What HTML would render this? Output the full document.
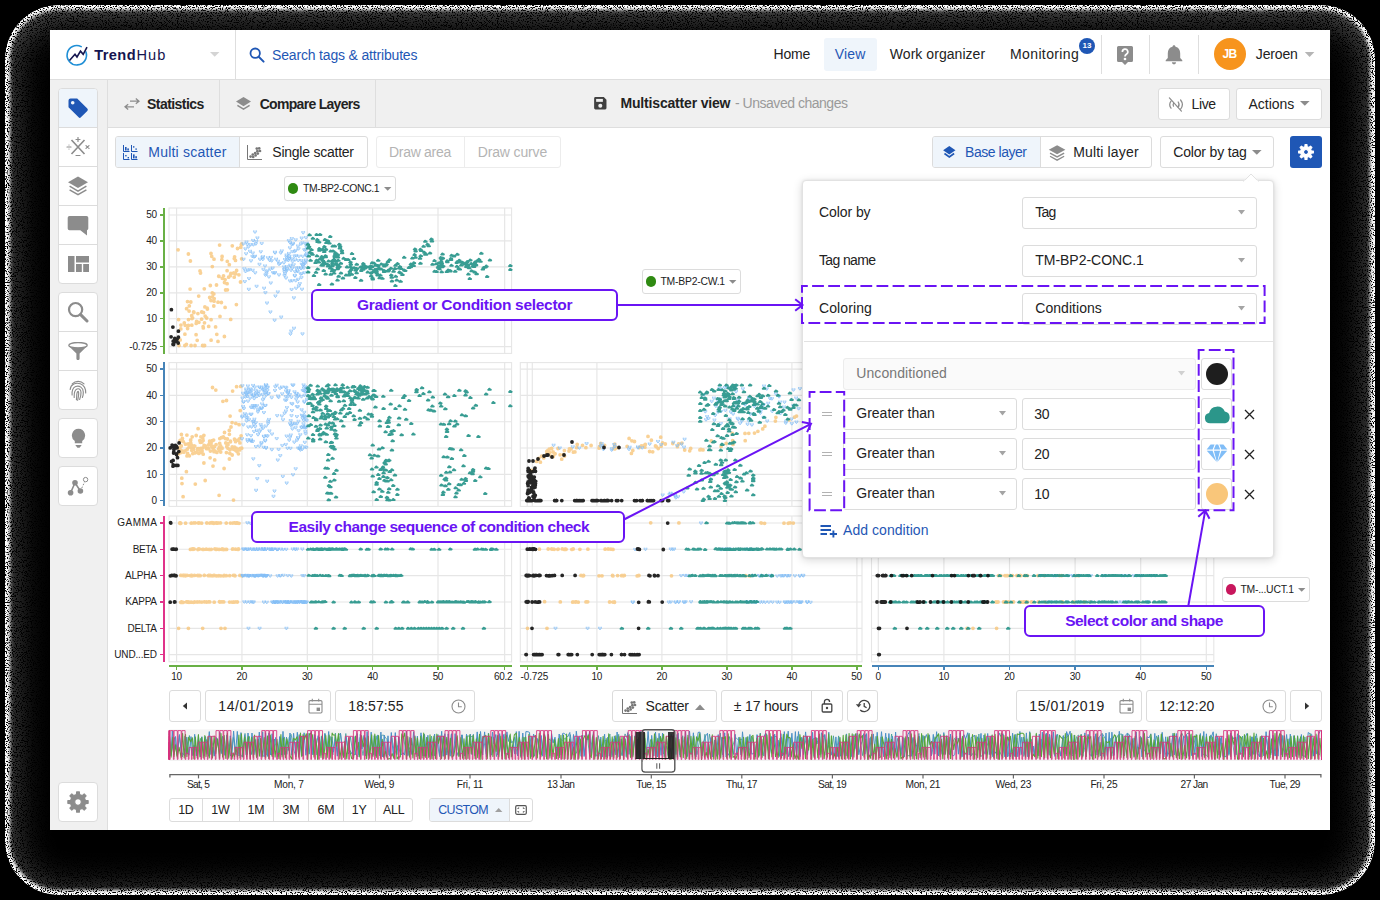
<!DOCTYPE html>
<html><head><meta charset="utf-8"><title>TrendHub</title>
<style>
html,body{margin:0;padding:0;background:#000;}
body{width:1380px;height:900px;overflow:hidden;position:relative;font-family:"Liberation Sans", sans-serif;}
div,span,svg{position:absolute;box-sizing:border-box;}
span{white-space:nowrap;line-height:20px;}
.b{background:#fff;border:1px solid #dcdcdc;border-radius:3px;}
</style></head>
<body>
<svg width="0" height="0" style="left:0;top:0"><defs>
<filter id="dith" x="0" y="0" width="100%" height="100%" color-interpolation-filters="sRGB">
<feTurbulence type="fractalNoise" baseFrequency="0.8" numOctaves="2" seed="7" result="n"/>
<feColorMatrix in="n" type="matrix" values="9 0 0 0 -3.3  9 0 0 0 -3.3  9 0 0 0 -3.3  0 0 0 0 1" result="g"/>
<feComposite in="SourceGraphic" in2="g" operator="arithmetic" k1="1" k2="0" k3="0" k4="0"/>
</filter></defs></svg>
<div style="left:5px;top:5px;width:1370px;height:890px;border-radius:54px;background:#000;overflow:hidden;filter:url(#dith);"><div style="left:0;top:0;width:1370px;height:890px;border-radius:54px;box-shadow:inset 0 0 3.5px 5px rgba(255,255,255,1), inset 0 5px 40px 2px rgba(255,255,255,.46);"></div></div>
<div style="left:50px;top:30px;width:1280px;height:800px;background:#fff;"></div>
<div style="left:50px;top:79px;width:1280px;height:1px;background:#dedede;"></div>
<svg style="left:64px;top:42px" width="28" height="26" viewBox="0 0 28 26">
<path d="M21.9 9.9 A9.7 9.7 0 1 1 17.2 4.6" fill="none" stroke="#1f8fd6" stroke-width="1.6" stroke-linecap="round"/>
<path d="M5.5 18.5 L11 12.3 L13 15 L16.5 9.2 L19.2 12.3 L23 5.1" fill="none" stroke="#15154f" stroke-width="1.6" stroke-linejoin="miter"/>
</svg>
<span style="left:94.30px;top:45.17px;font-size:14.6px;color:#15154f;font-weight:700;letter-spacing:0.391px;">Trend</span>
<span style="left:136.40px;top:45.17px;font-size:14.6px;color:#15154f;letter-spacing:1.109px;">Hub</span>
<svg style="left:210.2px;top:52.2px" width="10" height="5"><path d="M0 0 L9.4 0 L4.7 4.8 Z" fill="#d4d4d4"/></svg>
<div style="left:235px;top:30px;width:1px;height:49px;background:#dedede;"></div>
<svg style="left:248px;top:46px" width="18" height="18" viewBox="0 0 18 18"><circle cx="7.2" cy="7.2" r="4.7" fill="none" stroke="#1f57b5" stroke-width="1.8"/><path d="M10.7 10.7 L15.6 15.6" stroke="#1f57b5" stroke-width="2" stroke-linecap="round"/></svg>
<span style="left:272.00px;top:45.16px;font-size:14px;color:#1f57b5;letter-spacing:-0.171px;">Search tags &amp; attributes</span>
<span style="left:773.50px;top:44.16px;font-size:14px;color:#222;letter-spacing:-0.186px;">Home</span>
<div style="left:824px;top:38px;width:52.5px;height:32.5px;background:#eff5fb;border-radius:3px;"></div>
<span style="left:834.70px;top:44.16px;font-size:14px;color:#1f57b5;letter-spacing:0.202px;">View</span>
<span style="left:889.80px;top:44.16px;font-size:14px;color:#222;letter-spacing:0.048px;">Work organizer</span>
<span style="left:1010.00px;top:44.16px;font-size:14px;color:#222;letter-spacing:0.381px;">Monitoring</span>
<div style="left:1079px;top:37.5px;width:16px;height:16px;background:#1f57b5;border-radius:8px;"></div>
<span style="left:1082.60px;top:35.69px;font-size:8px;color:#fff;font-weight:700;letter-spacing:-0.106px;">13</span>
<div style="left:1101px;top:34.5px;width:1px;height:39px;background:#dedede;"></div>
<div style="left:1149px;top:34.5px;width:1px;height:39px;background:#dedede;"></div>
<div style="left:1198px;top:34.5px;width:1px;height:39px;background:#dedede;"></div>
<svg style="left:1116px;top:45px" width="18" height="21" viewBox="0 0 18 21"><path d="M2.5 1 H15.5 A1.5 1.5 0 0 1 17 2.5 V15.5 A1.5 1.5 0 0 1 15.5 17 H12 L9 20 L6 17 H2.5 A1.5 1.5 0 0 1 1 15.5 V2.5 A1.5 1.5 0 0 1 2.5 1 Z" fill="#8c8c8c"/>
<path d="M6.4 7 A2.7 2.7 0 1 1 10.4 9.2 C9.4 9.9 9 10.3 9 11.4" fill="none" stroke="#fff" stroke-width="1.7"/><circle cx="9" cy="14" r="1.35" fill="#fff"/></svg>
<svg style="left:1164px;top:44px" width="20" height="22" viewBox="0 0 20 22"><path d="M10 1.2 C10.9 1.2 11.5 1.8 11.5 2.7 C14.6 3.4 16.2 6 16.2 9.2 V14 L18.3 16.2 V17.2 H1.7 V16.2 L3.8 14 V9.2 C3.8 6 5.4 3.4 8.5 2.7 C8.5 1.8 9.1 1.2 10 1.2 Z" fill="#8c8c8c"/><path d="M7.9 18.3 H12.1 A2.1 2.1 0 0 1 7.9 18.3 Z" fill="#8c8c8c"/></svg>
<div style="left:1213.5px;top:38px;width:32px;height:32px;background:#f7941d;border-radius:16px;"></div>
<span style="left:1222.40px;top:44.44px;font-size:12px;color:#fff;font-weight:700;letter-spacing:-0.544px;">JB</span>
<span style="left:1255.80px;top:44.16px;font-size:14px;color:#222;letter-spacing:-0.163px;">Jeroen</span>
<svg style="left:1304px;top:52px" width="11" height="6"><path d="M0.8 0 L10.4 0 L5.6 5 Z" fill="#b5b5b5"/></svg>
<div style="left:50px;top:80px;width:57px;height:750px;background:#f0f0f0;"></div>
<div style="left:107px;top:80px;width:1px;height:750px;background:#dedede;"></div>
<div style="left:58px;top:88px;width:40px;height:196px;background:#fff;border:1px solid #dcdcdc;border-radius:4px;"></div>
<div style="left:59px;top:127px;width:38px;height:1px;background:#dcdcdc;"></div>
<div style="left:59px;top:166px;width:38px;height:1px;background:#dcdcdc;"></div>
<div style="left:59px;top:205px;width:38px;height:1px;background:#dcdcdc;"></div>
<div style="left:59px;top:244px;width:38px;height:1px;background:#dcdcdc;"></div>
<div style="left:58px;top:292px;width:40px;height:118px;background:#fff;border:1px solid #dcdcdc;border-radius:4px;"></div>
<div style="left:59px;top:331px;width:38px;height:1px;background:#dcdcdc;"></div>
<div style="left:59px;top:370px;width:38px;height:1px;background:#dcdcdc;"></div>
<div style="left:58px;top:418px;width:40px;height:40px;background:#fff;border:1px solid #dcdcdc;border-radius:4px;"></div>
<div style="left:58px;top:466px;width:40px;height:40px;background:#fff;border:1px solid #dcdcdc;border-radius:4px;"></div>
<div style="left:58px;top:782px;width:40px;height:40px;background:#fff;border:1px solid #dcdcdc;border-radius:4px;"></div>
<div style="left:59px;top:89px;width:38px;height:38px;background:#eff5fb;border-radius:3px 3px 0 0;"></div>
<svg style="left:67px;top:97px" width="22" height="22" viewBox="0 0 22 22"><path d="M1.5 3.5 A2 2 0 0 1 3.5 1.5 H10.2 L20.3 11.6 A1.6 1.6 0 0 1 20.3 13.9 L13.9 20.3 A1.6 1.6 0 0 1 11.6 20.3 L1.5 10.2 Z" fill="#1f57b5"/><circle cx="5.7" cy="5.7" r="1.8" fill="#eff5fb"/></svg>
<svg style="left:66px;top:137px" width="24" height="20" viewBox="0 0 24 20"><path d="M5.5 3 L18.5 17 M18.5 3 L5.5 17" stroke="#8c8c8c" stroke-width="1.6"/><path d="M12 0.5 V4.5 M10 2.5 H14 M10 18.5 H14 M1 10 H5 M3 8 v0.01 M3 12 v0.01 M20 8.6 L23 11.4 M23 8.6 L20 11.4" stroke="#8c8c8c" stroke-width="1.2" stroke-linecap="round"/></svg>
<svg style="left:67px;top:175px" width="22" height="22" viewBox="0 0 22 22"><path d="M11 1.5 L21 7.3 L11 13.1 L1 7.3 Z" fill="#8c8c8c"/><path d="M2.6 11.2 L11 16.1 L19.4 11.2 M2.6 14.8 L11 19.7 L19.4 14.8" fill="none" stroke="#8c8c8c" stroke-width="1.5"/></svg>
<svg style="left:67px;top:215px" width="22" height="21" viewBox="0 0 22 21"><path d="M2.5 1 H19.5 A1.8 1.8 0 0 1 21.3 2.8 V13.5 A1.8 1.8 0 0 1 20 15.2 V20.5 L13.3 15.3 H2.5 A1.8 1.8 0 0 1 0.7 13.5 V2.8 A1.8 1.8 0 0 1 2.5 1 Z" fill="#8c8c8c"/></svg>
<svg style="left:67.5px;top:256px" width="21" height="16" viewBox="0 0 21 16"><rect x="0" y="0" width="6.5" height="16" fill="#8c8c8c"/><rect x="8" y="0" width="13" height="6.5" fill="#8c8c8c"/><rect x="8" y="8" width="5.8" height="8" fill="#8c8c8c"/><rect x="15.2" y="8" width="5.8" height="8" fill="#8c8c8c"/></svg>
<svg style="left:67px;top:301px" width="22" height="22" viewBox="0 0 22 22"><circle cx="8.6" cy="8.6" r="6.6" fill="none" stroke="#8c8c8c" stroke-width="2.2"/><path d="M13.6 13.6 L20 20" stroke="#8c8c8c" stroke-width="3" stroke-linecap="round"/></svg>
<svg style="left:68px;top:342px" width="20" height="18" viewBox="0 0 20 18"><ellipse cx="10" cy="3.2" rx="9.2" ry="2.7" fill="none" stroke="#8c8c8c" stroke-width="1.3"/><path d="M1 4.2 C3 6.2 17 6.2 19 4.2 L11.6 11.5 V16.5 A1.6 1.6 0 0 1 8.4 16.5 V11.5 Z" fill="#8c8c8c"/></svg>
<svg style="left:69px;top:379.5px" width="18" height="21" viewBox="0 0 18 21"><g fill="none" stroke="#8c8c8c" stroke-width="1.15" stroke-linecap="round"><path d="M3.2 3.8 C6.5 0.6 11.8 0.6 15 3.9"/><path d="M1.2 9.5 C1.6 4.2 7 2.2 11.3 3.8 C15.3 5.4 16.8 9.2 16.7 13"/><path d="M3.1 15 C2.9 12.2 2.6 8.2 6.6 6.5 C10.5 5.1 14.2 7.8 14.3 12 C14.4 14.5 14 16 13.4 17.4"/><path d="M5.2 17.5 C5.2 14.3 4.6 10.4 8 9 C10.8 8.1 12 10.3 12 12.5 C12 15.3 11.7 17.3 10.6 19.4"/><path d="M7.4 19.8 C8 16.8 7.2 12.6 8.8 11.5 C10 11 9.7 14.5 9.4 16.5 C9.2 18 8.9 19.3 8.6 20.3"/></g></svg>
<svg style="left:70.5px;top:427.5px" width="15" height="21" viewBox="0 0 15 21"><path d="M7.5 0.8 A6.7 6.7 0 0 1 11.2 13 V15.2 H3.8 V13 A6.7 6.7 0 0 1 7.5 0.8 Z" fill="#8c8c8c"/><path d="M4.3 17 H10.7 L8.6 19.8 H6.4 Z" fill="#8c8c8c"/></svg>
<svg style="left:67px;top:476px" width="22" height="20" viewBox="0 0 22 20"><g stroke="#8c8c8c" fill="#8c8c8c"><path d="M3.6 16.7 L8 6.8 L13.4 15" fill="none" stroke-width="1.6"/><path d="M13.4 15 L17.6 6" fill="none" stroke-width="1" stroke-dasharray="1.6 1.6"/><circle cx="3.6" cy="16.7" r="2.8" stroke="none"/><circle cx="8" cy="6.8" r="2.8" stroke="none"/><circle cx="13.4" cy="15" r="2.8" stroke="none"/><circle cx="18.6" cy="3.6" r="2.2" fill="#fff" stroke-width="1"/></g></svg>
<svg style="left:66px;top:790px" width="24" height="24" viewBox="0 0 24 24"><path d="M10.44 4.56 L10.66 1.89 L13.34 1.89 L13.56 4.56 L16.16 5.64 L18.20 3.90 L20.10 5.80 L18.36 7.84 L19.44 10.44 L22.11 10.66 L22.11 13.34 L19.44 13.56 L18.36 16.16 L20.10 18.20 L18.20 20.10 L16.16 18.36 L13.56 19.44 L13.34 22.11 L10.66 22.11 L10.44 19.44 L7.84 18.36 L5.80 20.10 L3.90 18.20 L5.64 16.16 L4.56 13.56 L1.89 13.34 L1.89 10.66 L4.56 10.44 L5.64 7.84 L3.90 5.80 L5.80 3.90 L7.84 5.64 Z M8.70 12.00 a3.3 3.3 0 1 0 6.6 0 a3.3 3.3 0 1 0 -6.6 0 Z" fill="#8c8c8c" fill-rule="evenodd" stroke="#8c8c8c" stroke-width="1.2" stroke-linejoin="round"/></svg>
<div style="left:108px;top:80px;width:1222px;height:47px;background:#f0f0f0;"></div>
<div style="left:108px;top:127px;width:1222px;height:1px;background:#dedede;"></div>
<div style="left:219px;top:80px;width:1px;height:47px;background:#dedede;"></div>
<div style="left:375px;top:80px;width:1px;height:47px;background:#dedede;"></div>
<svg style="left:123.5px;top:98px" width="16" height="12" viewBox="0 0 16 12"><g fill="none" stroke="#8c8c8c" stroke-width="1.3"><path d="M6 3.2 H15 M11.8 0.6 L15 3.2 L11.8 5.8"/><path d="M10 8.8 H1 M4.2 6.2 L1 8.8 L4.2 11.4"/></g></svg>
<span style="left:147.00px;top:94.16px;font-size:14px;color:#222;font-weight:700;letter-spacing:-0.550px;">Statistics</span>
<svg style="left:234.5px;top:95.5px" width="17" height="17" viewBox="0 0 17 17"><path d="M8.5 1 L16 5.6 L8.5 10.2 L1 5.6 Z" fill="#8c8c8c"/><path d="M2.4 9.3 L8.5 13.1 L14.6 9.3" fill="none" stroke="#8c8c8c" stroke-width="1.5"/></svg>
<span style="left:259.70px;top:94.16px;font-size:14px;color:#222;font-weight:700;letter-spacing:-0.701px;">Compare Layers</span>
<svg style="left:593px;top:96.2px" width="14.6" height="14.6" viewBox="0 0 13 13"><path d="M1 2.2 A1.2 1.2 0 0 1 2.2 1 H9.6 L12 3.4 V10.8 A1.2 1.2 0 0 1 10.8 12 H2.2 A1.2 1.2 0 0 1 1 10.8 Z" fill="#404040"/><rect x="2.8" y="2.6" width="6" height="2.6" fill="#f0f0f0"/><circle cx="6.5" cy="8.6" r="1.8" fill="#f0f0f0"/></svg>
<span style="left:620.50px;top:93.46px;font-size:14px;color:#222;font-weight:700;letter-spacing:-0.177px;">Multiscatter view</span>
<span style="left:735.00px;top:93.46px;font-size:14px;color:#9a9a9a;letter-spacing:-0.478px;">- Unsaved changes</span>
<div style="left:1158px;top:88px;width:72px;height:32px;background:#fff;border:1px solid #dcdcdc;border-radius:3px;"></div>
<svg style="left:1167.6px;top:96.5px" width="16" height="15" viewBox="0 0 16 15"><g fill="none" stroke="#8c8c8c" stroke-width="1.25" stroke-linecap="round"><path d="M1.4 0.9 L13.4 14.1"/><path d="M3 4.2 C1.4 6.4 1.4 9 3 11.2"/><path d="M5.6 6.4 C5 7.3 5 8.4 5.5 9.2"/><path d="M10.2 5 C11.3 6.6 11.3 8.6 10.2 10.2"/><path d="M12.6 3 C14.8 5.8 14.8 9.4 12.6 12.2"/></g></svg>
<span style="left:1191.60px;top:94.46px;font-size:14px;color:#222;letter-spacing:-0.429px;">Live</span>
<div style="left:1236px;top:88px;width:86px;height:32px;background:#fff;border:1px solid #dcdcdc;border-radius:3px;"></div>
<span style="left:1248.50px;top:94.46px;font-size:14px;color:#222;letter-spacing:-0.020px;">Actions</span>
<svg style="left:1300.3px;top:101px" width="10" height="5"><path d="M0 0 L9.6 0 L4.8 4.8 Z" fill="#8c8c8c"/></svg>
<div style="left:115px;top:136px;width:252.5px;height:32px;background:#fff;border:1px solid #dcdcdc;border-radius:3px;"></div>
<div style="left:116px;top:137px;width:123px;height:30px;background:#eff5fb;border-radius:2px 0 0 2px;"></div>
<div style="left:239px;top:137px;width:1px;height:30px;background:#dcdcdc;"></div>
<svg style="left:123px;top:144.5px" width="15" height="15" viewBox="0 0 15 15"><g stroke="#1f57b5" fill="#1f57b5"><path d="M0.5 0 V6.5 H6.5 M8.5 0 V6.5 H14.5 M0.5 8 V14.5 H6.5 M8.5 8 V14.5 H14.5" fill="none" stroke-width="1"/><rect x="2" y="2" width="1.6" height="3.5" stroke="none"/><rect x="4.3" y="3.4" width="1.6" height="2.1" stroke="none"/><rect x="10" y="1.2" width="1.4" height="1.4" stroke="none"/><rect x="12.4" y="3.4" width="1.4" height="1.4" stroke="none"/><rect x="2.2" y="10" width="1.4" height="1.4" stroke="none"/><rect x="4.6" y="12" width="1.4" height="1.4" stroke="none"/><rect x="10" y="9.4" width="1.6" height="4" stroke="none"/><rect x="12.3" y="11.2" width="1.6" height="2.2" stroke="none"/></g></svg>
<span style="left:148.30px;top:141.96px;font-size:14px;color:#1f57b5;letter-spacing:0.211px;">Multi scatter</span>
<svg style="left:246.5px;top:144.5px" width="15" height="15" viewBox="0 0 15 15"><g fill="#777"><path d="M0.5 0 V14.5 H15" fill="none" stroke="#777" stroke-width="1"/><circle cx="3.6" cy="11.6" r="1.35"/><circle cx="5.8" cy="9.6" r="1.35"/><circle cx="6.2" cy="12" r="1.35"/><circle cx="8.2" cy="8" r="1.35"/><circle cx="8.6" cy="10.4" r="1.35"/><circle cx="10.4" cy="6.2" r="1.35"/><circle cx="10.8" cy="8.6" r="1.35"/><circle cx="12.2" cy="3.4" r="1.35"/><circle cx="13" cy="6" r="1.35"/><circle cx="9.8" cy="3.6" r="1.35"/></g></svg>
<span style="left:272.30px;top:141.96px;font-size:14px;color:#222;letter-spacing:-0.241px;">Single scatter</span>
<div style="left:376px;top:136px;width:184.5px;height:32px;background:#fff;border:1px solid #ececec;border-radius:3px;"></div>
<div style="left:464px;top:137px;width:1px;height:30px;background:#ececec;"></div>
<span style="left:389.00px;top:141.96px;font-size:14px;color:#b4b4b4;letter-spacing:-0.287px;">Draw area</span>
<span style="left:477.70px;top:141.96px;font-size:14px;color:#b4b4b4;letter-spacing:-0.144px;">Draw curve</span>
<div style="left:932px;top:136px;width:220px;height:32px;background:#fff;border:1px solid #dcdcdc;border-radius:3px;"></div>
<div style="left:933px;top:137px;width:107px;height:30px;background:#eff5fb;border-radius:2px 0 0 2px;"></div>
<div style="left:1040px;top:137px;width:1px;height:30px;background:#dcdcdc;"></div>
<svg style="left:942.3px;top:145.3px" width="14.6" height="14.6" viewBox="0 0 13 13"><path d="M6.5 0.8 L12 4.6 L6.5 8.4 L1 4.6 Z" fill="#1f57b5"/><path d="M2.2 7.6 L6.5 10.6 L10.8 7.6" fill="none" stroke="#1f57b5" stroke-width="1.5"/></svg>
<span style="left:965.00px;top:141.96px;font-size:14px;color:#1f57b5;letter-spacing:-0.462px;">Base layer</span>
<svg style="left:1047.9px;top:143.7px" width="18.2" height="18.2" viewBox="0 0 16 16"><path d="M8 1 L15.3 5 L8 9 L0.7 5 Z" fill="#8c8c8c"/><path d="M1.8 8 L8 11.4 L14.2 8 M1.8 10.8 L8 14.2 L14.2 10.8" fill="none" stroke="#8c8c8c" stroke-width="1.2"/></svg>
<span style="left:1073.20px;top:141.96px;font-size:14px;color:#222;letter-spacing:0.160px;">Multi layer</span>
<div style="left:1160px;top:136px;width:114px;height:32px;background:#fff;border:1px solid #dcdcdc;border-radius:3px;"></div>
<span style="left:1173.30px;top:141.96px;font-size:14px;color:#222;letter-spacing:-0.180px;">Color by tag</span>
<svg style="left:1251.6px;top:149.6px" width="10" height="5"><path d="M0 0 L9.6 0 L4.8 4.8 Z" fill="#8c8c8c"/></svg>
<div style="left:1290px;top:136px;width:32px;height:32px;background:#1f57b5;border-radius:3px;"></div>
<svg style="left:1297px;top:143px" width="18" height="18" viewBox="0 0 18 18"><path d="M7.89 3.71 L8.03 1.66 L9.97 1.66 L10.11 3.71 L11.96 4.48 L13.50 3.12 L14.88 4.50 L13.52 6.04 L14.29 7.89 L16.34 8.03 L16.34 9.97 L14.29 10.11 L13.52 11.96 L14.88 13.50 L13.50 14.88 L11.96 13.52 L10.11 14.29 L9.97 16.34 L8.03 16.34 L7.89 14.29 L6.04 13.52 L4.50 14.88 L3.12 13.50 L4.48 11.96 L3.71 10.11 L1.66 9.97 L1.66 8.03 L3.71 7.89 L4.48 6.04 L3.12 4.50 L4.50 3.12 L6.04 4.48 Z M6.50 9.00 a2.5 2.5 0 1 0 5 0 a2.5 2.5 0 1 0 -5 0 Z" fill="#fff" fill-rule="evenodd" stroke="#fff" stroke-width="1.2" stroke-linejoin="round"/></svg>
<svg style="left:0;top:0" width="1380" height="900" viewBox="0 0 1380 900"><rect x="169" y="208" width="342.6" height="145.4" fill="#fff" stroke="#e6e6e6" stroke-width="1.1"/><path d="M176.6 208V353.4M241.95 208V353.4M307.3 208V353.4M372.65 208V353.4M438 208V353.4M504.657 208V353.4M169 215H511.6M169 240.94H511.6M169 266.88H511.6M169 292.82H511.6M169 318.76H511.6M169 346.581H511.6" fill="none" stroke="#e6e6e6" stroke-width="1.15"/><path d="M178.1 249.8h0M227.3 261.3h0M234.6 256.8h0M225.1 307.4h0M230.7 319.4h0M233.8 273.0h0M229.3 264.7h0M211.1 340.2h0M188.4 254.0h0M187.5 301.6h0M212.4 296.8h0M223.5 275.9h0M241.6 258.8h0M227.4 289.8h0M208.7 326.4h0M218.0 302.2h0M238.9 274.8h0M227.1 283.7h0M188.5 319.6h0M188.4 325.5h0M212.3 292.9h0M209.7 297.5h0M216.8 334.3h0M210.3 285.5h0M204.6 345.5h0M234.2 277.2h0M189.3 305.9h0M211.1 319.7h0M198.7 296.1h0M207.4 309.1h0M186.6 308.7h0M196.6 321.5h0M222.3 278.3h0M205.2 316.2h0M211.0 300.6h0M201.7 312.0h0M180.2 339.9h0M206.7 318.0h0M225.1 279.6h0M200.0 271.0h0M218.0 341.4h0M216.5 285.0h0M203.3 327.9h0M224.4 336.5h0M197.2 340.3h0M190.1 289.1h0M230.3 275.7h0M185.2 325.3h0M228.6 277.2h0M184.3 323.0h0M191.1 345.5h0M196.1 334.7h0M211.7 256.3h0M220.0 316.4h0M187.6 328.5h0M215.6 326.9h0M204.5 322.8h0M200.5 273.0h0M179.0 345.5h0M180.8 328.9h0M214.1 301.2h0M184.9 334.2h0M189.1 311.1h0M191.8 325.2h0M192.0 318.6h0M225.6 290.0h0M241.6 244.0h0M235.6 273.8h0M237.5 248.5h0M232.3 245.8h0M190.4 261.0h0M213.8 293.9h0M240.7 247.3h0M201.6 319.2h0M219.6 245.1h0M184.9 345.5h0M236.4 304.6h0M203.5 312.6h0M193.9 312.2h0M214.2 298.6h0M202.6 345.5h0M218.7 276.2h0M211.0 253.4h0M235.5 260.4h0M190.8 302.0h0M191.7 315.7h0M193.9 312.5h0M213.8 306.0h0M214.0 259.2h0M198.9 322.3h0M196.2 323.4h0M203.1 326.7h0M224.5 282.5h0M241.3 244.7h0M212.3 266.6h0M236.6 270.5h0M204.9 306.9h0M195.0 345.5h0M204.3 288.8h0M219.0 276.4h0M192.6 317.8h0M178.8 344.8h0M221.4 302.5h0M197.9 313.6h0M193.6 312.0h0M207.2 308.1h0M227.1 270.7h0M222.1 256.5h0M186.4 344.3h0M178.6 319.6h0M240.5 282.0h0M230.9 273.4h0M234.3 258.6h0M180.9 325.1h0M221.8 259.6h0" fill="none" stroke="#f8c67a" stroke-opacity=".8" stroke-width="3.8" stroke-linecap="round"/><path d="M244.7 252.2v1.5l1.4 1.6l1.4-1.6v-1.5M297.1 247.2v1.5l1.4 1.6l1.4-1.6v-1.5M242.0 242.3v1.5l1.4 1.6l1.4-1.6v-1.5M285.3 269.2v1.5l1.4 1.6l1.4-1.6v-1.5M258.1 262.8v1.5l1.4 1.6l1.4-1.6v-1.5M301.8 231.1v1.5l1.4 1.6l1.4-1.6v-1.5M242.9 267.2v1.5l1.4 1.6l1.4-1.6v-1.5M302.9 248.3v1.5l1.4 1.6l1.4-1.6v-1.5M300.0 259.0v1.5l1.4 1.6l1.4-1.6v-1.5M254.4 242.3v1.5l1.4 1.6l1.4-1.6v-1.5M276.6 259.8v1.5l1.4 1.6l1.4-1.6v-1.5M242.2 257.7v1.5l1.4 1.6l1.4-1.6v-1.5M279.8 315.6v1.5l1.4 1.6l1.4-1.6v-1.5M294.9 266.5v1.5l1.4 1.6l1.4-1.6v-1.5M247.1 245.3v1.5l1.4 1.6l1.4-1.6v-1.5M296.4 269.8v1.5l1.4 1.6l1.4-1.6v-1.5M299.5 242.4v1.5l1.4 1.6l1.4-1.6v-1.5M293.2 254.5v1.5l1.4 1.6l1.4-1.6v-1.5M298.4 282.1v1.5l1.4 1.6l1.4-1.6v-1.5M265.0 270.2v1.5l1.4 1.6l1.4-1.6v-1.5M299.3 272.4v1.5l1.4 1.6l1.4-1.6v-1.5M271.6 271.2v1.5l1.4 1.6l1.4-1.6v-1.5M273.7 271.2v1.5l1.4 1.6l1.4-1.6v-1.5M302.4 262.4v1.5l1.4 1.6l1.4-1.6v-1.5M282.5 261.2v1.5l1.4 1.6l1.4-1.6v-1.5M303.8 261.6v1.5l1.4 1.6l1.4-1.6v-1.5M295.5 269.3v1.5l1.4 1.6l1.4-1.6v-1.5M282.8 268.0v1.5l1.4 1.6l1.4-1.6v-1.5M245.1 240.5v1.5l1.4 1.6l1.4-1.6v-1.5M297.5 254.7v1.5l1.4 1.6l1.4-1.6v-1.5M291.2 260.0v1.5l1.4 1.6l1.4-1.6v-1.5M294.3 238.2v1.5l1.4 1.6l1.4-1.6v-1.5M253.8 271.2v1.5l1.4 1.6l1.4-1.6v-1.5M288.5 240.8v1.5l1.4 1.6l1.4-1.6v-1.5M287.3 255.3v1.5l1.4 1.6l1.4-1.6v-1.5M266.0 269.2v1.5l1.4 1.6l1.4-1.6v-1.5M252.6 255.3v1.5l1.4 1.6l1.4-1.6v-1.5M290.8 279.2v1.5l1.4 1.6l1.4-1.6v-1.5M268.9 267.6v1.5l1.4 1.6l1.4-1.6v-1.5M251.4 251.5v1.5l1.4 1.6l1.4-1.6v-1.5M267.5 275.3v1.5l1.4 1.6l1.4-1.6v-1.5M261.7 255.2v1.5l1.4 1.6l1.4-1.6v-1.5M294.2 248.9v1.5l1.4 1.6l1.4-1.6v-1.5M291.7 242.4v1.5l1.4 1.6l1.4-1.6v-1.5M285.8 267.2v1.5l1.4 1.6l1.4-1.6v-1.5M296.6 244.5v1.5l1.4 1.6l1.4-1.6v-1.5M285.4 267.7v1.5l1.4 1.6l1.4-1.6v-1.5M261.4 257.8v1.5l1.4 1.6l1.4-1.6v-1.5M263.6 264.4v1.5l1.4 1.6l1.4-1.6v-1.5M290.2 287.9v1.5l1.4 1.6l1.4-1.6v-1.5M278.8 261.9v1.5l1.4 1.6l1.4-1.6v-1.5M305.7 241.8v1.5l1.4 1.6l1.4-1.6v-1.5M293.7 270.2v1.5l1.4 1.6l1.4-1.6v-1.5M283.1 270.1v1.5l1.4 1.6l1.4-1.6v-1.5M299.9 267.0v1.5l1.4 1.6l1.4-1.6v-1.5M305.1 253.5v1.5l1.4 1.6l1.4-1.6v-1.5M290.4 237.0v1.5l1.4 1.6l1.4-1.6v-1.5M269.0 310.4v1.5l1.4 1.6l1.4-1.6v-1.5M291.0 250.0v1.5l1.4 1.6l1.4-1.6v-1.5M248.2 268.1v1.5l1.4 1.6l1.4-1.6v-1.5M289.3 264.8v1.5l1.4 1.6l1.4-1.6v-1.5M277.6 262.7v1.5l1.4 1.6l1.4-1.6v-1.5M293.5 274.4v1.5l1.4 1.6l1.4-1.6v-1.5M283.6 272.0v1.5l1.4 1.6l1.4-1.6v-1.5M288.6 279.4v1.5l1.4 1.6l1.4-1.6v-1.5M293.3 273.9v1.5l1.4 1.6l1.4-1.6v-1.5M294.9 254.2v1.5l1.4 1.6l1.4-1.6v-1.5M290.5 257.2v1.5l1.4 1.6l1.4-1.6v-1.5M253.7 254.8v1.5l1.4 1.6l1.4-1.6v-1.5M304.6 253.5v1.5l1.4 1.6l1.4-1.6v-1.5M251.3 268.7v1.5l1.4 1.6l1.4-1.6v-1.5M255.2 284.8v1.5l1.4 1.6l1.4-1.6v-1.5M305.5 251.6v1.5l1.4 1.6l1.4-1.6v-1.5M292.5 296.3v1.5l1.4 1.6l1.4-1.6v-1.5M262.7 286.7v1.5l1.4 1.6l1.4-1.6v-1.5M261.0 255.8v1.5l1.4 1.6l1.4-1.6v-1.5M288.0 257.1v1.5l1.4 1.6l1.4-1.6v-1.5M287.0 258.8v1.5l1.4 1.6l1.4-1.6v-1.5M285.1 253.6v1.5l1.4 1.6l1.4-1.6v-1.5M264.0 273.5v1.5l1.4 1.6l1.4-1.6v-1.5M277.6 273.3v1.5l1.4 1.6l1.4-1.6v-1.5M301.5 263.2v1.5l1.4 1.6l1.4-1.6v-1.5M273.7 251.3v1.5l1.4 1.6l1.4-1.6v-1.5M296.8 277.8v1.5l1.4 1.6l1.4-1.6v-1.5M302.2 260.6v1.5l1.4 1.6l1.4-1.6v-1.5M270.3 259.2v1.5l1.4 1.6l1.4-1.6v-1.5M289.1 332.4v1.5l1.4 1.6l1.4-1.6v-1.5M300.3 236.6v1.5l1.4 1.6l1.4-1.6v-1.5M266.5 256.3v1.5l1.4 1.6l1.4-1.6v-1.5M265.0 272.3v1.5l1.4 1.6l1.4-1.6v-1.5M262.0 267.9v1.5l1.4 1.6l1.4-1.6v-1.5M274.7 257.7v1.5l1.4 1.6l1.4-1.6v-1.5M246.5 268.6v1.5l1.4 1.6l1.4-1.6v-1.5M301.1 332.3v1.5l1.4 1.6l1.4-1.6v-1.5M297.4 284.4v1.5l1.4 1.6l1.4-1.6v-1.5M285.0 255.4v1.5l1.4 1.6l1.4-1.6v-1.5M285.5 258.3v1.5l1.4 1.6l1.4-1.6v-1.5M273.4 250.7v1.5l1.4 1.6l1.4-1.6v-1.5M244.0 247.3v1.5l1.4 1.6l1.4-1.6v-1.5M283.1 267.7v1.5l1.4 1.6l1.4-1.6v-1.5M282.7 265.4v1.5l1.4 1.6l1.4-1.6v-1.5M265.6 301.5v1.5l1.4 1.6l1.4-1.6v-1.5M271.3 266.6v1.5l1.4 1.6l1.4-1.6v-1.5M248.6 249.8v1.5l1.4 1.6l1.4-1.6v-1.5M301.4 254.7v1.5l1.4 1.6l1.4-1.6v-1.5M292.6 326.7v1.5l1.4 1.6l1.4-1.6v-1.5M288.8 263.7v1.5l1.4 1.6l1.4-1.6v-1.5M301.1 241.2v1.5l1.4 1.6l1.4-1.6v-1.5M283.5 258.1v1.5l1.4 1.6l1.4-1.6v-1.5M259.4 250.2v1.5l1.4 1.6l1.4-1.6v-1.5M300.3 262.7v1.5l1.4 1.6l1.4-1.6v-1.5M293.2 250.0v1.5l1.4 1.6l1.4-1.6v-1.5M284.6 276.4v1.5l1.4 1.6l1.4-1.6v-1.5M251.0 254.9v1.5l1.4 1.6l1.4-1.6v-1.5M260.3 241.9v1.5l1.4 1.6l1.4-1.6v-1.5M304.3 258.6v1.5l1.4 1.6l1.4-1.6v-1.5M301.6 264.6v1.5l1.4 1.6l1.4-1.6v-1.5M300.0 276.0v1.5l1.4 1.6l1.4-1.6v-1.5M245.9 242.8v1.5l1.4 1.6l1.4-1.6v-1.5M249.2 243.1v1.5l1.4 1.6l1.4-1.6v-1.5M294.7 286.7v1.5l1.4 1.6l1.4-1.6v-1.5M244.1 269.9v1.5l1.4 1.6l1.4-1.6v-1.5M283.2 274.0v1.5l1.4 1.6l1.4-1.6v-1.5M293.8 258.2v1.5l1.4 1.6l1.4-1.6v-1.5M268.3 258.8v1.5l1.4 1.6l1.4-1.6v-1.5M280.4 249.4v1.5l1.4 1.6l1.4-1.6v-1.5M285.2 265.1v1.5l1.4 1.6l1.4-1.6v-1.5M302.5 266.5v1.5l1.4 1.6l1.4-1.6v-1.5M300.4 272.1v1.5l1.4 1.6l1.4-1.6v-1.5M305.3 254.3v1.5l1.4 1.6l1.4-1.6v-1.5M287.5 251.9v1.5l1.4 1.6l1.4-1.6v-1.5M289.6 268.7v1.5l1.4 1.6l1.4-1.6v-1.5M274.0 294.5v1.5l1.4 1.6l1.4-1.6v-1.5M287.4 239.1v1.5l1.4 1.6l1.4-1.6v-1.5M252.0 243.2v1.5l1.4 1.6l1.4-1.6v-1.5M273.2 318.7v1.5l1.4 1.6l1.4-1.6v-1.5M243.4 280.0v1.5l1.4 1.6l1.4-1.6v-1.5M269.4 281.4v1.5l1.4 1.6l1.4-1.6v-1.5M299.5 266.5v1.5l1.4 1.6l1.4-1.6v-1.5M269.5 255.9v1.5l1.4 1.6l1.4-1.6v-1.5M279.4 251.3v1.5l1.4 1.6l1.4-1.6v-1.5M292.3 263.2v1.5l1.4 1.6l1.4-1.6v-1.5M287.9 256.8v1.5l1.4 1.6l1.4-1.6v-1.5M300.6 287.7v1.5l1.4 1.6l1.4-1.6v-1.5M304.5 236.1v1.5l1.4 1.6l1.4-1.6v-1.5M272.9 271.3v1.5l1.4 1.6l1.4-1.6v-1.5M304.3 247.9v1.5l1.4 1.6l1.4-1.6v-1.5M289.8 329.6v1.5l1.4 1.6l1.4-1.6v-1.5M297.0 266.3v1.5l1.4 1.6l1.4-1.6v-1.5M254.9 239.9v1.5l1.4 1.6l1.4-1.6v-1.5M294.3 279.1v1.5l1.4 1.6l1.4-1.6v-1.5M291.3 241.8v1.5l1.4 1.6l1.4-1.6v-1.5M303.0 271.1v1.5l1.4 1.6l1.4-1.6v-1.5M249.6 259.3v1.5l1.4 1.6l1.4-1.6v-1.5M247.6 277.0v1.5l1.4 1.6l1.4-1.6v-1.5M258.6 257.7v1.5l1.4 1.6l1.4-1.6v-1.5M296.9 258.9v1.5l1.4 1.6l1.4-1.6v-1.5M304.2 242.4v1.5l1.4 1.6l1.4-1.6v-1.5M288.5 246.3v1.5l1.4 1.6l1.4-1.6v-1.5M276.4 290.4v1.5l1.4 1.6l1.4-1.6v-1.5M305.1 245.3v1.5l1.4 1.6l1.4-1.6v-1.5M288.1 254.7v1.5l1.4 1.6l1.4-1.6v-1.5M256.0 236.4v1.5l1.4 1.6l1.4-1.6v-1.5M264.0 291.1v1.5l1.4 1.6l1.4-1.6v-1.5M290.8 266.8v1.5l1.4 1.6l1.4-1.6v-1.5M290.3 243.0v1.5l1.4 1.6l1.4-1.6v-1.5M247.4 287.8v1.5l1.4 1.6l1.4-1.6v-1.5M304.8 259.3v1.5l1.4 1.6l1.4-1.6v-1.5M251.7 238.9v1.5l1.4 1.6l1.4-1.6v-1.5M253.6 230.4v1.5l1.4 1.6l1.4-1.6v-1.5" fill="#84bff7" fill-opacity=".4" stroke="#84bff7" stroke-opacity=".8" stroke-width=".9" stroke-linejoin="round"/><path d="M426.6 255.8h-2.7a.9 .9 0 0 1-.18-1.76a1.45 1.45 0 0 1 2.75-.4a1.08 1.08 0 0 1 .13 2.16zM443.0 273.3h-2.7a.9 .9 0 0 1-.18-1.76a1.45 1.45 0 0 1 2.75-.4a1.08 1.08 0 0 1 .13 2.16zM452.9 256.7h-2.7a.9 .9 0 0 1-.18-1.76a1.45 1.45 0 0 1 2.75-.4a1.08 1.08 0 0 1 .13 2.16zM353.3 255.1h-2.7a.9 .9 0 0 1-.18-1.76a1.45 1.45 0 0 1 2.75-.4a1.08 1.08 0 0 1 .13 2.16zM337.5 262.7h-2.7a.9 .9 0 0 1-.18-1.76a1.45 1.45 0 0 1 2.75-.4a1.08 1.08 0 0 1 .13 2.16zM325.1 263.1h-2.7a.9 .9 0 0 1-.18-1.76a1.45 1.45 0 0 1 2.75-.4a1.08 1.08 0 0 1 .13 2.16zM313.8 255.8h-2.7a.9 .9 0 0 1-.18-1.76a1.45 1.45 0 0 1 2.75-.4a1.08 1.08 0 0 1 .13 2.16zM322.0 251.0h-2.7a.9 .9 0 0 1-.18-1.76a1.45 1.45 0 0 1 2.75-.4a1.08 1.08 0 0 1 .13 2.16zM369.1 273.6h-2.7a.9 .9 0 0 1-.18-1.76a1.45 1.45 0 0 1 2.75-.4a1.08 1.08 0 0 1 .13 2.16zM358.0 265.7h-2.7a.9 .9 0 0 1-.18-1.76a1.45 1.45 0 0 1 2.75-.4a1.08 1.08 0 0 1 .13 2.16zM464.1 264.2h-2.7a.9 .9 0 0 1-.18-1.76a1.45 1.45 0 0 1 2.75-.4a1.08 1.08 0 0 1 .13 2.16zM363.0 271.1h-2.7a.9 .9 0 0 1-.18-1.76a1.45 1.45 0 0 1 2.75-.4a1.08 1.08 0 0 1 .13 2.16zM375.7 273.1h-2.7a.9 .9 0 0 1-.18-1.76a1.45 1.45 0 0 1 2.75-.4a1.08 1.08 0 0 1 .13 2.16zM326.8 257.2h-2.7a.9 .9 0 0 1-.18-1.76a1.45 1.45 0 0 1 2.75-.4a1.08 1.08 0 0 1 .13 2.16zM357.4 269.9h-2.7a.9 .9 0 0 1-.18-1.76a1.45 1.45 0 0 1 2.75-.4a1.08 1.08 0 0 1 .13 2.16zM333.4 272.2h-2.7a.9 .9 0 0 1-.18-1.76a1.45 1.45 0 0 1 2.75-.4a1.08 1.08 0 0 1 .13 2.16zM435.8 262.1h-2.7a.9 .9 0 0 1-.18-1.76a1.45 1.45 0 0 1 2.75-.4a1.08 1.08 0 0 1 .13 2.16zM377.4 266.4h-2.7a.9 .9 0 0 1-.18-1.76a1.45 1.45 0 0 1 2.75-.4a1.08 1.08 0 0 1 .13 2.16zM374.9 272.8h-2.7a.9 .9 0 0 1-.18-1.76a1.45 1.45 0 0 1 2.75-.4a1.08 1.08 0 0 1 .13 2.16zM379.5 267.1h-2.7a.9 .9 0 0 1-.18-1.76a1.45 1.45 0 0 1 2.75-.4a1.08 1.08 0 0 1 .13 2.16zM362.3 281.7h-2.7a.9 .9 0 0 1-.18-1.76a1.45 1.45 0 0 1 2.75-.4a1.08 1.08 0 0 1 .13 2.16zM469.3 266.6h-2.7a.9 .9 0 0 1-.18-1.76a1.45 1.45 0 0 1 2.75-.4a1.08 1.08 0 0 1 .13 2.16zM327.6 244.0h-2.7a.9 .9 0 0 1-.18-1.76a1.45 1.45 0 0 1 2.75-.4a1.08 1.08 0 0 1 .13 2.16zM311.3 253.7h-2.7a.9 .9 0 0 1-.18-1.76a1.45 1.45 0 0 1 2.75-.4a1.08 1.08 0 0 1 .13 2.16zM320.6 250.1h-2.7a.9 .9 0 0 1-.18-1.76a1.45 1.45 0 0 1 2.75-.4a1.08 1.08 0 0 1 .13 2.16zM402.4 269.9h-2.7a.9 .9 0 0 1-.18-1.76a1.45 1.45 0 0 1 2.75-.4a1.08 1.08 0 0 1 .13 2.16zM459.9 270.1h-2.7a.9 .9 0 0 1-.18-1.76a1.45 1.45 0 0 1 2.75-.4a1.08 1.08 0 0 1 .13 2.16zM325.6 248.0h-2.7a.9 .9 0 0 1-.18-1.76a1.45 1.45 0 0 1 2.75-.4a1.08 1.08 0 0 1 .13 2.16zM462.0 263.4h-2.7a.9 .9 0 0 1-.18-1.76a1.45 1.45 0 0 1 2.75-.4a1.08 1.08 0 0 1 .13 2.16zM487.7 267.6h-2.7a.9 .9 0 0 1-.18-1.76a1.45 1.45 0 0 1 2.75-.4a1.08 1.08 0 0 1 .13 2.16zM336.5 255.1h-2.7a.9 .9 0 0 1-.18-1.76a1.45 1.45 0 0 1 2.75-.4a1.08 1.08 0 0 1 .13 2.16zM398.1 281.6h-2.7a.9 .9 0 0 1-.18-1.76a1.45 1.45 0 0 1 2.75-.4a1.08 1.08 0 0 1 .13 2.16zM442.6 264.2h-2.7a.9 .9 0 0 1-.18-1.76a1.45 1.45 0 0 1 2.75-.4a1.08 1.08 0 0 1 .13 2.16zM412.2 265.5h-2.7a.9 .9 0 0 1-.18-1.76a1.45 1.45 0 0 1 2.75-.4a1.08 1.08 0 0 1 .13 2.16zM413.7 259.5h-2.7a.9 .9 0 0 1-.18-1.76a1.45 1.45 0 0 1 2.75-.4a1.08 1.08 0 0 1 .13 2.16zM335.2 271.7h-2.7a.9 .9 0 0 1-.18-1.76a1.45 1.45 0 0 1 2.75-.4a1.08 1.08 0 0 1 .13 2.16zM469.7 275.6h-2.7a.9 .9 0 0 1-.18-1.76a1.45 1.45 0 0 1 2.75-.4a1.08 1.08 0 0 1 .13 2.16zM451.7 272.6h-2.7a.9 .9 0 0 1-.18-1.76a1.45 1.45 0 0 1 2.75-.4a1.08 1.08 0 0 1 .13 2.16zM373.4 268.1h-2.7a.9 .9 0 0 1-.18-1.76a1.45 1.45 0 0 1 2.75-.4a1.08 1.08 0 0 1 .13 2.16zM376.8 266.7h-2.7a.9 .9 0 0 1-.18-1.76a1.45 1.45 0 0 1 2.75-.4a1.08 1.08 0 0 1 .13 2.16zM476.2 264.9h-2.7a.9 .9 0 0 1-.18-1.76a1.45 1.45 0 0 1 2.75-.4a1.08 1.08 0 0 1 .13 2.16zM312.8 251.1h-2.7a.9 .9 0 0 1-.18-1.76a1.45 1.45 0 0 1 2.75-.4a1.08 1.08 0 0 1 .13 2.16zM405.5 258.8h-2.7a.9 .9 0 0 1-.18-1.76a1.45 1.45 0 0 1 2.75-.4a1.08 1.08 0 0 1 .13 2.16zM351.9 268.3h-2.7a.9 .9 0 0 1-.18-1.76a1.45 1.45 0 0 1 2.75-.4a1.08 1.08 0 0 1 .13 2.16zM439.3 268.8h-2.7a.9 .9 0 0 1-.18-1.76a1.45 1.45 0 0 1 2.75-.4a1.08 1.08 0 0 1 .13 2.16zM474.0 267.5h-2.7a.9 .9 0 0 1-.18-1.76a1.45 1.45 0 0 1 2.75-.4a1.08 1.08 0 0 1 .13 2.16zM339.6 261.8h-2.7a.9 .9 0 0 1-.18-1.76a1.45 1.45 0 0 1 2.75-.4a1.08 1.08 0 0 1 .13 2.16zM463.8 263.7h-2.7a.9 .9 0 0 1-.18-1.76a1.45 1.45 0 0 1 2.75-.4a1.08 1.08 0 0 1 .13 2.16zM444.1 259.5h-2.7a.9 .9 0 0 1-.18-1.76a1.45 1.45 0 0 1 2.75-.4a1.08 1.08 0 0 1 .13 2.16zM442.8 265.9h-2.7a.9 .9 0 0 1-.18-1.76a1.45 1.45 0 0 1 2.75-.4a1.08 1.08 0 0 1 .13 2.16zM452.8 266.8h-2.7a.9 .9 0 0 1-.18-1.76a1.45 1.45 0 0 1 2.75-.4a1.08 1.08 0 0 1 .13 2.16zM347.4 276.6h-2.7a.9 .9 0 0 1-.18-1.76a1.45 1.45 0 0 1 2.75-.4a1.08 1.08 0 0 1 .13 2.16zM396.7 287.1h-2.7a.9 .9 0 0 1-.18-1.76a1.45 1.45 0 0 1 2.75-.4a1.08 1.08 0 0 1 .13 2.16zM310.1 257.6h-2.7a.9 .9 0 0 1-.18-1.76a1.45 1.45 0 0 1 2.75-.4a1.08 1.08 0 0 1 .13 2.16zM412.0 268.2h-2.7a.9 .9 0 0 1-.18-1.76a1.45 1.45 0 0 1 2.75-.4a1.08 1.08 0 0 1 .13 2.16zM320.1 263.6h-2.7a.9 .9 0 0 1-.18-1.76a1.45 1.45 0 0 1 2.75-.4a1.08 1.08 0 0 1 .13 2.16zM312.8 254.5h-2.7a.9 .9 0 0 1-.18-1.76a1.45 1.45 0 0 1 2.75-.4a1.08 1.08 0 0 1 .13 2.16zM348.6 268.6h-2.7a.9 .9 0 0 1-.18-1.76a1.45 1.45 0 0 1 2.75-.4a1.08 1.08 0 0 1 .13 2.16zM364.4 270.7h-2.7a.9 .9 0 0 1-.18-1.76a1.45 1.45 0 0 1 2.75-.4a1.08 1.08 0 0 1 .13 2.16zM309.5 268.9h-2.7a.9 .9 0 0 1-.18-1.76a1.45 1.45 0 0 1 2.75-.4a1.08 1.08 0 0 1 .13 2.16zM329.3 265.9h-2.7a.9 .9 0 0 1-.18-1.76a1.45 1.45 0 0 1 2.75-.4a1.08 1.08 0 0 1 .13 2.16zM325.5 253.0h-2.7a.9 .9 0 0 1-.18-1.76a1.45 1.45 0 0 1 2.75-.4a1.08 1.08 0 0 1 .13 2.16zM400.8 273.6h-2.7a.9 .9 0 0 1-.18-1.76a1.45 1.45 0 0 1 2.75-.4a1.08 1.08 0 0 1 .13 2.16zM336.9 254.3h-2.7a.9 .9 0 0 1-.18-1.76a1.45 1.45 0 0 1 2.75-.4a1.08 1.08 0 0 1 .13 2.16zM476.3 263.5h-2.7a.9 .9 0 0 1-.18-1.76a1.45 1.45 0 0 1 2.75-.4a1.08 1.08 0 0 1 .13 2.16zM323.5 259.4h-2.7a.9 .9 0 0 1-.18-1.76a1.45 1.45 0 0 1 2.75-.4a1.08 1.08 0 0 1 .13 2.16zM396.8 266.8h-2.7a.9 .9 0 0 1-.18-1.76a1.45 1.45 0 0 1 2.75-.4a1.08 1.08 0 0 1 .13 2.16zM397.1 277.8h-2.7a.9 .9 0 0 1-.18-1.76a1.45 1.45 0 0 1 2.75-.4a1.08 1.08 0 0 1 .13 2.16zM357.9 274.3h-2.7a.9 .9 0 0 1-.18-1.76a1.45 1.45 0 0 1 2.75-.4a1.08 1.08 0 0 1 .13 2.16zM366.1 269.6h-2.7a.9 .9 0 0 1-.18-1.76a1.45 1.45 0 0 1 2.75-.4a1.08 1.08 0 0 1 .13 2.16zM480.3 260.8h-2.7a.9 .9 0 0 1-.18-1.76a1.45 1.45 0 0 1 2.75-.4a1.08 1.08 0 0 1 .13 2.16zM462.6 266.6h-2.7a.9 .9 0 0 1-.18-1.76a1.45 1.45 0 0 1 2.75-.4a1.08 1.08 0 0 1 .13 2.16zM343.3 254.2h-2.7a.9 .9 0 0 1-.18-1.76a1.45 1.45 0 0 1 2.75-.4a1.08 1.08 0 0 1 .13 2.16zM472.9 272.2h-2.7a.9 .9 0 0 1-.18-1.76a1.45 1.45 0 0 1 2.75-.4a1.08 1.08 0 0 1 .13 2.16zM477.2 266.5h-2.7a.9 .9 0 0 1-.18-1.76a1.45 1.45 0 0 1 2.75-.4a1.08 1.08 0 0 1 .13 2.16zM437.9 273.1h-2.7a.9 .9 0 0 1-.18-1.76a1.45 1.45 0 0 1 2.75-.4a1.08 1.08 0 0 1 .13 2.16zM378.8 276.4h-2.7a.9 .9 0 0 1-.18-1.76a1.45 1.45 0 0 1 2.75-.4a1.08 1.08 0 0 1 .13 2.16zM458.4 263.2h-2.7a.9 .9 0 0 1-.18-1.76a1.45 1.45 0 0 1 2.75-.4a1.08 1.08 0 0 1 .13 2.16zM470.5 269.3h-2.7a.9 .9 0 0 1-.18-1.76a1.45 1.45 0 0 1 2.75-.4a1.08 1.08 0 0 1 .13 2.16zM333.3 262.5h-2.7a.9 .9 0 0 1-.18-1.76a1.45 1.45 0 0 1 2.75-.4a1.08 1.08 0 0 1 .13 2.16zM324.3 250.7h-2.7a.9 .9 0 0 1-.18-1.76a1.45 1.45 0 0 1 2.75-.4a1.08 1.08 0 0 1 .13 2.16zM449.5 271.6h-2.7a.9 .9 0 0 1-.18-1.76a1.45 1.45 0 0 1 2.75-.4a1.08 1.08 0 0 1 .13 2.16zM333.7 264.7h-2.7a.9 .9 0 0 1-.18-1.76a1.45 1.45 0 0 1 2.75-.4a1.08 1.08 0 0 1 .13 2.16zM347.5 261.1h-2.7a.9 .9 0 0 1-.18-1.76a1.45 1.45 0 0 1 2.75-.4a1.08 1.08 0 0 1 .13 2.16zM325.0 272.0h-2.7a.9 .9 0 0 1-.18-1.76a1.45 1.45 0 0 1 2.75-.4a1.08 1.08 0 0 1 .13 2.16zM385.4 273.1h-2.7a.9 .9 0 0 1-.18-1.76a1.45 1.45 0 0 1 2.75-.4a1.08 1.08 0 0 1 .13 2.16zM341.4 247.7h-2.7a.9 .9 0 0 1-.18-1.76a1.45 1.45 0 0 1 2.75-.4a1.08 1.08 0 0 1 .13 2.16zM421.8 250.8h-2.7a.9 .9 0 0 1-.18-1.76a1.45 1.45 0 0 1 2.75-.4a1.08 1.08 0 0 1 .13 2.16zM350.3 276.4h-2.7a.9 .9 0 0 1-.18-1.76a1.45 1.45 0 0 1 2.75-.4a1.08 1.08 0 0 1 .13 2.16zM422.5 252.0h-2.7a.9 .9 0 0 1-.18-1.76a1.45 1.45 0 0 1 2.75-.4a1.08 1.08 0 0 1 .13 2.16zM475.3 268.1h-2.7a.9 .9 0 0 1-.18-1.76a1.45 1.45 0 0 1 2.75-.4a1.08 1.08 0 0 1 .13 2.16zM317.9 261.7h-2.7a.9 .9 0 0 1-.18-1.76a1.45 1.45 0 0 1 2.75-.4a1.08 1.08 0 0 1 .13 2.16zM377.8 272.9h-2.7a.9 .9 0 0 1-.18-1.76a1.45 1.45 0 0 1 2.75-.4a1.08 1.08 0 0 1 .13 2.16zM352.4 270.9h-2.7a.9 .9 0 0 1-.18-1.76a1.45 1.45 0 0 1 2.75-.4a1.08 1.08 0 0 1 .13 2.16zM443.8 255.5h-2.7a.9 .9 0 0 1-.18-1.76a1.45 1.45 0 0 1 2.75-.4a1.08 1.08 0 0 1 .13 2.16zM435.9 272.7h-2.7a.9 .9 0 0 1-.18-1.76a1.45 1.45 0 0 1 2.75-.4a1.08 1.08 0 0 1 .13 2.16zM373.8 279.3h-2.7a.9 .9 0 0 1-.18-1.76a1.45 1.45 0 0 1 2.75-.4a1.08 1.08 0 0 1 .13 2.16zM380.9 279.2h-2.7a.9 .9 0 0 1-.18-1.76a1.45 1.45 0 0 1 2.75-.4a1.08 1.08 0 0 1 .13 2.16zM320.4 286.0h-2.7a.9 .9 0 0 1-.18-1.76a1.45 1.45 0 0 1 2.75-.4a1.08 1.08 0 0 1 .13 2.16zM468.6 268.3h-2.7a.9 .9 0 0 1-.18-1.76a1.45 1.45 0 0 1 2.75-.4a1.08 1.08 0 0 1 .13 2.16zM314.2 239.8h-2.7a.9 .9 0 0 1-.18-1.76a1.45 1.45 0 0 1 2.75-.4a1.08 1.08 0 0 1 .13 2.16zM339.1 256.1h-2.7a.9 .9 0 0 1-.18-1.76a1.45 1.45 0 0 1 2.75-.4a1.08 1.08 0 0 1 .13 2.16zM387.9 265.6h-2.7a.9 .9 0 0 1-.18-1.76a1.45 1.45 0 0 1 2.75-.4a1.08 1.08 0 0 1 .13 2.16zM309.1 245.7h-2.7a.9 .9 0 0 1-.18-1.76a1.45 1.45 0 0 1 2.75-.4a1.08 1.08 0 0 1 .13 2.16zM349.4 261.0h-2.7a.9 .9 0 0 1-.18-1.76a1.45 1.45 0 0 1 2.75-.4a1.08 1.08 0 0 1 .13 2.16zM318.3 257.3h-2.7a.9 .9 0 0 1-.18-1.76a1.45 1.45 0 0 1 2.75-.4a1.08 1.08 0 0 1 .13 2.16zM338.8 281.6h-2.7a.9 .9 0 0 1-.18-1.76a1.45 1.45 0 0 1 2.75-.4a1.08 1.08 0 0 1 .13 2.16zM323.1 258.1h-2.7a.9 .9 0 0 1-.18-1.76a1.45 1.45 0 0 1 2.75-.4a1.08 1.08 0 0 1 .13 2.16zM335.4 260.7h-2.7a.9 .9 0 0 1-.18-1.76a1.45 1.45 0 0 1 2.75-.4a1.08 1.08 0 0 1 .13 2.16zM433.2 242.5h-2.7a.9 .9 0 0 1-.18-1.76a1.45 1.45 0 0 1 2.75-.4a1.08 1.08 0 0 1 .13 2.16zM385.5 272.0h-2.7a.9 .9 0 0 1-.18-1.76a1.45 1.45 0 0 1 2.75-.4a1.08 1.08 0 0 1 .13 2.16zM416.7 258.7h-2.7a.9 .9 0 0 1-.18-1.76a1.45 1.45 0 0 1 2.75-.4a1.08 1.08 0 0 1 .13 2.16zM393.2 282.4h-2.7a.9 .9 0 0 1-.18-1.76a1.45 1.45 0 0 1 2.75-.4a1.08 1.08 0 0 1 .13 2.16zM339.1 268.3h-2.7a.9 .9 0 0 1-.18-1.76a1.45 1.45 0 0 1 2.75-.4a1.08 1.08 0 0 1 .13 2.16zM382.7 265.4h-2.7a.9 .9 0 0 1-.18-1.76a1.45 1.45 0 0 1 2.75-.4a1.08 1.08 0 0 1 .13 2.16zM396.3 269.9h-2.7a.9 .9 0 0 1-.18-1.76a1.45 1.45 0 0 1 2.75-.4a1.08 1.08 0 0 1 .13 2.16zM456.5 272.7h-2.7a.9 .9 0 0 1-.18-1.76a1.45 1.45 0 0 1 2.75-.4a1.08 1.08 0 0 1 .13 2.16zM405.6 271.6h-2.7a.9 .9 0 0 1-.18-1.76a1.45 1.45 0 0 1 2.75-.4a1.08 1.08 0 0 1 .13 2.16zM468.7 262.9h-2.7a.9 .9 0 0 1-.18-1.76a1.45 1.45 0 0 1 2.75-.4a1.08 1.08 0 0 1 .13 2.16zM394.8 272.7h-2.7a.9 .9 0 0 1-.18-1.76a1.45 1.45 0 0 1 2.75-.4a1.08 1.08 0 0 1 .13 2.16zM403.7 276.0h-2.7a.9 .9 0 0 1-.18-1.76a1.45 1.45 0 0 1 2.75-.4a1.08 1.08 0 0 1 .13 2.16zM351.1 272.8h-2.7a.9 .9 0 0 1-.18-1.76a1.45 1.45 0 0 1 2.75-.4a1.08 1.08 0 0 1 .13 2.16zM458.0 263.9h-2.7a.9 .9 0 0 1-.18-1.76a1.45 1.45 0 0 1 2.75-.4a1.08 1.08 0 0 1 .13 2.16zM392.2 269.7h-2.7a.9 .9 0 0 1-.18-1.76a1.45 1.45 0 0 1 2.75-.4a1.08 1.08 0 0 1 .13 2.16zM437.5 265.2h-2.7a.9 .9 0 0 1-.18-1.76a1.45 1.45 0 0 1 2.75-.4a1.08 1.08 0 0 1 .13 2.16zM361.9 268.5h-2.7a.9 .9 0 0 1-.18-1.76a1.45 1.45 0 0 1 2.75-.4a1.08 1.08 0 0 1 .13 2.16zM357.0 271.5h-2.7a.9 .9 0 0 1-.18-1.76a1.45 1.45 0 0 1 2.75-.4a1.08 1.08 0 0 1 .13 2.16zM369.6 268.5h-2.7a.9 .9 0 0 1-.18-1.76a1.45 1.45 0 0 1 2.75-.4a1.08 1.08 0 0 1 .13 2.16zM362.6 271.9h-2.7a.9 .9 0 0 1-.18-1.76a1.45 1.45 0 0 1 2.75-.4a1.08 1.08 0 0 1 .13 2.16zM339.1 269.9h-2.7a.9 .9 0 0 1-.18-1.76a1.45 1.45 0 0 1 2.75-.4a1.08 1.08 0 0 1 .13 2.16zM372.5 274.3h-2.7a.9 .9 0 0 1-.18-1.76a1.45 1.45 0 0 1 2.75-.4a1.08 1.08 0 0 1 .13 2.16zM320.6 249.9h-2.7a.9 .9 0 0 1-.18-1.76a1.45 1.45 0 0 1 2.75-.4a1.08 1.08 0 0 1 .13 2.16zM472.6 265.1h-2.7a.9 .9 0 0 1-.18-1.76a1.45 1.45 0 0 1 2.75-.4a1.08 1.08 0 0 1 .13 2.16zM309.4 249.6h-2.7a.9 .9 0 0 1-.18-1.76a1.45 1.45 0 0 1 2.75-.4a1.08 1.08 0 0 1 .13 2.16zM339.3 266.5h-2.7a.9 .9 0 0 1-.18-1.76a1.45 1.45 0 0 1 2.75-.4a1.08 1.08 0 0 1 .13 2.16zM371.9 267.6h-2.7a.9 .9 0 0 1-.18-1.76a1.45 1.45 0 0 1 2.75-.4a1.08 1.08 0 0 1 .13 2.16zM401.9 282.8h-2.7a.9 .9 0 0 1-.18-1.76a1.45 1.45 0 0 1 2.75-.4a1.08 1.08 0 0 1 .13 2.16zM327.4 265.2h-2.7a.9 .9 0 0 1-.18-1.76a1.45 1.45 0 0 1 2.75-.4a1.08 1.08 0 0 1 .13 2.16zM383.7 279.8h-2.7a.9 .9 0 0 1-.18-1.76a1.45 1.45 0 0 1 2.75-.4a1.08 1.08 0 0 1 .13 2.16zM335.0 292.9h-2.7a.9 .9 0 0 1-.18-1.76a1.45 1.45 0 0 1 2.75-.4a1.08 1.08 0 0 1 .13 2.16zM356.6 278.9h-2.7a.9 .9 0 0 1-.18-1.76a1.45 1.45 0 0 1 2.75-.4a1.08 1.08 0 0 1 .13 2.16zM458.6 255.7h-2.7a.9 .9 0 0 1-.18-1.76a1.45 1.45 0 0 1 2.75-.4a1.08 1.08 0 0 1 .13 2.16zM355.1 260.0h-2.7a.9 .9 0 0 1-.18-1.76a1.45 1.45 0 0 1 2.75-.4a1.08 1.08 0 0 1 .13 2.16zM317.9 235.9h-2.7a.9 .9 0 0 1-.18-1.76a1.45 1.45 0 0 1 2.75-.4a1.08 1.08 0 0 1 .13 2.16zM333.9 270.9h-2.7a.9 .9 0 0 1-.18-1.76a1.45 1.45 0 0 1 2.75-.4a1.08 1.08 0 0 1 .13 2.16zM371.9 270.3h-2.7a.9 .9 0 0 1-.18-1.76a1.45 1.45 0 0 1 2.75-.4a1.08 1.08 0 0 1 .13 2.16zM342.2 274.4h-2.7a.9 .9 0 0 1-.18-1.76a1.45 1.45 0 0 1 2.75-.4a1.08 1.08 0 0 1 .13 2.16zM474.8 266.3h-2.7a.9 .9 0 0 1-.18-1.76a1.45 1.45 0 0 1 2.75-.4a1.08 1.08 0 0 1 .13 2.16zM471.1 280.1h-2.7a.9 .9 0 0 1-.18-1.76a1.45 1.45 0 0 1 2.75-.4a1.08 1.08 0 0 1 .13 2.16zM334.1 247.5h-2.7a.9 .9 0 0 1-.18-1.76a1.45 1.45 0 0 1 2.75-.4a1.08 1.08 0 0 1 .13 2.16zM415.2 264.2h-2.7a.9 .9 0 0 1-.18-1.76a1.45 1.45 0 0 1 2.75-.4a1.08 1.08 0 0 1 .13 2.16zM377.6 270.7h-2.7a.9 .9 0 0 1-.18-1.76a1.45 1.45 0 0 1 2.75-.4a1.08 1.08 0 0 1 .13 2.16zM344.2 279.5h-2.7a.9 .9 0 0 1-.18-1.76a1.45 1.45 0 0 1 2.75-.4a1.08 1.08 0 0 1 .13 2.16zM352.0 265.7h-2.7a.9 .9 0 0 1-.18-1.76a1.45 1.45 0 0 1 2.75-.4a1.08 1.08 0 0 1 .13 2.16zM440.7 270.3h-2.7a.9 .9 0 0 1-.18-1.76a1.45 1.45 0 0 1 2.75-.4a1.08 1.08 0 0 1 .13 2.16zM468.3 266.0h-2.7a.9 .9 0 0 1-.18-1.76a1.45 1.45 0 0 1 2.75-.4a1.08 1.08 0 0 1 .13 2.16zM376.0 271.4h-2.7a.9 .9 0 0 1-.18-1.76a1.45 1.45 0 0 1 2.75-.4a1.08 1.08 0 0 1 .13 2.16zM311.9 261.8h-2.7a.9 .9 0 0 1-.18-1.76a1.45 1.45 0 0 1 2.75-.4a1.08 1.08 0 0 1 .13 2.16zM485.0 268.9h-2.7a.9 .9 0 0 1-.18-1.76a1.45 1.45 0 0 1 2.75-.4a1.08 1.08 0 0 1 .13 2.16zM385.6 267.5h-2.7a.9 .9 0 0 1-.18-1.76a1.45 1.45 0 0 1 2.75-.4a1.08 1.08 0 0 1 .13 2.16zM339.2 258.5h-2.7a.9 .9 0 0 1-.18-1.76a1.45 1.45 0 0 1 2.75-.4a1.08 1.08 0 0 1 .13 2.16zM444.5 267.3h-2.7a.9 .9 0 0 1-.18-1.76a1.45 1.45 0 0 1 2.75-.4a1.08 1.08 0 0 1 .13 2.16zM310.9 236.3h-2.7a.9 .9 0 0 1-.18-1.76a1.45 1.45 0 0 1 2.75-.4a1.08 1.08 0 0 1 .13 2.16zM336.7 262.3h-2.7a.9 .9 0 0 1-.18-1.76a1.45 1.45 0 0 1 2.75-.4a1.08 1.08 0 0 1 .13 2.16zM331.5 237.9h-2.7a.9 .9 0 0 1-.18-1.76a1.45 1.45 0 0 1 2.75-.4a1.08 1.08 0 0 1 .13 2.16zM428.8 245.7h-2.7a.9 .9 0 0 1-.18-1.76a1.45 1.45 0 0 1 2.75-.4a1.08 1.08 0 0 1 .13 2.16zM320.4 243.4h-2.7a.9 .9 0 0 1-.18-1.76a1.45 1.45 0 0 1 2.75-.4a1.08 1.08 0 0 1 .13 2.16zM401.1 268.0h-2.7a.9 .9 0 0 1-.18-1.76a1.45 1.45 0 0 1 2.75-.4a1.08 1.08 0 0 1 .13 2.16zM442.8 260.4h-2.7a.9 .9 0 0 1-.18-1.76a1.45 1.45 0 0 1 2.75-.4a1.08 1.08 0 0 1 .13 2.16zM477.9 275.2h-2.7a.9 .9 0 0 1-.18-1.76a1.45 1.45 0 0 1 2.75-.4a1.08 1.08 0 0 1 .13 2.16zM393.0 278.8h-2.7a.9 .9 0 0 1-.18-1.76a1.45 1.45 0 0 1 2.75-.4a1.08 1.08 0 0 1 .13 2.16zM488.4 277.9h-2.7a.9 .9 0 0 1-.18-1.76a1.45 1.45 0 0 1 2.75-.4a1.08 1.08 0 0 1 .13 2.16zM424.9 247.8h-2.7a.9 .9 0 0 1-.18-1.76a1.45 1.45 0 0 1 2.75-.4a1.08 1.08 0 0 1 .13 2.16zM389.2 263.1h-2.7a.9 .9 0 0 1-.18-1.76a1.45 1.45 0 0 1 2.75-.4a1.08 1.08 0 0 1 .13 2.16zM376.2 271.1h-2.7a.9 .9 0 0 1-.18-1.76a1.45 1.45 0 0 1 2.75-.4a1.08 1.08 0 0 1 .13 2.16zM338.4 265.8h-2.7a.9 .9 0 0 1-.18-1.76a1.45 1.45 0 0 1 2.75-.4a1.08 1.08 0 0 1 .13 2.16zM433.8 265.7h-2.7a.9 .9 0 0 1-.18-1.76a1.45 1.45 0 0 1 2.75-.4a1.08 1.08 0 0 1 .13 2.16zM380.2 269.3h-2.7a.9 .9 0 0 1-.18-1.76a1.45 1.45 0 0 1 2.75-.4a1.08 1.08 0 0 1 .13 2.16zM426.6 242.7h-2.7a.9 .9 0 0 1-.18-1.76a1.45 1.45 0 0 1 2.75-.4a1.08 1.08 0 0 1 .13 2.16zM318.7 242.9h-2.7a.9 .9 0 0 1-.18-1.76a1.45 1.45 0 0 1 2.75-.4a1.08 1.08 0 0 1 .13 2.16zM366.6 268.8h-2.7a.9 .9 0 0 1-.18-1.76a1.45 1.45 0 0 1 2.75-.4a1.08 1.08 0 0 1 .13 2.16zM421.3 259.8h-2.7a.9 .9 0 0 1-.18-1.76a1.45 1.45 0 0 1 2.75-.4a1.08 1.08 0 0 1 .13 2.16zM358.1 269.9h-2.7a.9 .9 0 0 1-.18-1.76a1.45 1.45 0 0 1 2.75-.4a1.08 1.08 0 0 1 .13 2.16zM324.2 264.9h-2.7a.9 .9 0 0 1-.18-1.76a1.45 1.45 0 0 1 2.75-.4a1.08 1.08 0 0 1 .13 2.16zM329.3 267.4h-2.7a.9 .9 0 0 1-.18-1.76a1.45 1.45 0 0 1 2.75-.4a1.08 1.08 0 0 1 .13 2.16zM416.3 250.5h-2.7a.9 .9 0 0 1-.18-1.76a1.45 1.45 0 0 1 2.75-.4a1.08 1.08 0 0 1 .13 2.16zM379.5 261.8h-2.7a.9 .9 0 0 1-.18-1.76a1.45 1.45 0 0 1 2.75-.4a1.08 1.08 0 0 1 .13 2.16zM376.5 271.2h-2.7a.9 .9 0 0 1-.18-1.76a1.45 1.45 0 0 1 2.75-.4a1.08 1.08 0 0 1 .13 2.16zM430.0 247.3h-2.7a.9 .9 0 0 1-.18-1.76a1.45 1.45 0 0 1 2.75-.4a1.08 1.08 0 0 1 .13 2.16zM460.6 261.7h-2.7a.9 .9 0 0 1-.18-1.76a1.45 1.45 0 0 1 2.75-.4a1.08 1.08 0 0 1 .13 2.16zM484.1 270.6h-2.7a.9 .9 0 0 1-.18-1.76a1.45 1.45 0 0 1 2.75-.4a1.08 1.08 0 0 1 .13 2.16zM392.5 276.4h-2.7a.9 .9 0 0 1-.18-1.76a1.45 1.45 0 0 1 2.75-.4a1.08 1.08 0 0 1 .13 2.16zM448.5 262.2h-2.7a.9 .9 0 0 1-.18-1.76a1.45 1.45 0 0 1 2.75-.4a1.08 1.08 0 0 1 .13 2.16zM309.4 273.5h-2.7a.9 .9 0 0 1-.18-1.76a1.45 1.45 0 0 1 2.75-.4a1.08 1.08 0 0 1 .13 2.16zM326.9 275.4h-2.7a.9 .9 0 0 1-.18-1.76a1.45 1.45 0 0 1 2.75-.4a1.08 1.08 0 0 1 .13 2.16zM375.3 264.6h-2.7a.9 .9 0 0 1-.18-1.76a1.45 1.45 0 0 1 2.75-.4a1.08 1.08 0 0 1 .13 2.16zM374.0 280.6h-2.7a.9 .9 0 0 1-.18-1.76a1.45 1.45 0 0 1 2.75-.4a1.08 1.08 0 0 1 .13 2.16zM458.3 267.8h-2.7a.9 .9 0 0 1-.18-1.76a1.45 1.45 0 0 1 2.75-.4a1.08 1.08 0 0 1 .13 2.16zM416.9 252.4h-2.7a.9 .9 0 0 1-.18-1.76a1.45 1.45 0 0 1 2.75-.4a1.08 1.08 0 0 1 .13 2.16zM455.3 257.5h-2.7a.9 .9 0 0 1-.18-1.76a1.45 1.45 0 0 1 2.75-.4a1.08 1.08 0 0 1 .13 2.16zM478.1 262.4h-2.7a.9 .9 0 0 1-.18-1.76a1.45 1.45 0 0 1 2.75-.4a1.08 1.08 0 0 1 .13 2.16zM482.6 254.7h-2.7a.9 .9 0 0 1-.18-1.76a1.45 1.45 0 0 1 2.75-.4a1.08 1.08 0 0 1 .13 2.16zM439.8 267.7h-2.7a.9 .9 0 0 1-.18-1.76a1.45 1.45 0 0 1 2.75-.4a1.08 1.08 0 0 1 .13 2.16zM415.9 256.1h-2.7a.9 .9 0 0 1-.18-1.76a1.45 1.45 0 0 1 2.75-.4a1.08 1.08 0 0 1 .13 2.16zM329.9 262.4h-2.7a.9 .9 0 0 1-.18-1.76a1.45 1.45 0 0 1 2.75-.4a1.08 1.08 0 0 1 .13 2.16zM425.7 253.8h-2.7a.9 .9 0 0 1-.18-1.76a1.45 1.45 0 0 1 2.75-.4a1.08 1.08 0 0 1 .13 2.16zM439.8 264.6h-2.7a.9 .9 0 0 1-.18-1.76a1.45 1.45 0 0 1 2.75-.4a1.08 1.08 0 0 1 .13 2.16zM350.8 275.3h-2.7a.9 .9 0 0 1-.18-1.76a1.45 1.45 0 0 1 2.75-.4a1.08 1.08 0 0 1 .13 2.16zM335.9 257.9h-2.7a.9 .9 0 0 1-.18-1.76a1.45 1.45 0 0 1 2.75-.4a1.08 1.08 0 0 1 .13 2.16zM339.9 277.7h-2.7a.9 .9 0 0 1-.18-1.76a1.45 1.45 0 0 1 2.75-.4a1.08 1.08 0 0 1 .13 2.16zM364.5 264.9h-2.7a.9 .9 0 0 1-.18-1.76a1.45 1.45 0 0 1 2.75-.4a1.08 1.08 0 0 1 .13 2.16zM330.7 244.6h-2.7a.9 .9 0 0 1-.18-1.76a1.45 1.45 0 0 1 2.75-.4a1.08 1.08 0 0 1 .13 2.16zM362.8 268.4h-2.7a.9 .9 0 0 1-.18-1.76a1.45 1.45 0 0 1 2.75-.4a1.08 1.08 0 0 1 .13 2.16zM326.3 241.0h-2.7a.9 .9 0 0 1-.18-1.76a1.45 1.45 0 0 1 2.75-.4a1.08 1.08 0 0 1 .13 2.16zM381.6 276.6h-2.7a.9 .9 0 0 1-.18-1.76a1.45 1.45 0 0 1 2.75-.4a1.08 1.08 0 0 1 .13 2.16zM431.3 254.4h-2.7a.9 .9 0 0 1-.18-1.76a1.45 1.45 0 0 1 2.75-.4a1.08 1.08 0 0 1 .13 2.16zM337.1 265.7h-2.7a.9 .9 0 0 1-.18-1.76a1.45 1.45 0 0 1 2.75-.4a1.08 1.08 0 0 1 .13 2.16zM329.2 242.2h-2.7a.9 .9 0 0 1-.18-1.76a1.45 1.45 0 0 1 2.75-.4a1.08 1.08 0 0 1 .13 2.16zM310.3 248.0h-2.7a.9 .9 0 0 1-.18-1.76a1.45 1.45 0 0 1 2.75-.4a1.08 1.08 0 0 1 .13 2.16zM317.3 273.8h-2.7a.9 .9 0 0 1-.18-1.76a1.45 1.45 0 0 1 2.75-.4a1.08 1.08 0 0 1 .13 2.16zM327.0 258.3h-2.7a.9 .9 0 0 1-.18-1.76a1.45 1.45 0 0 1 2.75-.4a1.08 1.08 0 0 1 .13 2.16zM382.4 270.4h-2.7a.9 .9 0 0 1-.18-1.76a1.45 1.45 0 0 1 2.75-.4a1.08 1.08 0 0 1 .13 2.16zM340.0 268.5h-2.7a.9 .9 0 0 1-.18-1.76a1.45 1.45 0 0 1 2.75-.4a1.08 1.08 0 0 1 .13 2.16zM415.0 267.1h-2.7a.9 .9 0 0 1-.18-1.76a1.45 1.45 0 0 1 2.75-.4a1.08 1.08 0 0 1 .13 2.16zM323.4 258.2h-2.7a.9 .9 0 0 1-.18-1.76a1.45 1.45 0 0 1 2.75-.4a1.08 1.08 0 0 1 .13 2.16zM385.5 266.3h-2.7a.9 .9 0 0 1-.18-1.76a1.45 1.45 0 0 1 2.75-.4a1.08 1.08 0 0 1 .13 2.16zM486.7 268.5h-2.7a.9 .9 0 0 1-.18-1.76a1.45 1.45 0 0 1 2.75-.4a1.08 1.08 0 0 1 .13 2.16zM421.7 264.7h-2.7a.9 .9 0 0 1-.18-1.76a1.45 1.45 0 0 1 2.75-.4a1.08 1.08 0 0 1 .13 2.16zM442.4 262.9h-2.7a.9 .9 0 0 1-.18-1.76a1.45 1.45 0 0 1 2.75-.4a1.08 1.08 0 0 1 .13 2.16zM321.2 260.4h-2.7a.9 .9 0 0 1-.18-1.76a1.45 1.45 0 0 1 2.75-.4a1.08 1.08 0 0 1 .13 2.16zM452.2 260.0h-2.7a.9 .9 0 0 1-.18-1.76a1.45 1.45 0 0 1 2.75-.4a1.08 1.08 0 0 1 .13 2.16zM324.2 261.8h-2.7a.9 .9 0 0 1-.18-1.76a1.45 1.45 0 0 1 2.75-.4a1.08 1.08 0 0 1 .13 2.16zM351.7 263.4h-2.7a.9 .9 0 0 1-.18-1.76a1.45 1.45 0 0 1 2.75-.4a1.08 1.08 0 0 1 .13 2.16zM466.3 265.5h-2.7a.9 .9 0 0 1-.18-1.76a1.45 1.45 0 0 1 2.75-.4a1.08 1.08 0 0 1 .13 2.16zM335.4 274.6h-2.7a.9 .9 0 0 1-.18-1.76a1.45 1.45 0 0 1 2.75-.4a1.08 1.08 0 0 1 .13 2.16zM477.3 266.2h-2.7a.9 .9 0 0 1-.18-1.76a1.45 1.45 0 0 1 2.75-.4a1.08 1.08 0 0 1 .13 2.16zM333.6 267.2h-2.7a.9 .9 0 0 1-.18-1.76a1.45 1.45 0 0 1 2.75-.4a1.08 1.08 0 0 1 .13 2.16zM318.9 270.5h-2.7a.9 .9 0 0 1-.18-1.76a1.45 1.45 0 0 1 2.75-.4a1.08 1.08 0 0 1 .13 2.16zM318.6 241.1h-2.7a.9 .9 0 0 1-.18-1.76a1.45 1.45 0 0 1 2.75-.4a1.08 1.08 0 0 1 .13 2.16zM410.2 269.1h-2.7a.9 .9 0 0 1-.18-1.76a1.45 1.45 0 0 1 2.75-.4a1.08 1.08 0 0 1 .13 2.16zM390.8 261.2h-2.7a.9 .9 0 0 1-.18-1.76a1.45 1.45 0 0 1 2.75-.4a1.08 1.08 0 0 1 .13 2.16zM334.4 252.5h-2.7a.9 .9 0 0 1-.18-1.76a1.45 1.45 0 0 1 2.75-.4a1.08 1.08 0 0 1 .13 2.16zM442.1 259.0h-2.7a.9 .9 0 0 1-.18-1.76a1.45 1.45 0 0 1 2.75-.4a1.08 1.08 0 0 1 .13 2.16zM320.7 251.8h-2.7a.9 .9 0 0 1-.18-1.76a1.45 1.45 0 0 1 2.75-.4a1.08 1.08 0 0 1 .13 2.16zM406.5 271.9h-2.7a.9 .9 0 0 1-.18-1.76a1.45 1.45 0 0 1 2.75-.4a1.08 1.08 0 0 1 .13 2.16zM343.1 251.9h-2.7a.9 .9 0 0 1-.18-1.76a1.45 1.45 0 0 1 2.75-.4a1.08 1.08 0 0 1 .13 2.16zM387.1 266.5h-2.7a.9 .9 0 0 1-.18-1.76a1.45 1.45 0 0 1 2.75-.4a1.08 1.08 0 0 1 .13 2.16zM325.7 251.4h-2.7a.9 .9 0 0 1-.18-1.76a1.45 1.45 0 0 1 2.75-.4a1.08 1.08 0 0 1 .13 2.16zM443.5 268.2h-2.7a.9 .9 0 0 1-.18-1.76a1.45 1.45 0 0 1 2.75-.4a1.08 1.08 0 0 1 .13 2.16zM316.8 264.1h-2.7a.9 .9 0 0 1-.18-1.76a1.45 1.45 0 0 1 2.75-.4a1.08 1.08 0 0 1 .13 2.16zM348.4 268.3h-2.7a.9 .9 0 0 1-.18-1.76a1.45 1.45 0 0 1 2.75-.4a1.08 1.08 0 0 1 .13 2.16zM345.0 259.8h-2.7a.9 .9 0 0 1-.18-1.76a1.45 1.45 0 0 1 2.75-.4a1.08 1.08 0 0 1 .13 2.16zM373.4 264.2h-2.7a.9 .9 0 0 1-.18-1.76a1.45 1.45 0 0 1 2.75-.4a1.08 1.08 0 0 1 .13 2.16zM336.0 247.5h-2.7a.9 .9 0 0 1-.18-1.76a1.45 1.45 0 0 1 2.75-.4a1.08 1.08 0 0 1 .13 2.16zM398.9 265.1h-2.7a.9 .9 0 0 1-.18-1.76a1.45 1.45 0 0 1 2.75-.4a1.08 1.08 0 0 1 .13 2.16zM321.4 235.9h-2.7a.9 .9 0 0 1-.18-1.76a1.45 1.45 0 0 1 2.75-.4a1.08 1.08 0 0 1 .13 2.16zM365.7 266.8h-2.7a.9 .9 0 0 1-.18-1.76a1.45 1.45 0 0 1 2.75-.4a1.08 1.08 0 0 1 .13 2.16zM340.8 267.9h-2.7a.9 .9 0 0 1-.18-1.76a1.45 1.45 0 0 1 2.75-.4a1.08 1.08 0 0 1 .13 2.16zM367.3 267.9h-2.7a.9 .9 0 0 1-.18-1.76a1.45 1.45 0 0 1 2.75-.4a1.08 1.08 0 0 1 .13 2.16zM442.0 264.4h-2.7a.9 .9 0 0 1-.18-1.76a1.45 1.45 0 0 1 2.75-.4a1.08 1.08 0 0 1 .13 2.16zM333.2 285.5h-2.7a.9 .9 0 0 1-.18-1.76a1.45 1.45 0 0 1 2.75-.4a1.08 1.08 0 0 1 .13 2.16zM471.6 261.4h-2.7a.9 .9 0 0 1-.18-1.76a1.45 1.45 0 0 1 2.75-.4a1.08 1.08 0 0 1 .13 2.16zM427.3 255.7h-2.7a.9 .9 0 0 1-.18-1.76a1.45 1.45 0 0 1 2.75-.4a1.08 1.08 0 0 1 .13 2.16zM353.0 275.7h-2.7a.9 .9 0 0 1-.18-1.76a1.45 1.45 0 0 1 2.75-.4a1.08 1.08 0 0 1 .13 2.16zM390.0 271.7h-2.7a.9 .9 0 0 1-.18-1.76a1.45 1.45 0 0 1 2.75-.4a1.08 1.08 0 0 1 .13 2.16zM461.1 270.6h-2.7a.9 .9 0 0 1-.18-1.76a1.45 1.45 0 0 1 2.75-.4a1.08 1.08 0 0 1 .13 2.16zM452.3 261.0h-2.7a.9 .9 0 0 1-.18-1.76a1.45 1.45 0 0 1 2.75-.4a1.08 1.08 0 0 1 .13 2.16zM467.5 267.9h-2.7a.9 .9 0 0 1-.18-1.76a1.45 1.45 0 0 1 2.75-.4a1.08 1.08 0 0 1 .13 2.16zM332.0 275.7h-2.7a.9 .9 0 0 1-.18-1.76a1.45 1.45 0 0 1 2.75-.4a1.08 1.08 0 0 1 .13 2.16zM467.8 263.9h-2.7a.9 .9 0 0 1-.18-1.76a1.45 1.45 0 0 1 2.75-.4a1.08 1.08 0 0 1 .13 2.16zM389.2 272.5h-2.7a.9 .9 0 0 1-.18-1.76a1.45 1.45 0 0 1 2.75-.4a1.08 1.08 0 0 1 .13 2.16zM443.0 264.5h-2.7a.9 .9 0 0 1-.18-1.76a1.45 1.45 0 0 1 2.75-.4a1.08 1.08 0 0 1 .13 2.16zM332.0 252.4h-2.7a.9 .9 0 0 1-.18-1.76a1.45 1.45 0 0 1 2.75-.4a1.08 1.08 0 0 1 .13 2.16zM402.0 274.3h-2.7a.9 .9 0 0 1-.18-1.76a1.45 1.45 0 0 1 2.75-.4a1.08 1.08 0 0 1 .13 2.16zM476.0 273.5h-2.7a.9 .9 0 0 1-.18-1.76a1.45 1.45 0 0 1 2.75-.4a1.08 1.08 0 0 1 .13 2.16zM324.0 266.8h-2.7a.9 .9 0 0 1-.18-1.76a1.45 1.45 0 0 1 2.75-.4a1.08 1.08 0 0 1 .13 2.16zM448.1 273.1h-2.7a.9 .9 0 0 1-.18-1.76a1.45 1.45 0 0 1 2.75-.4a1.08 1.08 0 0 1 .13 2.16zM400.5 269.6h-2.7a.9 .9 0 0 1-.18-1.76a1.45 1.45 0 0 1 2.75-.4a1.08 1.08 0 0 1 .13 2.16zM355.5 269.2h-2.7a.9 .9 0 0 1-.18-1.76a1.45 1.45 0 0 1 2.75-.4a1.08 1.08 0 0 1 .13 2.16zM322.9 266.6h-2.7a.9 .9 0 0 1-.18-1.76a1.45 1.45 0 0 1 2.75-.4a1.08 1.08 0 0 1 .13 2.16zM451.4 271.9h-2.7a.9 .9 0 0 1-.18-1.76a1.45 1.45 0 0 1 2.75-.4a1.08 1.08 0 0 1 .13 2.16zM341.2 249.5h-2.7a.9 .9 0 0 1-.18-1.76a1.45 1.45 0 0 1 2.75-.4a1.08 1.08 0 0 1 .13 2.16zM336.0 256.9h-2.7a.9 .9 0 0 1-.18-1.76a1.45 1.45 0 0 1 2.75-.4a1.08 1.08 0 0 1 .13 2.16zM338.8 270.3h-2.7a.9 .9 0 0 1-.18-1.76a1.45 1.45 0 0 1 2.75-.4a1.08 1.08 0 0 1 .13 2.16zM432.7 240.5h-2.7a.9 .9 0 0 1-.18-1.76a1.45 1.45 0 0 1 2.75-.4a1.08 1.08 0 0 1 .13 2.16zM332.9 267.5h-2.7a.9 .9 0 0 1-.18-1.76a1.45 1.45 0 0 1 2.75-.4a1.08 1.08 0 0 1 .13 2.16zM378.0 274.6h-2.7a.9 .9 0 0 1-.18-1.76a1.45 1.45 0 0 1 2.75-.4a1.08 1.08 0 0 1 .13 2.16zM481.8 262.8h-2.7a.9 .9 0 0 1-.18-1.76a1.45 1.45 0 0 1 2.75-.4a1.08 1.08 0 0 1 .13 2.16zM331.5 269.6h-2.7a.9 .9 0 0 1-.18-1.76a1.45 1.45 0 0 1 2.75-.4a1.08 1.08 0 0 1 .13 2.16zM448.6 263.2h-2.7a.9 .9 0 0 1-.18-1.76a1.45 1.45 0 0 1 2.75-.4a1.08 1.08 0 0 1 .13 2.16zM327.2 250.7h-2.7a.9 .9 0 0 1-.18-1.76a1.45 1.45 0 0 1 2.75-.4a1.08 1.08 0 0 1 .13 2.16zM340.6 245.7h-2.7a.9 .9 0 0 1-.18-1.76a1.45 1.45 0 0 1 2.75-.4a1.08 1.08 0 0 1 .13 2.16zM372.5 277.3h-2.7a.9 .9 0 0 1-.18-1.76a1.45 1.45 0 0 1 2.75-.4a1.08 1.08 0 0 1 .13 2.16zM422.0 257.2h-2.7a.9 .9 0 0 1-.18-1.76a1.45 1.45 0 0 1 2.75-.4a1.08 1.08 0 0 1 .13 2.16zM379.5 270.6h-2.7a.9 .9 0 0 1-.18-1.76a1.45 1.45 0 0 1 2.75-.4a1.08 1.08 0 0 1 .13 2.16zM315.2 277.1h-2.7a.9 .9 0 0 1-.18-1.76a1.45 1.45 0 0 1 2.75-.4a1.08 1.08 0 0 1 .13 2.16zM491.2 261.4h-2.7a.9 .9 0 0 1-.18-1.76a1.45 1.45 0 0 1 2.75-.4a1.08 1.08 0 0 1 .13 2.16zM365.1 266.3h-2.7a.9 .9 0 0 1-.18-1.76a1.45 1.45 0 0 1 2.75-.4a1.08 1.08 0 0 1 .13 2.16zM389.5 271.8h-2.7a.9 .9 0 0 1-.18-1.76a1.45 1.45 0 0 1 2.75-.4a1.08 1.08 0 0 1 .13 2.16zM342.1 264.7h-2.7a.9 .9 0 0 1-.18-1.76a1.45 1.45 0 0 1 2.75-.4a1.08 1.08 0 0 1 .13 2.16zM511.6 267.0h-2.7a.9 .9 0 0 1-.18-1.76a1.45 1.45 0 0 1 2.75-.4a1.08 1.08 0 0 1 .13 2.16zM511.6 270.9h-2.7a.9 .9 0 0 1-.18-1.76a1.45 1.45 0 0 1 2.75-.4a1.08 1.08 0 0 1 .13 2.16z" fill="#27958a" fill-opacity=".92"/><path d="M173.6 344.5h0M177.1 339.3h0M173.2 341.2h0M174.9 341.8h0M171.1 336.8h0M174.8 341.5h0M174.8 338.3h0M178.2 343.0h0M178.4 337.2h0M174.3 342.0h0M176.2 341.3h0M173.0 344.3h0M172.9 327.1h0M178.4 331.2h0M171.4 309.7h0" fill="none" stroke="#161616" stroke-opacity=".93" stroke-width="3.8" stroke-linecap="round"/><rect x="169" y="362.6" width="342.6" height="143.8" fill="#fff" stroke="#e6e6e6" stroke-width="1.1"/><path d="M176.6 362.6V506.4M241.95 362.6V506.4M307.3 362.6V506.4M372.65 362.6V506.4M438 362.6V506.4M504.657 362.6V506.4M169 369.1H511.6M169 395.4H511.6M169 421.7H511.6M169 448H511.6M169 474.3H511.6M169 500.6H511.6" fill="none" stroke="#e6e6e6" stroke-width="1.15"/><path d="M198.1 428.7h0M234.5 439.1h0M195.1 452.9h0M198.6 449.7h0M222.0 448.4h0M202.9 447.8h0M191.4 445.0h0M182.2 450.9h0M219.5 450.2h0M213.0 466.1h0M220.6 445.9h0M219.7 443.3h0M182.5 441.0h0M205.8 446.1h0M200.5 448.5h0M214.7 459.9h0M192.8 453.6h0M183.3 441.6h0M212.7 447.3h0M205.2 480.5h0M204.1 445.5h0M195.3 484.1h0M189.4 455.8h0M227.6 443.6h0M230.5 441.8h0M227.2 445.5h0M180.5 450.0h0M219.5 450.3h0M214.5 446.4h0M178.6 453.7h0M240.2 410.6h0M200.9 436.8h0M239.4 438.9h0M219.4 446.8h0M237.0 451.5h0M229.4 459.0h0M240.7 386.4h0M229.3 430.4h0M192.0 450.3h0M235.8 423.4h0M194.8 446.1h0M191.7 450.2h0M182.4 438.4h0M229.9 449.7h0M235.3 450.0h0M201.8 449.1h0M185.5 444.2h0M180.1 440.5h0M201.0 452.3h0M187.3 449.2h0M190.6 440.3h0M210.1 457.8h0M226.4 452.6h0M194.2 445.9h0M196.2 435.5h0M227.9 448.3h0M202.8 437.9h0M236.6 386.7h0M214.0 451.7h0M239.8 449.9h0M231.0 427.0h0M228.0 444.7h0M187.6 453.4h0M239.1 424.7h0M219.7 448.1h0M203.2 454.2h0M183.8 452.2h0M188.3 444.0h0M179.2 447.5h0M230.1 416.1h0M199.8 440.6h0M219.8 438.6h0M216.1 444.6h0M234.6 439.5h0M234.6 447.1h0M235.6 441.7h0M190.8 447.3h0M240.4 448.4h0M202.1 450.9h0M227.4 439.0h0M180.8 450.3h0M180.8 452.5h0M222.0 448.0h0M229.9 453.4h0M210.4 451.1h0M178.9 448.3h0M190.7 442.8h0M206.6 448.7h0M197.6 449.7h0M221.5 437.7h0M189.9 445.9h0M185.1 450.8h0M241.7 448.2h0M187.0 455.9h0M208.6 445.0h0M181.3 446.0h0M208.5 448.6h0M211.9 447.1h0M222.7 437.3h0M233.0 448.1h0M181.4 434.5h0M232.6 391.1h0M209.3 444.0h0M190.7 439.9h0M232.2 447.0h0M232.2 455.0h0M224.5 432.5h0M211.8 446.0h0M203.9 435.3h0M225.8 443.0h0M209.6 441.2h0M223.3 436.9h0M222.9 401.3h0M238.4 453.8h0M226.5 400.5h0M211.1 443.1h0M198.7 448.6h0M232.1 422.6h0M203.9 463.0h0M212.2 440.7h0M201.9 442.0h0M213.6 440.1h0M236.1 448.1h0M225.3 438.6h0M182.0 483.6h0M239.9 442.9h0M191.6 447.2h0M239.3 449.2h0M196.1 452.3h0M229.4 434.3h0M216.9 452.4h0M186.9 435.1h0M224.1 468.5h0M236.0 440.4h0M238.0 440.2h0M214.9 450.8h0M213.4 449.7h0M189.2 446.8h0M233.2 449.0h0M192.2 436.8h0M230.5 441.2h0M241.1 435.8h0M226.8 446.5h0M198.8 453.4h0M218.6 448.8h0M200.3 442.3h0M203.1 440.4h0M197.8 448.6h0M193.6 449.4h0M220.7 452.1h0M212.5 387.5h0M215.8 390.1h0M183.1 496.7h0M219.1 495.3h0M233.5 500.1h0M181.8 478.2h0M186.4 471.7h0" fill="none" stroke="#f8c67a" stroke-opacity=".8" stroke-width="3.8" stroke-linecap="round"/><path d="M242.5 406.9v1.5l1.4 1.6l1.4-1.6v-1.5M255.6 404.3v1.5l1.4 1.6l1.4-1.6v-1.5M249.5 387.6v1.5l1.4 1.6l1.4-1.6v-1.5M299.0 448.3v1.5l1.4 1.6l1.4-1.6v-1.5M286.3 395.2v1.5l1.4 1.6l1.4-1.6v-1.5M264.8 390.7v1.5l1.4 1.6l1.4-1.6v-1.5M253.8 425.1v1.5l1.4 1.6l1.4-1.6v-1.5M266.0 388.8v1.5l1.4 1.6l1.4-1.6v-1.5M241.0 396.6v1.5l1.4 1.6l1.4-1.6v-1.5M245.9 394.9v1.5l1.4 1.6l1.4-1.6v-1.5M261.3 392.9v1.5l1.4 1.6l1.4-1.6v-1.5M300.1 425.7v1.5l1.4 1.6l1.4-1.6v-1.5M246.6 399.6v1.5l1.4 1.6l1.4-1.6v-1.5M262.6 387.7v1.5l1.4 1.6l1.4-1.6v-1.5M252.8 406.3v1.5l1.4 1.6l1.4-1.6v-1.5M283.2 411.7v1.5l1.4 1.6l1.4-1.6v-1.5M251.5 439.9v1.5l1.4 1.6l1.4-1.6v-1.5M251.7 383.9v1.5l1.4 1.6l1.4-1.6v-1.5M305.3 419.0v1.5l1.4 1.6l1.4-1.6v-1.5M297.1 419.8v1.5l1.4 1.6l1.4-1.6v-1.5M250.2 425.3v1.5l1.4 1.6l1.4-1.6v-1.5M262.2 385.5v1.5l1.4 1.6l1.4-1.6v-1.5M286.7 390.6v1.5l1.4 1.6l1.4-1.6v-1.5M300.2 408.3v1.5l1.4 1.6l1.4-1.6v-1.5M257.9 444.6v1.5l1.4 1.6l1.4-1.6v-1.5M296.7 436.4v1.5l1.4 1.6l1.4-1.6v-1.5M280.9 443.9v1.5l1.4 1.6l1.4-1.6v-1.5M266.4 385.8v1.5l1.4 1.6l1.4-1.6v-1.5M302.9 410.8v1.5l1.4 1.6l1.4-1.6v-1.5M248.5 390.3v1.5l1.4 1.6l1.4-1.6v-1.5M241.0 384.2v1.5l1.4 1.6l1.4-1.6v-1.5M252.7 430.0v1.5l1.4 1.6l1.4-1.6v-1.5M304.3 426.3v1.5l1.4 1.6l1.4-1.6v-1.5M265.1 384.1v1.5l1.4 1.6l1.4-1.6v-1.5M240.6 437.2v1.5l1.4 1.6l1.4-1.6v-1.5M251.3 404.1v1.5l1.4 1.6l1.4-1.6v-1.5M301.4 424.9v1.5l1.4 1.6l1.4-1.6v-1.5M251.2 419.9v1.5l1.4 1.6l1.4-1.6v-1.5M304.0 415.2v1.5l1.4 1.6l1.4-1.6v-1.5M256.6 408.2v1.5l1.4 1.6l1.4-1.6v-1.5M270.6 432.5v1.5l1.4 1.6l1.4-1.6v-1.5M266.6 392.2v1.5l1.4 1.6l1.4-1.6v-1.5M289.3 419.1v1.5l1.4 1.6l1.4-1.6v-1.5M252.3 394.3v1.5l1.4 1.6l1.4-1.6v-1.5M302.7 426.2v1.5l1.4 1.6l1.4-1.6v-1.5M295.4 405.1v1.5l1.4 1.6l1.4-1.6v-1.5M250.8 405.8v1.5l1.4 1.6l1.4-1.6v-1.5M249.9 439.5v1.5l1.4 1.6l1.4-1.6v-1.5M297.2 429.1v1.5l1.4 1.6l1.4-1.6v-1.5M246.0 416.2v1.5l1.4 1.6l1.4-1.6v-1.5M301.3 414.1v1.5l1.4 1.6l1.4-1.6v-1.5M252.9 404.0v1.5l1.4 1.6l1.4-1.6v-1.5M302.2 383.4v1.5l1.4 1.6l1.4-1.6v-1.5M296.3 400.4v1.5l1.4 1.6l1.4-1.6v-1.5M293.7 422.2v1.5l1.4 1.6l1.4-1.6v-1.5M277.2 395.8v1.5l1.4 1.6l1.4-1.6v-1.5M264.4 383.4v1.5l1.4 1.6l1.4-1.6v-1.5M281.4 474.9v1.5l1.4 1.6l1.4-1.6v-1.5M287.8 438.6v1.5l1.4 1.6l1.4-1.6v-1.5M268.0 429.4v1.5l1.4 1.6l1.4-1.6v-1.5M264.6 446.1v1.5l1.4 1.6l1.4-1.6v-1.5M290.0 395.8v1.5l1.4 1.6l1.4-1.6v-1.5M273.1 489.5v1.5l1.4 1.6l1.4-1.6v-1.5M245.2 419.3v1.5l1.4 1.6l1.4-1.6v-1.5M281.6 418.2v1.5l1.4 1.6l1.4-1.6v-1.5M296.5 405.3v1.5l1.4 1.6l1.4-1.6v-1.5M270.3 396.1v1.5l1.4 1.6l1.4-1.6v-1.5M304.9 388.4v1.5l1.4 1.6l1.4-1.6v-1.5M241.6 391.8v1.5l1.4 1.6l1.4-1.6v-1.5M262.6 396.3v1.5l1.4 1.6l1.4-1.6v-1.5M244.8 387.6v1.5l1.4 1.6l1.4-1.6v-1.5M295.5 415.0v1.5l1.4 1.6l1.4-1.6v-1.5M302.1 422.2v1.5l1.4 1.6l1.4-1.6v-1.5M275.3 383.7v1.5l1.4 1.6l1.4-1.6v-1.5M263.7 438.7v1.5l1.4 1.6l1.4-1.6v-1.5M241.2 414.6v1.5l1.4 1.6l1.4-1.6v-1.5M300.4 413.7v1.5l1.4 1.6l1.4-1.6v-1.5M245.1 413.4v1.5l1.4 1.6l1.4-1.6v-1.5M304.1 425.3v1.5l1.4 1.6l1.4-1.6v-1.5M248.4 387.5v1.5l1.4 1.6l1.4-1.6v-1.5M284.5 409.6v1.5l1.4 1.6l1.4-1.6v-1.5M255.6 394.9v1.5l1.4 1.6l1.4-1.6v-1.5M296.8 446.7v1.5l1.4 1.6l1.4-1.6v-1.5M273.9 385.2v1.5l1.4 1.6l1.4-1.6v-1.5M294.3 467.2v1.5l1.4 1.6l1.4-1.6v-1.5M287.0 390.3v1.5l1.4 1.6l1.4-1.6v-1.5M276.4 458.5v1.5l1.4 1.6l1.4-1.6v-1.5M249.8 439.3v1.5l1.4 1.6l1.4-1.6v-1.5M249.6 405.8v1.5l1.4 1.6l1.4-1.6v-1.5M252.8 397.0v1.5l1.4 1.6l1.4-1.6v-1.5M295.1 391.9v1.5l1.4 1.6l1.4-1.6v-1.5M289.4 433.5v1.5l1.4 1.6l1.4-1.6v-1.5M242.1 400.2v1.5l1.4 1.6l1.4-1.6v-1.5M258.0 385.5v1.5l1.4 1.6l1.4-1.6v-1.5M255.2 391.3v1.5l1.4 1.6l1.4-1.6v-1.5M262.7 435.2v1.5l1.4 1.6l1.4-1.6v-1.5M259.4 428.3v1.5l1.4 1.6l1.4-1.6v-1.5M295.5 422.3v1.5l1.4 1.6l1.4-1.6v-1.5M290.1 401.9v1.5l1.4 1.6l1.4-1.6v-1.5M296.8 436.1v1.5l1.4 1.6l1.4-1.6v-1.5M291.0 383.4v1.5l1.4 1.6l1.4-1.6v-1.5M303.5 390.2v1.5l1.4 1.6l1.4-1.6v-1.5M249.1 439.1v1.5l1.4 1.6l1.4-1.6v-1.5M264.7 424.4v1.5l1.4 1.6l1.4-1.6v-1.5M260.2 424.9v1.5l1.4 1.6l1.4-1.6v-1.5M249.6 438.3v1.5l1.4 1.6l1.4-1.6v-1.5M304.9 446.0v1.5l1.4 1.6l1.4-1.6v-1.5M266.8 421.7v1.5l1.4 1.6l1.4-1.6v-1.5M259.7 406.4v1.5l1.4 1.6l1.4-1.6v-1.5M264.7 446.6v1.5l1.4 1.6l1.4-1.6v-1.5M261.3 388.2v1.5l1.4 1.6l1.4-1.6v-1.5M303.4 440.8v1.5l1.4 1.6l1.4-1.6v-1.5M300.1 395.1v1.5l1.4 1.6l1.4-1.6v-1.5M264.5 383.4v1.5l1.4 1.6l1.4-1.6v-1.5M246.5 384.5v1.5l1.4 1.6l1.4-1.6v-1.5M278.6 386.7v1.5l1.4 1.6l1.4-1.6v-1.5M256.6 433.1v1.5l1.4 1.6l1.4-1.6v-1.5M289.1 446.8v1.5l1.4 1.6l1.4-1.6v-1.5M287.2 389.1v1.5l1.4 1.6l1.4-1.6v-1.5M260.1 386.6v1.5l1.4 1.6l1.4-1.6v-1.5M298.1 446.6v1.5l1.4 1.6l1.4-1.6v-1.5M257.3 389.8v1.5l1.4 1.6l1.4-1.6v-1.5M264.9 434.1v1.5l1.4 1.6l1.4-1.6v-1.5M259.3 423.0v1.5l1.4 1.6l1.4-1.6v-1.5M284.4 395.1v1.5l1.4 1.6l1.4-1.6v-1.5M259.9 406.4v1.5l1.4 1.6l1.4-1.6v-1.5M290.7 423.3v1.5l1.4 1.6l1.4-1.6v-1.5M263.3 391.2v1.5l1.4 1.6l1.4-1.6v-1.5M285.2 434.6v1.5l1.4 1.6l1.4-1.6v-1.5M285.3 481.5v1.5l1.4 1.6l1.4-1.6v-1.5M263.9 439.3v1.5l1.4 1.6l1.4-1.6v-1.5M266.8 419.7v1.5l1.4 1.6l1.4-1.6v-1.5M285.5 406.1v1.5l1.4 1.6l1.4-1.6v-1.5M245.8 433.2v1.5l1.4 1.6l1.4-1.6v-1.5M292.0 383.6v1.5l1.4 1.6l1.4-1.6v-1.5M291.0 427.3v1.5l1.4 1.6l1.4-1.6v-1.5M291.3 421.8v1.5l1.4 1.6l1.4-1.6v-1.5M303.6 385.1v1.5l1.4 1.6l1.4-1.6v-1.5M249.8 392.6v1.5l1.4 1.6l1.4-1.6v-1.5M290.9 402.5v1.5l1.4 1.6l1.4-1.6v-1.5M295.3 392.2v1.5l1.4 1.6l1.4-1.6v-1.5M244.3 391.6v1.5l1.4 1.6l1.4-1.6v-1.5M276.6 394.6v1.5l1.4 1.6l1.4-1.6v-1.5M257.9 464.1v1.5l1.4 1.6l1.4-1.6v-1.5M242.3 400.3v1.5l1.4 1.6l1.4-1.6v-1.5M284.6 389.5v1.5l1.4 1.6l1.4-1.6v-1.5M278.9 454.1v1.5l1.4 1.6l1.4-1.6v-1.5M266.2 434.6v1.5l1.4 1.6l1.4-1.6v-1.5M249.6 434.1v1.5l1.4 1.6l1.4-1.6v-1.5M253.4 385.6v1.5l1.4 1.6l1.4-1.6v-1.5M297.2 393.6v1.5l1.4 1.6l1.4-1.6v-1.5M248.8 396.5v1.5l1.4 1.6l1.4-1.6v-1.5M304.1 418.0v1.5l1.4 1.6l1.4-1.6v-1.5M244.9 389.0v1.5l1.4 1.6l1.4-1.6v-1.5M243.9 395.3v1.5l1.4 1.6l1.4-1.6v-1.5M272.1 494.8v1.5l1.4 1.6l1.4-1.6v-1.5M275.3 437.0v1.5l1.4 1.6l1.4-1.6v-1.5M288.7 435.5v1.5l1.4 1.6l1.4-1.6v-1.5M294.8 397.6v1.5l1.4 1.6l1.4-1.6v-1.5M264.2 403.9v1.5l1.4 1.6l1.4-1.6v-1.5M283.7 398.6v1.5l1.4 1.6l1.4-1.6v-1.5M300.3 426.1v1.5l1.4 1.6l1.4-1.6v-1.5M286.1 446.7v1.5l1.4 1.6l1.4-1.6v-1.5M277.2 447.9v1.5l1.4 1.6l1.4-1.6v-1.5M263.1 389.1v1.5l1.4 1.6l1.4-1.6v-1.5M262.2 445.7v1.5l1.4 1.6l1.4-1.6v-1.5M246.9 425.4v1.5l1.4 1.6l1.4-1.6v-1.5M262.5 411.0v1.5l1.4 1.6l1.4-1.6v-1.5M249.2 412.7v1.5l1.4 1.6l1.4-1.6v-1.5M262.4 434.8v1.5l1.4 1.6l1.4-1.6v-1.5M253.9 404.2v1.5l1.4 1.6l1.4-1.6v-1.5M267.6 417.9v1.5l1.4 1.6l1.4-1.6v-1.5M298.5 446.5v1.5l1.4 1.6l1.4-1.6v-1.5M280.8 392.2v1.5l1.4 1.6l1.4-1.6v-1.5M252.5 422.8v1.5l1.4 1.6l1.4-1.6v-1.5M258.0 385.6v1.5l1.4 1.6l1.4-1.6v-1.5M270.4 448.1v1.5l1.4 1.6l1.4-1.6v-1.5M302.5 386.5v1.5l1.4 1.6l1.4-1.6v-1.5M247.5 418.1v1.5l1.4 1.6l1.4-1.6v-1.5M302.7 414.5v1.5l1.4 1.6l1.4-1.6v-1.5M288.4 393.0v1.5l1.4 1.6l1.4-1.6v-1.5M303.9 430.0v1.5l1.4 1.6l1.4-1.6v-1.5M284.4 442.9v1.5l1.4 1.6l1.4-1.6v-1.5M304.7 390.3v1.5l1.4 1.6l1.4-1.6v-1.5M250.1 389.3v1.5l1.4 1.6l1.4-1.6v-1.5M258.0 407.6v1.5l1.4 1.6l1.4-1.6v-1.5M260.6 402.4v1.5l1.4 1.6l1.4-1.6v-1.5M254.3 391.9v1.5l1.4 1.6l1.4-1.6v-1.5M304.2 432.1v1.5l1.4 1.6l1.4-1.6v-1.5M261.7 426.6v1.5l1.4 1.6l1.4-1.6v-1.5M261.5 398.3v1.5l1.4 1.6l1.4-1.6v-1.5M244.8 415.9v1.5l1.4 1.6l1.4-1.6v-1.5M291.6 473.2v1.5l1.4 1.6l1.4-1.6v-1.5M245.2 391.4v1.5l1.4 1.6l1.4-1.6v-1.5M284.0 385.7v1.5l1.4 1.6l1.4-1.6v-1.5M267.3 391.9v1.5l1.4 1.6l1.4-1.6v-1.5M241.7 405.1v1.5l1.4 1.6l1.4-1.6v-1.5M295.6 438.6v1.5l1.4 1.6l1.4-1.6v-1.5M251.6 393.5v1.5l1.4 1.6l1.4-1.6v-1.5M264.9 393.5v1.5l1.4 1.6l1.4-1.6v-1.5M246.1 438.0v1.5l1.4 1.6l1.4-1.6v-1.5M263.5 403.9v1.5l1.4 1.6l1.4-1.6v-1.5M302.9 400.6v1.5l1.4 1.6l1.4-1.6v-1.5M280.5 385.6v1.5l1.4 1.6l1.4-1.6v-1.5M290.1 414.1v1.5l1.4 1.6l1.4-1.6v-1.5M257.9 430.5v1.5l1.4 1.6l1.4-1.6v-1.5M250.1 412.7v1.5l1.4 1.6l1.4-1.6v-1.5M241.9 423.2v1.5l1.4 1.6l1.4-1.6v-1.5M285.0 398.5v1.5l1.4 1.6l1.4-1.6v-1.5M251.9 457.3v1.5l1.4 1.6l1.4-1.6v-1.5M275.8 414.1v1.5l1.4 1.6l1.4-1.6v-1.5M288.7 422.2v1.5l1.4 1.6l1.4-1.6v-1.5M245.1 393.4v1.5l1.4 1.6l1.4-1.6v-1.5M301.1 416.6v1.5l1.4 1.6l1.4-1.6v-1.5M284.9 386.3v1.5l1.4 1.6l1.4-1.6v-1.5M258.1 393.8v1.5l1.4 1.6l1.4-1.6v-1.5M260.1 440.9v1.5l1.4 1.6l1.4-1.6v-1.5M260.7 406.6v1.5l1.4 1.6l1.4-1.6v-1.5M280.5 414.4v1.5l1.4 1.6l1.4-1.6v-1.5M302.6 389.1v1.5l1.4 1.6l1.4-1.6v-1.5M303.0 399.7v1.5l1.4 1.6l1.4-1.6v-1.5M252.4 394.0v1.5l1.4 1.6l1.4-1.6v-1.5M303.1 393.8v1.5l1.4 1.6l1.4-1.6v-1.5M286.6 392.0v1.5l1.4 1.6l1.4-1.6v-1.5M303.3 445.3v1.5l1.4 1.6l1.4-1.6v-1.5M260.0 442.1v1.5l1.4 1.6l1.4-1.6v-1.5M301.3 388.9v1.5l1.4 1.6l1.4-1.6v-1.5M293.1 390.3v1.5l1.4 1.6l1.4-1.6v-1.5M300.8 447.7v1.5l1.4 1.6l1.4-1.6v-1.5M265.5 386.0v1.5l1.4 1.6l1.4-1.6v-1.5M255.9 477.1v1.5l1.4 1.6l1.4-1.6v-1.5M292.9 440.6v1.5l1.4 1.6l1.4-1.6v-1.5M294.2 426.1v1.5l1.4 1.6l1.4-1.6v-1.5M246.2 439.6v1.5l1.4 1.6l1.4-1.6v-1.5M254.7 488.8v1.5l1.4 1.6l1.4-1.6v-1.5M299.4 444.3v1.5l1.4 1.6l1.4-1.6v-1.5M245.9 391.8v1.5l1.4 1.6l1.4-1.6v-1.5M305.2 386.5v1.5l1.4 1.6l1.4-1.6v-1.5M246.6 390.9v1.5l1.4 1.6l1.4-1.6v-1.5M252.5 419.8v1.5l1.4 1.6l1.4-1.6v-1.5M302.3 418.9v1.5l1.4 1.6l1.4-1.6v-1.5M305.6 397.8v1.5l1.4 1.6l1.4-1.6v-1.5M254.4 421.3v1.5l1.4 1.6l1.4-1.6v-1.5M304.4 424.6v1.5l1.4 1.6l1.4-1.6v-1.5M294.8 394.4v1.5l1.4 1.6l1.4-1.6v-1.5M253.0 417.7v1.5l1.4 1.6l1.4-1.6v-1.5M243.5 412.2v1.5l1.4 1.6l1.4-1.6v-1.5M240.6 415.5v1.5l1.4 1.6l1.4-1.6v-1.5M296.8 394.9v1.5l1.4 1.6l1.4-1.6v-1.5M290.5 409.0v1.5l1.4 1.6l1.4-1.6v-1.5M289.4 423.7v1.5l1.4 1.6l1.4-1.6v-1.5M273.6 389.0v1.5l1.4 1.6l1.4-1.6v-1.5M256.5 410.3v1.5l1.4 1.6l1.4-1.6v-1.5M256.8 392.2v1.5l1.4 1.6l1.4-1.6v-1.5M303.1 415.8v1.5l1.4 1.6l1.4-1.6v-1.5M254.5 445.0v1.5l1.4 1.6l1.4-1.6v-1.5M254.2 388.8v1.5l1.4 1.6l1.4-1.6v-1.5M255.4 428.8v1.5l1.4 1.6l1.4-1.6v-1.5M265.8 479.7v1.5l1.4 1.6l1.4-1.6v-1.5M298.9 433.2v1.5l1.4 1.6l1.4-1.6v-1.5" fill="#84bff7" fill-opacity=".4" stroke="#84bff7" stroke-opacity=".8" stroke-width=".9" stroke-linejoin="round"/><path d="M392.5 481.3h-2.7a.9 .9 0 0 1-.18-1.76a1.45 1.45 0 0 1 2.75-.4a1.08 1.08 0 0 1 .13 2.16zM463.3 416.3h-2.7a.9 .9 0 0 1-.18-1.76a1.45 1.45 0 0 1 2.75-.4a1.08 1.08 0 0 1 .13 2.16zM317.9 411.4h-2.7a.9 .9 0 0 1-.18-1.76a1.45 1.45 0 0 1 2.75-.4a1.08 1.08 0 0 1 .13 2.16zM398.6 495.9h-2.7a.9 .9 0 0 1-.18-1.76a1.45 1.45 0 0 1 2.75-.4a1.08 1.08 0 0 1 .13 2.16zM393.3 471.3h-2.7a.9 .9 0 0 1-.18-1.76a1.45 1.45 0 0 1 2.75-.4a1.08 1.08 0 0 1 .13 2.16zM351.3 392.2h-2.7a.9 .9 0 0 1-.18-1.76a1.45 1.45 0 0 1 2.75-.4a1.08 1.08 0 0 1 .13 2.16zM489.7 470.0h-2.7a.9 .9 0 0 1-.18-1.76a1.45 1.45 0 0 1 2.75-.4a1.08 1.08 0 0 1 .13 2.16zM341.6 414.6h-2.7a.9 .9 0 0 1-.18-1.76a1.45 1.45 0 0 1 2.75-.4a1.08 1.08 0 0 1 .13 2.16zM363.8 390.3h-2.7a.9 .9 0 0 1-.18-1.76a1.45 1.45 0 0 1 2.75-.4a1.08 1.08 0 0 1 .13 2.16zM361.7 387.3h-2.7a.9 .9 0 0 1-.18-1.76a1.45 1.45 0 0 1 2.75-.4a1.08 1.08 0 0 1 .13 2.16zM351.8 405.9h-2.7a.9 .9 0 0 1-.18-1.76a1.45 1.45 0 0 1 2.75-.4a1.08 1.08 0 0 1 .13 2.16zM429.9 411.3h-2.7a.9 .9 0 0 1-.18-1.76a1.45 1.45 0 0 1 2.75-.4a1.08 1.08 0 0 1 .13 2.16zM453.9 450.5h-2.7a.9 .9 0 0 1-.18-1.76a1.45 1.45 0 0 1 2.75-.4a1.08 1.08 0 0 1 .13 2.16zM393.2 451.5h-2.7a.9 .9 0 0 1-.18-1.76a1.45 1.45 0 0 1 2.75-.4a1.08 1.08 0 0 1 .13 2.16zM332.8 396.7h-2.7a.9 .9 0 0 1-.18-1.76a1.45 1.45 0 0 1 2.75-.4a1.08 1.08 0 0 1 .13 2.16zM314.9 409.9h-2.7a.9 .9 0 0 1-.18-1.76a1.45 1.45 0 0 1 2.75-.4a1.08 1.08 0 0 1 .13 2.16zM375.4 396.4h-2.7a.9 .9 0 0 1-.18-1.76a1.45 1.45 0 0 1 2.75-.4a1.08 1.08 0 0 1 .13 2.16zM412.5 424.9h-2.7a.9 .9 0 0 1-.18-1.76a1.45 1.45 0 0 1 2.75-.4a1.08 1.08 0 0 1 .13 2.16zM372.9 459.5h-2.7a.9 .9 0 0 1-.18-1.76a1.45 1.45 0 0 1 2.75-.4a1.08 1.08 0 0 1 .13 2.16zM380.3 450.5h-2.7a.9 .9 0 0 1-.18-1.76a1.45 1.45 0 0 1 2.75-.4a1.08 1.08 0 0 1 .13 2.16zM388.1 424.0h-2.7a.9 .9 0 0 1-.18-1.76a1.45 1.45 0 0 1 2.75-.4a1.08 1.08 0 0 1 .13 2.16zM355.0 417.3h-2.7a.9 .9 0 0 1-.18-1.76a1.45 1.45 0 0 1 2.75-.4a1.08 1.08 0 0 1 .13 2.16zM335.9 450.4h-2.7a.9 .9 0 0 1-.18-1.76a1.45 1.45 0 0 1 2.75-.4a1.08 1.08 0 0 1 .13 2.16zM337.9 392.1h-2.7a.9 .9 0 0 1-.18-1.76a1.45 1.45 0 0 1 2.75-.4a1.08 1.08 0 0 1 .13 2.16zM447.6 473.8h-2.7a.9 .9 0 0 1-.18-1.76a1.45 1.45 0 0 1 2.75-.4a1.08 1.08 0 0 1 .13 2.16zM417.7 393.2h-2.7a.9 .9 0 0 1-.18-1.76a1.45 1.45 0 0 1 2.75-.4a1.08 1.08 0 0 1 .13 2.16zM331.9 402.3h-2.7a.9 .9 0 0 1-.18-1.76a1.45 1.45 0 0 1 2.75-.4a1.08 1.08 0 0 1 .13 2.16zM450.6 468.2h-2.7a.9 .9 0 0 1-.18-1.76a1.45 1.45 0 0 1 2.75-.4a1.08 1.08 0 0 1 .13 2.16zM336.5 431.8h-2.7a.9 .9 0 0 1-.18-1.76a1.45 1.45 0 0 1 2.75-.4a1.08 1.08 0 0 1 .13 2.16zM309.7 397.2h-2.7a.9 .9 0 0 1-.18-1.76a1.45 1.45 0 0 1 2.75-.4a1.08 1.08 0 0 1 .13 2.16zM462.4 451.3h-2.7a.9 .9 0 0 1-.18-1.76a1.45 1.45 0 0 1 2.75-.4a1.08 1.08 0 0 1 .13 2.16zM473.8 475.2h-2.7a.9 .9 0 0 1-.18-1.76a1.45 1.45 0 0 1 2.75-.4a1.08 1.08 0 0 1 .13 2.16zM442.5 476.8h-2.7a.9 .9 0 0 1-.18-1.76a1.45 1.45 0 0 1 2.75-.4a1.08 1.08 0 0 1 .13 2.16zM361.3 391.5h-2.7a.9 .9 0 0 1-.18-1.76a1.45 1.45 0 0 1 2.75-.4a1.08 1.08 0 0 1 .13 2.16zM332.2 444.1h-2.7a.9 .9 0 0 1-.18-1.76a1.45 1.45 0 0 1 2.75-.4a1.08 1.08 0 0 1 .13 2.16zM374.4 396.7h-2.7a.9 .9 0 0 1-.18-1.76a1.45 1.45 0 0 1 2.75-.4a1.08 1.08 0 0 1 .13 2.16zM446.6 410.2h-2.7a.9 .9 0 0 1-.18-1.76a1.45 1.45 0 0 1 2.75-.4a1.08 1.08 0 0 1 .13 2.16zM328.0 435.8h-2.7a.9 .9 0 0 1-.18-1.76a1.45 1.45 0 0 1 2.75-.4a1.08 1.08 0 0 1 .13 2.16zM363.3 392.1h-2.7a.9 .9 0 0 1-.18-1.76a1.45 1.45 0 0 1 2.75-.4a1.08 1.08 0 0 1 .13 2.16zM358.8 394.2h-2.7a.9 .9 0 0 1-.18-1.76a1.45 1.45 0 0 1 2.75-.4a1.08 1.08 0 0 1 .13 2.16zM356.8 392.9h-2.7a.9 .9 0 0 1-.18-1.76a1.45 1.45 0 0 1 2.75-.4a1.08 1.08 0 0 1 .13 2.16zM390.8 436.0h-2.7a.9 .9 0 0 1-.18-1.76a1.45 1.45 0 0 1 2.75-.4a1.08 1.08 0 0 1 .13 2.16zM353.0 401.8h-2.7a.9 .9 0 0 1-.18-1.76a1.45 1.45 0 0 1 2.75-.4a1.08 1.08 0 0 1 .13 2.16zM332.8 430.7h-2.7a.9 .9 0 0 1-.18-1.76a1.45 1.45 0 0 1 2.75-.4a1.08 1.08 0 0 1 .13 2.16zM486.5 494.9h-2.7a.9 .9 0 0 1-.18-1.76a1.45 1.45 0 0 1 2.75-.4a1.08 1.08 0 0 1 .13 2.16zM377.7 468.6h-2.7a.9 .9 0 0 1-.18-1.76a1.45 1.45 0 0 1 2.75-.4a1.08 1.08 0 0 1 .13 2.16zM368.8 388.7h-2.7a.9 .9 0 0 1-.18-1.76a1.45 1.45 0 0 1 2.75-.4a1.08 1.08 0 0 1 .13 2.16zM325.9 397.2h-2.7a.9 .9 0 0 1-.18-1.76a1.45 1.45 0 0 1 2.75-.4a1.08 1.08 0 0 1 .13 2.16zM461.8 486.3h-2.7a.9 .9 0 0 1-.18-1.76a1.45 1.45 0 0 1 2.75-.4a1.08 1.08 0 0 1 .13 2.16zM348.9 388.8h-2.7a.9 .9 0 0 1-.18-1.76a1.45 1.45 0 0 1 2.75-.4a1.08 1.08 0 0 1 .13 2.16zM333.5 390.5h-2.7a.9 .9 0 0 1-.18-1.76a1.45 1.45 0 0 1 2.75-.4a1.08 1.08 0 0 1 .13 2.16zM460.0 491.6h-2.7a.9 .9 0 0 1-.18-1.76a1.45 1.45 0 0 1 2.75-.4a1.08 1.08 0 0 1 .13 2.16zM321.4 440.5h-2.7a.9 .9 0 0 1-.18-1.76a1.45 1.45 0 0 1 2.75-.4a1.08 1.08 0 0 1 .13 2.16zM394.9 432.1h-2.7a.9 .9 0 0 1-.18-1.76a1.45 1.45 0 0 1 2.75-.4a1.08 1.08 0 0 1 .13 2.16zM378.0 501.1h-2.7a.9 .9 0 0 1-.18-1.76a1.45 1.45 0 0 1 2.75-.4a1.08 1.08 0 0 1 .13 2.16zM368.7 394.5h-2.7a.9 .9 0 0 1-.18-1.76a1.45 1.45 0 0 1 2.75-.4a1.08 1.08 0 0 1 .13 2.16zM386.2 471.6h-2.7a.9 .9 0 0 1-.18-1.76a1.45 1.45 0 0 1 2.75-.4a1.08 1.08 0 0 1 .13 2.16zM340.4 402.7h-2.7a.9 .9 0 0 1-.18-1.76a1.45 1.45 0 0 1 2.75-.4a1.08 1.08 0 0 1 .13 2.16zM335.2 418.1h-2.7a.9 .9 0 0 1-.18-1.76a1.45 1.45 0 0 1 2.75-.4a1.08 1.08 0 0 1 .13 2.16zM322.1 419.5h-2.7a.9 .9 0 0 1-.18-1.76a1.45 1.45 0 0 1 2.75-.4a1.08 1.08 0 0 1 .13 2.16zM330.7 417.0h-2.7a.9 .9 0 0 1-.18-1.76a1.45 1.45 0 0 1 2.75-.4a1.08 1.08 0 0 1 .13 2.16zM314.5 442.4h-2.7a.9 .9 0 0 1-.18-1.76a1.45 1.45 0 0 1 2.75-.4a1.08 1.08 0 0 1 .13 2.16zM327.4 407.4h-2.7a.9 .9 0 0 1-.18-1.76a1.45 1.45 0 0 1 2.75-.4a1.08 1.08 0 0 1 .13 2.16zM335.9 392.6h-2.7a.9 .9 0 0 1-.18-1.76a1.45 1.45 0 0 1 2.75-.4a1.08 1.08 0 0 1 .13 2.16zM456.6 422.4h-2.7a.9 .9 0 0 1-.18-1.76a1.45 1.45 0 0 1 2.75-.4a1.08 1.08 0 0 1 .13 2.16zM361.9 390.0h-2.7a.9 .9 0 0 1-.18-1.76a1.45 1.45 0 0 1 2.75-.4a1.08 1.08 0 0 1 .13 2.16zM373.2 417.8h-2.7a.9 .9 0 0 1-.18-1.76a1.45 1.45 0 0 1 2.75-.4a1.08 1.08 0 0 1 .13 2.16zM332.3 494.7h-2.7a.9 .9 0 0 1-.18-1.76a1.45 1.45 0 0 1 2.75-.4a1.08 1.08 0 0 1 .13 2.16zM366.3 392.0h-2.7a.9 .9 0 0 1-.18-1.76a1.45 1.45 0 0 1 2.75-.4a1.08 1.08 0 0 1 .13 2.16zM342.3 393.2h-2.7a.9 .9 0 0 1-.18-1.76a1.45 1.45 0 0 1 2.75-.4a1.08 1.08 0 0 1 .13 2.16zM379.4 457.4h-2.7a.9 .9 0 0 1-.18-1.76a1.45 1.45 0 0 1 2.75-.4a1.08 1.08 0 0 1 .13 2.16zM318.9 431.1h-2.7a.9 .9 0 0 1-.18-1.76a1.45 1.45 0 0 1 2.75-.4a1.08 1.08 0 0 1 .13 2.16zM311.2 399.9h-2.7a.9 .9 0 0 1-.18-1.76a1.45 1.45 0 0 1 2.75-.4a1.08 1.08 0 0 1 .13 2.16zM417.9 391.0h-2.7a.9 .9 0 0 1-.18-1.76a1.45 1.45 0 0 1 2.75-.4a1.08 1.08 0 0 1 .13 2.16zM344.6 427.5h-2.7a.9 .9 0 0 1-.18-1.76a1.45 1.45 0 0 1 2.75-.4a1.08 1.08 0 0 1 .13 2.16zM319.0 387.6h-2.7a.9 .9 0 0 1-.18-1.76a1.45 1.45 0 0 1 2.75-.4a1.08 1.08 0 0 1 .13 2.16zM326.6 478.8h-2.7a.9 .9 0 0 1-.18-1.76a1.45 1.45 0 0 1 2.75-.4a1.08 1.08 0 0 1 .13 2.16zM442.8 486.5h-2.7a.9 .9 0 0 1-.18-1.76a1.45 1.45 0 0 1 2.75-.4a1.08 1.08 0 0 1 .13 2.16zM353.4 403.7h-2.7a.9 .9 0 0 1-.18-1.76a1.45 1.45 0 0 1 2.75-.4a1.08 1.08 0 0 1 .13 2.16zM323.9 401.1h-2.7a.9 .9 0 0 1-.18-1.76a1.45 1.45 0 0 1 2.75-.4a1.08 1.08 0 0 1 .13 2.16zM335.7 414.9h-2.7a.9 .9 0 0 1-.18-1.76a1.45 1.45 0 0 1 2.75-.4a1.08 1.08 0 0 1 .13 2.16zM320.4 403.3h-2.7a.9 .9 0 0 1-.18-1.76a1.45 1.45 0 0 1 2.75-.4a1.08 1.08 0 0 1 .13 2.16zM385.8 481.8h-2.7a.9 .9 0 0 1-.18-1.76a1.45 1.45 0 0 1 2.75-.4a1.08 1.08 0 0 1 .13 2.16zM354.1 388.5h-2.7a.9 .9 0 0 1-.18-1.76a1.45 1.45 0 0 1 2.75-.4a1.08 1.08 0 0 1 .13 2.16zM458.4 425.4h-2.7a.9 .9 0 0 1-.18-1.76a1.45 1.45 0 0 1 2.75-.4a1.08 1.08 0 0 1 .13 2.16zM344.3 409.8h-2.7a.9 .9 0 0 1-.18-1.76a1.45 1.45 0 0 1 2.75-.4a1.08 1.08 0 0 1 .13 2.16zM370.0 415.6h-2.7a.9 .9 0 0 1-.18-1.76a1.45 1.45 0 0 1 2.75-.4a1.08 1.08 0 0 1 .13 2.16zM450.4 485.2h-2.7a.9 .9 0 0 1-.18-1.76a1.45 1.45 0 0 1 2.75-.4a1.08 1.08 0 0 1 .13 2.16zM400.0 426.2h-2.7a.9 .9 0 0 1-.18-1.76a1.45 1.45 0 0 1 2.75-.4a1.08 1.08 0 0 1 .13 2.16zM348.4 415.2h-2.7a.9 .9 0 0 1-.18-1.76a1.45 1.45 0 0 1 2.75-.4a1.08 1.08 0 0 1 .13 2.16zM455.7 427.5h-2.7a.9 .9 0 0 1-.18-1.76a1.45 1.45 0 0 1 2.75-.4a1.08 1.08 0 0 1 .13 2.16zM446.3 395.6h-2.7a.9 .9 0 0 1-.18-1.76a1.45 1.45 0 0 1 2.75-.4a1.08 1.08 0 0 1 .13 2.16zM363.1 394.3h-2.7a.9 .9 0 0 1-.18-1.76a1.45 1.45 0 0 1 2.75-.4a1.08 1.08 0 0 1 .13 2.16zM381.1 427.5h-2.7a.9 .9 0 0 1-.18-1.76a1.45 1.45 0 0 1 2.75-.4a1.08 1.08 0 0 1 .13 2.16zM314.3 413.3h-2.7a.9 .9 0 0 1-.18-1.76a1.45 1.45 0 0 1 2.75-.4a1.08 1.08 0 0 1 .13 2.16zM374.0 477.6h-2.7a.9 .9 0 0 1-.18-1.76a1.45 1.45 0 0 1 2.75-.4a1.08 1.08 0 0 1 .13 2.16zM328.9 399.7h-2.7a.9 .9 0 0 1-.18-1.76a1.45 1.45 0 0 1 2.75-.4a1.08 1.08 0 0 1 .13 2.16zM432.2 411.4h-2.7a.9 .9 0 0 1-.18-1.76a1.45 1.45 0 0 1 2.75-.4a1.08 1.08 0 0 1 .13 2.16zM407.5 420.7h-2.7a.9 .9 0 0 1-.18-1.76a1.45 1.45 0 0 1 2.75-.4a1.08 1.08 0 0 1 .13 2.16zM337.7 471.7h-2.7a.9 .9 0 0 1-.18-1.76a1.45 1.45 0 0 1 2.75-.4a1.08 1.08 0 0 1 .13 2.16zM321.2 430.0h-2.7a.9 .9 0 0 1-.18-1.76a1.45 1.45 0 0 1 2.75-.4a1.08 1.08 0 0 1 .13 2.16zM330.0 501.2h-2.7a.9 .9 0 0 1-.18-1.76a1.45 1.45 0 0 1 2.75-.4a1.08 1.08 0 0 1 .13 2.16zM448.3 433.0h-2.7a.9 .9 0 0 1-.18-1.76a1.45 1.45 0 0 1 2.75-.4a1.08 1.08 0 0 1 .13 2.16zM342.2 389.7h-2.7a.9 .9 0 0 1-.18-1.76a1.45 1.45 0 0 1 2.75-.4a1.08 1.08 0 0 1 .13 2.16zM322.3 399.2h-2.7a.9 .9 0 0 1-.18-1.76a1.45 1.45 0 0 1 2.75-.4a1.08 1.08 0 0 1 .13 2.16zM451.3 450.1h-2.7a.9 .9 0 0 1-.18-1.76a1.45 1.45 0 0 1 2.75-.4a1.08 1.08 0 0 1 .13 2.16zM318.7 432.1h-2.7a.9 .9 0 0 1-.18-1.76a1.45 1.45 0 0 1 2.75-.4a1.08 1.08 0 0 1 .13 2.16zM332.6 428.4h-2.7a.9 .9 0 0 1-.18-1.76a1.45 1.45 0 0 1 2.75-.4a1.08 1.08 0 0 1 .13 2.16zM414.7 435.6h-2.7a.9 .9 0 0 1-.18-1.76a1.45 1.45 0 0 1 2.75-.4a1.08 1.08 0 0 1 .13 2.16zM321.8 411.4h-2.7a.9 .9 0 0 1-.18-1.76a1.45 1.45 0 0 1 2.75-.4a1.08 1.08 0 0 1 .13 2.16zM329.6 392.7h-2.7a.9 .9 0 0 1-.18-1.76a1.45 1.45 0 0 1 2.75-.4a1.08 1.08 0 0 1 .13 2.16zM463.0 480.8h-2.7a.9 .9 0 0 1-.18-1.76a1.45 1.45 0 0 1 2.75-.4a1.08 1.08 0 0 1 .13 2.16zM329.5 412.1h-2.7a.9 .9 0 0 1-.18-1.76a1.45 1.45 0 0 1 2.75-.4a1.08 1.08 0 0 1 .13 2.16zM390.7 501.4h-2.7a.9 .9 0 0 1-.18-1.76a1.45 1.45 0 0 1 2.75-.4a1.08 1.08 0 0 1 .13 2.16zM319.5 403.8h-2.7a.9 .9 0 0 1-.18-1.76a1.45 1.45 0 0 1 2.75-.4a1.08 1.08 0 0 1 .13 2.16zM353.2 401.0h-2.7a.9 .9 0 0 1-.18-1.76a1.45 1.45 0 0 1 2.75-.4a1.08 1.08 0 0 1 .13 2.16zM345.1 402.3h-2.7a.9 .9 0 0 1-.18-1.76a1.45 1.45 0 0 1 2.75-.4a1.08 1.08 0 0 1 .13 2.16zM309.5 404.9h-2.7a.9 .9 0 0 1-.18-1.76a1.45 1.45 0 0 1 2.75-.4a1.08 1.08 0 0 1 .13 2.16zM374.0 446.6h-2.7a.9 .9 0 0 1-.18-1.76a1.45 1.45 0 0 1 2.75-.4a1.08 1.08 0 0 1 .13 2.16zM327.1 443.2h-2.7a.9 .9 0 0 1-.18-1.76a1.45 1.45 0 0 1 2.75-.4a1.08 1.08 0 0 1 .13 2.16zM334.5 447.8h-2.7a.9 .9 0 0 1-.18-1.76a1.45 1.45 0 0 1 2.75-.4a1.08 1.08 0 0 1 .13 2.16zM348.9 397.0h-2.7a.9 .9 0 0 1-.18-1.76a1.45 1.45 0 0 1 2.75-.4a1.08 1.08 0 0 1 .13 2.16zM457.7 494.4h-2.7a.9 .9 0 0 1-.18-1.76a1.45 1.45 0 0 1 2.75-.4a1.08 1.08 0 0 1 .13 2.16zM452.6 450.3h-2.7a.9 .9 0 0 1-.18-1.76a1.45 1.45 0 0 1 2.75-.4a1.08 1.08 0 0 1 .13 2.16zM321.8 426.4h-2.7a.9 .9 0 0 1-.18-1.76a1.45 1.45 0 0 1 2.75-.4a1.08 1.08 0 0 1 .13 2.16zM344.0 386.3h-2.7a.9 .9 0 0 1-.18-1.76a1.45 1.45 0 0 1 2.75-.4a1.08 1.08 0 0 1 .13 2.16zM313.9 395.7h-2.7a.9 .9 0 0 1-.18-1.76a1.45 1.45 0 0 1 2.75-.4a1.08 1.08 0 0 1 .13 2.16zM369.0 420.6h-2.7a.9 .9 0 0 1-.18-1.76a1.45 1.45 0 0 1 2.75-.4a1.08 1.08 0 0 1 .13 2.16zM384.6 397.8h-2.7a.9 .9 0 0 1-.18-1.76a1.45 1.45 0 0 1 2.75-.4a1.08 1.08 0 0 1 .13 2.16zM316.0 400.2h-2.7a.9 .9 0 0 1-.18-1.76a1.45 1.45 0 0 1 2.75-.4a1.08 1.08 0 0 1 .13 2.16zM327.0 425.6h-2.7a.9 .9 0 0 1-.18-1.76a1.45 1.45 0 0 1 2.75-.4a1.08 1.08 0 0 1 .13 2.16zM471.7 399.1h-2.7a.9 .9 0 0 1-.18-1.76a1.45 1.45 0 0 1 2.75-.4a1.08 1.08 0 0 1 .13 2.16zM389.6 421.4h-2.7a.9 .9 0 0 1-.18-1.76a1.45 1.45 0 0 1 2.75-.4a1.08 1.08 0 0 1 .13 2.16zM346.0 418.0h-2.7a.9 .9 0 0 1-.18-1.76a1.45 1.45 0 0 1 2.75-.4a1.08 1.08 0 0 1 .13 2.16zM429.4 401.4h-2.7a.9 .9 0 0 1-.18-1.76a1.45 1.45 0 0 1 2.75-.4a1.08 1.08 0 0 1 .13 2.16zM379.6 476.1h-2.7a.9 .9 0 0 1-.18-1.76a1.45 1.45 0 0 1 2.75-.4a1.08 1.08 0 0 1 .13 2.16zM330.2 486.9h-2.7a.9 .9 0 0 1-.18-1.76a1.45 1.45 0 0 1 2.75-.4a1.08 1.08 0 0 1 .13 2.16zM324.8 433.9h-2.7a.9 .9 0 0 1-.18-1.76a1.45 1.45 0 0 1 2.75-.4a1.08 1.08 0 0 1 .13 2.16zM383.6 492.8h-2.7a.9 .9 0 0 1-.18-1.76a1.45 1.45 0 0 1 2.75-.4a1.08 1.08 0 0 1 .13 2.16zM311.6 398.6h-2.7a.9 .9 0 0 1-.18-1.76a1.45 1.45 0 0 1 2.75-.4a1.08 1.08 0 0 1 .13 2.16zM386.9 433.3h-2.7a.9 .9 0 0 1-.18-1.76a1.45 1.45 0 0 1 2.75-.4a1.08 1.08 0 0 1 .13 2.16zM389.4 462.3h-2.7a.9 .9 0 0 1-.18-1.76a1.45 1.45 0 0 1 2.75-.4a1.08 1.08 0 0 1 .13 2.16zM430.7 393.2h-2.7a.9 .9 0 0 1-.18-1.76a1.45 1.45 0 0 1 2.75-.4a1.08 1.08 0 0 1 .13 2.16zM449.4 398.2h-2.7a.9 .9 0 0 1-.18-1.76a1.45 1.45 0 0 1 2.75-.4a1.08 1.08 0 0 1 .13 2.16zM334.7 390.5h-2.7a.9 .9 0 0 1-.18-1.76a1.45 1.45 0 0 1 2.75-.4a1.08 1.08 0 0 1 .13 2.16zM387.1 471.4h-2.7a.9 .9 0 0 1-.18-1.76a1.45 1.45 0 0 1 2.75-.4a1.08 1.08 0 0 1 .13 2.16zM444.1 496.0h-2.7a.9 .9 0 0 1-.18-1.76a1.45 1.45 0 0 1 2.75-.4a1.08 1.08 0 0 1 .13 2.16zM330.2 390.1h-2.7a.9 .9 0 0 1-.18-1.76a1.45 1.45 0 0 1 2.75-.4a1.08 1.08 0 0 1 .13 2.16zM313.1 400.3h-2.7a.9 .9 0 0 1-.18-1.76a1.45 1.45 0 0 1 2.75-.4a1.08 1.08 0 0 1 .13 2.16zM350.4 410.0h-2.7a.9 .9 0 0 1-.18-1.76a1.45 1.45 0 0 1 2.75-.4a1.08 1.08 0 0 1 .13 2.16zM383.7 449.2h-2.7a.9 .9 0 0 1-.18-1.76a1.45 1.45 0 0 1 2.75-.4a1.08 1.08 0 0 1 .13 2.16zM326.1 420.3h-2.7a.9 .9 0 0 1-.18-1.76a1.45 1.45 0 0 1 2.75-.4a1.08 1.08 0 0 1 .13 2.16zM328.9 415.2h-2.7a.9 .9 0 0 1-.18-1.76a1.45 1.45 0 0 1 2.75-.4a1.08 1.08 0 0 1 .13 2.16zM359.3 394.4h-2.7a.9 .9 0 0 1-.18-1.76a1.45 1.45 0 0 1 2.75-.4a1.08 1.08 0 0 1 .13 2.16zM320.6 405.6h-2.7a.9 .9 0 0 1-.18-1.76a1.45 1.45 0 0 1 2.75-.4a1.08 1.08 0 0 1 .13 2.16zM333.0 443.7h-2.7a.9 .9 0 0 1-.18-1.76a1.45 1.45 0 0 1 2.75-.4a1.08 1.08 0 0 1 .13 2.16zM328.3 398.5h-2.7a.9 .9 0 0 1-.18-1.76a1.45 1.45 0 0 1 2.75-.4a1.08 1.08 0 0 1 .13 2.16zM354.1 388.1h-2.7a.9 .9 0 0 1-.18-1.76a1.45 1.45 0 0 1 2.75-.4a1.08 1.08 0 0 1 .13 2.16zM359.7 399.6h-2.7a.9 .9 0 0 1-.18-1.76a1.45 1.45 0 0 1 2.75-.4a1.08 1.08 0 0 1 .13 2.16zM341.0 391.6h-2.7a.9 .9 0 0 1-.18-1.76a1.45 1.45 0 0 1 2.75-.4a1.08 1.08 0 0 1 .13 2.16zM377.4 398.0h-2.7a.9 .9 0 0 1-.18-1.76a1.45 1.45 0 0 1 2.75-.4a1.08 1.08 0 0 1 .13 2.16zM487.4 395.4h-2.7a.9 .9 0 0 1-.18-1.76a1.45 1.45 0 0 1 2.75-.4a1.08 1.08 0 0 1 .13 2.16zM377.8 485.7h-2.7a.9 .9 0 0 1-.18-1.76a1.45 1.45 0 0 1 2.75-.4a1.08 1.08 0 0 1 .13 2.16zM388.2 498.7h-2.7a.9 .9 0 0 1-.18-1.76a1.45 1.45 0 0 1 2.75-.4a1.08 1.08 0 0 1 .13 2.16zM374.8 392.0h-2.7a.9 .9 0 0 1-.18-1.76a1.45 1.45 0 0 1 2.75-.4a1.08 1.08 0 0 1 .13 2.16zM435.3 412.4h-2.7a.9 .9 0 0 1-.18-1.76a1.45 1.45 0 0 1 2.75-.4a1.08 1.08 0 0 1 .13 2.16zM388.8 482.5h-2.7a.9 .9 0 0 1-.18-1.76a1.45 1.45 0 0 1 2.75-.4a1.08 1.08 0 0 1 .13 2.16zM320.0 392.5h-2.7a.9 .9 0 0 1-.18-1.76a1.45 1.45 0 0 1 2.75-.4a1.08 1.08 0 0 1 .13 2.16zM447.4 438.0h-2.7a.9 .9 0 0 1-.18-1.76a1.45 1.45 0 0 1 2.75-.4a1.08 1.08 0 0 1 .13 2.16zM390.4 490.2h-2.7a.9 .9 0 0 1-.18-1.76a1.45 1.45 0 0 1 2.75-.4a1.08 1.08 0 0 1 .13 2.16zM466.9 480.0h-2.7a.9 .9 0 0 1-.18-1.76a1.45 1.45 0 0 1 2.75-.4a1.08 1.08 0 0 1 .13 2.16zM387.6 482.6h-2.7a.9 .9 0 0 1-.18-1.76a1.45 1.45 0 0 1 2.75-.4a1.08 1.08 0 0 1 .13 2.16zM384.2 468.4h-2.7a.9 .9 0 0 1-.18-1.76a1.45 1.45 0 0 1 2.75-.4a1.08 1.08 0 0 1 .13 2.16zM328.6 494.6h-2.7a.9 .9 0 0 1-.18-1.76a1.45 1.45 0 0 1 2.75-.4a1.08 1.08 0 0 1 .13 2.16zM317.3 427.7h-2.7a.9 .9 0 0 1-.18-1.76a1.45 1.45 0 0 1 2.75-.4a1.08 1.08 0 0 1 .13 2.16zM376.7 408.5h-2.7a.9 .9 0 0 1-.18-1.76a1.45 1.45 0 0 1 2.75-.4a1.08 1.08 0 0 1 .13 2.16zM334.5 393.0h-2.7a.9 .9 0 0 1-.18-1.76a1.45 1.45 0 0 1 2.75-.4a1.08 1.08 0 0 1 .13 2.16zM476.5 481.9h-2.7a.9 .9 0 0 1-.18-1.76a1.45 1.45 0 0 1 2.75-.4a1.08 1.08 0 0 1 .13 2.16zM318.9 391.7h-2.7a.9 .9 0 0 1-.18-1.76a1.45 1.45 0 0 1 2.75-.4a1.08 1.08 0 0 1 .13 2.16zM380.9 422.3h-2.7a.9 .9 0 0 1-.18-1.76a1.45 1.45 0 0 1 2.75-.4a1.08 1.08 0 0 1 .13 2.16zM317.6 408.7h-2.7a.9 .9 0 0 1-.18-1.76a1.45 1.45 0 0 1 2.75-.4a1.08 1.08 0 0 1 .13 2.16zM380.7 480.0h-2.7a.9 .9 0 0 1-.18-1.76a1.45 1.45 0 0 1 2.75-.4a1.08 1.08 0 0 1 .13 2.16zM444.7 493.6h-2.7a.9 .9 0 0 1-.18-1.76a1.45 1.45 0 0 1 2.75-.4a1.08 1.08 0 0 1 .13 2.16zM342.6 411.2h-2.7a.9 .9 0 0 1-.18-1.76a1.45 1.45 0 0 1 2.75-.4a1.08 1.08 0 0 1 .13 2.16zM455.7 397.1h-2.7a.9 .9 0 0 1-.18-1.76a1.45 1.45 0 0 1 2.75-.4a1.08 1.08 0 0 1 .13 2.16zM335.4 475.1h-2.7a.9 .9 0 0 1-.18-1.76a1.45 1.45 0 0 1 2.75-.4a1.08 1.08 0 0 1 .13 2.16zM445.0 458.2h-2.7a.9 .9 0 0 1-.18-1.76a1.45 1.45 0 0 1 2.75-.4a1.08 1.08 0 0 1 .13 2.16zM391.0 473.0h-2.7a.9 .9 0 0 1-.18-1.76a1.45 1.45 0 0 1 2.75-.4a1.08 1.08 0 0 1 .13 2.16zM396.2 476.5h-2.7a.9 .9 0 0 1-.18-1.76a1.45 1.45 0 0 1 2.75-.4a1.08 1.08 0 0 1 .13 2.16zM392.9 435.4h-2.7a.9 .9 0 0 1-.18-1.76a1.45 1.45 0 0 1 2.75-.4a1.08 1.08 0 0 1 .13 2.16zM377.9 483.9h-2.7a.9 .9 0 0 1-.18-1.76a1.45 1.45 0 0 1 2.75-.4a1.08 1.08 0 0 1 .13 2.16zM322.2 401.7h-2.7a.9 .9 0 0 1-.18-1.76a1.45 1.45 0 0 1 2.75-.4a1.08 1.08 0 0 1 .13 2.16zM394.5 486.9h-2.7a.9 .9 0 0 1-.18-1.76a1.45 1.45 0 0 1 2.75-.4a1.08 1.08 0 0 1 .13 2.16zM363.6 392.9h-2.7a.9 .9 0 0 1-.18-1.76a1.45 1.45 0 0 1 2.75-.4a1.08 1.08 0 0 1 .13 2.16zM326.1 394.4h-2.7a.9 .9 0 0 1-.18-1.76a1.45 1.45 0 0 1 2.75-.4a1.08 1.08 0 0 1 .13 2.16zM336.5 391.2h-2.7a.9 .9 0 0 1-.18-1.76a1.45 1.45 0 0 1 2.75-.4a1.08 1.08 0 0 1 .13 2.16zM313.7 406.9h-2.7a.9 .9 0 0 1-.18-1.76a1.45 1.45 0 0 1 2.75-.4a1.08 1.08 0 0 1 .13 2.16zM467.1 482.0h-2.7a.9 .9 0 0 1-.18-1.76a1.45 1.45 0 0 1 2.75-.4a1.08 1.08 0 0 1 .13 2.16zM375.8 392.1h-2.7a.9 .9 0 0 1-.18-1.76a1.45 1.45 0 0 1 2.75-.4a1.08 1.08 0 0 1 .13 2.16zM487.4 469.4h-2.7a.9 .9 0 0 1-.18-1.76a1.45 1.45 0 0 1 2.75-.4a1.08 1.08 0 0 1 .13 2.16zM310.2 390.7h-2.7a.9 .9 0 0 1-.18-1.76a1.45 1.45 0 0 1 2.75-.4a1.08 1.08 0 0 1 .13 2.16zM323.1 417.7h-2.7a.9 .9 0 0 1-.18-1.76a1.45 1.45 0 0 1 2.75-.4a1.08 1.08 0 0 1 .13 2.16zM447.4 479.6h-2.7a.9 .9 0 0 1-.18-1.76a1.45 1.45 0 0 1 2.75-.4a1.08 1.08 0 0 1 .13 2.16zM329.1 426.4h-2.7a.9 .9 0 0 1-.18-1.76a1.45 1.45 0 0 1 2.75-.4a1.08 1.08 0 0 1 .13 2.16zM324.9 434.7h-2.7a.9 .9 0 0 1-.18-1.76a1.45 1.45 0 0 1 2.75-.4a1.08 1.08 0 0 1 .13 2.16zM337.7 439.6h-2.7a.9 .9 0 0 1-.18-1.76a1.45 1.45 0 0 1 2.75-.4a1.08 1.08 0 0 1 .13 2.16zM351.7 399.3h-2.7a.9 .9 0 0 1-.18-1.76a1.45 1.45 0 0 1 2.75-.4a1.08 1.08 0 0 1 .13 2.16zM320.4 393.1h-2.7a.9 .9 0 0 1-.18-1.76a1.45 1.45 0 0 1 2.75-.4a1.08 1.08 0 0 1 .13 2.16zM423.3 389.2h-2.7a.9 .9 0 0 1-.18-1.76a1.45 1.45 0 0 1 2.75-.4a1.08 1.08 0 0 1 .13 2.16zM323.4 435.6h-2.7a.9 .9 0 0 1-.18-1.76a1.45 1.45 0 0 1 2.75-.4a1.08 1.08 0 0 1 .13 2.16zM446.7 487.2h-2.7a.9 .9 0 0 1-.18-1.76a1.45 1.45 0 0 1 2.75-.4a1.08 1.08 0 0 1 .13 2.16zM453.1 460.0h-2.7a.9 .9 0 0 1-.18-1.76a1.45 1.45 0 0 1 2.75-.4a1.08 1.08 0 0 1 .13 2.16zM368.3 392.4h-2.7a.9 .9 0 0 1-.18-1.76a1.45 1.45 0 0 1 2.75-.4a1.08 1.08 0 0 1 .13 2.16zM389.3 428.0h-2.7a.9 .9 0 0 1-.18-1.76a1.45 1.45 0 0 1 2.75-.4a1.08 1.08 0 0 1 .13 2.16zM424.7 395.1h-2.7a.9 .9 0 0 1-.18-1.76a1.45 1.45 0 0 1 2.75-.4a1.08 1.08 0 0 1 .13 2.16zM400.8 407.3h-2.7a.9 .9 0 0 1-.18-1.76a1.45 1.45 0 0 1 2.75-.4a1.08 1.08 0 0 1 .13 2.16zM370.5 398.1h-2.7a.9 .9 0 0 1-.18-1.76a1.45 1.45 0 0 1 2.75-.4a1.08 1.08 0 0 1 .13 2.16zM329.0 469.8h-2.7a.9 .9 0 0 1-.18-1.76a1.45 1.45 0 0 1 2.75-.4a1.08 1.08 0 0 1 .13 2.16zM314.3 436.1h-2.7a.9 .9 0 0 1-.18-1.76a1.45 1.45 0 0 1 2.75-.4a1.08 1.08 0 0 1 .13 2.16zM388.7 479.0h-2.7a.9 .9 0 0 1-.18-1.76a1.45 1.45 0 0 1 2.75-.4a1.08 1.08 0 0 1 .13 2.16zM389.9 423.7h-2.7a.9 .9 0 0 1-.18-1.76a1.45 1.45 0 0 1 2.75-.4a1.08 1.08 0 0 1 .13 2.16zM400.4 419.5h-2.7a.9 .9 0 0 1-.18-1.76a1.45 1.45 0 0 1 2.75-.4a1.08 1.08 0 0 1 .13 2.16zM474.3 471.0h-2.7a.9 .9 0 0 1-.18-1.76a1.45 1.45 0 0 1 2.75-.4a1.08 1.08 0 0 1 .13 2.16zM448.2 430.6h-2.7a.9 .9 0 0 1-.18-1.76a1.45 1.45 0 0 1 2.75-.4a1.08 1.08 0 0 1 .13 2.16zM329.6 456.0h-2.7a.9 .9 0 0 1-.18-1.76a1.45 1.45 0 0 1 2.75-.4a1.08 1.08 0 0 1 .13 2.16zM442.5 407.6h-2.7a.9 .9 0 0 1-.18-1.76a1.45 1.45 0 0 1 2.75-.4a1.08 1.08 0 0 1 .13 2.16zM357.8 395.3h-2.7a.9 .9 0 0 1-.18-1.76a1.45 1.45 0 0 1 2.75-.4a1.08 1.08 0 0 1 .13 2.16zM333.8 459.8h-2.7a.9 .9 0 0 1-.18-1.76a1.45 1.45 0 0 1 2.75-.4a1.08 1.08 0 0 1 .13 2.16zM371.3 456.3h-2.7a.9 .9 0 0 1-.18-1.76a1.45 1.45 0 0 1 2.75-.4a1.08 1.08 0 0 1 .13 2.16zM384.8 410.0h-2.7a.9 .9 0 0 1-.18-1.76a1.45 1.45 0 0 1 2.75-.4a1.08 1.08 0 0 1 .13 2.16zM333.7 415.5h-2.7a.9 .9 0 0 1-.18-1.76a1.45 1.45 0 0 1 2.75-.4a1.08 1.08 0 0 1 .13 2.16zM451.9 422.3h-2.7a.9 .9 0 0 1-.18-1.76a1.45 1.45 0 0 1 2.75-.4a1.08 1.08 0 0 1 .13 2.16zM375.7 456.7h-2.7a.9 .9 0 0 1-.18-1.76a1.45 1.45 0 0 1 2.75-.4a1.08 1.08 0 0 1 .13 2.16zM323.7 390.3h-2.7a.9 .9 0 0 1-.18-1.76a1.45 1.45 0 0 1 2.75-.4a1.08 1.08 0 0 1 .13 2.16zM328.4 392.5h-2.7a.9 .9 0 0 1-.18-1.76a1.45 1.45 0 0 1 2.75-.4a1.08 1.08 0 0 1 .13 2.16zM364.1 390.0h-2.7a.9 .9 0 0 1-.18-1.76a1.45 1.45 0 0 1 2.75-.4a1.08 1.08 0 0 1 .13 2.16zM388.7 501.3h-2.7a.9 .9 0 0 1-.18-1.76a1.45 1.45 0 0 1 2.75-.4a1.08 1.08 0 0 1 .13 2.16zM338.5 420.3h-2.7a.9 .9 0 0 1-.18-1.76a1.45 1.45 0 0 1 2.75-.4a1.08 1.08 0 0 1 .13 2.16zM460.6 391.7h-2.7a.9 .9 0 0 1-.18-1.76a1.45 1.45 0 0 1 2.75-.4a1.08 1.08 0 0 1 .13 2.16zM329.4 461.6h-2.7a.9 .9 0 0 1-.18-1.76a1.45 1.45 0 0 1 2.75-.4a1.08 1.08 0 0 1 .13 2.16zM380.7 490.5h-2.7a.9 .9 0 0 1-.18-1.76a1.45 1.45 0 0 1 2.75-.4a1.08 1.08 0 0 1 .13 2.16zM433.7 407.6h-2.7a.9 .9 0 0 1-.18-1.76a1.45 1.45 0 0 1 2.75-.4a1.08 1.08 0 0 1 .13 2.16zM319.3 431.1h-2.7a.9 .9 0 0 1-.18-1.76a1.45 1.45 0 0 1 2.75-.4a1.08 1.08 0 0 1 .13 2.16zM346.3 406.8h-2.7a.9 .9 0 0 1-.18-1.76a1.45 1.45 0 0 1 2.75-.4a1.08 1.08 0 0 1 .13 2.16zM477.1 406.7h-2.7a.9 .9 0 0 1-.18-1.76a1.45 1.45 0 0 1 2.75-.4a1.08 1.08 0 0 1 .13 2.16zM391.9 405.4h-2.7a.9 .9 0 0 1-.18-1.76a1.45 1.45 0 0 1 2.75-.4a1.08 1.08 0 0 1 .13 2.16zM314.4 440.8h-2.7a.9 .9 0 0 1-.18-1.76a1.45 1.45 0 0 1 2.75-.4a1.08 1.08 0 0 1 .13 2.16zM324.0 414.8h-2.7a.9 .9 0 0 1-.18-1.76a1.45 1.45 0 0 1 2.75-.4a1.08 1.08 0 0 1 .13 2.16zM466.9 392.2h-2.7a.9 .9 0 0 1-.18-1.76a1.45 1.45 0 0 1 2.75-.4a1.08 1.08 0 0 1 .13 2.16zM331.2 412.1h-2.7a.9 .9 0 0 1-.18-1.76a1.45 1.45 0 0 1 2.75-.4a1.08 1.08 0 0 1 .13 2.16zM362.3 424.1h-2.7a.9 .9 0 0 1-.18-1.76a1.45 1.45 0 0 1 2.75-.4a1.08 1.08 0 0 1 .13 2.16zM317.5 421.3h-2.7a.9 .9 0 0 1-.18-1.76a1.45 1.45 0 0 1 2.75-.4a1.08 1.08 0 0 1 .13 2.16zM321.6 394.8h-2.7a.9 .9 0 0 1-.18-1.76a1.45 1.45 0 0 1 2.75-.4a1.08 1.08 0 0 1 .13 2.16zM327.5 410.0h-2.7a.9 .9 0 0 1-.18-1.76a1.45 1.45 0 0 1 2.75-.4a1.08 1.08 0 0 1 .13 2.16zM337.3 436.9h-2.7a.9 .9 0 0 1-.18-1.76a1.45 1.45 0 0 1 2.75-.4a1.08 1.08 0 0 1 .13 2.16zM362.8 395.8h-2.7a.9 .9 0 0 1-.18-1.76a1.45 1.45 0 0 1 2.75-.4a1.08 1.08 0 0 1 .13 2.16zM362.9 390.2h-2.7a.9 .9 0 0 1-.18-1.76a1.45 1.45 0 0 1 2.75-.4a1.08 1.08 0 0 1 .13 2.16zM406.3 410.8h-2.7a.9 .9 0 0 1-.18-1.76a1.45 1.45 0 0 1 2.75-.4a1.08 1.08 0 0 1 .13 2.16zM366.7 395.5h-2.7a.9 .9 0 0 1-.18-1.76a1.45 1.45 0 0 1 2.75-.4a1.08 1.08 0 0 1 .13 2.16zM372.8 415.8h-2.7a.9 .9 0 0 1-.18-1.76a1.45 1.45 0 0 1 2.75-.4a1.08 1.08 0 0 1 .13 2.16zM320.9 435.7h-2.7a.9 .9 0 0 1-.18-1.76a1.45 1.45 0 0 1 2.75-.4a1.08 1.08 0 0 1 .13 2.16zM434.1 398.6h-2.7a.9 .9 0 0 1-.18-1.76a1.45 1.45 0 0 1 2.75-.4a1.08 1.08 0 0 1 .13 2.16zM334.0 424.5h-2.7a.9 .9 0 0 1-.18-1.76a1.45 1.45 0 0 1 2.75-.4a1.08 1.08 0 0 1 .13 2.16zM402.9 436.2h-2.7a.9 .9 0 0 1-.18-1.76a1.45 1.45 0 0 1 2.75-.4a1.08 1.08 0 0 1 .13 2.16zM335.6 427.0h-2.7a.9 .9 0 0 1-.18-1.76a1.45 1.45 0 0 1 2.75-.4a1.08 1.08 0 0 1 .13 2.16zM312.1 426.1h-2.7a.9 .9 0 0 1-.18-1.76a1.45 1.45 0 0 1 2.75-.4a1.08 1.08 0 0 1 .13 2.16zM309.5 396.9h-2.7a.9 .9 0 0 1-.18-1.76a1.45 1.45 0 0 1 2.75-.4a1.08 1.08 0 0 1 .13 2.16zM336.4 420.5h-2.7a.9 .9 0 0 1-.18-1.76a1.45 1.45 0 0 1 2.75-.4a1.08 1.08 0 0 1 .13 2.16zM326.8 469.6h-2.7a.9 .9 0 0 1-.18-1.76a1.45 1.45 0 0 1 2.75-.4a1.08 1.08 0 0 1 .13 2.16zM317.4 420.4h-2.7a.9 .9 0 0 1-.18-1.76a1.45 1.45 0 0 1 2.75-.4a1.08 1.08 0 0 1 .13 2.16zM387.3 461.7h-2.7a.9 .9 0 0 1-.18-1.76a1.45 1.45 0 0 1 2.75-.4a1.08 1.08 0 0 1 .13 2.16zM339.0 398.3h-2.7a.9 .9 0 0 1-.18-1.76a1.45 1.45 0 0 1 2.75-.4a1.08 1.08 0 0 1 .13 2.16zM466.8 396.5h-2.7a.9 .9 0 0 1-.18-1.76a1.45 1.45 0 0 1 2.75-.4a1.08 1.08 0 0 1 .13 2.16zM311.8 386.7h-2.7a.9 .9 0 0 1-.18-1.76a1.45 1.45 0 0 1 2.75-.4a1.08 1.08 0 0 1 .13 2.16zM374.9 493.2h-2.7a.9 .9 0 0 1-.18-1.76a1.45 1.45 0 0 1 2.75-.4a1.08 1.08 0 0 1 .13 2.16zM359.8 396.3h-2.7a.9 .9 0 0 1-.18-1.76a1.45 1.45 0 0 1 2.75-.4a1.08 1.08 0 0 1 .13 2.16zM449.6 490.7h-2.7a.9 .9 0 0 1-.18-1.76a1.45 1.45 0 0 1 2.75-.4a1.08 1.08 0 0 1 .13 2.16zM460.0 486.0h-2.7a.9 .9 0 0 1-.18-1.76a1.45 1.45 0 0 1 2.75-.4a1.08 1.08 0 0 1 .13 2.16zM336.3 435.2h-2.7a.9 .9 0 0 1-.18-1.76a1.45 1.45 0 0 1 2.75-.4a1.08 1.08 0 0 1 .13 2.16zM389.6 493.8h-2.7a.9 .9 0 0 1-.18-1.76a1.45 1.45 0 0 1 2.75-.4a1.08 1.08 0 0 1 .13 2.16zM410.3 401.9h-2.7a.9 .9 0 0 1-.18-1.76a1.45 1.45 0 0 1 2.75-.4a1.08 1.08 0 0 1 .13 2.16zM474.2 472.7h-2.7a.9 .9 0 0 1-.18-1.76a1.45 1.45 0 0 1 2.75-.4a1.08 1.08 0 0 1 .13 2.16zM447.3 481.6h-2.7a.9 .9 0 0 1-.18-1.76a1.45 1.45 0 0 1 2.75-.4a1.08 1.08 0 0 1 .13 2.16zM320.5 392.5h-2.7a.9 .9 0 0 1-.18-1.76a1.45 1.45 0 0 1 2.75-.4a1.08 1.08 0 0 1 .13 2.16zM398.7 490.7h-2.7a.9 .9 0 0 1-.18-1.76a1.45 1.45 0 0 1 2.75-.4a1.08 1.08 0 0 1 .13 2.16zM349.0 394.6h-2.7a.9 .9 0 0 1-.18-1.76a1.45 1.45 0 0 1 2.75-.4a1.08 1.08 0 0 1 .13 2.16zM394.7 501.1h-2.7a.9 .9 0 0 1-.18-1.76a1.45 1.45 0 0 1 2.75-.4a1.08 1.08 0 0 1 .13 2.16zM337.8 435.8h-2.7a.9 .9 0 0 1-.18-1.76a1.45 1.45 0 0 1 2.75-.4a1.08 1.08 0 0 1 .13 2.16zM457.0 489.3h-2.7a.9 .9 0 0 1-.18-1.76a1.45 1.45 0 0 1 2.75-.4a1.08 1.08 0 0 1 .13 2.16zM431.8 411.8h-2.7a.9 .9 0 0 1-.18-1.76a1.45 1.45 0 0 1 2.75-.4a1.08 1.08 0 0 1 .13 2.16zM338.8 397.8h-2.7a.9 .9 0 0 1-.18-1.76a1.45 1.45 0 0 1 2.75-.4a1.08 1.08 0 0 1 .13 2.16zM344.2 389.3h-2.7a.9 .9 0 0 1-.18-1.76a1.45 1.45 0 0 1 2.75-.4a1.08 1.08 0 0 1 .13 2.16zM465.2 484.8h-2.7a.9 .9 0 0 1-.18-1.76a1.45 1.45 0 0 1 2.75-.4a1.08 1.08 0 0 1 .13 2.16zM309.6 439.6h-2.7a.9 .9 0 0 1-.18-1.76a1.45 1.45 0 0 1 2.75-.4a1.08 1.08 0 0 1 .13 2.16zM386.9 465.5h-2.7a.9 .9 0 0 1-.18-1.76a1.45 1.45 0 0 1 2.75-.4a1.08 1.08 0 0 1 .13 2.16zM384.7 478.0h-2.7a.9 .9 0 0 1-.18-1.76a1.45 1.45 0 0 1 2.75-.4a1.08 1.08 0 0 1 .13 2.16zM342.7 392.5h-2.7a.9 .9 0 0 1-.18-1.76a1.45 1.45 0 0 1 2.75-.4a1.08 1.08 0 0 1 .13 2.16zM345.6 393.2h-2.7a.9 .9 0 0 1-.18-1.76a1.45 1.45 0 0 1 2.75-.4a1.08 1.08 0 0 1 .13 2.16zM331.0 424.3h-2.7a.9 .9 0 0 1-.18-1.76a1.45 1.45 0 0 1 2.75-.4a1.08 1.08 0 0 1 .13 2.16zM384.9 474.3h-2.7a.9 .9 0 0 1-.18-1.76a1.45 1.45 0 0 1 2.75-.4a1.08 1.08 0 0 1 .13 2.16zM336.8 386.3h-2.7a.9 .9 0 0 1-.18-1.76a1.45 1.45 0 0 1 2.75-.4a1.08 1.08 0 0 1 .13 2.16zM375.2 396.8h-2.7a.9 .9 0 0 1-.18-1.76a1.45 1.45 0 0 1 2.75-.4a1.08 1.08 0 0 1 .13 2.16zM355.8 420.9h-2.7a.9 .9 0 0 1-.18-1.76a1.45 1.45 0 0 1 2.75-.4a1.08 1.08 0 0 1 .13 2.16zM356.1 398.7h-2.7a.9 .9 0 0 1-.18-1.76a1.45 1.45 0 0 1 2.75-.4a1.08 1.08 0 0 1 .13 2.16zM481.6 478.3h-2.7a.9 .9 0 0 1-.18-1.76a1.45 1.45 0 0 1 2.75-.4a1.08 1.08 0 0 1 .13 2.16zM328.6 394.2h-2.7a.9 .9 0 0 1-.18-1.76a1.45 1.45 0 0 1 2.75-.4a1.08 1.08 0 0 1 .13 2.16zM331.7 482.8h-2.7a.9 .9 0 0 1-.18-1.76a1.45 1.45 0 0 1 2.75-.4a1.08 1.08 0 0 1 .13 2.16zM360.5 396.8h-2.7a.9 .9 0 0 1-.18-1.76a1.45 1.45 0 0 1 2.75-.4a1.08 1.08 0 0 1 .13 2.16zM456.8 498.3h-2.7a.9 .9 0 0 1-.18-1.76a1.45 1.45 0 0 1 2.75-.4a1.08 1.08 0 0 1 .13 2.16zM404.5 399.0h-2.7a.9 .9 0 0 1-.18-1.76a1.45 1.45 0 0 1 2.75-.4a1.08 1.08 0 0 1 .13 2.16zM315.0 398.4h-2.7a.9 .9 0 0 1-.18-1.76a1.45 1.45 0 0 1 2.75-.4a1.08 1.08 0 0 1 .13 2.16zM494.7 404.1h-2.7a.9 .9 0 0 1-.18-1.76a1.45 1.45 0 0 1 2.75-.4a1.08 1.08 0 0 1 .13 2.16zM325.0 391.5h-2.7a.9 .9 0 0 1-.18-1.76a1.45 1.45 0 0 1 2.75-.4a1.08 1.08 0 0 1 .13 2.16zM355.6 399.2h-2.7a.9 .9 0 0 1-.18-1.76a1.45 1.45 0 0 1 2.75-.4a1.08 1.08 0 0 1 .13 2.16zM448.7 458.4h-2.7a.9 .9 0 0 1-.18-1.76a1.45 1.45 0 0 1 2.75-.4a1.08 1.08 0 0 1 .13 2.16zM368.4 399.4h-2.7a.9 .9 0 0 1-.18-1.76a1.45 1.45 0 0 1 2.75-.4a1.08 1.08 0 0 1 .13 2.16zM390.7 418.8h-2.7a.9 .9 0 0 1-.18-1.76a1.45 1.45 0 0 1 2.75-.4a1.08 1.08 0 0 1 .13 2.16zM467.9 393.4h-2.7a.9 .9 0 0 1-.18-1.76a1.45 1.45 0 0 1 2.75-.4a1.08 1.08 0 0 1 .13 2.16zM332.3 447.7h-2.7a.9 .9 0 0 1-.18-1.76a1.45 1.45 0 0 1 2.75-.4a1.08 1.08 0 0 1 .13 2.16zM451.3 473.4h-2.7a.9 .9 0 0 1-.18-1.76a1.45 1.45 0 0 1 2.75-.4a1.08 1.08 0 0 1 .13 2.16zM361.2 411.8h-2.7a.9 .9 0 0 1-.18-1.76a1.45 1.45 0 0 1 2.75-.4a1.08 1.08 0 0 1 .13 2.16zM327.8 398.7h-2.7a.9 .9 0 0 1-.18-1.76a1.45 1.45 0 0 1 2.75-.4a1.08 1.08 0 0 1 .13 2.16zM364.5 400.7h-2.7a.9 .9 0 0 1-.18-1.76a1.45 1.45 0 0 1 2.75-.4a1.08 1.08 0 0 1 .13 2.16zM420.9 397.1h-2.7a.9 .9 0 0 1-.18-1.76a1.45 1.45 0 0 1 2.75-.4a1.08 1.08 0 0 1 .13 2.16zM373.9 400.4h-2.7a.9 .9 0 0 1-.18-1.76a1.45 1.45 0 0 1 2.75-.4a1.08 1.08 0 0 1 .13 2.16zM351.2 413.9h-2.7a.9 .9 0 0 1-.18-1.76a1.45 1.45 0 0 1 2.75-.4a1.08 1.08 0 0 1 .13 2.16zM335.7 393.2h-2.7a.9 .9 0 0 1-.18-1.76a1.45 1.45 0 0 1 2.75-.4a1.08 1.08 0 0 1 .13 2.16zM329.1 418.6h-2.7a.9 .9 0 0 1-.18-1.76a1.45 1.45 0 0 1 2.75-.4a1.08 1.08 0 0 1 .13 2.16zM329.7 386.3h-2.7a.9 .9 0 0 1-.18-1.76a1.45 1.45 0 0 1 2.75-.4a1.08 1.08 0 0 1 .13 2.16zM442.3 425.4h-2.7a.9 .9 0 0 1-.18-1.76a1.45 1.45 0 0 1 2.75-.4a1.08 1.08 0 0 1 .13 2.16zM471.3 474.2h-2.7a.9 .9 0 0 1-.18-1.76a1.45 1.45 0 0 1 2.75-.4a1.08 1.08 0 0 1 .13 2.16zM355.7 405.9h-2.7a.9 .9 0 0 1-.18-1.76a1.45 1.45 0 0 1 2.75-.4a1.08 1.08 0 0 1 .13 2.16zM346.2 396.2h-2.7a.9 .9 0 0 1-.18-1.76a1.45 1.45 0 0 1 2.75-.4a1.08 1.08 0 0 1 .13 2.16zM333.8 449.3h-2.7a.9 .9 0 0 1-.18-1.76a1.45 1.45 0 0 1 2.75-.4a1.08 1.08 0 0 1 .13 2.16zM355.7 392.0h-2.7a.9 .9 0 0 1-.18-1.76a1.45 1.45 0 0 1 2.75-.4a1.08 1.08 0 0 1 .13 2.16zM310.2 417.3h-2.7a.9 .9 0 0 1-.18-1.76a1.45 1.45 0 0 1 2.75-.4a1.08 1.08 0 0 1 .13 2.16zM318.7 395.5h-2.7a.9 .9 0 0 1-.18-1.76a1.45 1.45 0 0 1 2.75-.4a1.08 1.08 0 0 1 .13 2.16zM338.5 390.3h-2.7a.9 .9 0 0 1-.18-1.76a1.45 1.45 0 0 1 2.75-.4a1.08 1.08 0 0 1 .13 2.16zM335.6 481.4h-2.7a.9 .9 0 0 1-.18-1.76a1.45 1.45 0 0 1 2.75-.4a1.08 1.08 0 0 1 .13 2.16zM359.5 389.9h-2.7a.9 .9 0 0 1-.18-1.76a1.45 1.45 0 0 1 2.75-.4a1.08 1.08 0 0 1 .13 2.16zM337.3 498.4h-2.7a.9 .9 0 0 1-.18-1.76a1.45 1.45 0 0 1 2.75-.4a1.08 1.08 0 0 1 .13 2.16zM309.1 389.2h-2.7a.9 .9 0 0 1-.18-1.76a1.45 1.45 0 0 1 2.75-.4a1.08 1.08 0 0 1 .13 2.16zM373.1 399.6h-2.7a.9 .9 0 0 1-.18-1.76a1.45 1.45 0 0 1 2.75-.4a1.08 1.08 0 0 1 .13 2.16zM385.8 463.9h-2.7a.9 .9 0 0 1-.18-1.76a1.45 1.45 0 0 1 2.75-.4a1.08 1.08 0 0 1 .13 2.16zM359.8 394.9h-2.7a.9 .9 0 0 1-.18-1.76a1.45 1.45 0 0 1 2.75-.4a1.08 1.08 0 0 1 .13 2.16zM336.6 413.7h-2.7a.9 .9 0 0 1-.18-1.76a1.45 1.45 0 0 1 2.75-.4a1.08 1.08 0 0 1 .13 2.16zM328.3 387.2h-2.7a.9 .9 0 0 1-.18-1.76a1.45 1.45 0 0 1 2.75-.4a1.08 1.08 0 0 1 .13 2.16zM337.1 394.9h-2.7a.9 .9 0 0 1-.18-1.76a1.45 1.45 0 0 1 2.75-.4a1.08 1.08 0 0 1 .13 2.16zM345.3 397.5h-2.7a.9 .9 0 0 1-.18-1.76a1.45 1.45 0 0 1 2.75-.4a1.08 1.08 0 0 1 .13 2.16zM441.6 404.4h-2.7a.9 .9 0 0 1-.18-1.76a1.45 1.45 0 0 1 2.75-.4a1.08 1.08 0 0 1 .13 2.16zM479.7 438.0h-2.7a.9 .9 0 0 1-.18-1.76a1.45 1.45 0 0 1 2.75-.4a1.08 1.08 0 0 1 .13 2.16zM392.8 432.7h-2.7a.9 .9 0 0 1-.18-1.76a1.45 1.45 0 0 1 2.75-.4a1.08 1.08 0 0 1 .13 2.16zM338.9 397.3h-2.7a.9 .9 0 0 1-.18-1.76a1.45 1.45 0 0 1 2.75-.4a1.08 1.08 0 0 1 .13 2.16zM355.6 388.1h-2.7a.9 .9 0 0 1-.18-1.76a1.45 1.45 0 0 1 2.75-.4a1.08 1.08 0 0 1 .13 2.16zM342.5 422.2h-2.7a.9 .9 0 0 1-.18-1.76a1.45 1.45 0 0 1 2.75-.4a1.08 1.08 0 0 1 .13 2.16zM445.1 425.7h-2.7a.9 .9 0 0 1-.18-1.76a1.45 1.45 0 0 1 2.75-.4a1.08 1.08 0 0 1 .13 2.16zM465.6 457.0h-2.7a.9 .9 0 0 1-.18-1.76a1.45 1.45 0 0 1 2.75-.4a1.08 1.08 0 0 1 .13 2.16zM328.0 429.5h-2.7a.9 .9 0 0 1-.18-1.76a1.45 1.45 0 0 1 2.75-.4a1.08 1.08 0 0 1 .13 2.16zM361.2 419.7h-2.7a.9 .9 0 0 1-.18-1.76a1.45 1.45 0 0 1 2.75-.4a1.08 1.08 0 0 1 .13 2.16zM314.9 419.1h-2.7a.9 .9 0 0 1-.18-1.76a1.45 1.45 0 0 1 2.75-.4a1.08 1.08 0 0 1 .13 2.16zM474.4 409.4h-2.7a.9 .9 0 0 1-.18-1.76a1.45 1.45 0 0 1 2.75-.4a1.08 1.08 0 0 1 .13 2.16zM381.8 471.0h-2.7a.9 .9 0 0 1-.18-1.76a1.45 1.45 0 0 1 2.75-.4a1.08 1.08 0 0 1 .13 2.16zM309.7 427.2h-2.7a.9 .9 0 0 1-.18-1.76a1.45 1.45 0 0 1 2.75-.4a1.08 1.08 0 0 1 .13 2.16zM469.8 437.0h-2.7a.9 .9 0 0 1-.18-1.76a1.45 1.45 0 0 1 2.75-.4a1.08 1.08 0 0 1 .13 2.16zM360.1 389.6h-2.7a.9 .9 0 0 1-.18-1.76a1.45 1.45 0 0 1 2.75-.4a1.08 1.08 0 0 1 .13 2.16zM392.5 391.8h-2.7a.9 .9 0 0 1-.18-1.76a1.45 1.45 0 0 1 2.75-.4a1.08 1.08 0 0 1 .13 2.16zM393.9 442.2h-2.7a.9 .9 0 0 1-.18-1.76a1.45 1.45 0 0 1 2.75-.4a1.08 1.08 0 0 1 .13 2.16zM382.0 498.0h-2.7a.9 .9 0 0 1-.18-1.76a1.45 1.45 0 0 1 2.75-.4a1.08 1.08 0 0 1 .13 2.16zM464.8 467.3h-2.7a.9 .9 0 0 1-.18-1.76a1.45 1.45 0 0 1 2.75-.4a1.08 1.08 0 0 1 .13 2.16zM326.3 417.6h-2.7a.9 .9 0 0 1-.18-1.76a1.45 1.45 0 0 1 2.75-.4a1.08 1.08 0 0 1 .13 2.16zM383.6 470.2h-2.7a.9 .9 0 0 1-.18-1.76a1.45 1.45 0 0 1 2.75-.4a1.08 1.08 0 0 1 .13 2.16zM490.8 390.8h-2.7a.9 .9 0 0 1-.18-1.76a1.45 1.45 0 0 1 2.75-.4a1.08 1.08 0 0 1 .13 2.16zM361.0 426.4h-2.7a.9 .9 0 0 1-.18-1.76a1.45 1.45 0 0 1 2.75-.4a1.08 1.08 0 0 1 .13 2.16zM331.6 488.2h-2.7a.9 .9 0 0 1-.18-1.76a1.45 1.45 0 0 1 2.75-.4a1.08 1.08 0 0 1 .13 2.16zM396.8 410.1h-2.7a.9 .9 0 0 1-.18-1.76a1.45 1.45 0 0 1 2.75-.4a1.08 1.08 0 0 1 .13 2.16zM373.3 470.6h-2.7a.9 .9 0 0 1-.18-1.76a1.45 1.45 0 0 1 2.75-.4a1.08 1.08 0 0 1 .13 2.16zM330.2 494.8h-2.7a.9 .9 0 0 1-.18-1.76a1.45 1.45 0 0 1 2.75-.4a1.08 1.08 0 0 1 .13 2.16zM445.9 480.4h-2.7a.9 .9 0 0 1-.18-1.76a1.45 1.45 0 0 1 2.75-.4a1.08 1.08 0 0 1 .13 2.16zM365.9 388.1h-2.7a.9 .9 0 0 1-.18-1.76a1.45 1.45 0 0 1 2.75-.4a1.08 1.08 0 0 1 .13 2.16zM450.4 425.2h-2.7a.9 .9 0 0 1-.18-1.76a1.45 1.45 0 0 1 2.75-.4a1.08 1.08 0 0 1 .13 2.16zM332.3 390.9h-2.7a.9 .9 0 0 1-.18-1.76a1.45 1.45 0 0 1 2.75-.4a1.08 1.08 0 0 1 .13 2.16zM311.5 404.7h-2.7a.9 .9 0 0 1-.18-1.76a1.45 1.45 0 0 1 2.75-.4a1.08 1.08 0 0 1 .13 2.16zM309.5 392.9h-2.7a.9 .9 0 0 1-.18-1.76a1.45 1.45 0 0 1 2.75-.4a1.08 1.08 0 0 1 .13 2.16zM366.1 418.7h-2.7a.9 .9 0 0 1-.18-1.76a1.45 1.45 0 0 1 2.75-.4a1.08 1.08 0 0 1 .13 2.16zM326.7 392.5h-2.7a.9 .9 0 0 1-.18-1.76a1.45 1.45 0 0 1 2.75-.4a1.08 1.08 0 0 1 .13 2.16zM390.5 461.6h-2.7a.9 .9 0 0 1-.18-1.76a1.45 1.45 0 0 1 2.75-.4a1.08 1.08 0 0 1 .13 2.16zM455.3 471.3h-2.7a.9 .9 0 0 1-.18-1.76a1.45 1.45 0 0 1 2.75-.4a1.08 1.08 0 0 1 .13 2.16zM321.4 436.6h-2.7a.9 .9 0 0 1-.18-1.76a1.45 1.45 0 0 1 2.75-.4a1.08 1.08 0 0 1 .13 2.16zM467.0 417.2h-2.7a.9 .9 0 0 1-.18-1.76a1.45 1.45 0 0 1 2.75-.4a1.08 1.08 0 0 1 .13 2.16zM405.9 397.1h-2.7a.9 .9 0 0 1-.18-1.76a1.45 1.45 0 0 1 2.75-.4a1.08 1.08 0 0 1 .13 2.16zM511.6 392.9h-2.7a.9 .9 0 0 1-.18-1.76a1.45 1.45 0 0 1 2.75-.4a1.08 1.08 0 0 1 .13 2.16zM511.6 407.3h-2.7a.9 .9 0 0 1-.18-1.76a1.45 1.45 0 0 1 2.75-.4a1.08 1.08 0 0 1 .13 2.16z" fill="#27958a" fill-opacity=".92"/><path d="M176.5 453.9h0M175.3 445.3h0M177.9 465.4h0M173.0 466.2h0M173.9 449.7h0M173.6 453.1h0M171.6 461.5h0M173.1 460.4h0M176.6 447.9h0M172.9 446.6h0M173.3 446.7h0M176.5 454.6h0M177.1 447.7h0M172.1 445.1h0M173.2 464.9h0M179.1 442.9h0M176.1 465.4h0M170.2 447.9h0M176.4 446.5h0M178.8 451.6h0M177.5 457.7h0M173.8 451.8h0" fill="none" stroke="#161616" stroke-opacity=".93" stroke-width="3.8" stroke-linecap="round"/><rect x="169" y="516" width="342.6" height="145.8" fill="#fff" stroke="#e6e6e6" stroke-width="1.1"/><path d="M176.6 516V661.8M241.95 516V661.8M307.3 516V661.8M372.65 516V661.8M438 516V661.8M504.657 516V661.8M169 523H511.6M169 549.2H511.6M169 575.6H511.6M169 602H511.6M169 628.3H511.6M169 654.6H511.6" fill="none" stroke="#e6e6e6" stroke-width="1.15"/><path d="M213.7 523.0h0M212.0 522.7h0M212.9 523.2h0M180.4 522.9h0M210.4 522.9h0M220.4 522.8h0M216.0 523.0h0M226.3 523.1h0M220.4 522.9h0M234.2 522.9h0M216.3 522.9h0M230.4 523.1h0M213.8 523.3h0M234.1 522.9h0M195.1 522.9h0M193.9 522.9h0M185.6 523.2h0M201.6 523.2h0M179.8 522.9h0M237.0 523.2h0M239.0 523.3h0M232.6 523.1h0M237.3 522.8h0M206.8 523.0h0M226.2 523.1h0M191.2 523.2h0M209.7 523.1h0M179.8 523.3h0M180.8 523.3h0M216.8 523.0h0M218.0 523.0h0M235.6 523.2h0M180.0 523.0h0M198.5 523.2h0M198.4 522.9h0M236.0 523.0h0M199.2 522.8h0M179.8 522.8h0M191.3 523.1h0M236.8 522.9h0M216.1 549.4h0M223.6 549.3h0M238.1 549.4h0M226.6 549.4h0M211.3 549.3h0M203.4 549.4h0M232.5 549.2h0M223.6 549.5h0M206.3 549.2h0M235.5 549.2h0M193.9 549.0h0M194.2 549.1h0M193.0 549.3h0M198.6 548.9h0M192.3 548.9h0M232.8 548.9h0M209.2 549.4h0M233.0 549.1h0M190.4 549.4h0M223.8 549.4h0M225.9 549.4h0M222.0 549.3h0M222.2 549.0h0M202.6 549.3h0M238.5 549.0h0M199.5 549.1h0M219.1 549.4h0M197.9 549.5h0M214.9 548.9h0M216.8 549.1h0M210.3 575.5h0M216.6 575.9h0M191.6 575.9h0M224.2 575.4h0M181.0 575.4h0M234.6 575.5h0M229.7 575.7h0M191.4 575.5h0M194.5 575.4h0M200.2 575.7h0M210.9 575.6h0M208.4 575.7h0M214.4 575.4h0M185.5 575.5h0M223.5 575.8h0M212.1 575.8h0M220.8 575.8h0M218.8 575.8h0M199.0 575.4h0M218.9 575.7h0M213.8 575.4h0M226.3 575.7h0M208.1 575.6h0M197.7 575.5h0M239.9 575.4h0M210.1 575.7h0M210.6 575.6h0M185.5 575.8h0M183.2 575.5h0M204.2 575.4h0M235.0 575.8h0M180.7 575.3h0M183.0 575.4h0M190.1 575.6h0M187.2 575.3h0M241.9 575.8h0M184.0 575.5h0M191.9 575.4h0M214.1 575.6h0M199.0 575.6h0M209.4 575.3h0M184.2 575.6h0M223.6 575.8h0M204.4 575.3h0M233.4 575.3h0M214.2 602.2h0M235.9 601.9h0M181.4 601.9h0M223.7 601.9h0M204.2 601.8h0M233.4 602.1h0M206.6 602.0h0M181.6 602.0h0M234.4 602.1h0M221.2 601.9h0M206.8 602.1h0M209.0 601.9h0M187.6 601.9h0M201.8 602.1h0M188.4 602.2h0M191.5 602.1h0M220.0 602.1h0M229.6 602.1h0M186.5 601.9h0M183.3 602.3h0M197.2 602.0h0M233.3 602.1h0M237.3 602.0h0M231.9 602.1h0M199.4 601.9h0M222.8 601.8h0M219.8 602.0h0M204.6 601.8h0M219.5 601.7h0M189.0 602.3h0M180.7 602.3h0M209.7 601.9h0M187.4 602.2h0M190.1 602.1h0M208.8 601.8h0M186.7 601.8h0M182.1 602.3h0M193.3 602.3h0M194.6 602.0h0M189.1 602.1h0" fill="none" stroke="#f8c67a" stroke-opacity=".8" stroke-width="3.8" stroke-linecap="round"/><path d="M246.0 521.2v1.5l1.4 1.6l1.4-1.6v-1.5M249.0 521.7v1.5l1.4 1.6l1.4-1.6v-1.5M256.2 547.9v1.5l1.4 1.6l1.4-1.6v-1.5M241.7 547.6v1.5l1.4 1.6l1.4-1.6v-1.5M262.0 547.6v1.5l1.4 1.6l1.4-1.6v-1.5M259.9 547.8v1.5l1.4 1.6l1.4-1.6v-1.5M258.6 547.5v1.5l1.4 1.6l1.4-1.6v-1.5M262.2 547.4v1.5l1.4 1.6l1.4-1.6v-1.5M254.1 547.9v1.5l1.4 1.6l1.4-1.6v-1.5M250.4 547.5v1.5l1.4 1.6l1.4-1.6v-1.5M248.0 547.4v1.5l1.4 1.6l1.4-1.6v-1.5M263.2 547.5v1.5l1.4 1.6l1.4-1.6v-1.5M269.2 547.4v1.5l1.4 1.6l1.4-1.6v-1.5M245.2 547.8v1.5l1.4 1.6l1.4-1.6v-1.5M264.7 547.6v1.5l1.4 1.6l1.4-1.6v-1.5M246.5 547.9v1.5l1.4 1.6l1.4-1.6v-1.5M264.8 547.7v1.5l1.4 1.6l1.4-1.6v-1.5M245.8 547.6v1.5l1.4 1.6l1.4-1.6v-1.5M264.7 547.5v1.5l1.4 1.6l1.4-1.6v-1.5M262.5 547.9v1.5l1.4 1.6l1.4-1.6v-1.5M256.5 547.7v1.5l1.4 1.6l1.4-1.6v-1.5M256.7 547.5v1.5l1.4 1.6l1.4-1.6v-1.5M262.0 547.4v1.5l1.4 1.6l1.4-1.6v-1.5M275.6 548.0v1.5l1.4 1.6l1.4-1.6v-1.5M276.6 547.9v1.5l1.4 1.6l1.4-1.6v-1.5M250.2 547.8v1.5l1.4 1.6l1.4-1.6v-1.5M269.8 547.7v1.5l1.4 1.6l1.4-1.6v-1.5M267.9 547.8v1.5l1.4 1.6l1.4-1.6v-1.5M243.3 547.4v1.5l1.4 1.6l1.4-1.6v-1.5M275.9 547.9v1.5l1.4 1.6l1.4-1.6v-1.5M268.8 547.7v1.5l1.4 1.6l1.4-1.6v-1.5M271.8 547.9v1.5l1.4 1.6l1.4-1.6v-1.5M270.1 547.8v1.5l1.4 1.6l1.4-1.6v-1.5M242.4 547.6v1.5l1.4 1.6l1.4-1.6v-1.5M253.6 547.7v1.5l1.4 1.6l1.4-1.6v-1.5M252.0 547.9v1.5l1.4 1.6l1.4-1.6v-1.5M279.5 547.6v1.5l1.4 1.6l1.4-1.6v-1.5M272.1 547.6v1.5l1.4 1.6l1.4-1.6v-1.5M271.2 547.6v1.5l1.4 1.6l1.4-1.6v-1.5M254.3 547.5v1.5l1.4 1.6l1.4-1.6v-1.5M261.4 547.6v1.5l1.4 1.6l1.4-1.6v-1.5M275.4 547.5v1.5l1.4 1.6l1.4-1.6v-1.5M300.9 547.5v1.5l1.4 1.6l1.4-1.6v-1.5M284.9 547.8v1.5l1.4 1.6l1.4-1.6v-1.5M295.8 547.5v1.5l1.4 1.6l1.4-1.6v-1.5M293.8 547.6v1.5l1.4 1.6l1.4-1.6v-1.5M294.1 547.7v1.5l1.4 1.6l1.4-1.6v-1.5M291.3 547.5v1.5l1.4 1.6l1.4-1.6v-1.5M281.9 547.9v1.5l1.4 1.6l1.4-1.6v-1.5M247.6 574.2v1.5l1.4 1.6l1.4-1.6v-1.5M253.2 574.0v1.5l1.4 1.6l1.4-1.6v-1.5M256.6 573.9v1.5l1.4 1.6l1.4-1.6v-1.5M260.4 573.8v1.5l1.4 1.6l1.4-1.6v-1.5M241.5 574.0v1.5l1.4 1.6l1.4-1.6v-1.5M261.4 574.3v1.5l1.4 1.6l1.4-1.6v-1.5M264.5 574.0v1.5l1.4 1.6l1.4-1.6v-1.5M264.5 574.0v1.5l1.4 1.6l1.4-1.6v-1.5M254.0 573.9v1.5l1.4 1.6l1.4-1.6v-1.5M257.0 574.0v1.5l1.4 1.6l1.4-1.6v-1.5M263.5 574.0v1.5l1.4 1.6l1.4-1.6v-1.5M264.4 574.1v1.5l1.4 1.6l1.4-1.6v-1.5M250.5 574.2v1.5l1.4 1.6l1.4-1.6v-1.5M246.6 574.1v1.5l1.4 1.6l1.4-1.6v-1.5M252.2 573.9v1.5l1.4 1.6l1.4-1.6v-1.5M241.3 573.9v1.5l1.4 1.6l1.4-1.6v-1.5M261.5 573.8v1.5l1.4 1.6l1.4-1.6v-1.5M249.3 573.9v1.5l1.4 1.6l1.4-1.6v-1.5M243.0 574.1v1.5l1.4 1.6l1.4-1.6v-1.5M263.6 574.1v1.5l1.4 1.6l1.4-1.6v-1.5M265.4 574.0v1.5l1.4 1.6l1.4-1.6v-1.5M261.6 573.8v1.5l1.4 1.6l1.4-1.6v-1.5M245.1 574.2v1.5l1.4 1.6l1.4-1.6v-1.5M241.7 574.1v1.5l1.4 1.6l1.4-1.6v-1.5M253.2 574.3v1.5l1.4 1.6l1.4-1.6v-1.5M257.1 574.2v1.5l1.4 1.6l1.4-1.6v-1.5M242.3 573.9v1.5l1.4 1.6l1.4-1.6v-1.5M255.7 574.1v1.5l1.4 1.6l1.4-1.6v-1.5M264.5 574.4v1.5l1.4 1.6l1.4-1.6v-1.5M262.1 574.3v1.5l1.4 1.6l1.4-1.6v-1.5M247.6 574.1v1.5l1.4 1.6l1.4-1.6v-1.5M253.8 574.2v1.5l1.4 1.6l1.4-1.6v-1.5M247.9 574.1v1.5l1.4 1.6l1.4-1.6v-1.5M246.7 574.3v1.5l1.4 1.6l1.4-1.6v-1.5M241.2 574.3v1.5l1.4 1.6l1.4-1.6v-1.5M262.4 573.9v1.5l1.4 1.6l1.4-1.6v-1.5M262.5 573.9v1.5l1.4 1.6l1.4-1.6v-1.5M257.7 573.8v1.5l1.4 1.6l1.4-1.6v-1.5M247.9 574.1v1.5l1.4 1.6l1.4-1.6v-1.5M265.4 574.2v1.5l1.4 1.6l1.4-1.6v-1.5M245.4 573.8v1.5l1.4 1.6l1.4-1.6v-1.5M261.7 574.0v1.5l1.4 1.6l1.4-1.6v-1.5M252.4 574.2v1.5l1.4 1.6l1.4-1.6v-1.5M258.7 573.9v1.5l1.4 1.6l1.4-1.6v-1.5M253.9 574.4v1.5l1.4 1.6l1.4-1.6v-1.5M278.8 574.2v1.5l1.4 1.6l1.4-1.6v-1.5M282.1 573.8v1.5l1.4 1.6l1.4-1.6v-1.5M301.0 574.0v1.5l1.4 1.6l1.4-1.6v-1.5M302.8 574.1v1.5l1.4 1.6l1.4-1.6v-1.5M286.3 574.0v1.5l1.4 1.6l1.4-1.6v-1.5M268.8 574.3v1.5l1.4 1.6l1.4-1.6v-1.5M276.2 574.3v1.5l1.4 1.6l1.4-1.6v-1.5M289.9 574.3v1.5l1.4 1.6l1.4-1.6v-1.5M279.2 574.0v1.5l1.4 1.6l1.4-1.6v-1.5M250.2 600.2v1.5l1.4 1.6l1.4-1.6v-1.5M245.3 600.5v1.5l1.4 1.6l1.4-1.6v-1.5M242.9 600.3v1.5l1.4 1.6l1.4-1.6v-1.5M252.4 600.6v1.5l1.4 1.6l1.4-1.6v-1.5M248.3 600.6v1.5l1.4 1.6l1.4-1.6v-1.5M262.5 600.6v1.5l1.4 1.6l1.4-1.6v-1.5M272.8 600.8v1.5l1.4 1.6l1.4-1.6v-1.5M251.4 600.5v1.5l1.4 1.6l1.4-1.6v-1.5M271.0 600.7v1.5l1.4 1.6l1.4-1.6v-1.5M265.4 600.7v1.5l1.4 1.6l1.4-1.6v-1.5M287.9 600.4v1.5l1.4 1.6l1.4-1.6v-1.5M285.8 600.6v1.5l1.4 1.6l1.4-1.6v-1.5M285.4 600.3v1.5l1.4 1.6l1.4-1.6v-1.5M301.4 600.3v1.5l1.4 1.6l1.4-1.6v-1.5M303.8 600.7v1.5l1.4 1.6l1.4-1.6v-1.5M286.9 600.8v1.5l1.4 1.6l1.4-1.6v-1.5M275.5 600.4v1.5l1.4 1.6l1.4-1.6v-1.5M273.3 600.3v1.5l1.4 1.6l1.4-1.6v-1.5M285.6 600.2v1.5l1.4 1.6l1.4-1.6v-1.5M295.5 600.5v1.5l1.4 1.6l1.4-1.6v-1.5M284.5 600.5v1.5l1.4 1.6l1.4-1.6v-1.5M280.9 600.7v1.5l1.4 1.6l1.4-1.6v-1.5M276.1 600.6v1.5l1.4 1.6l1.4-1.6v-1.5M274.4 600.6v1.5l1.4 1.6l1.4-1.6v-1.5M282.9 600.3v1.5l1.4 1.6l1.4-1.6v-1.5M298.3 600.2v1.5l1.4 1.6l1.4-1.6v-1.5M298.1 600.4v1.5l1.4 1.6l1.4-1.6v-1.5M277.4 600.2v1.5l1.4 1.6l1.4-1.6v-1.5M301.5 600.2v1.5l1.4 1.6l1.4-1.6v-1.5M300.4 600.3v1.5l1.4 1.6l1.4-1.6v-1.5M291.5 600.5v1.5l1.4 1.6l1.4-1.6v-1.5M294.2 600.4v1.5l1.4 1.6l1.4-1.6v-1.5M286.3 600.4v1.5l1.4 1.6l1.4-1.6v-1.5M291.8 600.6v1.5l1.4 1.6l1.4-1.6v-1.5M281.4 600.7v1.5l1.4 1.6l1.4-1.6v-1.5M305.2 600.5v1.5l1.4 1.6l1.4-1.6v-1.5M293.9 600.7v1.5l1.4 1.6l1.4-1.6v-1.5M296.4 600.7v1.5l1.4 1.6l1.4-1.6v-1.5M271.0 600.5v1.5l1.4 1.6l1.4-1.6v-1.5M302.0 600.6v1.5l1.4 1.6l1.4-1.6v-1.5M296.3 600.3v1.5l1.4 1.6l1.4-1.6v-1.5M273.5 600.3v1.5l1.4 1.6l1.4-1.6v-1.5M278.8 600.6v1.5l1.4 1.6l1.4-1.6v-1.5M295.1 600.3v1.5l1.4 1.6l1.4-1.6v-1.5M303.3 600.6v1.5l1.4 1.6l1.4-1.6v-1.5M301.9 600.5v1.5l1.4 1.6l1.4-1.6v-1.5M290.4 600.3v1.5l1.4 1.6l1.4-1.6v-1.5M284.2 600.6v1.5l1.4 1.6l1.4-1.6v-1.5M305.2 600.7v1.5l1.4 1.6l1.4-1.6v-1.5M276.5 600.7v1.5l1.4 1.6l1.4-1.6v-1.5M303.0 600.3v1.5l1.4 1.6l1.4-1.6v-1.5M303.4 600.7v1.5l1.4 1.6l1.4-1.6v-1.5M297.9 600.2v1.5l1.4 1.6l1.4-1.6v-1.5M301.2 600.7v1.5l1.4 1.6l1.4-1.6v-1.5M273.8 600.7v1.5l1.4 1.6l1.4-1.6v-1.5M299.7 600.3v1.5l1.4 1.6l1.4-1.6v-1.5M277.7 600.4v1.5l1.4 1.6l1.4-1.6v-1.5M292.9 600.6v1.5l1.4 1.6l1.4-1.6v-1.5M287.8 600.5v1.5l1.4 1.6l1.4-1.6v-1.5M280.9 600.2v1.5l1.4 1.6l1.4-1.6v-1.5M285.4 600.3v1.5l1.4 1.6l1.4-1.6v-1.5M274.2 600.4v1.5l1.4 1.6l1.4-1.6v-1.5M288.3 600.8v1.5l1.4 1.6l1.4-1.6v-1.5M288.3 600.6v1.5l1.4 1.6l1.4-1.6v-1.5M272.6 600.6v1.5l1.4 1.6l1.4-1.6v-1.5" fill="#84bff7" fill-opacity=".4" stroke="#84bff7" stroke-opacity=".8" stroke-width=".9" stroke-linejoin="round"/><path d="M314.6 550.8h-2.7a.9 .9 0 0 1-.18-1.76a1.45 1.45 0 0 1 2.75-.4a1.08 1.08 0 0 1 .13 2.16zM321.4 550.7h-2.7a.9 .9 0 0 1-.18-1.76a1.45 1.45 0 0 1 2.75-.4a1.08 1.08 0 0 1 .13 2.16zM325.8 550.6h-2.7a.9 .9 0 0 1-.18-1.76a1.45 1.45 0 0 1 2.75-.4a1.08 1.08 0 0 1 .13 2.16zM319.2 550.5h-2.7a.9 .9 0 0 1-.18-1.76a1.45 1.45 0 0 1 2.75-.4a1.08 1.08 0 0 1 .13 2.16zM315.1 550.8h-2.7a.9 .9 0 0 1-.18-1.76a1.45 1.45 0 0 1 2.75-.4a1.08 1.08 0 0 1 .13 2.16zM309.4 550.8h-2.7a.9 .9 0 0 1-.18-1.76a1.45 1.45 0 0 1 2.75-.4a1.08 1.08 0 0 1 .13 2.16zM341.1 550.5h-2.7a.9 .9 0 0 1-.18-1.76a1.45 1.45 0 0 1 2.75-.4a1.08 1.08 0 0 1 .13 2.16zM317.0 550.8h-2.7a.9 .9 0 0 1-.18-1.76a1.45 1.45 0 0 1 2.75-.4a1.08 1.08 0 0 1 .13 2.16zM326.5 550.4h-2.7a.9 .9 0 0 1-.18-1.76a1.45 1.45 0 0 1 2.75-.4a1.08 1.08 0 0 1 .13 2.16zM331.1 550.9h-2.7a.9 .9 0 0 1-.18-1.76a1.45 1.45 0 0 1 2.75-.4a1.08 1.08 0 0 1 .13 2.16zM344.5 550.6h-2.7a.9 .9 0 0 1-.18-1.76a1.45 1.45 0 0 1 2.75-.4a1.08 1.08 0 0 1 .13 2.16zM331.4 550.7h-2.7a.9 .9 0 0 1-.18-1.76a1.45 1.45 0 0 1 2.75-.4a1.08 1.08 0 0 1 .13 2.16zM322.7 550.3h-2.7a.9 .9 0 0 1-.18-1.76a1.45 1.45 0 0 1 2.75-.4a1.08 1.08 0 0 1 .13 2.16zM330.0 550.4h-2.7a.9 .9 0 0 1-.18-1.76a1.45 1.45 0 0 1 2.75-.4a1.08 1.08 0 0 1 .13 2.16zM320.5 550.5h-2.7a.9 .9 0 0 1-.18-1.76a1.45 1.45 0 0 1 2.75-.4a1.08 1.08 0 0 1 .13 2.16zM330.8 550.3h-2.7a.9 .9 0 0 1-.18-1.76a1.45 1.45 0 0 1 2.75-.4a1.08 1.08 0 0 1 .13 2.16zM318.4 550.3h-2.7a.9 .9 0 0 1-.18-1.76a1.45 1.45 0 0 1 2.75-.4a1.08 1.08 0 0 1 .13 2.16zM344.0 550.9h-2.7a.9 .9 0 0 1-.18-1.76a1.45 1.45 0 0 1 2.75-.4a1.08 1.08 0 0 1 .13 2.16zM337.9 550.3h-2.7a.9 .9 0 0 1-.18-1.76a1.45 1.45 0 0 1 2.75-.4a1.08 1.08 0 0 1 .13 2.16zM313.9 550.8h-2.7a.9 .9 0 0 1-.18-1.76a1.45 1.45 0 0 1 2.75-.4a1.08 1.08 0 0 1 .13 2.16zM328.3 550.7h-2.7a.9 .9 0 0 1-.18-1.76a1.45 1.45 0 0 1 2.75-.4a1.08 1.08 0 0 1 .13 2.16zM323.3 550.9h-2.7a.9 .9 0 0 1-.18-1.76a1.45 1.45 0 0 1 2.75-.4a1.08 1.08 0 0 1 .13 2.16zM321.1 550.7h-2.7a.9 .9 0 0 1-.18-1.76a1.45 1.45 0 0 1 2.75-.4a1.08 1.08 0 0 1 .13 2.16zM332.1 550.5h-2.7a.9 .9 0 0 1-.18-1.76a1.45 1.45 0 0 1 2.75-.4a1.08 1.08 0 0 1 .13 2.16zM320.5 550.9h-2.7a.9 .9 0 0 1-.18-1.76a1.45 1.45 0 0 1 2.75-.4a1.08 1.08 0 0 1 .13 2.16zM346.8 550.8h-2.7a.9 .9 0 0 1-.18-1.76a1.45 1.45 0 0 1 2.75-.4a1.08 1.08 0 0 1 .13 2.16zM338.6 550.6h-2.7a.9 .9 0 0 1-.18-1.76a1.45 1.45 0 0 1 2.75-.4a1.08 1.08 0 0 1 .13 2.16zM322.0 550.4h-2.7a.9 .9 0 0 1-.18-1.76a1.45 1.45 0 0 1 2.75-.4a1.08 1.08 0 0 1 .13 2.16zM347.2 550.8h-2.7a.9 .9 0 0 1-.18-1.76a1.45 1.45 0 0 1 2.75-.4a1.08 1.08 0 0 1 .13 2.16zM319.4 550.8h-2.7a.9 .9 0 0 1-.18-1.76a1.45 1.45 0 0 1 2.75-.4a1.08 1.08 0 0 1 .13 2.16zM332.7 550.4h-2.7a.9 .9 0 0 1-.18-1.76a1.45 1.45 0 0 1 2.75-.4a1.08 1.08 0 0 1 .13 2.16zM322.0 550.4h-2.7a.9 .9 0 0 1-.18-1.76a1.45 1.45 0 0 1 2.75-.4a1.08 1.08 0 0 1 .13 2.16zM340.3 550.8h-2.7a.9 .9 0 0 1-.18-1.76a1.45 1.45 0 0 1 2.75-.4a1.08 1.08 0 0 1 .13 2.16zM334.6 550.6h-2.7a.9 .9 0 0 1-.18-1.76a1.45 1.45 0 0 1 2.75-.4a1.08 1.08 0 0 1 .13 2.16zM343.9 550.5h-2.7a.9 .9 0 0 1-.18-1.76a1.45 1.45 0 0 1 2.75-.4a1.08 1.08 0 0 1 .13 2.16zM314.7 550.7h-2.7a.9 .9 0 0 1-.18-1.76a1.45 1.45 0 0 1 2.75-.4a1.08 1.08 0 0 1 .13 2.16zM346.1 550.8h-2.7a.9 .9 0 0 1-.18-1.76a1.45 1.45 0 0 1 2.75-.4a1.08 1.08 0 0 1 .13 2.16zM342.8 550.6h-2.7a.9 .9 0 0 1-.18-1.76a1.45 1.45 0 0 1 2.75-.4a1.08 1.08 0 0 1 .13 2.16zM328.6 550.7h-2.7a.9 .9 0 0 1-.18-1.76a1.45 1.45 0 0 1 2.75-.4a1.08 1.08 0 0 1 .13 2.16zM330.8 550.9h-2.7a.9 .9 0 0 1-.18-1.76a1.45 1.45 0 0 1 2.75-.4a1.08 1.08 0 0 1 .13 2.16zM336.7 550.8h-2.7a.9 .9 0 0 1-.18-1.76a1.45 1.45 0 0 1 2.75-.4a1.08 1.08 0 0 1 .13 2.16zM334.0 550.3h-2.7a.9 .9 0 0 1-.18-1.76a1.45 1.45 0 0 1 2.75-.4a1.08 1.08 0 0 1 .13 2.16zM312.0 550.4h-2.7a.9 .9 0 0 1-.18-1.76a1.45 1.45 0 0 1 2.75-.4a1.08 1.08 0 0 1 .13 2.16zM333.1 550.8h-2.7a.9 .9 0 0 1-.18-1.76a1.45 1.45 0 0 1 2.75-.4a1.08 1.08 0 0 1 .13 2.16zM345.5 550.7h-2.7a.9 .9 0 0 1-.18-1.76a1.45 1.45 0 0 1 2.75-.4a1.08 1.08 0 0 1 .13 2.16zM319.7 550.7h-2.7a.9 .9 0 0 1-.18-1.76a1.45 1.45 0 0 1 2.75-.4a1.08 1.08 0 0 1 .13 2.16zM318.8 550.6h-2.7a.9 .9 0 0 1-.18-1.76a1.45 1.45 0 0 1 2.75-.4a1.08 1.08 0 0 1 .13 2.16zM329.0 550.9h-2.7a.9 .9 0 0 1-.18-1.76a1.45 1.45 0 0 1 2.75-.4a1.08 1.08 0 0 1 .13 2.16zM346.0 550.3h-2.7a.9 .9 0 0 1-.18-1.76a1.45 1.45 0 0 1 2.75-.4a1.08 1.08 0 0 1 .13 2.16zM342.5 550.7h-2.7a.9 .9 0 0 1-.18-1.76a1.45 1.45 0 0 1 2.75-.4a1.08 1.08 0 0 1 .13 2.16zM333.4 550.6h-2.7a.9 .9 0 0 1-.18-1.76a1.45 1.45 0 0 1 2.75-.4a1.08 1.08 0 0 1 .13 2.16zM345.4 550.8h-2.7a.9 .9 0 0 1-.18-1.76a1.45 1.45 0 0 1 2.75-.4a1.08 1.08 0 0 1 .13 2.16zM314.7 550.5h-2.7a.9 .9 0 0 1-.18-1.76a1.45 1.45 0 0 1 2.75-.4a1.08 1.08 0 0 1 .13 2.16zM319.1 550.4h-2.7a.9 .9 0 0 1-.18-1.76a1.45 1.45 0 0 1 2.75-.4a1.08 1.08 0 0 1 .13 2.16zM317.2 550.7h-2.7a.9 .9 0 0 1-.18-1.76a1.45 1.45 0 0 1 2.75-.4a1.08 1.08 0 0 1 .13 2.16zM323.9 550.4h-2.7a.9 .9 0 0 1-.18-1.76a1.45 1.45 0 0 1 2.75-.4a1.08 1.08 0 0 1 .13 2.16zM322.2 550.8h-2.7a.9 .9 0 0 1-.18-1.76a1.45 1.45 0 0 1 2.75-.4a1.08 1.08 0 0 1 .13 2.16zM314.8 550.8h-2.7a.9 .9 0 0 1-.18-1.76a1.45 1.45 0 0 1 2.75-.4a1.08 1.08 0 0 1 .13 2.16zM333.5 550.6h-2.7a.9 .9 0 0 1-.18-1.76a1.45 1.45 0 0 1 2.75-.4a1.08 1.08 0 0 1 .13 2.16zM315.5 550.9h-2.7a.9 .9 0 0 1-.18-1.76a1.45 1.45 0 0 1 2.75-.4a1.08 1.08 0 0 1 .13 2.16zM476.3 550.7h-2.7a.9 .9 0 0 1-.18-1.76a1.45 1.45 0 0 1 2.75-.4a1.08 1.08 0 0 1 .13 2.16zM433.0 550.7h-2.7a.9 .9 0 0 1-.18-1.76a1.45 1.45 0 0 1 2.75-.4a1.08 1.08 0 0 1 .13 2.16zM412.1 550.3h-2.7a.9 .9 0 0 1-.18-1.76a1.45 1.45 0 0 1 2.75-.4a1.08 1.08 0 0 1 .13 2.16zM382.0 550.5h-2.7a.9 .9 0 0 1-.18-1.76a1.45 1.45 0 0 1 2.75-.4a1.08 1.08 0 0 1 .13 2.16zM369.6 550.8h-2.7a.9 .9 0 0 1-.18-1.76a1.45 1.45 0 0 1 2.75-.4a1.08 1.08 0 0 1 .13 2.16zM435.7 550.8h-2.7a.9 .9 0 0 1-.18-1.76a1.45 1.45 0 0 1 2.75-.4a1.08 1.08 0 0 1 .13 2.16zM484.6 550.7h-2.7a.9 .9 0 0 1-.18-1.76a1.45 1.45 0 0 1 2.75-.4a1.08 1.08 0 0 1 .13 2.16zM451.6 550.4h-2.7a.9 .9 0 0 1-.18-1.76a1.45 1.45 0 0 1 2.75-.4a1.08 1.08 0 0 1 .13 2.16zM369.8 550.7h-2.7a.9 .9 0 0 1-.18-1.76a1.45 1.45 0 0 1 2.75-.4a1.08 1.08 0 0 1 .13 2.16zM483.1 550.4h-2.7a.9 .9 0 0 1-.18-1.76a1.45 1.45 0 0 1 2.75-.4a1.08 1.08 0 0 1 .13 2.16zM479.0 550.6h-2.7a.9 .9 0 0 1-.18-1.76a1.45 1.45 0 0 1 2.75-.4a1.08 1.08 0 0 1 .13 2.16zM440.4 550.8h-2.7a.9 .9 0 0 1-.18-1.76a1.45 1.45 0 0 1 2.75-.4a1.08 1.08 0 0 1 .13 2.16zM487.1 550.8h-2.7a.9 .9 0 0 1-.18-1.76a1.45 1.45 0 0 1 2.75-.4a1.08 1.08 0 0 1 .13 2.16zM476.2 550.7h-2.7a.9 .9 0 0 1-.18-1.76a1.45 1.45 0 0 1 2.75-.4a1.08 1.08 0 0 1 .13 2.16zM476.8 550.8h-2.7a.9 .9 0 0 1-.18-1.76a1.45 1.45 0 0 1 2.75-.4a1.08 1.08 0 0 1 .13 2.16zM393.5 550.6h-2.7a.9 .9 0 0 1-.18-1.76a1.45 1.45 0 0 1 2.75-.4a1.08 1.08 0 0 1 .13 2.16zM362.0 550.4h-2.7a.9 .9 0 0 1-.18-1.76a1.45 1.45 0 0 1 2.75-.4a1.08 1.08 0 0 1 .13 2.16zM492.4 550.4h-2.7a.9 .9 0 0 1-.18-1.76a1.45 1.45 0 0 1 2.75-.4a1.08 1.08 0 0 1 .13 2.16zM414.0 550.4h-2.7a.9 .9 0 0 1-.18-1.76a1.45 1.45 0 0 1 2.75-.4a1.08 1.08 0 0 1 .13 2.16zM388.9 550.5h-2.7a.9 .9 0 0 1-.18-1.76a1.45 1.45 0 0 1 2.75-.4a1.08 1.08 0 0 1 .13 2.16zM368.3 550.7h-2.7a.9 .9 0 0 1-.18-1.76a1.45 1.45 0 0 1 2.75-.4a1.08 1.08 0 0 1 .13 2.16zM386.9 550.4h-2.7a.9 .9 0 0 1-.18-1.76a1.45 1.45 0 0 1 2.75-.4a1.08 1.08 0 0 1 .13 2.16zM493.0 550.6h-2.7a.9 .9 0 0 1-.18-1.76a1.45 1.45 0 0 1 2.75-.4a1.08 1.08 0 0 1 .13 2.16zM492.4 550.9h-2.7a.9 .9 0 0 1-.18-1.76a1.45 1.45 0 0 1 2.75-.4a1.08 1.08 0 0 1 .13 2.16zM497.7 550.8h-2.7a.9 .9 0 0 1-.18-1.76a1.45 1.45 0 0 1 2.75-.4a1.08 1.08 0 0 1 .13 2.16zM494.1 550.4h-2.7a.9 .9 0 0 1-.18-1.76a1.45 1.45 0 0 1 2.75-.4a1.08 1.08 0 0 1 .13 2.16zM324.1 577.0h-2.7a.9 .9 0 0 1-.18-1.76a1.45 1.45 0 0 1 2.75-.4a1.08 1.08 0 0 1 .13 2.16zM330.2 576.9h-2.7a.9 .9 0 0 1-.18-1.76a1.45 1.45 0 0 1 2.75-.4a1.08 1.08 0 0 1 .13 2.16zM327.3 576.9h-2.7a.9 .9 0 0 1-.18-1.76a1.45 1.45 0 0 1 2.75-.4a1.08 1.08 0 0 1 .13 2.16zM315.4 577.1h-2.7a.9 .9 0 0 1-.18-1.76a1.45 1.45 0 0 1 2.75-.4a1.08 1.08 0 0 1 .13 2.16zM321.6 576.8h-2.7a.9 .9 0 0 1-.18-1.76a1.45 1.45 0 0 1 2.75-.4a1.08 1.08 0 0 1 .13 2.16zM310.1 576.7h-2.7a.9 .9 0 0 1-.18-1.76a1.45 1.45 0 0 1 2.75-.4a1.08 1.08 0 0 1 .13 2.16zM316.9 576.9h-2.7a.9 .9 0 0 1-.18-1.76a1.45 1.45 0 0 1 2.75-.4a1.08 1.08 0 0 1 .13 2.16zM318.6 577.0h-2.7a.9 .9 0 0 1-.18-1.76a1.45 1.45 0 0 1 2.75-.4a1.08 1.08 0 0 1 .13 2.16zM316.4 576.8h-2.7a.9 .9 0 0 1-.18-1.76a1.45 1.45 0 0 1 2.75-.4a1.08 1.08 0 0 1 .13 2.16zM314.0 577.0h-2.7a.9 .9 0 0 1-.18-1.76a1.45 1.45 0 0 1 2.75-.4a1.08 1.08 0 0 1 .13 2.16zM330.4 577.3h-2.7a.9 .9 0 0 1-.18-1.76a1.45 1.45 0 0 1 2.75-.4a1.08 1.08 0 0 1 .13 2.16zM329.6 576.9h-2.7a.9 .9 0 0 1-.18-1.76a1.45 1.45 0 0 1 2.75-.4a1.08 1.08 0 0 1 .13 2.16zM341.2 576.8h-2.7a.9 .9 0 0 1-.18-1.76a1.45 1.45 0 0 1 2.75-.4a1.08 1.08 0 0 1 .13 2.16zM342.9 577.1h-2.7a.9 .9 0 0 1-.18-1.76a1.45 1.45 0 0 1 2.75-.4a1.08 1.08 0 0 1 .13 2.16zM402.5 576.8h-2.7a.9 .9 0 0 1-.18-1.76a1.45 1.45 0 0 1 2.75-.4a1.08 1.08 0 0 1 .13 2.16zM352.5 576.9h-2.7a.9 .9 0 0 1-.18-1.76a1.45 1.45 0 0 1 2.75-.4a1.08 1.08 0 0 1 .13 2.16zM355.5 577.0h-2.7a.9 .9 0 0 1-.18-1.76a1.45 1.45 0 0 1 2.75-.4a1.08 1.08 0 0 1 .13 2.16zM383.5 577.3h-2.7a.9 .9 0 0 1-.18-1.76a1.45 1.45 0 0 1 2.75-.4a1.08 1.08 0 0 1 .13 2.16zM375.6 577.1h-2.7a.9 .9 0 0 1-.18-1.76a1.45 1.45 0 0 1 2.75-.4a1.08 1.08 0 0 1 .13 2.16zM391.7 577.1h-2.7a.9 .9 0 0 1-.18-1.76a1.45 1.45 0 0 1 2.75-.4a1.08 1.08 0 0 1 .13 2.16zM381.0 577.1h-2.7a.9 .9 0 0 1-.18-1.76a1.45 1.45 0 0 1 2.75-.4a1.08 1.08 0 0 1 .13 2.16zM397.1 576.8h-2.7a.9 .9 0 0 1-.18-1.76a1.45 1.45 0 0 1 2.75-.4a1.08 1.08 0 0 1 .13 2.16zM353.1 577.1h-2.7a.9 .9 0 0 1-.18-1.76a1.45 1.45 0 0 1 2.75-.4a1.08 1.08 0 0 1 .13 2.16zM359.4 577.2h-2.7a.9 .9 0 0 1-.18-1.76a1.45 1.45 0 0 1 2.75-.4a1.08 1.08 0 0 1 .13 2.16zM374.2 577.3h-2.7a.9 .9 0 0 1-.18-1.76a1.45 1.45 0 0 1 2.75-.4a1.08 1.08 0 0 1 .13 2.16zM386.9 576.9h-2.7a.9 .9 0 0 1-.18-1.76a1.45 1.45 0 0 1 2.75-.4a1.08 1.08 0 0 1 .13 2.16zM359.2 576.7h-2.7a.9 .9 0 0 1-.18-1.76a1.45 1.45 0 0 1 2.75-.4a1.08 1.08 0 0 1 .13 2.16zM355.7 577.0h-2.7a.9 .9 0 0 1-.18-1.76a1.45 1.45 0 0 1 2.75-.4a1.08 1.08 0 0 1 .13 2.16zM390.1 577.3h-2.7a.9 .9 0 0 1-.18-1.76a1.45 1.45 0 0 1 2.75-.4a1.08 1.08 0 0 1 .13 2.16zM391.3 577.0h-2.7a.9 .9 0 0 1-.18-1.76a1.45 1.45 0 0 1 2.75-.4a1.08 1.08 0 0 1 .13 2.16zM382.7 577.1h-2.7a.9 .9 0 0 1-.18-1.76a1.45 1.45 0 0 1 2.75-.4a1.08 1.08 0 0 1 .13 2.16zM354.4 577.1h-2.7a.9 .9 0 0 1-.18-1.76a1.45 1.45 0 0 1 2.75-.4a1.08 1.08 0 0 1 .13 2.16zM354.9 576.8h-2.7a.9 .9 0 0 1-.18-1.76a1.45 1.45 0 0 1 2.75-.4a1.08 1.08 0 0 1 .13 2.16zM399.4 576.9h-2.7a.9 .9 0 0 1-.18-1.76a1.45 1.45 0 0 1 2.75-.4a1.08 1.08 0 0 1 .13 2.16zM387.4 576.9h-2.7a.9 .9 0 0 1-.18-1.76a1.45 1.45 0 0 1 2.75-.4a1.08 1.08 0 0 1 .13 2.16zM362.2 577.0h-2.7a.9 .9 0 0 1-.18-1.76a1.45 1.45 0 0 1 2.75-.4a1.08 1.08 0 0 1 .13 2.16zM382.4 577.3h-2.7a.9 .9 0 0 1-.18-1.76a1.45 1.45 0 0 1 2.75-.4a1.08 1.08 0 0 1 .13 2.16zM382.4 576.8h-2.7a.9 .9 0 0 1-.18-1.76a1.45 1.45 0 0 1 2.75-.4a1.08 1.08 0 0 1 .13 2.16zM351.3 577.0h-2.7a.9 .9 0 0 1-.18-1.76a1.45 1.45 0 0 1 2.75-.4a1.08 1.08 0 0 1 .13 2.16zM356.3 576.9h-2.7a.9 .9 0 0 1-.18-1.76a1.45 1.45 0 0 1 2.75-.4a1.08 1.08 0 0 1 .13 2.16zM355.7 576.7h-2.7a.9 .9 0 0 1-.18-1.76a1.45 1.45 0 0 1 2.75-.4a1.08 1.08 0 0 1 .13 2.16zM393.4 577.0h-2.7a.9 .9 0 0 1-.18-1.76a1.45 1.45 0 0 1 2.75-.4a1.08 1.08 0 0 1 .13 2.16zM373.6 577.1h-2.7a.9 .9 0 0 1-.18-1.76a1.45 1.45 0 0 1 2.75-.4a1.08 1.08 0 0 1 .13 2.16zM397.3 576.7h-2.7a.9 .9 0 0 1-.18-1.76a1.45 1.45 0 0 1 2.75-.4a1.08 1.08 0 0 1 .13 2.16zM401.4 577.1h-2.7a.9 .9 0 0 1-.18-1.76a1.45 1.45 0 0 1 2.75-.4a1.08 1.08 0 0 1 .13 2.16zM384.8 577.1h-2.7a.9 .9 0 0 1-.18-1.76a1.45 1.45 0 0 1 2.75-.4a1.08 1.08 0 0 1 .13 2.16zM396.7 577.1h-2.7a.9 .9 0 0 1-.18-1.76a1.45 1.45 0 0 1 2.75-.4a1.08 1.08 0 0 1 .13 2.16zM397.4 576.9h-2.7a.9 .9 0 0 1-.18-1.76a1.45 1.45 0 0 1 2.75-.4a1.08 1.08 0 0 1 .13 2.16zM361.2 577.1h-2.7a.9 .9 0 0 1-.18-1.76a1.45 1.45 0 0 1 2.75-.4a1.08 1.08 0 0 1 .13 2.16zM391.1 577.3h-2.7a.9 .9 0 0 1-.18-1.76a1.45 1.45 0 0 1 2.75-.4a1.08 1.08 0 0 1 .13 2.16zM397.5 577.1h-2.7a.9 .9 0 0 1-.18-1.76a1.45 1.45 0 0 1 2.75-.4a1.08 1.08 0 0 1 .13 2.16zM395.6 577.1h-2.7a.9 .9 0 0 1-.18-1.76a1.45 1.45 0 0 1 2.75-.4a1.08 1.08 0 0 1 .13 2.16zM383.7 577.1h-2.7a.9 .9 0 0 1-.18-1.76a1.45 1.45 0 0 1 2.75-.4a1.08 1.08 0 0 1 .13 2.16zM358.8 576.9h-2.7a.9 .9 0 0 1-.18-1.76a1.45 1.45 0 0 1 2.75-.4a1.08 1.08 0 0 1 .13 2.16zM382.7 576.8h-2.7a.9 .9 0 0 1-.18-1.76a1.45 1.45 0 0 1 2.75-.4a1.08 1.08 0 0 1 .13 2.16zM366.5 576.7h-2.7a.9 .9 0 0 1-.18-1.76a1.45 1.45 0 0 1 2.75-.4a1.08 1.08 0 0 1 .13 2.16zM351.5 577.3h-2.7a.9 .9 0 0 1-.18-1.76a1.45 1.45 0 0 1 2.75-.4a1.08 1.08 0 0 1 .13 2.16zM354.2 576.8h-2.7a.9 .9 0 0 1-.18-1.76a1.45 1.45 0 0 1 2.75-.4a1.08 1.08 0 0 1 .13 2.16zM387.2 577.0h-2.7a.9 .9 0 0 1-.18-1.76a1.45 1.45 0 0 1 2.75-.4a1.08 1.08 0 0 1 .13 2.16zM358.1 577.0h-2.7a.9 .9 0 0 1-.18-1.76a1.45 1.45 0 0 1 2.75-.4a1.08 1.08 0 0 1 .13 2.16zM385.8 576.8h-2.7a.9 .9 0 0 1-.18-1.76a1.45 1.45 0 0 1 2.75-.4a1.08 1.08 0 0 1 .13 2.16zM392.3 576.8h-2.7a.9 .9 0 0 1-.18-1.76a1.45 1.45 0 0 1 2.75-.4a1.08 1.08 0 0 1 .13 2.16zM357.0 577.2h-2.7a.9 .9 0 0 1-.18-1.76a1.45 1.45 0 0 1 2.75-.4a1.08 1.08 0 0 1 .13 2.16zM375.2 576.8h-2.7a.9 .9 0 0 1-.18-1.76a1.45 1.45 0 0 1 2.75-.4a1.08 1.08 0 0 1 .13 2.16zM388.4 576.8h-2.7a.9 .9 0 0 1-.18-1.76a1.45 1.45 0 0 1 2.75-.4a1.08 1.08 0 0 1 .13 2.16zM380.1 576.8h-2.7a.9 .9 0 0 1-.18-1.76a1.45 1.45 0 0 1 2.75-.4a1.08 1.08 0 0 1 .13 2.16zM388.8 577.1h-2.7a.9 .9 0 0 1-.18-1.76a1.45 1.45 0 0 1 2.75-.4a1.08 1.08 0 0 1 .13 2.16zM369.1 576.7h-2.7a.9 .9 0 0 1-.18-1.76a1.45 1.45 0 0 1 2.75-.4a1.08 1.08 0 0 1 .13 2.16zM387.7 576.9h-2.7a.9 .9 0 0 1-.18-1.76a1.45 1.45 0 0 1 2.75-.4a1.08 1.08 0 0 1 .13 2.16zM397.8 577.3h-2.7a.9 .9 0 0 1-.18-1.76a1.45 1.45 0 0 1 2.75-.4a1.08 1.08 0 0 1 .13 2.16zM355.1 576.7h-2.7a.9 .9 0 0 1-.18-1.76a1.45 1.45 0 0 1 2.75-.4a1.08 1.08 0 0 1 .13 2.16zM353.3 576.7h-2.7a.9 .9 0 0 1-.18-1.76a1.45 1.45 0 0 1 2.75-.4a1.08 1.08 0 0 1 .13 2.16zM351.9 577.3h-2.7a.9 .9 0 0 1-.18-1.76a1.45 1.45 0 0 1 2.75-.4a1.08 1.08 0 0 1 .13 2.16zM367.2 577.2h-2.7a.9 .9 0 0 1-.18-1.76a1.45 1.45 0 0 1 2.75-.4a1.08 1.08 0 0 1 .13 2.16zM385.6 577.1h-2.7a.9 .9 0 0 1-.18-1.76a1.45 1.45 0 0 1 2.75-.4a1.08 1.08 0 0 1 .13 2.16zM368.8 576.9h-2.7a.9 .9 0 0 1-.18-1.76a1.45 1.45 0 0 1 2.75-.4a1.08 1.08 0 0 1 .13 2.16zM362.3 576.7h-2.7a.9 .9 0 0 1-.18-1.76a1.45 1.45 0 0 1 2.75-.4a1.08 1.08 0 0 1 .13 2.16zM381.0 576.8h-2.7a.9 .9 0 0 1-.18-1.76a1.45 1.45 0 0 1 2.75-.4a1.08 1.08 0 0 1 .13 2.16zM385.3 576.8h-2.7a.9 .9 0 0 1-.18-1.76a1.45 1.45 0 0 1 2.75-.4a1.08 1.08 0 0 1 .13 2.16zM362.0 576.9h-2.7a.9 .9 0 0 1-.18-1.76a1.45 1.45 0 0 1 2.75-.4a1.08 1.08 0 0 1 .13 2.16zM357.1 577.0h-2.7a.9 .9 0 0 1-.18-1.76a1.45 1.45 0 0 1 2.75-.4a1.08 1.08 0 0 1 .13 2.16zM395.1 576.8h-2.7a.9 .9 0 0 1-.18-1.76a1.45 1.45 0 0 1 2.75-.4a1.08 1.08 0 0 1 .13 2.16zM387.6 576.7h-2.7a.9 .9 0 0 1-.18-1.76a1.45 1.45 0 0 1 2.75-.4a1.08 1.08 0 0 1 .13 2.16zM364.4 576.9h-2.7a.9 .9 0 0 1-.18-1.76a1.45 1.45 0 0 1 2.75-.4a1.08 1.08 0 0 1 .13 2.16zM317.3 603.2h-2.7a.9 .9 0 0 1-.18-1.76a1.45 1.45 0 0 1 2.75-.4a1.08 1.08 0 0 1 .13 2.16zM324.0 603.3h-2.7a.9 .9 0 0 1-.18-1.76a1.45 1.45 0 0 1 2.75-.4a1.08 1.08 0 0 1 .13 2.16zM312.5 603.6h-2.7a.9 .9 0 0 1-.18-1.76a1.45 1.45 0 0 1 2.75-.4a1.08 1.08 0 0 1 .13 2.16zM326.5 603.1h-2.7a.9 .9 0 0 1-.18-1.76a1.45 1.45 0 0 1 2.75-.4a1.08 1.08 0 0 1 .13 2.16zM323.3 603.4h-2.7a.9 .9 0 0 1-.18-1.76a1.45 1.45 0 0 1 2.75-.4a1.08 1.08 0 0 1 .13 2.16zM325.1 603.3h-2.7a.9 .9 0 0 1-.18-1.76a1.45 1.45 0 0 1 2.75-.4a1.08 1.08 0 0 1 .13 2.16zM323.2 603.6h-2.7a.9 .9 0 0 1-.18-1.76a1.45 1.45 0 0 1 2.75-.4a1.08 1.08 0 0 1 .13 2.16zM313.0 603.6h-2.7a.9 .9 0 0 1-.18-1.76a1.45 1.45 0 0 1 2.75-.4a1.08 1.08 0 0 1 .13 2.16zM316.4 603.6h-2.7a.9 .9 0 0 1-.18-1.76a1.45 1.45 0 0 1 2.75-.4a1.08 1.08 0 0 1 .13 2.16zM314.3 603.6h-2.7a.9 .9 0 0 1-.18-1.76a1.45 1.45 0 0 1 2.75-.4a1.08 1.08 0 0 1 .13 2.16zM313.0 603.5h-2.7a.9 .9 0 0 1-.18-1.76a1.45 1.45 0 0 1 2.75-.4a1.08 1.08 0 0 1 .13 2.16zM320.1 603.2h-2.7a.9 .9 0 0 1-.18-1.76a1.45 1.45 0 0 1 2.75-.4a1.08 1.08 0 0 1 .13 2.16zM334.9 603.4h-2.7a.9 .9 0 0 1-.18-1.76a1.45 1.45 0 0 1 2.75-.4a1.08 1.08 0 0 1 .13 2.16zM360.0 603.5h-2.7a.9 .9 0 0 1-.18-1.76a1.45 1.45 0 0 1 2.75-.4a1.08 1.08 0 0 1 .13 2.16zM359.9 603.5h-2.7a.9 .9 0 0 1-.18-1.76a1.45 1.45 0 0 1 2.75-.4a1.08 1.08 0 0 1 .13 2.16zM352.8 603.6h-2.7a.9 .9 0 0 1-.18-1.76a1.45 1.45 0 0 1 2.75-.4a1.08 1.08 0 0 1 .13 2.16zM356.7 603.4h-2.7a.9 .9 0 0 1-.18-1.76a1.45 1.45 0 0 1 2.75-.4a1.08 1.08 0 0 1 .13 2.16zM356.2 603.2h-2.7a.9 .9 0 0 1-.18-1.76a1.45 1.45 0 0 1 2.75-.4a1.08 1.08 0 0 1 .13 2.16zM373.3 603.4h-2.7a.9 .9 0 0 1-.18-1.76a1.45 1.45 0 0 1 2.75-.4a1.08 1.08 0 0 1 .13 2.16zM375.0 603.3h-2.7a.9 .9 0 0 1-.18-1.76a1.45 1.45 0 0 1 2.75-.4a1.08 1.08 0 0 1 .13 2.16zM372.6 603.2h-2.7a.9 .9 0 0 1-.18-1.76a1.45 1.45 0 0 1 2.75-.4a1.08 1.08 0 0 1 .13 2.16zM392.7 603.4h-2.7a.9 .9 0 0 1-.18-1.76a1.45 1.45 0 0 1 2.75-.4a1.08 1.08 0 0 1 .13 2.16zM393.0 603.1h-2.7a.9 .9 0 0 1-.18-1.76a1.45 1.45 0 0 1 2.75-.4a1.08 1.08 0 0 1 .13 2.16zM392.1 603.5h-2.7a.9 .9 0 0 1-.18-1.76a1.45 1.45 0 0 1 2.75-.4a1.08 1.08 0 0 1 .13 2.16zM393.5 603.3h-2.7a.9 .9 0 0 1-.18-1.76a1.45 1.45 0 0 1 2.75-.4a1.08 1.08 0 0 1 .13 2.16zM387.2 603.4h-2.7a.9 .9 0 0 1-.18-1.76a1.45 1.45 0 0 1 2.75-.4a1.08 1.08 0 0 1 .13 2.16zM405.4 603.5h-2.7a.9 .9 0 0 1-.18-1.76a1.45 1.45 0 0 1 2.75-.4a1.08 1.08 0 0 1 .13 2.16zM408.8 603.5h-2.7a.9 .9 0 0 1-.18-1.76a1.45 1.45 0 0 1 2.75-.4a1.08 1.08 0 0 1 .13 2.16zM404.6 603.5h-2.7a.9 .9 0 0 1-.18-1.76a1.45 1.45 0 0 1 2.75-.4a1.08 1.08 0 0 1 .13 2.16zM409.4 603.6h-2.7a.9 .9 0 0 1-.18-1.76a1.45 1.45 0 0 1 2.75-.4a1.08 1.08 0 0 1 .13 2.16zM433.2 603.4h-2.7a.9 .9 0 0 1-.18-1.76a1.45 1.45 0 0 1 2.75-.4a1.08 1.08 0 0 1 .13 2.16zM421.5 603.5h-2.7a.9 .9 0 0 1-.18-1.76a1.45 1.45 0 0 1 2.75-.4a1.08 1.08 0 0 1 .13 2.16zM426.2 603.1h-2.7a.9 .9 0 0 1-.18-1.76a1.45 1.45 0 0 1 2.75-.4a1.08 1.08 0 0 1 .13 2.16zM421.0 603.4h-2.7a.9 .9 0 0 1-.18-1.76a1.45 1.45 0 0 1 2.75-.4a1.08 1.08 0 0 1 .13 2.16zM422.4 603.4h-2.7a.9 .9 0 0 1-.18-1.76a1.45 1.45 0 0 1 2.75-.4a1.08 1.08 0 0 1 .13 2.16zM429.2 603.7h-2.7a.9 .9 0 0 1-.18-1.76a1.45 1.45 0 0 1 2.75-.4a1.08 1.08 0 0 1 .13 2.16zM423.9 603.5h-2.7a.9 .9 0 0 1-.18-1.76a1.45 1.45 0 0 1 2.75-.4a1.08 1.08 0 0 1 .13 2.16zM428.9 603.1h-2.7a.9 .9 0 0 1-.18-1.76a1.45 1.45 0 0 1 2.75-.4a1.08 1.08 0 0 1 .13 2.16zM421.1 603.3h-2.7a.9 .9 0 0 1-.18-1.76a1.45 1.45 0 0 1 2.75-.4a1.08 1.08 0 0 1 .13 2.16zM422.3 603.5h-2.7a.9 .9 0 0 1-.18-1.76a1.45 1.45 0 0 1 2.75-.4a1.08 1.08 0 0 1 .13 2.16zM456.9 603.5h-2.7a.9 .9 0 0 1-.18-1.76a1.45 1.45 0 0 1 2.75-.4a1.08 1.08 0 0 1 .13 2.16zM445.0 603.2h-2.7a.9 .9 0 0 1-.18-1.76a1.45 1.45 0 0 1 2.75-.4a1.08 1.08 0 0 1 .13 2.16zM468.6 603.1h-2.7a.9 .9 0 0 1-.18-1.76a1.45 1.45 0 0 1 2.75-.4a1.08 1.08 0 0 1 .13 2.16zM457.0 603.3h-2.7a.9 .9 0 0 1-.18-1.76a1.45 1.45 0 0 1 2.75-.4a1.08 1.08 0 0 1 .13 2.16zM480.1 603.3h-2.7a.9 .9 0 0 1-.18-1.76a1.45 1.45 0 0 1 2.75-.4a1.08 1.08 0 0 1 .13 2.16zM480.3 603.7h-2.7a.9 .9 0 0 1-.18-1.76a1.45 1.45 0 0 1 2.75-.4a1.08 1.08 0 0 1 .13 2.16zM450.8 603.2h-2.7a.9 .9 0 0 1-.18-1.76a1.45 1.45 0 0 1 2.75-.4a1.08 1.08 0 0 1 .13 2.16zM448.6 603.4h-2.7a.9 .9 0 0 1-.18-1.76a1.45 1.45 0 0 1 2.75-.4a1.08 1.08 0 0 1 .13 2.16zM445.5 603.2h-2.7a.9 .9 0 0 1-.18-1.76a1.45 1.45 0 0 1 2.75-.4a1.08 1.08 0 0 1 .13 2.16zM457.2 603.1h-2.7a.9 .9 0 0 1-.18-1.76a1.45 1.45 0 0 1 2.75-.4a1.08 1.08 0 0 1 .13 2.16zM444.8 603.1h-2.7a.9 .9 0 0 1-.18-1.76a1.45 1.45 0 0 1 2.75-.4a1.08 1.08 0 0 1 .13 2.16zM458.1 603.5h-2.7a.9 .9 0 0 1-.18-1.76a1.45 1.45 0 0 1 2.75-.4a1.08 1.08 0 0 1 .13 2.16zM455.7 603.4h-2.7a.9 .9 0 0 1-.18-1.76a1.45 1.45 0 0 1 2.75-.4a1.08 1.08 0 0 1 .13 2.16zM463.5 603.5h-2.7a.9 .9 0 0 1-.18-1.76a1.45 1.45 0 0 1 2.75-.4a1.08 1.08 0 0 1 .13 2.16zM443.4 603.2h-2.7a.9 .9 0 0 1-.18-1.76a1.45 1.45 0 0 1 2.75-.4a1.08 1.08 0 0 1 .13 2.16zM473.7 603.2h-2.7a.9 .9 0 0 1-.18-1.76a1.45 1.45 0 0 1 2.75-.4a1.08 1.08 0 0 1 .13 2.16zM475.4 603.6h-2.7a.9 .9 0 0 1-.18-1.76a1.45 1.45 0 0 1 2.75-.4a1.08 1.08 0 0 1 .13 2.16zM471.6 603.4h-2.7a.9 .9 0 0 1-.18-1.76a1.45 1.45 0 0 1 2.75-.4a1.08 1.08 0 0 1 .13 2.16zM463.5 603.4h-2.7a.9 .9 0 0 1-.18-1.76a1.45 1.45 0 0 1 2.75-.4a1.08 1.08 0 0 1 .13 2.16zM444.6 603.4h-2.7a.9 .9 0 0 1-.18-1.76a1.45 1.45 0 0 1 2.75-.4a1.08 1.08 0 0 1 .13 2.16zM451.7 603.5h-2.7a.9 .9 0 0 1-.18-1.76a1.45 1.45 0 0 1 2.75-.4a1.08 1.08 0 0 1 .13 2.16zM457.3 603.2h-2.7a.9 .9 0 0 1-.18-1.76a1.45 1.45 0 0 1 2.75-.4a1.08 1.08 0 0 1 .13 2.16zM441.4 603.4h-2.7a.9 .9 0 0 1-.18-1.76a1.45 1.45 0 0 1 2.75-.4a1.08 1.08 0 0 1 .13 2.16zM450.7 603.1h-2.7a.9 .9 0 0 1-.18-1.76a1.45 1.45 0 0 1 2.75-.4a1.08 1.08 0 0 1 .13 2.16zM465.3 603.7h-2.7a.9 .9 0 0 1-.18-1.76a1.45 1.45 0 0 1 2.75-.4a1.08 1.08 0 0 1 .13 2.16zM470.0 603.1h-2.7a.9 .9 0 0 1-.18-1.76a1.45 1.45 0 0 1 2.75-.4a1.08 1.08 0 0 1 .13 2.16zM477.0 603.1h-2.7a.9 .9 0 0 1-.18-1.76a1.45 1.45 0 0 1 2.75-.4a1.08 1.08 0 0 1 .13 2.16zM456.9 603.6h-2.7a.9 .9 0 0 1-.18-1.76a1.45 1.45 0 0 1 2.75-.4a1.08 1.08 0 0 1 .13 2.16zM451.0 603.4h-2.7a.9 .9 0 0 1-.18-1.76a1.45 1.45 0 0 1 2.75-.4a1.08 1.08 0 0 1 .13 2.16zM463.5 603.5h-2.7a.9 .9 0 0 1-.18-1.76a1.45 1.45 0 0 1 2.75-.4a1.08 1.08 0 0 1 .13 2.16zM459.9 603.6h-2.7a.9 .9 0 0 1-.18-1.76a1.45 1.45 0 0 1 2.75-.4a1.08 1.08 0 0 1 .13 2.16zM439.6 603.5h-2.7a.9 .9 0 0 1-.18-1.76a1.45 1.45 0 0 1 2.75-.4a1.08 1.08 0 0 1 .13 2.16zM458.4 603.5h-2.7a.9 .9 0 0 1-.18-1.76a1.45 1.45 0 0 1 2.75-.4a1.08 1.08 0 0 1 .13 2.16zM446.8 603.5h-2.7a.9 .9 0 0 1-.18-1.76a1.45 1.45 0 0 1 2.75-.4a1.08 1.08 0 0 1 .13 2.16zM472.6 603.2h-2.7a.9 .9 0 0 1-.18-1.76a1.45 1.45 0 0 1 2.75-.4a1.08 1.08 0 0 1 .13 2.16zM474.9 603.6h-2.7a.9 .9 0 0 1-.18-1.76a1.45 1.45 0 0 1 2.75-.4a1.08 1.08 0 0 1 .13 2.16zM473.5 603.1h-2.7a.9 .9 0 0 1-.18-1.76a1.45 1.45 0 0 1 2.75-.4a1.08 1.08 0 0 1 .13 2.16zM450.5 603.3h-2.7a.9 .9 0 0 1-.18-1.76a1.45 1.45 0 0 1 2.75-.4a1.08 1.08 0 0 1 .13 2.16zM476.1 603.6h-2.7a.9 .9 0 0 1-.18-1.76a1.45 1.45 0 0 1 2.75-.4a1.08 1.08 0 0 1 .13 2.16zM440.6 603.4h-2.7a.9 .9 0 0 1-.18-1.76a1.45 1.45 0 0 1 2.75-.4a1.08 1.08 0 0 1 .13 2.16zM484.3 603.3h-2.7a.9 .9 0 0 1-.18-1.76a1.45 1.45 0 0 1 2.75-.4a1.08 1.08 0 0 1 .13 2.16zM474.4 603.6h-2.7a.9 .9 0 0 1-.18-1.76a1.45 1.45 0 0 1 2.75-.4a1.08 1.08 0 0 1 .13 2.16zM472.9 603.5h-2.7a.9 .9 0 0 1-.18-1.76a1.45 1.45 0 0 1 2.75-.4a1.08 1.08 0 0 1 .13 2.16zM439.5 603.3h-2.7a.9 .9 0 0 1-.18-1.76a1.45 1.45 0 0 1 2.75-.4a1.08 1.08 0 0 1 .13 2.16zM448.2 603.1h-2.7a.9 .9 0 0 1-.18-1.76a1.45 1.45 0 0 1 2.75-.4a1.08 1.08 0 0 1 .13 2.16zM472.6 603.5h-2.7a.9 .9 0 0 1-.18-1.76a1.45 1.45 0 0 1 2.75-.4a1.08 1.08 0 0 1 .13 2.16zM476.5 603.2h-2.7a.9 .9 0 0 1-.18-1.76a1.45 1.45 0 0 1 2.75-.4a1.08 1.08 0 0 1 .13 2.16zM453.5 603.5h-2.7a.9 .9 0 0 1-.18-1.76a1.45 1.45 0 0 1 2.75-.4a1.08 1.08 0 0 1 .13 2.16zM465.2 603.6h-2.7a.9 .9 0 0 1-.18-1.76a1.45 1.45 0 0 1 2.75-.4a1.08 1.08 0 0 1 .13 2.16zM458.4 603.5h-2.7a.9 .9 0 0 1-.18-1.76a1.45 1.45 0 0 1 2.75-.4a1.08 1.08 0 0 1 .13 2.16zM441.6 603.3h-2.7a.9 .9 0 0 1-.18-1.76a1.45 1.45 0 0 1 2.75-.4a1.08 1.08 0 0 1 .13 2.16zM462.0 603.2h-2.7a.9 .9 0 0 1-.18-1.76a1.45 1.45 0 0 1 2.75-.4a1.08 1.08 0 0 1 .13 2.16zM482.0 603.5h-2.7a.9 .9 0 0 1-.18-1.76a1.45 1.45 0 0 1 2.75-.4a1.08 1.08 0 0 1 .13 2.16zM485.0 603.6h-2.7a.9 .9 0 0 1-.18-1.76a1.45 1.45 0 0 1 2.75-.4a1.08 1.08 0 0 1 .13 2.16zM449.5 603.6h-2.7a.9 .9 0 0 1-.18-1.76a1.45 1.45 0 0 1 2.75-.4a1.08 1.08 0 0 1 .13 2.16zM490.8 603.1h-2.7a.9 .9 0 0 1-.18-1.76a1.45 1.45 0 0 1 2.75-.4a1.08 1.08 0 0 1 .13 2.16zM486.0 603.2h-2.7a.9 .9 0 0 1-.18-1.76a1.45 1.45 0 0 1 2.75-.4a1.08 1.08 0 0 1 .13 2.16zM490.5 603.2h-2.7a.9 .9 0 0 1-.18-1.76a1.45 1.45 0 0 1 2.75-.4a1.08 1.08 0 0 1 .13 2.16z" fill="#27958a" fill-opacity=".92"/><path d="M170.6 522.7h0M170.8 523.1h0M175.8 549.3h0M173.8 549.1h0M172.9 549.2h0M172.1 549.2h0M176.2 549.2h0M173.9 549.2h0M174.5 575.4h0M173.6 575.4h0M174.4 575.4h0M176.1 575.8h0M173.6 575.4h0M171.4 575.6h0M174.6 575.6h0M175.8 575.6h0M171.7 575.4h0M170.4 575.8h0M175.8 575.8h0M175.8 575.8h0M170.2 602.2h0M174.5 602.0h0M174.9 601.9h0M174.7 601.8h0" fill="none" stroke="#161616" stroke-opacity=".93" stroke-width="3.8" stroke-linecap="round"/><path d="M178.6 628.3h0M188.4 628.3h0M202.7 628.3h0M221.0 628.3h0M225.0 628.3h0" fill="none" stroke="#f8c67a" stroke-opacity=".8" stroke-width="3.8" stroke-linecap="round"/><path d="M247.1 626.8v1.5l1.4 1.6l1.4-1.6v-1.5M258.2 626.8v1.5l1.4 1.6l1.4-1.6v-1.5M285.0 626.8v1.5l1.4 1.6l1.4-1.6v-1.5" fill="#84bff7" fill-opacity=".4" stroke="#84bff7" stroke-opacity=".8" stroke-width=".9" stroke-linejoin="round"/><path d="M317.2 629.7h-2.7a.9 .9 0 0 1-.18-1.76a1.45 1.45 0 0 1 2.75-.4a1.08 1.08 0 0 1 .13 2.16zM334.9 629.7h-2.7a.9 .9 0 0 1-.18-1.76a1.45 1.45 0 0 1 2.75-.4a1.08 1.08 0 0 1 .13 2.16zM346.0 629.7h-2.7a.9 .9 0 0 1-.18-1.76a1.45 1.45 0 0 1 2.75-.4a1.08 1.08 0 0 1 .13 2.16zM365.0 629.7h-2.7a.9 .9 0 0 1-.18-1.76a1.45 1.45 0 0 1 2.75-.4a1.08 1.08 0 0 1 .13 2.16zM378.0 629.7h-2.7a.9 .9 0 0 1-.18-1.76a1.45 1.45 0 0 1 2.75-.4a1.08 1.08 0 0 1 .13 2.16zM397.0 629.7h-2.7a.9 .9 0 0 1-.18-1.76a1.45 1.45 0 0 1 2.75-.4a1.08 1.08 0 0 1 .13 2.16zM400.2 629.7h-2.7a.9 .9 0 0 1-.18-1.76a1.45 1.45 0 0 1 2.75-.4a1.08 1.08 0 0 1 .13 2.16zM403.5 629.7h-2.7a.9 .9 0 0 1-.18-1.76a1.45 1.45 0 0 1 2.75-.4a1.08 1.08 0 0 1 .13 2.16zM409.4 629.7h-2.7a.9 .9 0 0 1-.18-1.76a1.45 1.45 0 0 1 2.75-.4a1.08 1.08 0 0 1 .13 2.16zM412.7 629.7h-2.7a.9 .9 0 0 1-.18-1.76a1.45 1.45 0 0 1 2.75-.4a1.08 1.08 0 0 1 .13 2.16zM415.9 629.7h-2.7a.9 .9 0 0 1-.18-1.76a1.45 1.45 0 0 1 2.75-.4a1.08 1.08 0 0 1 .13 2.16zM419.8 629.7h-2.7a.9 .9 0 0 1-.18-1.76a1.45 1.45 0 0 1 2.75-.4a1.08 1.08 0 0 1 .13 2.16zM422.5 629.7h-2.7a.9 .9 0 0 1-.18-1.76a1.45 1.45 0 0 1 2.75-.4a1.08 1.08 0 0 1 .13 2.16zM425.1 629.7h-2.7a.9 .9 0 0 1-.18-1.76a1.45 1.45 0 0 1 2.75-.4a1.08 1.08 0 0 1 .13 2.16zM427.7 629.7h-2.7a.9 .9 0 0 1-.18-1.76a1.45 1.45 0 0 1 2.75-.4a1.08 1.08 0 0 1 .13 2.16zM430.3 629.7h-2.7a.9 .9 0 0 1-.18-1.76a1.45 1.45 0 0 1 2.75-.4a1.08 1.08 0 0 1 .13 2.16zM432.9 629.7h-2.7a.9 .9 0 0 1-.18-1.76a1.45 1.45 0 0 1 2.75-.4a1.08 1.08 0 0 1 .13 2.16zM435.5 629.7h-2.7a.9 .9 0 0 1-.18-1.76a1.45 1.45 0 0 1 2.75-.4a1.08 1.08 0 0 1 .13 2.16zM438.1 629.7h-2.7a.9 .9 0 0 1-.18-1.76a1.45 1.45 0 0 1 2.75-.4a1.08 1.08 0 0 1 .13 2.16zM440.8 629.7h-2.7a.9 .9 0 0 1-.18-1.76a1.45 1.45 0 0 1 2.75-.4a1.08 1.08 0 0 1 .13 2.16zM443.4 629.7h-2.7a.9 .9 0 0 1-.18-1.76a1.45 1.45 0 0 1 2.75-.4a1.08 1.08 0 0 1 .13 2.16zM447.9 629.7h-2.7a.9 .9 0 0 1-.18-1.76a1.45 1.45 0 0 1 2.75-.4a1.08 1.08 0 0 1 .13 2.16zM454.5 629.7h-2.7a.9 .9 0 0 1-.18-1.76a1.45 1.45 0 0 1 2.75-.4a1.08 1.08 0 0 1 .13 2.16zM464.3 629.7h-2.7a.9 .9 0 0 1-.18-1.76a1.45 1.45 0 0 1 2.75-.4a1.08 1.08 0 0 1 .13 2.16zM485.2 629.7h-2.7a.9 .9 0 0 1-.18-1.76a1.45 1.45 0 0 1 2.75-.4a1.08 1.08 0 0 1 .13 2.16z" fill="#27958a" fill-opacity=".92"/><rect x="520.3" y="362.6" width="341.7" height="143.8" fill="#fff" stroke="#e6e6e6" stroke-width="1.1"/><path d="M527.2 362.6V506.4M532.3 362.6V506.4M596.913 362.6V506.4M661.913 362.6V506.4M726.913 362.6V506.4M791.913 362.6V506.4M856.913 362.6V506.4M520.3 369.1H862M520.3 395.4H862M520.3 421.7H862M520.3 448H862M520.3 474.3H862M520.3 500.6H862" fill="none" stroke="#e6e6e6" stroke-width="1.15"/><path d="M648.0 436.4h0M631.9 440.8h0M649.6 451.5h0M558.0 448.5h0M591.1 445.5h0M655.5 446.0h0M569.0 451.1h0M543.7 457.9h0M551.0 456.1h0M541.6 456.2h0M547.5 454.2h0M645.3 444.5h0M585.9 447.7h0M616.4 447.9h0M614.6 446.3h0M536.6 461.4h0M553.1 452.0h0M538.8 458.3h0M629.1 438.4h0M563.5 454.6h0M614.7 448.9h0M560.1 454.8h0M564.4 450.6h0M627.1 446.3h0M571.0 448.9h0M549.3 449.2h0M561.7 459.2h0M546.8 451.4h0M614.8 444.1h0M639.3 447.5h0M546.6 454.3h0M549.6 452.6h0M531.3 470.4h0M631.4 453.4h0M656.6 446.8h0M644.1 445.3h0M573.4 452.2h0M540.4 462.2h0M576.6 447.7h0M634.5 441.5h0M641.4 446.0h0M599.4 446.7h0M577.2 444.5h0M582.5 445.3h0M644.9 447.2h0M613.7 448.4h0M658.2 448.6h0M632.8 450.5h0M574.9 451.9h0M600.7 443.4h0M547.9 450.5h0M661.1 446.2h0M604.6 445.3h0M651.4 440.2h0M554.9 453.7h0M564.5 456.0h0M553.3 456.5h0M599.1 448.2h0M555.1 453.8h0M569.4 448.8h0M551.7 448.5h0M652.7 451.8h0M677.4 446.7h0M748.8 433.3h0M745.0 433.4h0M681.9 443.1h0M699.9 449.9h0M764.9 426.2h0M757.9 431.3h0M711.3 441.0h0M775.4 421.1h0M745.2 440.7h0M700.7 449.7h0M703.0 449.9h0M690.7 448.4h0M789.0 419.9h0M796.5 416.1h0M665.3 444.0h0M775.9 417.3h0M726.1 443.4h0M732.7 440.7h0M721.1 446.4h0M660.7 437.2h0M689.7 450.8h0M732.3 433.4h0M678.6 444.0h0M794.5 417.2h0M733.0 444.4h0M754.5 433.1h0M700.8 449.5h0M684.7 450.0h0M762.7 428.9h0M662.6 442.8h0M672.8 443.5h0" fill="none" stroke="#f8c67a" stroke-opacity=".8" stroke-width="3.8" stroke-linecap="round"/><path d="M672.0 440.7v1.5l1.4 1.6l1.4-1.6v-1.5M683.2 437.7v1.5l1.4 1.6l1.4-1.6v-1.5M640.8 446.2v1.5l1.4 1.6l1.4-1.6v-1.5M610.3 448.4v1.5l1.4 1.6l1.4-1.6v-1.5M600.9 444.0v1.5l1.4 1.6l1.4-1.6v-1.5M659.8 443.0v1.5l1.4 1.6l1.4-1.6v-1.5M552.2 443.7v1.5l1.4 1.6l1.4-1.6v-1.5M613.4 445.0v1.5l1.4 1.6l1.4-1.6v-1.5M585.2 442.0v1.5l1.4 1.6l1.4-1.6v-1.5M656.6 439.9v1.5l1.4 1.6l1.4-1.6v-1.5M577.9 446.4v1.5l1.4 1.6l1.4-1.6v-1.5M636.5 445.4v1.5l1.4 1.6l1.4-1.6v-1.5M628.3 445.7v1.5l1.4 1.6l1.4-1.6v-1.5M680.1 442.5v1.5l1.4 1.6l1.4-1.6v-1.5M675.8 444.1v1.5l1.4 1.6l1.4-1.6v-1.5M648.3 442.5v1.5l1.4 1.6l1.4-1.6v-1.5M558.4 446.5v1.5l1.4 1.6l1.4-1.6v-1.5M612.8 443.0v1.5l1.4 1.6l1.4-1.6v-1.5M602.0 447.8v1.5l1.4 1.6l1.4-1.6v-1.5M636.6 446.2v1.5l1.4 1.6l1.4-1.6v-1.5M571.4 445.3v1.5l1.4 1.6l1.4-1.6v-1.5M599.2 444.7v1.5l1.4 1.6l1.4-1.6v-1.5M682.6 445.6v1.5l1.4 1.6l1.4-1.6v-1.5M627.6 447.7v1.5l1.4 1.6l1.4-1.6v-1.5M610.8 447.1v1.5l1.4 1.6l1.4-1.6v-1.5M600.3 442.1v1.5l1.4 1.6l1.4-1.6v-1.5M682.3 490.2v1.5l1.4 1.6l1.4-1.6v-1.5M676.7 495.2v1.5l1.4 1.6l1.4-1.6v-1.5M673.8 494.2v1.5l1.4 1.6l1.4-1.6v-1.5M669.1 491.7v1.5l1.4 1.6l1.4-1.6v-1.5M673.3 492.9v1.5l1.4 1.6l1.4-1.6v-1.5M674.4 496.2v1.5l1.4 1.6l1.4-1.6v-1.5M673.7 494.4v1.5l1.4 1.6l1.4-1.6v-1.5M661.3 493.5v1.5l1.4 1.6l1.4-1.6v-1.5M669.4 492.2v1.5l1.4 1.6l1.4-1.6v-1.5M668.1 493.1v1.5l1.4 1.6l1.4-1.6v-1.5M759.0 411.4v1.5l1.4 1.6l1.4-1.6v-1.5M770.8 409.8v1.5l1.4 1.6l1.4-1.6v-1.5M704.6 418.2v1.5l1.4 1.6l1.4-1.6v-1.5M774.5 392.2v1.5l1.4 1.6l1.4-1.6v-1.5M790.2 417.4v1.5l1.4 1.6l1.4-1.6v-1.5M718.0 386.7v1.5l1.4 1.6l1.4-1.6v-1.5M707.1 416.9v1.5l1.4 1.6l1.4-1.6v-1.5M705.7 415.1v1.5l1.4 1.6l1.4-1.6v-1.5M742.4 402.0v1.5l1.4 1.6l1.4-1.6v-1.5M729.4 410.5v1.5l1.4 1.6l1.4-1.6v-1.5M797.2 407.1v1.5l1.4 1.6l1.4-1.6v-1.5M743.6 403.2v1.5l1.4 1.6l1.4-1.6v-1.5M752.9 404.7v1.5l1.4 1.6l1.4-1.6v-1.5M731.7 412.4v1.5l1.4 1.6l1.4-1.6v-1.5M747.6 396.3v1.5l1.4 1.6l1.4-1.6v-1.5M748.9 412.4v1.5l1.4 1.6l1.4-1.6v-1.5M766.8 401.7v1.5l1.4 1.6l1.4-1.6v-1.5M798.5 387.1v1.5l1.4 1.6l1.4-1.6v-1.5M747.7 397.1v1.5l1.4 1.6l1.4-1.6v-1.5M795.0 420.5v1.5l1.4 1.6l1.4-1.6v-1.5M746.2 422.7v1.5l1.4 1.6l1.4-1.6v-1.5M783.1 400.6v1.5l1.4 1.6l1.4-1.6v-1.5M762.2 415.9v1.5l1.4 1.6l1.4-1.6v-1.5M723.9 408.8v1.5l1.4 1.6l1.4-1.6v-1.5M713.8 413.8v1.5l1.4 1.6l1.4-1.6v-1.5M770.5 397.2v1.5l1.4 1.6l1.4-1.6v-1.5M759.8 408.5v1.5l1.4 1.6l1.4-1.6v-1.5M753.9 403.1v1.5l1.4 1.6l1.4-1.6v-1.5M719.4 422.0v1.5l1.4 1.6l1.4-1.6v-1.5M782.6 405.5v1.5l1.4 1.6l1.4-1.6v-1.5M719.4 387.5v1.5l1.4 1.6l1.4-1.6v-1.5M784.4 421.5v1.5l1.4 1.6l1.4-1.6v-1.5M762.6 384.6v1.5l1.4 1.6l1.4-1.6v-1.5M734.5 404.8v1.5l1.4 1.6l1.4-1.6v-1.5M723.4 385.9v1.5l1.4 1.6l1.4-1.6v-1.5M765.8 419.5v1.5l1.4 1.6l1.4-1.6v-1.5M716.7 400.0v1.5l1.4 1.6l1.4-1.6v-1.5M792.1 388.3v1.5l1.4 1.6l1.4-1.6v-1.5M725.5 385.2v1.5l1.4 1.6l1.4-1.6v-1.5M794.7 396.5v1.5l1.4 1.6l1.4-1.6v-1.5M710.3 399.8v1.5l1.4 1.6l1.4-1.6v-1.5M740.4 419.5v1.5l1.4 1.6l1.4-1.6v-1.5M718.6 397.6v1.5l1.4 1.6l1.4-1.6v-1.5M719.6 409.9v1.5l1.4 1.6l1.4-1.6v-1.5M714.5 404.6v1.5l1.4 1.6l1.4-1.6v-1.5M747.4 419.3v1.5l1.4 1.6l1.4-1.6v-1.5M778.6 400.6v1.5l1.4 1.6l1.4-1.6v-1.5M703.9 410.1v1.5l1.4 1.6l1.4-1.6v-1.5M728.2 417.3v1.5l1.4 1.6l1.4-1.6v-1.5M734.7 390.1v1.5l1.4 1.6l1.4-1.6v-1.5M750.5 423.3v1.5l1.4 1.6l1.4-1.6v-1.5M784.8 419.7v1.5l1.4 1.6l1.4-1.6v-1.5M765.4 387.3v1.5l1.4 1.6l1.4-1.6v-1.5M736.2 416.8v1.5l1.4 1.6l1.4-1.6v-1.5M716.7 410.5v1.5l1.4 1.6l1.4-1.6v-1.5M791.9 404.1v1.5l1.4 1.6l1.4-1.6v-1.5M741.5 387.3v1.5l1.4 1.6l1.4-1.6v-1.5M777.7 395.1v1.5l1.4 1.6l1.4-1.6v-1.5M712.5 396.6v1.5l1.4 1.6l1.4-1.6v-1.5M733.6 386.6v1.5l1.4 1.6l1.4-1.6v-1.5M790.4 422.1v1.5l1.4 1.6l1.4-1.6v-1.5M736.8 417.8v1.5l1.4 1.6l1.4-1.6v-1.5M736.6 398.6v1.5l1.4 1.6l1.4-1.6v-1.5M713.0 418.6v1.5l1.4 1.6l1.4-1.6v-1.5M702.3 393.3v1.5l1.4 1.6l1.4-1.6v-1.5M761.3 403.7v1.5l1.4 1.6l1.4-1.6v-1.5M779.0 412.0v1.5l1.4 1.6l1.4-1.6v-1.5M738.7 421.7v1.5l1.4 1.6l1.4-1.6v-1.5M762.2 403.1v1.5l1.4 1.6l1.4-1.6v-1.5M768.7 397.0v1.5l1.4 1.6l1.4-1.6v-1.5" fill="#84bff7" fill-opacity=".4" stroke="#84bff7" stroke-opacity=".8" stroke-width=".9" stroke-linejoin="round"/><path d="M733.9 395.2h-2.7a.9 .9 0 0 1-.18-1.76a1.45 1.45 0 0 1 2.75-.4a1.08 1.08 0 0 1 .13 2.16zM749.7 403.0h-2.7a.9 .9 0 0 1-.18-1.76a1.45 1.45 0 0 1 2.75-.4a1.08 1.08 0 0 1 .13 2.16zM761.5 403.0h-2.7a.9 .9 0 0 1-.18-1.76a1.45 1.45 0 0 1 2.75-.4a1.08 1.08 0 0 1 .13 2.16zM762.5 407.8h-2.7a.9 .9 0 0 1-.18-1.76a1.45 1.45 0 0 1 2.75-.4a1.08 1.08 0 0 1 .13 2.16zM701.6 412.0h-2.7a.9 .9 0 0 1-.18-1.76a1.45 1.45 0 0 1 2.75-.4a1.08 1.08 0 0 1 .13 2.16zM752.4 402.4h-2.7a.9 .9 0 0 1-.18-1.76a1.45 1.45 0 0 1 2.75-.4a1.08 1.08 0 0 1 .13 2.16zM725.8 402.2h-2.7a.9 .9 0 0 1-.18-1.76a1.45 1.45 0 0 1 2.75-.4a1.08 1.08 0 0 1 .13 2.16zM735.3 399.2h-2.7a.9 .9 0 0 1-.18-1.76a1.45 1.45 0 0 1 2.75-.4a1.08 1.08 0 0 1 .13 2.16zM797.6 406.6h-2.7a.9 .9 0 0 1-.18-1.76a1.45 1.45 0 0 1 2.75-.4a1.08 1.08 0 0 1 .13 2.16zM737.7 403.4h-2.7a.9 .9 0 0 1-.18-1.76a1.45 1.45 0 0 1 2.75-.4a1.08 1.08 0 0 1 .13 2.16zM755.6 400.5h-2.7a.9 .9 0 0 1-.18-1.76a1.45 1.45 0 0 1 2.75-.4a1.08 1.08 0 0 1 .13 2.16zM727.1 416.9h-2.7a.9 .9 0 0 1-.18-1.76a1.45 1.45 0 0 1 2.75-.4a1.08 1.08 0 0 1 .13 2.16zM780.3 404.8h-2.7a.9 .9 0 0 1-.18-1.76a1.45 1.45 0 0 1 2.75-.4a1.08 1.08 0 0 1 .13 2.16zM714.6 443.4h-2.7a.9 .9 0 0 1-.18-1.76a1.45 1.45 0 0 1 2.75-.4a1.08 1.08 0 0 1 .13 2.16zM755.8 416.1h-2.7a.9 .9 0 0 1-.18-1.76a1.45 1.45 0 0 1 2.75-.4a1.08 1.08 0 0 1 .13 2.16zM779.0 414.3h-2.7a.9 .9 0 0 1-.18-1.76a1.45 1.45 0 0 1 2.75-.4a1.08 1.08 0 0 1 .13 2.16zM721.1 400.6h-2.7a.9 .9 0 0 1-.18-1.76a1.45 1.45 0 0 1 2.75-.4a1.08 1.08 0 0 1 .13 2.16zM718.9 437.2h-2.7a.9 .9 0 0 1-.18-1.76a1.45 1.45 0 0 1 2.75-.4a1.08 1.08 0 0 1 .13 2.16zM722.7 406.1h-2.7a.9 .9 0 0 1-.18-1.76a1.45 1.45 0 0 1 2.75-.4a1.08 1.08 0 0 1 .13 2.16zM730.0 395.6h-2.7a.9 .9 0 0 1-.18-1.76a1.45 1.45 0 0 1 2.75-.4a1.08 1.08 0 0 1 .13 2.16zM736.0 428.8h-2.7a.9 .9 0 0 1-.18-1.76a1.45 1.45 0 0 1 2.75-.4a1.08 1.08 0 0 1 .13 2.16zM707.8 394.4h-2.7a.9 .9 0 0 1-.18-1.76a1.45 1.45 0 0 1 2.75-.4a1.08 1.08 0 0 1 .13 2.16zM751.2 397.8h-2.7a.9 .9 0 0 1-.18-1.76a1.45 1.45 0 0 1 2.75-.4a1.08 1.08 0 0 1 .13 2.16zM721.7 402.5h-2.7a.9 .9 0 0 1-.18-1.76a1.45 1.45 0 0 1 2.75-.4a1.08 1.08 0 0 1 .13 2.16zM707.6 394.4h-2.7a.9 .9 0 0 1-.18-1.76a1.45 1.45 0 0 1 2.75-.4a1.08 1.08 0 0 1 .13 2.16zM720.9 408.7h-2.7a.9 .9 0 0 1-.18-1.76a1.45 1.45 0 0 1 2.75-.4a1.08 1.08 0 0 1 .13 2.16zM755.0 414.9h-2.7a.9 .9 0 0 1-.18-1.76a1.45 1.45 0 0 1 2.75-.4a1.08 1.08 0 0 1 .13 2.16zM733.8 410.5h-2.7a.9 .9 0 0 1-.18-1.76a1.45 1.45 0 0 1 2.75-.4a1.08 1.08 0 0 1 .13 2.16zM735.3 443.4h-2.7a.9 .9 0 0 1-.18-1.76a1.45 1.45 0 0 1 2.75-.4a1.08 1.08 0 0 1 .13 2.16zM777.3 392.5h-2.7a.9 .9 0 0 1-.18-1.76a1.45 1.45 0 0 1 2.75-.4a1.08 1.08 0 0 1 .13 2.16zM770.6 387.1h-2.7a.9 .9 0 0 1-.18-1.76a1.45 1.45 0 0 1 2.75-.4a1.08 1.08 0 0 1 .13 2.16zM735.1 398.9h-2.7a.9 .9 0 0 1-.18-1.76a1.45 1.45 0 0 1 2.75-.4a1.08 1.08 0 0 1 .13 2.16zM729.6 449.9h-2.7a.9 .9 0 0 1-.18-1.76a1.45 1.45 0 0 1 2.75-.4a1.08 1.08 0 0 1 .13 2.16zM736.2 387.0h-2.7a.9 .9 0 0 1-.18-1.76a1.45 1.45 0 0 1 2.75-.4a1.08 1.08 0 0 1 .13 2.16zM765.4 418.7h-2.7a.9 .9 0 0 1-.18-1.76a1.45 1.45 0 0 1 2.75-.4a1.08 1.08 0 0 1 .13 2.16zM740.4 402.6h-2.7a.9 .9 0 0 1-.18-1.76a1.45 1.45 0 0 1 2.75-.4a1.08 1.08 0 0 1 .13 2.16zM747.4 404.1h-2.7a.9 .9 0 0 1-.18-1.76a1.45 1.45 0 0 1 2.75-.4a1.08 1.08 0 0 1 .13 2.16zM716.8 405.7h-2.7a.9 .9 0 0 1-.18-1.76a1.45 1.45 0 0 1 2.75-.4a1.08 1.08 0 0 1 .13 2.16zM727.7 386.4h-2.7a.9 .9 0 0 1-.18-1.76a1.45 1.45 0 0 1 2.75-.4a1.08 1.08 0 0 1 .13 2.16zM762.2 398.9h-2.7a.9 .9 0 0 1-.18-1.76a1.45 1.45 0 0 1 2.75-.4a1.08 1.08 0 0 1 .13 2.16zM732.3 450.2h-2.7a.9 .9 0 0 1-.18-1.76a1.45 1.45 0 0 1 2.75-.4a1.08 1.08 0 0 1 .13 2.16zM781.5 408.2h-2.7a.9 .9 0 0 1-.18-1.76a1.45 1.45 0 0 1 2.75-.4a1.08 1.08 0 0 1 .13 2.16zM790.9 409.9h-2.7a.9 .9 0 0 1-.18-1.76a1.45 1.45 0 0 1 2.75-.4a1.08 1.08 0 0 1 .13 2.16zM725.1 396.6h-2.7a.9 .9 0 0 1-.18-1.76a1.45 1.45 0 0 1 2.75-.4a1.08 1.08 0 0 1 .13 2.16zM711.5 451.3h-2.7a.9 .9 0 0 1-.18-1.76a1.45 1.45 0 0 1 2.75-.4a1.08 1.08 0 0 1 .13 2.16zM733.9 435.9h-2.7a.9 .9 0 0 1-.18-1.76a1.45 1.45 0 0 1 2.75-.4a1.08 1.08 0 0 1 .13 2.16zM800.2 401.3h-2.7a.9 .9 0 0 1-.18-1.76a1.45 1.45 0 0 1 2.75-.4a1.08 1.08 0 0 1 .13 2.16zM746.7 404.3h-2.7a.9 .9 0 0 1-.18-1.76a1.45 1.45 0 0 1 2.75-.4a1.08 1.08 0 0 1 .13 2.16zM722.1 451.6h-2.7a.9 .9 0 0 1-.18-1.76a1.45 1.45 0 0 1 2.75-.4a1.08 1.08 0 0 1 .13 2.16zM733.6 424.7h-2.7a.9 .9 0 0 1-.18-1.76a1.45 1.45 0 0 1 2.75-.4a1.08 1.08 0 0 1 .13 2.16zM750.6 407.9h-2.7a.9 .9 0 0 1-.18-1.76a1.45 1.45 0 0 1 2.75-.4a1.08 1.08 0 0 1 .13 2.16zM734.3 428.4h-2.7a.9 .9 0 0 1-.18-1.76a1.45 1.45 0 0 1 2.75-.4a1.08 1.08 0 0 1 .13 2.16zM739.6 407.4h-2.7a.9 .9 0 0 1-.18-1.76a1.45 1.45 0 0 1 2.75-.4a1.08 1.08 0 0 1 .13 2.16zM795.5 406.5h-2.7a.9 .9 0 0 1-.18-1.76a1.45 1.45 0 0 1 2.75-.4a1.08 1.08 0 0 1 .13 2.16zM723.6 391.3h-2.7a.9 .9 0 0 1-.18-1.76a1.45 1.45 0 0 1 2.75-.4a1.08 1.08 0 0 1 .13 2.16zM753.0 401.6h-2.7a.9 .9 0 0 1-.18-1.76a1.45 1.45 0 0 1 2.75-.4a1.08 1.08 0 0 1 .13 2.16zM723.1 403.3h-2.7a.9 .9 0 0 1-.18-1.76a1.45 1.45 0 0 1 2.75-.4a1.08 1.08 0 0 1 .13 2.16zM727.2 427.6h-2.7a.9 .9 0 0 1-.18-1.76a1.45 1.45 0 0 1 2.75-.4a1.08 1.08 0 0 1 .13 2.16zM735.6 411.9h-2.7a.9 .9 0 0 1-.18-1.76a1.45 1.45 0 0 1 2.75-.4a1.08 1.08 0 0 1 .13 2.16zM720.1 410.6h-2.7a.9 .9 0 0 1-.18-1.76a1.45 1.45 0 0 1 2.75-.4a1.08 1.08 0 0 1 .13 2.16zM706.4 399.4h-2.7a.9 .9 0 0 1-.18-1.76a1.45 1.45 0 0 1 2.75-.4a1.08 1.08 0 0 1 .13 2.16zM710.5 451.2h-2.7a.9 .9 0 0 1-.18-1.76a1.45 1.45 0 0 1 2.75-.4a1.08 1.08 0 0 1 .13 2.16zM726.5 392.5h-2.7a.9 .9 0 0 1-.18-1.76a1.45 1.45 0 0 1 2.75-.4a1.08 1.08 0 0 1 .13 2.16zM730.3 430.4h-2.7a.9 .9 0 0 1-.18-1.76a1.45 1.45 0 0 1 2.75-.4a1.08 1.08 0 0 1 .13 2.16zM743.1 386.4h-2.7a.9 .9 0 0 1-.18-1.76a1.45 1.45 0 0 1 2.75-.4a1.08 1.08 0 0 1 .13 2.16zM735.3 404.5h-2.7a.9 .9 0 0 1-.18-1.76a1.45 1.45 0 0 1 2.75-.4a1.08 1.08 0 0 1 .13 2.16zM708.2 393.4h-2.7a.9 .9 0 0 1-.18-1.76a1.45 1.45 0 0 1 2.75-.4a1.08 1.08 0 0 1 .13 2.16zM706.5 400.8h-2.7a.9 .9 0 0 1-.18-1.76a1.45 1.45 0 0 1 2.75-.4a1.08 1.08 0 0 1 .13 2.16zM762.8 408.9h-2.7a.9 .9 0 0 1-.18-1.76a1.45 1.45 0 0 1 2.75-.4a1.08 1.08 0 0 1 .13 2.16zM749.7 414.1h-2.7a.9 .9 0 0 1-.18-1.76a1.45 1.45 0 0 1 2.75-.4a1.08 1.08 0 0 1 .13 2.16zM779.4 396.7h-2.7a.9 .9 0 0 1-.18-1.76a1.45 1.45 0 0 1 2.75-.4a1.08 1.08 0 0 1 .13 2.16zM745.2 393.2h-2.7a.9 .9 0 0 1-.18-1.76a1.45 1.45 0 0 1 2.75-.4a1.08 1.08 0 0 1 .13 2.16zM743.9 420.3h-2.7a.9 .9 0 0 1-.18-1.76a1.45 1.45 0 0 1 2.75-.4a1.08 1.08 0 0 1 .13 2.16zM764.2 397.3h-2.7a.9 .9 0 0 1-.18-1.76a1.45 1.45 0 0 1 2.75-.4a1.08 1.08 0 0 1 .13 2.16zM761.0 423.7h-2.7a.9 .9 0 0 1-.18-1.76a1.45 1.45 0 0 1 2.75-.4a1.08 1.08 0 0 1 .13 2.16zM755.2 415.6h-2.7a.9 .9 0 0 1-.18-1.76a1.45 1.45 0 0 1 2.75-.4a1.08 1.08 0 0 1 .13 2.16zM755.6 402.9h-2.7a.9 .9 0 0 1-.18-1.76a1.45 1.45 0 0 1 2.75-.4a1.08 1.08 0 0 1 .13 2.16zM719.6 425.9h-2.7a.9 .9 0 0 1-.18-1.76a1.45 1.45 0 0 1 2.75-.4a1.08 1.08 0 0 1 .13 2.16zM733.5 425.2h-2.7a.9 .9 0 0 1-.18-1.76a1.45 1.45 0 0 1 2.75-.4a1.08 1.08 0 0 1 .13 2.16zM729.9 389.3h-2.7a.9 .9 0 0 1-.18-1.76a1.45 1.45 0 0 1 2.75-.4a1.08 1.08 0 0 1 .13 2.16zM736.9 389.8h-2.7a.9 .9 0 0 1-.18-1.76a1.45 1.45 0 0 1 2.75-.4a1.08 1.08 0 0 1 .13 2.16zM701.5 418.9h-2.7a.9 .9 0 0 1-.18-1.76a1.45 1.45 0 0 1 2.75-.4a1.08 1.08 0 0 1 .13 2.16zM760.6 395.8h-2.7a.9 .9 0 0 1-.18-1.76a1.45 1.45 0 0 1 2.75-.4a1.08 1.08 0 0 1 .13 2.16zM791.5 410.7h-2.7a.9 .9 0 0 1-.18-1.76a1.45 1.45 0 0 1 2.75-.4a1.08 1.08 0 0 1 .13 2.16zM730.7 398.1h-2.7a.9 .9 0 0 1-.18-1.76a1.45 1.45 0 0 1 2.75-.4a1.08 1.08 0 0 1 .13 2.16zM732.7 391.6h-2.7a.9 .9 0 0 1-.18-1.76a1.45 1.45 0 0 1 2.75-.4a1.08 1.08 0 0 1 .13 2.16zM709.4 406.1h-2.7a.9 .9 0 0 1-.18-1.76a1.45 1.45 0 0 1 2.75-.4a1.08 1.08 0 0 1 .13 2.16zM755.2 406.1h-2.7a.9 .9 0 0 1-.18-1.76a1.45 1.45 0 0 1 2.75-.4a1.08 1.08 0 0 1 .13 2.16zM701.6 405.0h-2.7a.9 .9 0 0 1-.18-1.76a1.45 1.45 0 0 1 2.75-.4a1.08 1.08 0 0 1 .13 2.16zM703.1 399.1h-2.7a.9 .9 0 0 1-.18-1.76a1.45 1.45 0 0 1 2.75-.4a1.08 1.08 0 0 1 .13 2.16zM729.2 395.0h-2.7a.9 .9 0 0 1-.18-1.76a1.45 1.45 0 0 1 2.75-.4a1.08 1.08 0 0 1 .13 2.16zM791.2 394.5h-2.7a.9 .9 0 0 1-.18-1.76a1.45 1.45 0 0 1 2.75-.4a1.08 1.08 0 0 1 .13 2.16zM738.1 409.8h-2.7a.9 .9 0 0 1-.18-1.76a1.45 1.45 0 0 1 2.75-.4a1.08 1.08 0 0 1 .13 2.16zM731.5 452.0h-2.7a.9 .9 0 0 1-.18-1.76a1.45 1.45 0 0 1 2.75-.4a1.08 1.08 0 0 1 .13 2.16zM719.2 427.1h-2.7a.9 .9 0 0 1-.18-1.76a1.45 1.45 0 0 1 2.75-.4a1.08 1.08 0 0 1 .13 2.16zM782.9 412.9h-2.7a.9 .9 0 0 1-.18-1.76a1.45 1.45 0 0 1 2.75-.4a1.08 1.08 0 0 1 .13 2.16zM758.9 405.6h-2.7a.9 .9 0 0 1-.18-1.76a1.45 1.45 0 0 1 2.75-.4a1.08 1.08 0 0 1 .13 2.16zM766.4 409.8h-2.7a.9 .9 0 0 1-.18-1.76a1.45 1.45 0 0 1 2.75-.4a1.08 1.08 0 0 1 .13 2.16zM732.7 388.3h-2.7a.9 .9 0 0 1-.18-1.76a1.45 1.45 0 0 1 2.75-.4a1.08 1.08 0 0 1 .13 2.16zM730.9 408.6h-2.7a.9 .9 0 0 1-.18-1.76a1.45 1.45 0 0 1 2.75-.4a1.08 1.08 0 0 1 .13 2.16zM721.1 386.4h-2.7a.9 .9 0 0 1-.18-1.76a1.45 1.45 0 0 1 2.75-.4a1.08 1.08 0 0 1 .13 2.16zM705.4 410.8h-2.7a.9 .9 0 0 1-.18-1.76a1.45 1.45 0 0 1 2.75-.4a1.08 1.08 0 0 1 .13 2.16zM749.0 401.6h-2.7a.9 .9 0 0 1-.18-1.76a1.45 1.45 0 0 1 2.75-.4a1.08 1.08 0 0 1 .13 2.16zM741.3 413.0h-2.7a.9 .9 0 0 1-.18-1.76a1.45 1.45 0 0 1 2.75-.4a1.08 1.08 0 0 1 .13 2.16zM722.8 439.1h-2.7a.9 .9 0 0 1-.18-1.76a1.45 1.45 0 0 1 2.75-.4a1.08 1.08 0 0 1 .13 2.16zM731.9 390.3h-2.7a.9 .9 0 0 1-.18-1.76a1.45 1.45 0 0 1 2.75-.4a1.08 1.08 0 0 1 .13 2.16zM726.0 398.5h-2.7a.9 .9 0 0 1-.18-1.76a1.45 1.45 0 0 1 2.75-.4a1.08 1.08 0 0 1 .13 2.16zM786.6 416.0h-2.7a.9 .9 0 0 1-.18-1.76a1.45 1.45 0 0 1 2.75-.4a1.08 1.08 0 0 1 .13 2.16zM720.7 412.5h-2.7a.9 .9 0 0 1-.18-1.76a1.45 1.45 0 0 1 2.75-.4a1.08 1.08 0 0 1 .13 2.16zM769.4 396.7h-2.7a.9 .9 0 0 1-.18-1.76a1.45 1.45 0 0 1 2.75-.4a1.08 1.08 0 0 1 .13 2.16zM707.7 441.8h-2.7a.9 .9 0 0 1-.18-1.76a1.45 1.45 0 0 1 2.75-.4a1.08 1.08 0 0 1 .13 2.16zM726.5 407.4h-2.7a.9 .9 0 0 1-.18-1.76a1.45 1.45 0 0 1 2.75-.4a1.08 1.08 0 0 1 .13 2.16zM737.6 386.4h-2.7a.9 .9 0 0 1-.18-1.76a1.45 1.45 0 0 1 2.75-.4a1.08 1.08 0 0 1 .13 2.16zM731.9 423.8h-2.7a.9 .9 0 0 1-.18-1.76a1.45 1.45 0 0 1 2.75-.4a1.08 1.08 0 0 1 .13 2.16zM758.9 409.5h-2.7a.9 .9 0 0 1-.18-1.76a1.45 1.45 0 0 1 2.75-.4a1.08 1.08 0 0 1 .13 2.16zM748.8 409.0h-2.7a.9 .9 0 0 1-.18-1.76a1.45 1.45 0 0 1 2.75-.4a1.08 1.08 0 0 1 .13 2.16zM708.2 406.8h-2.7a.9 .9 0 0 1-.18-1.76a1.45 1.45 0 0 1 2.75-.4a1.08 1.08 0 0 1 .13 2.16zM750.7 419.8h-2.7a.9 .9 0 0 1-.18-1.76a1.45 1.45 0 0 1 2.75-.4a1.08 1.08 0 0 1 .13 2.16zM744.9 413.3h-2.7a.9 .9 0 0 1-.18-1.76a1.45 1.45 0 0 1 2.75-.4a1.08 1.08 0 0 1 .13 2.16zM715.5 392.4h-2.7a.9 .9 0 0 1-.18-1.76a1.45 1.45 0 0 1 2.75-.4a1.08 1.08 0 0 1 .13 2.16zM791.2 394.6h-2.7a.9 .9 0 0 1-.18-1.76a1.45 1.45 0 0 1 2.75-.4a1.08 1.08 0 0 1 .13 2.16zM713.3 391.0h-2.7a.9 .9 0 0 1-.18-1.76a1.45 1.45 0 0 1 2.75-.4a1.08 1.08 0 0 1 .13 2.16zM723.8 445.9h-2.7a.9 .9 0 0 1-.18-1.76a1.45 1.45 0 0 1 2.75-.4a1.08 1.08 0 0 1 .13 2.16zM728.7 396.9h-2.7a.9 .9 0 0 1-.18-1.76a1.45 1.45 0 0 1 2.75-.4a1.08 1.08 0 0 1 .13 2.16zM728.3 437.0h-2.7a.9 .9 0 0 1-.18-1.76a1.45 1.45 0 0 1 2.75-.4a1.08 1.08 0 0 1 .13 2.16zM724.3 430.0h-2.7a.9 .9 0 0 1-.18-1.76a1.45 1.45 0 0 1 2.75-.4a1.08 1.08 0 0 1 .13 2.16zM723.6 405.2h-2.7a.9 .9 0 0 1-.18-1.76a1.45 1.45 0 0 1 2.75-.4a1.08 1.08 0 0 1 .13 2.16zM734.1 386.4h-2.7a.9 .9 0 0 1-.18-1.76a1.45 1.45 0 0 1 2.75-.4a1.08 1.08 0 0 1 .13 2.16zM748.7 410.6h-2.7a.9 .9 0 0 1-.18-1.76a1.45 1.45 0 0 1 2.75-.4a1.08 1.08 0 0 1 .13 2.16zM740.9 413.3h-2.7a.9 .9 0 0 1-.18-1.76a1.45 1.45 0 0 1 2.75-.4a1.08 1.08 0 0 1 .13 2.16zM739.1 404.5h-2.7a.9 .9 0 0 1-.18-1.76a1.45 1.45 0 0 1 2.75-.4a1.08 1.08 0 0 1 .13 2.16zM744.5 404.7h-2.7a.9 .9 0 0 1-.18-1.76a1.45 1.45 0 0 1 2.75-.4a1.08 1.08 0 0 1 .13 2.16zM715.7 442.9h-2.7a.9 .9 0 0 1-.18-1.76a1.45 1.45 0 0 1 2.75-.4a1.08 1.08 0 0 1 .13 2.16zM735.1 400.0h-2.7a.9 .9 0 0 1-.18-1.76a1.45 1.45 0 0 1 2.75-.4a1.08 1.08 0 0 1 .13 2.16zM727.9 402.2h-2.7a.9 .9 0 0 1-.18-1.76a1.45 1.45 0 0 1 2.75-.4a1.08 1.08 0 0 1 .13 2.16zM710.8 447.4h-2.7a.9 .9 0 0 1-.18-1.76a1.45 1.45 0 0 1 2.75-.4a1.08 1.08 0 0 1 .13 2.16zM713.6 431.1h-2.7a.9 .9 0 0 1-.18-1.76a1.45 1.45 0 0 1 2.75-.4a1.08 1.08 0 0 1 .13 2.16zM753.9 400.0h-2.7a.9 .9 0 0 1-.18-1.76a1.45 1.45 0 0 1 2.75-.4a1.08 1.08 0 0 1 .13 2.16zM758.5 409.7h-2.7a.9 .9 0 0 1-.18-1.76a1.45 1.45 0 0 1 2.75-.4a1.08 1.08 0 0 1 .13 2.16zM701.5 393.6h-2.7a.9 .9 0 0 1-.18-1.76a1.45 1.45 0 0 1 2.75-.4a1.08 1.08 0 0 1 .13 2.16zM719.0 400.0h-2.7a.9 .9 0 0 1-.18-1.76a1.45 1.45 0 0 1 2.75-.4a1.08 1.08 0 0 1 .13 2.16zM792.8 401.0h-2.7a.9 .9 0 0 1-.18-1.76a1.45 1.45 0 0 1 2.75-.4a1.08 1.08 0 0 1 .13 2.16zM703.8 395.8h-2.7a.9 .9 0 0 1-.18-1.76a1.45 1.45 0 0 1 2.75-.4a1.08 1.08 0 0 1 .13 2.16zM760.2 412.8h-2.7a.9 .9 0 0 1-.18-1.76a1.45 1.45 0 0 1 2.75-.4a1.08 1.08 0 0 1 .13 2.16zM737.9 434.9h-2.7a.9 .9 0 0 1-.18-1.76a1.45 1.45 0 0 1 2.75-.4a1.08 1.08 0 0 1 .13 2.16zM752.3 421.7h-2.7a.9 .9 0 0 1-.18-1.76a1.45 1.45 0 0 1 2.75-.4a1.08 1.08 0 0 1 .13 2.16zM701.5 422.7h-2.7a.9 .9 0 0 1-.18-1.76a1.45 1.45 0 0 1 2.75-.4a1.08 1.08 0 0 1 .13 2.16zM723.6 445.8h-2.7a.9 .9 0 0 1-.18-1.76a1.45 1.45 0 0 1 2.75-.4a1.08 1.08 0 0 1 .13 2.16zM789.1 420.4h-2.7a.9 .9 0 0 1-.18-1.76a1.45 1.45 0 0 1 2.75-.4a1.08 1.08 0 0 1 .13 2.16zM740.4 398.7h-2.7a.9 .9 0 0 1-.18-1.76a1.45 1.45 0 0 1 2.75-.4a1.08 1.08 0 0 1 .13 2.16zM731.3 444.8h-2.7a.9 .9 0 0 1-.18-1.76a1.45 1.45 0 0 1 2.75-.4a1.08 1.08 0 0 1 .13 2.16zM794.7 409.0h-2.7a.9 .9 0 0 1-.18-1.76a1.45 1.45 0 0 1 2.75-.4a1.08 1.08 0 0 1 .13 2.16zM769.3 407.6h-2.7a.9 .9 0 0 1-.18-1.76a1.45 1.45 0 0 1 2.75-.4a1.08 1.08 0 0 1 .13 2.16zM727.4 402.1h-2.7a.9 .9 0 0 1-.18-1.76a1.45 1.45 0 0 1 2.75-.4a1.08 1.08 0 0 1 .13 2.16zM725.3 394.8h-2.7a.9 .9 0 0 1-.18-1.76a1.45 1.45 0 0 1 2.75-.4a1.08 1.08 0 0 1 .13 2.16zM751.4 386.4h-2.7a.9 .9 0 0 1-.18-1.76a1.45 1.45 0 0 1 2.75-.4a1.08 1.08 0 0 1 .13 2.16zM765.3 389.7h-2.7a.9 .9 0 0 1-.18-1.76a1.45 1.45 0 0 1 2.75-.4a1.08 1.08 0 0 1 .13 2.16zM744.5 410.0h-2.7a.9 .9 0 0 1-.18-1.76a1.45 1.45 0 0 1 2.75-.4a1.08 1.08 0 0 1 .13 2.16zM735.2 387.7h-2.7a.9 .9 0 0 1-.18-1.76a1.45 1.45 0 0 1 2.75-.4a1.08 1.08 0 0 1 .13 2.16zM733.6 444.5h-2.7a.9 .9 0 0 1-.18-1.76a1.45 1.45 0 0 1 2.75-.4a1.08 1.08 0 0 1 .13 2.16zM730.3 400.0h-2.7a.9 .9 0 0 1-.18-1.76a1.45 1.45 0 0 1 2.75-.4a1.08 1.08 0 0 1 .13 2.16zM764.0 405.3h-2.7a.9 .9 0 0 1-.18-1.76a1.45 1.45 0 0 1 2.75-.4a1.08 1.08 0 0 1 .13 2.16zM734.5 407.3h-2.7a.9 .9 0 0 1-.18-1.76a1.45 1.45 0 0 1 2.75-.4a1.08 1.08 0 0 1 .13 2.16zM758.9 397.2h-2.7a.9 .9 0 0 1-.18-1.76a1.45 1.45 0 0 1 2.75-.4a1.08 1.08 0 0 1 .13 2.16zM729.1 427.3h-2.7a.9 .9 0 0 1-.18-1.76a1.45 1.45 0 0 1 2.75-.4a1.08 1.08 0 0 1 .13 2.16zM723.2 445.7h-2.7a.9 .9 0 0 1-.18-1.76a1.45 1.45 0 0 1 2.75-.4a1.08 1.08 0 0 1 .13 2.16zM724.7 439.7h-2.7a.9 .9 0 0 1-.18-1.76a1.45 1.45 0 0 1 2.75-.4a1.08 1.08 0 0 1 .13 2.16zM730.7 421.3h-2.7a.9 .9 0 0 1-.18-1.76a1.45 1.45 0 0 1 2.75-.4a1.08 1.08 0 0 1 .13 2.16zM780.4 413.0h-2.7a.9 .9 0 0 1-.18-1.76a1.45 1.45 0 0 1 2.75-.4a1.08 1.08 0 0 1 .13 2.16zM760.0 412.3h-2.7a.9 .9 0 0 1-.18-1.76a1.45 1.45 0 0 1 2.75-.4a1.08 1.08 0 0 1 .13 2.16zM730.5 432.6h-2.7a.9 .9 0 0 1-.18-1.76a1.45 1.45 0 0 1 2.75-.4a1.08 1.08 0 0 1 .13 2.16zM735.6 404.1h-2.7a.9 .9 0 0 1-.18-1.76a1.45 1.45 0 0 1 2.75-.4a1.08 1.08 0 0 1 .13 2.16zM714.5 414.9h-2.7a.9 .9 0 0 1-.18-1.76a1.45 1.45 0 0 1 2.75-.4a1.08 1.08 0 0 1 .13 2.16zM719.9 403.5h-2.7a.9 .9 0 0 1-.18-1.76a1.45 1.45 0 0 1 2.75-.4a1.08 1.08 0 0 1 .13 2.16zM775.3 410.9h-2.7a.9 .9 0 0 1-.18-1.76a1.45 1.45 0 0 1 2.75-.4a1.08 1.08 0 0 1 .13 2.16zM788.9 408.8h-2.7a.9 .9 0 0 1-.18-1.76a1.45 1.45 0 0 1 2.75-.4a1.08 1.08 0 0 1 .13 2.16zM742.2 411.6h-2.7a.9 .9 0 0 1-.18-1.76a1.45 1.45 0 0 1 2.75-.4a1.08 1.08 0 0 1 .13 2.16zM726.5 397.0h-2.7a.9 .9 0 0 1-.18-1.76a1.45 1.45 0 0 1 2.75-.4a1.08 1.08 0 0 1 .13 2.16zM728.6 426.0h-2.7a.9 .9 0 0 1-.18-1.76a1.45 1.45 0 0 1 2.75-.4a1.08 1.08 0 0 1 .13 2.16zM784.6 411.5h-2.7a.9 .9 0 0 1-.18-1.76a1.45 1.45 0 0 1 2.75-.4a1.08 1.08 0 0 1 .13 2.16zM735.1 390.7h-2.7a.9 .9 0 0 1-.18-1.76a1.45 1.45 0 0 1 2.75-.4a1.08 1.08 0 0 1 .13 2.16zM757.0 405.3h-2.7a.9 .9 0 0 1-.18-1.76a1.45 1.45 0 0 1 2.75-.4a1.08 1.08 0 0 1 .13 2.16zM717.5 404.7h-2.7a.9 .9 0 0 1-.18-1.76a1.45 1.45 0 0 1 2.75-.4a1.08 1.08 0 0 1 .13 2.16zM719.8 390.9h-2.7a.9 .9 0 0 1-.18-1.76a1.45 1.45 0 0 1 2.75-.4a1.08 1.08 0 0 1 .13 2.16zM715.2 425.2h-2.7a.9 .9 0 0 1-.18-1.76a1.45 1.45 0 0 1 2.75-.4a1.08 1.08 0 0 1 .13 2.16zM711.5 483.0h-2.7a.9 .9 0 0 1-.18-1.76a1.45 1.45 0 0 1 2.75-.4a1.08 1.08 0 0 1 .13 2.16zM726.5 498.9h-2.7a.9 .9 0 0 1-.18-1.76a1.45 1.45 0 0 1 2.75-.4a1.08 1.08 0 0 1 .13 2.16zM690.0 476.7h-2.7a.9 .9 0 0 1-.18-1.76a1.45 1.45 0 0 1 2.75-.4a1.08 1.08 0 0 1 .13 2.16zM729.2 471.9h-2.7a.9 .9 0 0 1-.18-1.76a1.45 1.45 0 0 1 2.75-.4a1.08 1.08 0 0 1 .13 2.16zM741.6 466.7h-2.7a.9 .9 0 0 1-.18-1.76a1.45 1.45 0 0 1 2.75-.4a1.08 1.08 0 0 1 .13 2.16zM725.8 497.4h-2.7a.9 .9 0 0 1-.18-1.76a1.45 1.45 0 0 1 2.75-.4a1.08 1.08 0 0 1 .13 2.16zM726.2 501.9h-2.7a.9 .9 0 0 1-.18-1.76a1.45 1.45 0 0 1 2.75-.4a1.08 1.08 0 0 1 .13 2.16zM728.2 483.3h-2.7a.9 .9 0 0 1-.18-1.76a1.45 1.45 0 0 1 2.75-.4a1.08 1.08 0 0 1 .13 2.16zM709.9 497.8h-2.7a.9 .9 0 0 1-.18-1.76a1.45 1.45 0 0 1 2.75-.4a1.08 1.08 0 0 1 .13 2.16zM753.3 486.6h-2.7a.9 .9 0 0 1-.18-1.76a1.45 1.45 0 0 1 2.75-.4a1.08 1.08 0 0 1 .13 2.16zM736.3 488.4h-2.7a.9 .9 0 0 1-.18-1.76a1.45 1.45 0 0 1 2.75-.4a1.08 1.08 0 0 1 .13 2.16zM754.5 496.2h-2.7a.9 .9 0 0 1-.18-1.76a1.45 1.45 0 0 1 2.75-.4a1.08 1.08 0 0 1 .13 2.16zM714.7 476.2h-2.7a.9 .9 0 0 1-.18-1.76a1.45 1.45 0 0 1 2.75-.4a1.08 1.08 0 0 1 .13 2.16zM707.2 474.3h-2.7a.9 .9 0 0 1-.18-1.76a1.45 1.45 0 0 1 2.75-.4a1.08 1.08 0 0 1 .13 2.16zM720.2 497.8h-2.7a.9 .9 0 0 1-.18-1.76a1.45 1.45 0 0 1 2.75-.4a1.08 1.08 0 0 1 .13 2.16zM700.3 466.9h-2.7a.9 .9 0 0 1-.18-1.76a1.45 1.45 0 0 1 2.75-.4a1.08 1.08 0 0 1 .13 2.16zM727.0 461.4h-2.7a.9 .9 0 0 1-.18-1.76a1.45 1.45 0 0 1 2.75-.4a1.08 1.08 0 0 1 .13 2.16zM731.9 481.1h-2.7a.9 .9 0 0 1-.18-1.76a1.45 1.45 0 0 1 2.75-.4a1.08 1.08 0 0 1 .13 2.16zM728.9 493.9h-2.7a.9 .9 0 0 1-.18-1.76a1.45 1.45 0 0 1 2.75-.4a1.08 1.08 0 0 1 .13 2.16zM754.5 479.5h-2.7a.9 .9 0 0 1-.18-1.76a1.45 1.45 0 0 1 2.75-.4a1.08 1.08 0 0 1 .13 2.16zM719.3 487.2h-2.7a.9 .9 0 0 1-.18-1.76a1.45 1.45 0 0 1 2.75-.4a1.08 1.08 0 0 1 .13 2.16zM729.5 471.3h-2.7a.9 .9 0 0 1-.18-1.76a1.45 1.45 0 0 1 2.75-.4a1.08 1.08 0 0 1 .13 2.16zM696.7 474.5h-2.7a.9 .9 0 0 1-.18-1.76a1.45 1.45 0 0 1 2.75-.4a1.08 1.08 0 0 1 .13 2.16zM690.9 470.5h-2.7a.9 .9 0 0 1-.18-1.76a1.45 1.45 0 0 1 2.75-.4a1.08 1.08 0 0 1 .13 2.16zM709.9 462.8h-2.7a.9 .9 0 0 1-.18-1.76a1.45 1.45 0 0 1 2.75-.4a1.08 1.08 0 0 1 .13 2.16zM702.9 471.7h-2.7a.9 .9 0 0 1-.18-1.76a1.45 1.45 0 0 1 2.75-.4a1.08 1.08 0 0 1 .13 2.16zM726.9 472.5h-2.7a.9 .9 0 0 1-.18-1.76a1.45 1.45 0 0 1 2.75-.4a1.08 1.08 0 0 1 .13 2.16zM733.0 490.8h-2.7a.9 .9 0 0 1-.18-1.76a1.45 1.45 0 0 1 2.75-.4a1.08 1.08 0 0 1 .13 2.16zM688.5 489.4h-2.7a.9 .9 0 0 1-.18-1.76a1.45 1.45 0 0 1 2.75-.4a1.08 1.08 0 0 1 .13 2.16zM717.1 465.7h-2.7a.9 .9 0 0 1-.18-1.76a1.45 1.45 0 0 1 2.75-.4a1.08 1.08 0 0 1 .13 2.16zM745.4 475.4h-2.7a.9 .9 0 0 1-.18-1.76a1.45 1.45 0 0 1 2.75-.4a1.08 1.08 0 0 1 .13 2.16zM741.9 479.5h-2.7a.9 .9 0 0 1-.18-1.76a1.45 1.45 0 0 1 2.75-.4a1.08 1.08 0 0 1 .13 2.16zM728.7 488.8h-2.7a.9 .9 0 0 1-.18-1.76a1.45 1.45 0 0 1 2.75-.4a1.08 1.08 0 0 1 .13 2.16zM754.5 482.3h-2.7a.9 .9 0 0 1-.18-1.76a1.45 1.45 0 0 1 2.75-.4a1.08 1.08 0 0 1 .13 2.16zM722.0 461.4h-2.7a.9 .9 0 0 1-.18-1.76a1.45 1.45 0 0 1 2.75-.4a1.08 1.08 0 0 1 .13 2.16zM717.8 474.4h-2.7a.9 .9 0 0 1-.18-1.76a1.45 1.45 0 0 1 2.75-.4a1.08 1.08 0 0 1 .13 2.16zM730.2 473.9h-2.7a.9 .9 0 0 1-.18-1.76a1.45 1.45 0 0 1 2.75-.4a1.08 1.08 0 0 1 .13 2.16zM731.4 486.5h-2.7a.9 .9 0 0 1-.18-1.76a1.45 1.45 0 0 1 2.75-.4a1.08 1.08 0 0 1 .13 2.16zM722.4 466.2h-2.7a.9 .9 0 0 1-.18-1.76a1.45 1.45 0 0 1 2.75-.4a1.08 1.08 0 0 1 .13 2.16zM735.9 471.0h-2.7a.9 .9 0 0 1-.18-1.76a1.45 1.45 0 0 1 2.75-.4a1.08 1.08 0 0 1 .13 2.16zM702.8 474.8h-2.7a.9 .9 0 0 1-.18-1.76a1.45 1.45 0 0 1 2.75-.4a1.08 1.08 0 0 1 .13 2.16zM727.0 485.4h-2.7a.9 .9 0 0 1-.18-1.76a1.45 1.45 0 0 1 2.75-.4a1.08 1.08 0 0 1 .13 2.16zM729.6 488.2h-2.7a.9 .9 0 0 1-.18-1.76a1.45 1.45 0 0 1 2.75-.4a1.08 1.08 0 0 1 .13 2.16zM725.5 479.1h-2.7a.9 .9 0 0 1-.18-1.76a1.45 1.45 0 0 1 2.75-.4a1.08 1.08 0 0 1 .13 2.16zM709.1 474.1h-2.7a.9 .9 0 0 1-.18-1.76a1.45 1.45 0 0 1 2.75-.4a1.08 1.08 0 0 1 .13 2.16zM718.8 492.2h-2.7a.9 .9 0 0 1-.18-1.76a1.45 1.45 0 0 1 2.75-.4a1.08 1.08 0 0 1 .13 2.16zM724.5 476.0h-2.7a.9 .9 0 0 1-.18-1.76a1.45 1.45 0 0 1 2.75-.4a1.08 1.08 0 0 1 .13 2.16zM747.8 474.3h-2.7a.9 .9 0 0 1-.18-1.76a1.45 1.45 0 0 1 2.75-.4a1.08 1.08 0 0 1 .13 2.16zM705.0 500.6h-2.7a.9 .9 0 0 1-.18-1.76a1.45 1.45 0 0 1 2.75-.4a1.08 1.08 0 0 1 .13 2.16zM726.9 477.3h-2.7a.9 .9 0 0 1-.18-1.76a1.45 1.45 0 0 1 2.75-.4a1.08 1.08 0 0 1 .13 2.16zM710.9 500.1h-2.7a.9 .9 0 0 1-.18-1.76a1.45 1.45 0 0 1 2.75-.4a1.08 1.08 0 0 1 .13 2.16zM725.7 472.9h-2.7a.9 .9 0 0 1-.18-1.76a1.45 1.45 0 0 1 2.75-.4a1.08 1.08 0 0 1 .13 2.16zM754.5 476.4h-2.7a.9 .9 0 0 1-.18-1.76a1.45 1.45 0 0 1 2.75-.4a1.08 1.08 0 0 1 .13 2.16zM727.0 477.7h-2.7a.9 .9 0 0 1-.18-1.76a1.45 1.45 0 0 1 2.75-.4a1.08 1.08 0 0 1 .13 2.16zM722.0 489.8h-2.7a.9 .9 0 0 1-.18-1.76a1.45 1.45 0 0 1 2.75-.4a1.08 1.08 0 0 1 .13 2.16zM705.8 463.9h-2.7a.9 .9 0 0 1-.18-1.76a1.45 1.45 0 0 1 2.75-.4a1.08 1.08 0 0 1 .13 2.16zM704.1 501.9h-2.7a.9 .9 0 0 1-.18-1.76a1.45 1.45 0 0 1 2.75-.4a1.08 1.08 0 0 1 .13 2.16zM726.9 474.7h-2.7a.9 .9 0 0 1-.18-1.76a1.45 1.45 0 0 1 2.75-.4a1.08 1.08 0 0 1 .13 2.16zM738.4 478.1h-2.7a.9 .9 0 0 1-.18-1.76a1.45 1.45 0 0 1 2.75-.4a1.08 1.08 0 0 1 .13 2.16zM737.1 493.3h-2.7a.9 .9 0 0 1-.18-1.76a1.45 1.45 0 0 1 2.75-.4a1.08 1.08 0 0 1 .13 2.16zM712.0 488.5h-2.7a.9 .9 0 0 1-.18-1.76a1.45 1.45 0 0 1 2.75-.4a1.08 1.08 0 0 1 .13 2.16zM732.0 490.4h-2.7a.9 .9 0 0 1-.18-1.76a1.45 1.45 0 0 1 2.75-.4a1.08 1.08 0 0 1 .13 2.16zM748.4 491.5h-2.7a.9 .9 0 0 1-.18-1.76a1.45 1.45 0 0 1 2.75-.4a1.08 1.08 0 0 1 .13 2.16zM751.8 472.5h-2.7a.9 .9 0 0 1-.18-1.76a1.45 1.45 0 0 1 2.75-.4a1.08 1.08 0 0 1 .13 2.16zM716.3 492.2h-2.7a.9 .9 0 0 1-.18-1.76a1.45 1.45 0 0 1 2.75-.4a1.08 1.08 0 0 1 .13 2.16zM696.8 483.8h-2.7a.9 .9 0 0 1-.18-1.76a1.45 1.45 0 0 1 2.75-.4a1.08 1.08 0 0 1 .13 2.16zM743.7 482.6h-2.7a.9 .9 0 0 1-.18-1.76a1.45 1.45 0 0 1 2.75-.4a1.08 1.08 0 0 1 .13 2.16zM722.8 495.1h-2.7a.9 .9 0 0 1-.18-1.76a1.45 1.45 0 0 1 2.75-.4a1.08 1.08 0 0 1 .13 2.16zM726.2 484.4h-2.7a.9 .9 0 0 1-.18-1.76a1.45 1.45 0 0 1 2.75-.4a1.08 1.08 0 0 1 .13 2.16zM703.0 481.5h-2.7a.9 .9 0 0 1-.18-1.76a1.45 1.45 0 0 1 2.75-.4a1.08 1.08 0 0 1 .13 2.16zM704.8 489.8h-2.7a.9 .9 0 0 1-.18-1.76a1.45 1.45 0 0 1 2.75-.4a1.08 1.08 0 0 1 .13 2.16zM727.6 478.5h-2.7a.9 .9 0 0 1-.18-1.76a1.45 1.45 0 0 1 2.75-.4a1.08 1.08 0 0 1 .13 2.16zM732.7 497.5h-2.7a.9 .9 0 0 1-.18-1.76a1.45 1.45 0 0 1 2.75-.4a1.08 1.08 0 0 1 .13 2.16zM729.4 486.1h-2.7a.9 .9 0 0 1-.18-1.76a1.45 1.45 0 0 1 2.75-.4a1.08 1.08 0 0 1 .13 2.16zM737.7 483.2h-2.7a.9 .9 0 0 1-.18-1.76a1.45 1.45 0 0 1 2.75-.4a1.08 1.08 0 0 1 .13 2.16zM716.2 499.9h-2.7a.9 .9 0 0 1-.18-1.76a1.45 1.45 0 0 1 2.75-.4a1.08 1.08 0 0 1 .13 2.16zM698.3 490.4h-2.7a.9 .9 0 0 1-.18-1.76a1.45 1.45 0 0 1 2.75-.4a1.08 1.08 0 0 1 .13 2.16zM736.6 461.4h-2.7a.9 .9 0 0 1-.18-1.76a1.45 1.45 0 0 1 2.75-.4a1.08 1.08 0 0 1 .13 2.16zM712.1 480.5h-2.7a.9 .9 0 0 1-.18-1.76a1.45 1.45 0 0 1 2.75-.4a1.08 1.08 0 0 1 .13 2.16zM728.1 474.4h-2.7a.9 .9 0 0 1-.18-1.76a1.45 1.45 0 0 1 2.75-.4a1.08 1.08 0 0 1 .13 2.16zM723.3 463.8h-2.7a.9 .9 0 0 1-.18-1.76a1.45 1.45 0 0 1 2.75-.4a1.08 1.08 0 0 1 .13 2.16zM730.2 487.6h-2.7a.9 .9 0 0 1-.18-1.76a1.45 1.45 0 0 1 2.75-.4a1.08 1.08 0 0 1 .13 2.16zM711.2 474.8h-2.7a.9 .9 0 0 1-.18-1.76a1.45 1.45 0 0 1 2.75-.4a1.08 1.08 0 0 1 .13 2.16zM754.4 480.9h-2.7a.9 .9 0 0 1-.18-1.76a1.45 1.45 0 0 1 2.75-.4a1.08 1.08 0 0 1 .13 2.16zM696.6 472.6h-2.7a.9 .9 0 0 1-.18-1.76a1.45 1.45 0 0 1 2.75-.4a1.08 1.08 0 0 1 .13 2.16z" fill="#27958a" fill-opacity=".92"/><path d="M530.2 473.4h0M528.2 475.9h0M528.8 498.0h0M535.5 471.3h0M529.2 498.2h0M530.4 476.1h0M534.4 480.4h0M534.2 494.4h0M528.1 485.7h0M530.4 491.0h0M531.8 481.7h0M534.7 495.8h0M534.5 497.2h0M529.3 478.2h0M535.3 485.3h0M528.0 499.6h0M531.0 481.6h0M533.4 500.2h0M532.3 483.2h0M529.4 470.5h0M528.2 468.5h0M528.1 482.0h0M532.7 484.4h0M532.7 471.6h0M535.3 495.3h0M535.0 487.2h0M531.1 489.9h0M534.7 469.1h0M528.0 470.6h0M528.2 490.2h0M527.5 493.5h0M532.7 486.8h0M530.9 475.3h0M527.9 493.5h0M527.6 483.5h0M528.2 471.4h0M534.5 482.0h0M530.2 492.1h0M528.3 476.5h0M532.0 479.0h0M531.5 487.5h0M528.8 490.2h0M529.8 482.7h0M534.3 477.1h0M535.7 481.3h0M533.0 496.5h0M535.0 468.1h0M529.2 499.8h0M530.1 480.1h0M533.3 487.9h0M533.5 492.0h0M532.4 477.0h0M533.8 484.0h0M530.0 479.4h0M530.9 480.3h0M533.7 492.7h0M528.7 499.6h0M528.0 491.5h0M535.5 483.6h0M531.8 480.6h0M532.0 500.6h0M539.4 500.6h0M540.9 500.6h0M532.0 500.6h0M540.7 500.6h0M528.5 500.6h0M537.8 500.6h0M527.0 500.6h0M539.6 500.6h0M530.3 500.6h0M526.8 500.6h0M535.2 500.6h0M538.4 500.6h0M534.9 500.6h0M556.3 500.6h0M561.8 500.6h0M556.7 500.6h0M554.9 500.6h0M554.6 500.6h0M556.4 500.6h0M581.0 500.6h0M574.7 500.6h0M577.9 500.6h0M576.7 500.6h0M579.5 500.6h0M583.0 500.6h0M576.2 500.6h0M583.2 500.6h0M597.1 500.6h0M596.1 500.6h0M607.5 500.6h0M592.1 500.6h0M606.4 500.6h0M608.3 500.6h0M596.4 500.6h0M597.6 500.6h0M601.5 500.6h0M616.4 500.6h0M617.9 500.6h0M592.0 500.6h0M604.8 500.6h0M621.7 500.6h0M611.6 500.6h0M607.6 500.6h0M607.6 500.6h0M595.0 500.6h0M600.8 500.6h0M604.1 500.6h0M593.6 500.6h0M607.0 500.6h0M634.5 500.6h0M647.3 500.6h0M651.9 500.6h0M642.4 500.6h0M650.0 500.6h0M653.6 500.6h0M642.2 500.6h0M636.6 500.6h0M640.1 500.6h0M647.5 500.6h0M667.7 500.6h0M662.6 500.6h0M668.8 500.6h0M661.1 500.6h0M529.0 461.0h0M533.0 461.0h0M538.0 459.0h0M544.0 456.0h0M547.0 455.0h0M552.0 457.0h0M564.0 455.0h0M572.0 442.0h0M604.0 447.5h0M619.0 447.5h0M548.0 455.0h0" fill="none" stroke="#161616" stroke-opacity=".93" stroke-width="3.8" stroke-linecap="round"/><rect x="520.3" y="516" width="341.7" height="145.8" fill="#fff" stroke="#e6e6e6" stroke-width="1.1"/><path d="M527.2 516V661.8M532.3 516V661.8M596.913 516V661.8M661.913 516V661.8M726.913 516V661.8M791.913 516V661.8M856.913 516V661.8M520.3 523H862M520.3 549.2H862M520.3 575.6H862M520.3 602H862M520.3 628.3H862M520.3 654.6H862" fill="none" stroke="#e6e6e6" stroke-width="1.15"/><path d="M650.7 522.8h0M678.9 522.9h0M764.6 523.3h0M761.5 523.1h0M761.0 522.8h0M788.2 523.3h0M793.3 523.1h0M790.1 522.9h0M784.0 523.2h0M788.6 523.1h0M564.3 549.4h0M573.2 549.0h0M558.2 549.1h0M565.8 549.1h0M539.4 549.2h0M566.1 549.3h0M548.2 549.0h0M551.7 549.0h0M557.8 549.3h0M554.2 549.3h0M565.3 549.1h0M571.9 549.4h0M587.9 549.2h0M553.8 549.2h0M579.9 549.3h0M562.3 548.9h0M610.8 549.2h0M605.1 549.2h0M608.2 549.0h0M613.0 549.4h0M605.2 549.1h0M581.0 575.4h0M583.6 575.5h0M583.0 575.9h0M622.1 575.7h0M622.7 575.7h0M624.3 575.4h0M621.6 575.7h0M612.5 575.5h0M612.9 575.9h0M617.6 575.6h0M623.5 575.8h0M602.0 575.8h0M599.0 575.8h0M637.2 575.9h0M638.9 575.5h0M671.5 575.8h0M745.8 575.7h0M749.6 575.9h0M544.6 601.7h0M560.3 601.9h0M587.7 601.8h0M576.0 601.9h0M572.7 602.2h0M576.3 601.8h0M573.0 602.0h0M586.0 601.9h0M575.4 602.0h0M586.4 601.9h0M578.2 602.2h0M612.9 602.1h0M609.6 602.0h0M614.5 602.3h0M614.4 601.9h0" fill="none" stroke="#f8c67a" stroke-opacity=".8" stroke-width="3.8" stroke-linecap="round"/><path d="M699.6 521.5v1.5l1.4 1.6l1.4-1.6v-1.5M644.1 547.7v1.5l1.4 1.6l1.4-1.6v-1.5M633.8 547.9v1.5l1.4 1.6l1.4-1.6v-1.5M672.7 547.6v1.5l1.4 1.6l1.4-1.6v-1.5M669.3 547.6v1.5l1.4 1.6l1.4-1.6v-1.5M671.2 547.7v1.5l1.4 1.6l1.4-1.6v-1.5M724.3 547.7v1.5l1.4 1.6l1.4-1.6v-1.5M723.2 547.4v1.5l1.4 1.6l1.4-1.6v-1.5M751.2 547.9v1.5l1.4 1.6l1.4-1.6v-1.5M719.6 547.7v1.5l1.4 1.6l1.4-1.6v-1.5M747.2 547.8v1.5l1.4 1.6l1.4-1.6v-1.5M749.4 547.9v1.5l1.4 1.6l1.4-1.6v-1.5M743.9 547.7v1.5l1.4 1.6l1.4-1.6v-1.5M728.2 547.4v1.5l1.4 1.6l1.4-1.6v-1.5M727.9 547.6v1.5l1.4 1.6l1.4-1.6v-1.5M719.7 548.0v1.5l1.4 1.6l1.4-1.6v-1.5M679.8 574.0v1.5l1.4 1.6l1.4-1.6v-1.5M685.6 573.9v1.5l1.4 1.6l1.4-1.6v-1.5M683.6 573.9v1.5l1.4 1.6l1.4-1.6v-1.5M751.2 574.0v1.5l1.4 1.6l1.4-1.6v-1.5M760.9 574.1v1.5l1.4 1.6l1.4-1.6v-1.5M782.4 574.2v1.5l1.4 1.6l1.4-1.6v-1.5M785.4 574.0v1.5l1.4 1.6l1.4-1.6v-1.5M757.8 573.9v1.5l1.4 1.6l1.4-1.6v-1.5M758.4 574.4v1.5l1.4 1.6l1.4-1.6v-1.5M787.2 574.0v1.5l1.4 1.6l1.4-1.6v-1.5M801.4 573.8v1.5l1.4 1.6l1.4-1.6v-1.5M780.5 574.2v1.5l1.4 1.6l1.4-1.6v-1.5M770.3 574.3v1.5l1.4 1.6l1.4-1.6v-1.5M785.7 574.3v1.5l1.4 1.6l1.4-1.6v-1.5M757.7 574.1v1.5l1.4 1.6l1.4-1.6v-1.5M769.8 574.4v1.5l1.4 1.6l1.4-1.6v-1.5M798.3 574.3v1.5l1.4 1.6l1.4-1.6v-1.5M769.7 574.1v1.5l1.4 1.6l1.4-1.6v-1.5M779.3 574.2v1.5l1.4 1.6l1.4-1.6v-1.5M793.5 574.2v1.5l1.4 1.6l1.4-1.6v-1.5M752.4 573.9v1.5l1.4 1.6l1.4-1.6v-1.5M798.7 574.2v1.5l1.4 1.6l1.4-1.6v-1.5M768.5 573.9v1.5l1.4 1.6l1.4-1.6v-1.5M802.0 574.2v1.5l1.4 1.6l1.4-1.6v-1.5M788.3 574.1v1.5l1.4 1.6l1.4-1.6v-1.5M781.8 574.0v1.5l1.4 1.6l1.4-1.6v-1.5M775.8 574.4v1.5l1.4 1.6l1.4-1.6v-1.5M631.1 600.6v1.5l1.4 1.6l1.4-1.6v-1.5M631.6 600.7v1.5l1.4 1.6l1.4-1.6v-1.5M682.9 600.4v1.5l1.4 1.6l1.4-1.6v-1.5M677.2 600.5v1.5l1.4 1.6l1.4-1.6v-1.5M689.7 600.2v1.5l1.4 1.6l1.4-1.6v-1.5M684.2 600.3v1.5l1.4 1.6l1.4-1.6v-1.5M677.5 600.3v1.5l1.4 1.6l1.4-1.6v-1.5M682.4 600.6v1.5l1.4 1.6l1.4-1.6v-1.5M674.6 600.4v1.5l1.4 1.6l1.4-1.6v-1.5M667.4 600.6v1.5l1.4 1.6l1.4-1.6v-1.5M669.4 600.4v1.5l1.4 1.6l1.4-1.6v-1.5M673.9 600.7v1.5l1.4 1.6l1.4-1.6v-1.5M746.7 600.2v1.5l1.4 1.6l1.4-1.6v-1.5M805.8 600.4v1.5l1.4 1.6l1.4-1.6v-1.5M751.6 600.4v1.5l1.4 1.6l1.4-1.6v-1.5M785.0 600.4v1.5l1.4 1.6l1.4-1.6v-1.5M799.5 600.4v1.5l1.4 1.6l1.4-1.6v-1.5M794.2 600.2v1.5l1.4 1.6l1.4-1.6v-1.5M800.2 600.6v1.5l1.4 1.6l1.4-1.6v-1.5M790.1 600.5v1.5l1.4 1.6l1.4-1.6v-1.5M771.2 600.5v1.5l1.4 1.6l1.4-1.6v-1.5M753.9 600.3v1.5l1.4 1.6l1.4-1.6v-1.5M798.4 600.8v1.5l1.4 1.6l1.4-1.6v-1.5M783.9 600.6v1.5l1.4 1.6l1.4-1.6v-1.5M805.9 600.8v1.5l1.4 1.6l1.4-1.6v-1.5M786.4 600.8v1.5l1.4 1.6l1.4-1.6v-1.5M758.8 600.6v1.5l1.4 1.6l1.4-1.6v-1.5M788.1 600.5v1.5l1.4 1.6l1.4-1.6v-1.5M788.7 600.5v1.5l1.4 1.6l1.4-1.6v-1.5M809.2 600.8v1.5l1.4 1.6l1.4-1.6v-1.5M778.2 600.7v1.5l1.4 1.6l1.4-1.6v-1.5M763.9 600.7v1.5l1.4 1.6l1.4-1.6v-1.5M750.2 600.5v1.5l1.4 1.6l1.4-1.6v-1.5M767.5 600.6v1.5l1.4 1.6l1.4-1.6v-1.5M753.6 600.6v1.5l1.4 1.6l1.4-1.6v-1.5M790.9 600.5v1.5l1.4 1.6l1.4-1.6v-1.5M755.0 600.7v1.5l1.4 1.6l1.4-1.6v-1.5M798.6 600.6v1.5l1.4 1.6l1.4-1.6v-1.5M806.1 600.3v1.5l1.4 1.6l1.4-1.6v-1.5M745.3 600.4v1.5l1.4 1.6l1.4-1.6v-1.5M797.1 600.4v1.5l1.4 1.6l1.4-1.6v-1.5M783.3 600.6v1.5l1.4 1.6l1.4-1.6v-1.5M761.2 600.5v1.5l1.4 1.6l1.4-1.6v-1.5M775.8 600.6v1.5l1.4 1.6l1.4-1.6v-1.5" fill="#84bff7" fill-opacity=".4" stroke="#84bff7" stroke-opacity=".8" stroke-width=".9" stroke-linejoin="round"/><path d="M707.8 524.2h-2.7a.9 .9 0 0 1-.18-1.76a1.45 1.45 0 0 1 2.75-.4a1.08 1.08 0 0 1 .13 2.16zM740.5 524.5h-2.7a.9 .9 0 0 1-.18-1.76a1.45 1.45 0 0 1 2.75-.4a1.08 1.08 0 0 1 .13 2.16zM743.6 524.3h-2.7a.9 .9 0 0 1-.18-1.76a1.45 1.45 0 0 1 2.75-.4a1.08 1.08 0 0 1 .13 2.16zM730.6 524.7h-2.7a.9 .9 0 0 1-.18-1.76a1.45 1.45 0 0 1 2.75-.4a1.08 1.08 0 0 1 .13 2.16zM754.3 524.3h-2.7a.9 .9 0 0 1-.18-1.76a1.45 1.45 0 0 1 2.75-.4a1.08 1.08 0 0 1 .13 2.16zM743.8 524.5h-2.7a.9 .9 0 0 1-.18-1.76a1.45 1.45 0 0 1 2.75-.4a1.08 1.08 0 0 1 .13 2.16zM734.0 524.3h-2.7a.9 .9 0 0 1-.18-1.76a1.45 1.45 0 0 1 2.75-.4a1.08 1.08 0 0 1 .13 2.16zM728.5 524.4h-2.7a.9 .9 0 0 1-.18-1.76a1.45 1.45 0 0 1 2.75-.4a1.08 1.08 0 0 1 .13 2.16zM730.4 524.4h-2.7a.9 .9 0 0 1-.18-1.76a1.45 1.45 0 0 1 2.75-.4a1.08 1.08 0 0 1 .13 2.16zM738.3 524.2h-2.7a.9 .9 0 0 1-.18-1.76a1.45 1.45 0 0 1 2.75-.4a1.08 1.08 0 0 1 .13 2.16zM745.1 524.6h-2.7a.9 .9 0 0 1-.18-1.76a1.45 1.45 0 0 1 2.75-.4a1.08 1.08 0 0 1 .13 2.16zM743.6 524.5h-2.7a.9 .9 0 0 1-.18-1.76a1.45 1.45 0 0 1 2.75-.4a1.08 1.08 0 0 1 .13 2.16zM751.7 524.3h-2.7a.9 .9 0 0 1-.18-1.76a1.45 1.45 0 0 1 2.75-.4a1.08 1.08 0 0 1 .13 2.16zM751.1 524.3h-2.7a.9 .9 0 0 1-.18-1.76a1.45 1.45 0 0 1 2.75-.4a1.08 1.08 0 0 1 .13 2.16zM740.8 524.5h-2.7a.9 .9 0 0 1-.18-1.76a1.45 1.45 0 0 1 2.75-.4a1.08 1.08 0 0 1 .13 2.16zM746.2 524.6h-2.7a.9 .9 0 0 1-.18-1.76a1.45 1.45 0 0 1 2.75-.4a1.08 1.08 0 0 1 .13 2.16zM730.3 524.4h-2.7a.9 .9 0 0 1-.18-1.76a1.45 1.45 0 0 1 2.75-.4a1.08 1.08 0 0 1 .13 2.16zM744.6 524.3h-2.7a.9 .9 0 0 1-.18-1.76a1.45 1.45 0 0 1 2.75-.4a1.08 1.08 0 0 1 .13 2.16zM744.3 524.6h-2.7a.9 .9 0 0 1-.18-1.76a1.45 1.45 0 0 1 2.75-.4a1.08 1.08 0 0 1 .13 2.16zM752.0 524.3h-2.7a.9 .9 0 0 1-.18-1.76a1.45 1.45 0 0 1 2.75-.4a1.08 1.08 0 0 1 .13 2.16zM751.4 524.5h-2.7a.9 .9 0 0 1-.18-1.76a1.45 1.45 0 0 1 2.75-.4a1.08 1.08 0 0 1 .13 2.16zM736.1 524.1h-2.7a.9 .9 0 0 1-.18-1.76a1.45 1.45 0 0 1 2.75-.4a1.08 1.08 0 0 1 .13 2.16zM742.7 524.3h-2.7a.9 .9 0 0 1-.18-1.76a1.45 1.45 0 0 1 2.75-.4a1.08 1.08 0 0 1 .13 2.16zM744.4 524.3h-2.7a.9 .9 0 0 1-.18-1.76a1.45 1.45 0 0 1 2.75-.4a1.08 1.08 0 0 1 .13 2.16zM739.4 524.4h-2.7a.9 .9 0 0 1-.18-1.76a1.45 1.45 0 0 1 2.75-.4a1.08 1.08 0 0 1 .13 2.16zM739.7 524.4h-2.7a.9 .9 0 0 1-.18-1.76a1.45 1.45 0 0 1 2.75-.4a1.08 1.08 0 0 1 .13 2.16zM740.7 524.6h-2.7a.9 .9 0 0 1-.18-1.76a1.45 1.45 0 0 1 2.75-.4a1.08 1.08 0 0 1 .13 2.16zM744.6 524.3h-2.7a.9 .9 0 0 1-.18-1.76a1.45 1.45 0 0 1 2.75-.4a1.08 1.08 0 0 1 .13 2.16zM741.9 524.6h-2.7a.9 .9 0 0 1-.18-1.76a1.45 1.45 0 0 1 2.75-.4a1.08 1.08 0 0 1 .13 2.16zM695.9 550.7h-2.7a.9 .9 0 0 1-.18-1.76a1.45 1.45 0 0 1 2.75-.4a1.08 1.08 0 0 1 .13 2.16zM701.4 550.4h-2.7a.9 .9 0 0 1-.18-1.76a1.45 1.45 0 0 1 2.75-.4a1.08 1.08 0 0 1 .13 2.16zM699.5 550.5h-2.7a.9 .9 0 0 1-.18-1.76a1.45 1.45 0 0 1 2.75-.4a1.08 1.08 0 0 1 .13 2.16zM694.6 550.6h-2.7a.9 .9 0 0 1-.18-1.76a1.45 1.45 0 0 1 2.75-.4a1.08 1.08 0 0 1 .13 2.16zM687.9 550.4h-2.7a.9 .9 0 0 1-.18-1.76a1.45 1.45 0 0 1 2.75-.4a1.08 1.08 0 0 1 .13 2.16zM699.1 550.7h-2.7a.9 .9 0 0 1-.18-1.76a1.45 1.45 0 0 1 2.75-.4a1.08 1.08 0 0 1 .13 2.16zM689.8 550.8h-2.7a.9 .9 0 0 1-.18-1.76a1.45 1.45 0 0 1 2.75-.4a1.08 1.08 0 0 1 .13 2.16zM706.4 550.9h-2.7a.9 .9 0 0 1-.18-1.76a1.45 1.45 0 0 1 2.75-.4a1.08 1.08 0 0 1 .13 2.16zM740.2 550.4h-2.7a.9 .9 0 0 1-.18-1.76a1.45 1.45 0 0 1 2.75-.4a1.08 1.08 0 0 1 .13 2.16zM757.5 550.4h-2.7a.9 .9 0 0 1-.18-1.76a1.45 1.45 0 0 1 2.75-.4a1.08 1.08 0 0 1 .13 2.16zM729.0 550.5h-2.7a.9 .9 0 0 1-.18-1.76a1.45 1.45 0 0 1 2.75-.4a1.08 1.08 0 0 1 .13 2.16zM753.0 550.3h-2.7a.9 .9 0 0 1-.18-1.76a1.45 1.45 0 0 1 2.75-.4a1.08 1.08 0 0 1 .13 2.16zM730.8 550.7h-2.7a.9 .9 0 0 1-.18-1.76a1.45 1.45 0 0 1 2.75-.4a1.08 1.08 0 0 1 .13 2.16zM758.0 550.5h-2.7a.9 .9 0 0 1-.18-1.76a1.45 1.45 0 0 1 2.75-.4a1.08 1.08 0 0 1 .13 2.16zM748.8 550.6h-2.7a.9 .9 0 0 1-.18-1.76a1.45 1.45 0 0 1 2.75-.4a1.08 1.08 0 0 1 .13 2.16zM738.5 550.5h-2.7a.9 .9 0 0 1-.18-1.76a1.45 1.45 0 0 1 2.75-.4a1.08 1.08 0 0 1 .13 2.16zM757.7 550.5h-2.7a.9 .9 0 0 1-.18-1.76a1.45 1.45 0 0 1 2.75-.4a1.08 1.08 0 0 1 .13 2.16zM746.2 550.7h-2.7a.9 .9 0 0 1-.18-1.76a1.45 1.45 0 0 1 2.75-.4a1.08 1.08 0 0 1 .13 2.16zM759.8 550.6h-2.7a.9 .9 0 0 1-.18-1.76a1.45 1.45 0 0 1 2.75-.4a1.08 1.08 0 0 1 .13 2.16zM730.5 550.8h-2.7a.9 .9 0 0 1-.18-1.76a1.45 1.45 0 0 1 2.75-.4a1.08 1.08 0 0 1 .13 2.16zM717.0 550.3h-2.7a.9 .9 0 0 1-.18-1.76a1.45 1.45 0 0 1 2.75-.4a1.08 1.08 0 0 1 .13 2.16zM720.1 550.5h-2.7a.9 .9 0 0 1-.18-1.76a1.45 1.45 0 0 1 2.75-.4a1.08 1.08 0 0 1 .13 2.16zM758.2 550.4h-2.7a.9 .9 0 0 1-.18-1.76a1.45 1.45 0 0 1 2.75-.4a1.08 1.08 0 0 1 .13 2.16zM761.9 550.7h-2.7a.9 .9 0 0 1-.18-1.76a1.45 1.45 0 0 1 2.75-.4a1.08 1.08 0 0 1 .13 2.16zM750.5 550.9h-2.7a.9 .9 0 0 1-.18-1.76a1.45 1.45 0 0 1 2.75-.4a1.08 1.08 0 0 1 .13 2.16zM740.8 550.9h-2.7a.9 .9 0 0 1-.18-1.76a1.45 1.45 0 0 1 2.75-.4a1.08 1.08 0 0 1 .13 2.16zM720.9 550.5h-2.7a.9 .9 0 0 1-.18-1.76a1.45 1.45 0 0 1 2.75-.4a1.08 1.08 0 0 1 .13 2.16zM755.9 550.7h-2.7a.9 .9 0 0 1-.18-1.76a1.45 1.45 0 0 1 2.75-.4a1.08 1.08 0 0 1 .13 2.16zM752.4 550.4h-2.7a.9 .9 0 0 1-.18-1.76a1.45 1.45 0 0 1 2.75-.4a1.08 1.08 0 0 1 .13 2.16zM742.1 550.5h-2.7a.9 .9 0 0 1-.18-1.76a1.45 1.45 0 0 1 2.75-.4a1.08 1.08 0 0 1 .13 2.16zM719.4 550.8h-2.7a.9 .9 0 0 1-.18-1.76a1.45 1.45 0 0 1 2.75-.4a1.08 1.08 0 0 1 .13 2.16zM731.3 550.4h-2.7a.9 .9 0 0 1-.18-1.76a1.45 1.45 0 0 1 2.75-.4a1.08 1.08 0 0 1 .13 2.16zM743.5 550.6h-2.7a.9 .9 0 0 1-.18-1.76a1.45 1.45 0 0 1 2.75-.4a1.08 1.08 0 0 1 .13 2.16zM723.3 550.7h-2.7a.9 .9 0 0 1-.18-1.76a1.45 1.45 0 0 1 2.75-.4a1.08 1.08 0 0 1 .13 2.16zM754.4 550.9h-2.7a.9 .9 0 0 1-.18-1.76a1.45 1.45 0 0 1 2.75-.4a1.08 1.08 0 0 1 .13 2.16zM746.5 550.7h-2.7a.9 .9 0 0 1-.18-1.76a1.45 1.45 0 0 1 2.75-.4a1.08 1.08 0 0 1 .13 2.16zM741.7 550.4h-2.7a.9 .9 0 0 1-.18-1.76a1.45 1.45 0 0 1 2.75-.4a1.08 1.08 0 0 1 .13 2.16zM752.7 550.8h-2.7a.9 .9 0 0 1-.18-1.76a1.45 1.45 0 0 1 2.75-.4a1.08 1.08 0 0 1 .13 2.16zM727.3 550.6h-2.7a.9 .9 0 0 1-.18-1.76a1.45 1.45 0 0 1 2.75-.4a1.08 1.08 0 0 1 .13 2.16zM730.1 550.9h-2.7a.9 .9 0 0 1-.18-1.76a1.45 1.45 0 0 1 2.75-.4a1.08 1.08 0 0 1 .13 2.16zM735.8 550.9h-2.7a.9 .9 0 0 1-.18-1.76a1.45 1.45 0 0 1 2.75-.4a1.08 1.08 0 0 1 .13 2.16zM760.2 550.7h-2.7a.9 .9 0 0 1-.18-1.76a1.45 1.45 0 0 1 2.75-.4a1.08 1.08 0 0 1 .13 2.16zM717.7 550.3h-2.7a.9 .9 0 0 1-.18-1.76a1.45 1.45 0 0 1 2.75-.4a1.08 1.08 0 0 1 .13 2.16zM738.5 550.6h-2.7a.9 .9 0 0 1-.18-1.76a1.45 1.45 0 0 1 2.75-.4a1.08 1.08 0 0 1 .13 2.16zM754.8 550.7h-2.7a.9 .9 0 0 1-.18-1.76a1.45 1.45 0 0 1 2.75-.4a1.08 1.08 0 0 1 .13 2.16zM737.1 550.4h-2.7a.9 .9 0 0 1-.18-1.76a1.45 1.45 0 0 1 2.75-.4a1.08 1.08 0 0 1 .13 2.16zM759.1 550.4h-2.7a.9 .9 0 0 1-.18-1.76a1.45 1.45 0 0 1 2.75-.4a1.08 1.08 0 0 1 .13 2.16zM721.7 550.5h-2.7a.9 .9 0 0 1-.18-1.76a1.45 1.45 0 0 1 2.75-.4a1.08 1.08 0 0 1 .13 2.16zM727.3 550.9h-2.7a.9 .9 0 0 1-.18-1.76a1.45 1.45 0 0 1 2.75-.4a1.08 1.08 0 0 1 .13 2.16zM722.5 550.8h-2.7a.9 .9 0 0 1-.18-1.76a1.45 1.45 0 0 1 2.75-.4a1.08 1.08 0 0 1 .13 2.16zM744.9 550.7h-2.7a.9 .9 0 0 1-.18-1.76a1.45 1.45 0 0 1 2.75-.4a1.08 1.08 0 0 1 .13 2.16zM725.8 550.9h-2.7a.9 .9 0 0 1-.18-1.76a1.45 1.45 0 0 1 2.75-.4a1.08 1.08 0 0 1 .13 2.16zM727.8 550.9h-2.7a.9 .9 0 0 1-.18-1.76a1.45 1.45 0 0 1 2.75-.4a1.08 1.08 0 0 1 .13 2.16zM763.6 550.3h-2.7a.9 .9 0 0 1-.18-1.76a1.45 1.45 0 0 1 2.75-.4a1.08 1.08 0 0 1 .13 2.16zM746.4 550.6h-2.7a.9 .9 0 0 1-.18-1.76a1.45 1.45 0 0 1 2.75-.4a1.08 1.08 0 0 1 .13 2.16zM742.2 550.5h-2.7a.9 .9 0 0 1-.18-1.76a1.45 1.45 0 0 1 2.75-.4a1.08 1.08 0 0 1 .13 2.16zM734.9 550.4h-2.7a.9 .9 0 0 1-.18-1.76a1.45 1.45 0 0 1 2.75-.4a1.08 1.08 0 0 1 .13 2.16zM723.8 550.8h-2.7a.9 .9 0 0 1-.18-1.76a1.45 1.45 0 0 1 2.75-.4a1.08 1.08 0 0 1 .13 2.16zM721.0 550.7h-2.7a.9 .9 0 0 1-.18-1.76a1.45 1.45 0 0 1 2.75-.4a1.08 1.08 0 0 1 .13 2.16zM735.5 550.8h-2.7a.9 .9 0 0 1-.18-1.76a1.45 1.45 0 0 1 2.75-.4a1.08 1.08 0 0 1 .13 2.16zM733.1 550.9h-2.7a.9 .9 0 0 1-.18-1.76a1.45 1.45 0 0 1 2.75-.4a1.08 1.08 0 0 1 .13 2.16zM748.1 550.6h-2.7a.9 .9 0 0 1-.18-1.76a1.45 1.45 0 0 1 2.75-.4a1.08 1.08 0 0 1 .13 2.16zM719.8 550.5h-2.7a.9 .9 0 0 1-.18-1.76a1.45 1.45 0 0 1 2.75-.4a1.08 1.08 0 0 1 .13 2.16zM720.6 550.8h-2.7a.9 .9 0 0 1-.18-1.76a1.45 1.45 0 0 1 2.75-.4a1.08 1.08 0 0 1 .13 2.16zM759.4 550.9h-2.7a.9 .9 0 0 1-.18-1.76a1.45 1.45 0 0 1 2.75-.4a1.08 1.08 0 0 1 .13 2.16zM762.9 550.3h-2.7a.9 .9 0 0 1-.18-1.76a1.45 1.45 0 0 1 2.75-.4a1.08 1.08 0 0 1 .13 2.16zM740.1 550.3h-2.7a.9 .9 0 0 1-.18-1.76a1.45 1.45 0 0 1 2.75-.4a1.08 1.08 0 0 1 .13 2.16zM751.6 550.3h-2.7a.9 .9 0 0 1-.18-1.76a1.45 1.45 0 0 1 2.75-.4a1.08 1.08 0 0 1 .13 2.16zM782.5 550.4h-2.7a.9 .9 0 0 1-.18-1.76a1.45 1.45 0 0 1 2.75-.4a1.08 1.08 0 0 1 .13 2.16zM771.8 550.5h-2.7a.9 .9 0 0 1-.18-1.76a1.45 1.45 0 0 1 2.75-.4a1.08 1.08 0 0 1 .13 2.16zM775.6 550.4h-2.7a.9 .9 0 0 1-.18-1.76a1.45 1.45 0 0 1 2.75-.4a1.08 1.08 0 0 1 .13 2.16zM789.1 550.5h-2.7a.9 .9 0 0 1-.18-1.76a1.45 1.45 0 0 1 2.75-.4a1.08 1.08 0 0 1 .13 2.16zM791.8 550.4h-2.7a.9 .9 0 0 1-.18-1.76a1.45 1.45 0 0 1 2.75-.4a1.08 1.08 0 0 1 .13 2.16zM800.8 550.7h-2.7a.9 .9 0 0 1-.18-1.76a1.45 1.45 0 0 1 2.75-.4a1.08 1.08 0 0 1 .13 2.16zM780.7 550.6h-2.7a.9 .9 0 0 1-.18-1.76a1.45 1.45 0 0 1 2.75-.4a1.08 1.08 0 0 1 .13 2.16zM789.2 550.9h-2.7a.9 .9 0 0 1-.18-1.76a1.45 1.45 0 0 1 2.75-.4a1.08 1.08 0 0 1 .13 2.16zM795.7 550.6h-2.7a.9 .9 0 0 1-.18-1.76a1.45 1.45 0 0 1 2.75-.4a1.08 1.08 0 0 1 .13 2.16zM776.4 550.7h-2.7a.9 .9 0 0 1-.18-1.76a1.45 1.45 0 0 1 2.75-.4a1.08 1.08 0 0 1 .13 2.16zM777.9 550.6h-2.7a.9 .9 0 0 1-.18-1.76a1.45 1.45 0 0 1 2.75-.4a1.08 1.08 0 0 1 .13 2.16zM770.9 550.6h-2.7a.9 .9 0 0 1-.18-1.76a1.45 1.45 0 0 1 2.75-.4a1.08 1.08 0 0 1 .13 2.16zM774.1 550.5h-2.7a.9 .9 0 0 1-.18-1.76a1.45 1.45 0 0 1 2.75-.4a1.08 1.08 0 0 1 .13 2.16zM768.4 550.4h-2.7a.9 .9 0 0 1-.18-1.76a1.45 1.45 0 0 1 2.75-.4a1.08 1.08 0 0 1 .13 2.16zM692.8 577.1h-2.7a.9 .9 0 0 1-.18-1.76a1.45 1.45 0 0 1 2.75-.4a1.08 1.08 0 0 1 .13 2.16zM696.6 576.9h-2.7a.9 .9 0 0 1-.18-1.76a1.45 1.45 0 0 1 2.75-.4a1.08 1.08 0 0 1 .13 2.16zM694.0 576.8h-2.7a.9 .9 0 0 1-.18-1.76a1.45 1.45 0 0 1 2.75-.4a1.08 1.08 0 0 1 .13 2.16zM691.0 577.3h-2.7a.9 .9 0 0 1-.18-1.76a1.45 1.45 0 0 1 2.75-.4a1.08 1.08 0 0 1 .13 2.16zM742.7 577.3h-2.7a.9 .9 0 0 1-.18-1.76a1.45 1.45 0 0 1 2.75-.4a1.08 1.08 0 0 1 .13 2.16zM710.4 576.8h-2.7a.9 .9 0 0 1-.18-1.76a1.45 1.45 0 0 1 2.75-.4a1.08 1.08 0 0 1 .13 2.16zM737.1 577.1h-2.7a.9 .9 0 0 1-.18-1.76a1.45 1.45 0 0 1 2.75-.4a1.08 1.08 0 0 1 .13 2.16zM736.1 577.0h-2.7a.9 .9 0 0 1-.18-1.76a1.45 1.45 0 0 1 2.75-.4a1.08 1.08 0 0 1 .13 2.16zM744.6 577.0h-2.7a.9 .9 0 0 1-.18-1.76a1.45 1.45 0 0 1 2.75-.4a1.08 1.08 0 0 1 .13 2.16zM735.2 576.9h-2.7a.9 .9 0 0 1-.18-1.76a1.45 1.45 0 0 1 2.75-.4a1.08 1.08 0 0 1 .13 2.16zM709.9 577.1h-2.7a.9 .9 0 0 1-.18-1.76a1.45 1.45 0 0 1 2.75-.4a1.08 1.08 0 0 1 .13 2.16zM733.6 577.2h-2.7a.9 .9 0 0 1-.18-1.76a1.45 1.45 0 0 1 2.75-.4a1.08 1.08 0 0 1 .13 2.16zM716.4 576.8h-2.7a.9 .9 0 0 1-.18-1.76a1.45 1.45 0 0 1 2.75-.4a1.08 1.08 0 0 1 .13 2.16zM714.3 576.8h-2.7a.9 .9 0 0 1-.18-1.76a1.45 1.45 0 0 1 2.75-.4a1.08 1.08 0 0 1 .13 2.16zM708.6 576.8h-2.7a.9 .9 0 0 1-.18-1.76a1.45 1.45 0 0 1 2.75-.4a1.08 1.08 0 0 1 .13 2.16zM741.3 577.2h-2.7a.9 .9 0 0 1-.18-1.76a1.45 1.45 0 0 1 2.75-.4a1.08 1.08 0 0 1 .13 2.16zM732.5 576.7h-2.7a.9 .9 0 0 1-.18-1.76a1.45 1.45 0 0 1 2.75-.4a1.08 1.08 0 0 1 .13 2.16zM743.9 577.2h-2.7a.9 .9 0 0 1-.18-1.76a1.45 1.45 0 0 1 2.75-.4a1.08 1.08 0 0 1 .13 2.16zM709.4 576.9h-2.7a.9 .9 0 0 1-.18-1.76a1.45 1.45 0 0 1 2.75-.4a1.08 1.08 0 0 1 .13 2.16zM713.9 577.0h-2.7a.9 .9 0 0 1-.18-1.76a1.45 1.45 0 0 1 2.75-.4a1.08 1.08 0 0 1 .13 2.16zM721.9 577.1h-2.7a.9 .9 0 0 1-.18-1.76a1.45 1.45 0 0 1 2.75-.4a1.08 1.08 0 0 1 .13 2.16zM729.5 577.3h-2.7a.9 .9 0 0 1-.18-1.76a1.45 1.45 0 0 1 2.75-.4a1.08 1.08 0 0 1 .13 2.16zM733.2 576.9h-2.7a.9 .9 0 0 1-.18-1.76a1.45 1.45 0 0 1 2.75-.4a1.08 1.08 0 0 1 .13 2.16zM728.7 576.9h-2.7a.9 .9 0 0 1-.18-1.76a1.45 1.45 0 0 1 2.75-.4a1.08 1.08 0 0 1 .13 2.16zM730.6 577.0h-2.7a.9 .9 0 0 1-.18-1.76a1.45 1.45 0 0 1 2.75-.4a1.08 1.08 0 0 1 .13 2.16zM734.7 577.1h-2.7a.9 .9 0 0 1-.18-1.76a1.45 1.45 0 0 1 2.75-.4a1.08 1.08 0 0 1 .13 2.16zM727.3 576.9h-2.7a.9 .9 0 0 1-.18-1.76a1.45 1.45 0 0 1 2.75-.4a1.08 1.08 0 0 1 .13 2.16zM713.3 577.3h-2.7a.9 .9 0 0 1-.18-1.76a1.45 1.45 0 0 1 2.75-.4a1.08 1.08 0 0 1 .13 2.16zM703.4 577.3h-2.7a.9 .9 0 0 1-.18-1.76a1.45 1.45 0 0 1 2.75-.4a1.08 1.08 0 0 1 .13 2.16zM710.3 576.7h-2.7a.9 .9 0 0 1-.18-1.76a1.45 1.45 0 0 1 2.75-.4a1.08 1.08 0 0 1 .13 2.16zM704.4 577.2h-2.7a.9 .9 0 0 1-.18-1.76a1.45 1.45 0 0 1 2.75-.4a1.08 1.08 0 0 1 .13 2.16zM711.5 577.1h-2.7a.9 .9 0 0 1-.18-1.76a1.45 1.45 0 0 1 2.75-.4a1.08 1.08 0 0 1 .13 2.16zM703.8 577.3h-2.7a.9 .9 0 0 1-.18-1.76a1.45 1.45 0 0 1 2.75-.4a1.08 1.08 0 0 1 .13 2.16zM741.1 577.0h-2.7a.9 .9 0 0 1-.18-1.76a1.45 1.45 0 0 1 2.75-.4a1.08 1.08 0 0 1 .13 2.16zM736.0 577.3h-2.7a.9 .9 0 0 1-.18-1.76a1.45 1.45 0 0 1 2.75-.4a1.08 1.08 0 0 1 .13 2.16zM708.5 577.0h-2.7a.9 .9 0 0 1-.18-1.76a1.45 1.45 0 0 1 2.75-.4a1.08 1.08 0 0 1 .13 2.16zM704.3 576.8h-2.7a.9 .9 0 0 1-.18-1.76a1.45 1.45 0 0 1 2.75-.4a1.08 1.08 0 0 1 .13 2.16zM716.2 577.0h-2.7a.9 .9 0 0 1-.18-1.76a1.45 1.45 0 0 1 2.75-.4a1.08 1.08 0 0 1 .13 2.16zM735.3 577.2h-2.7a.9 .9 0 0 1-.18-1.76a1.45 1.45 0 0 1 2.75-.4a1.08 1.08 0 0 1 .13 2.16zM730.5 576.8h-2.7a.9 .9 0 0 1-.18-1.76a1.45 1.45 0 0 1 2.75-.4a1.08 1.08 0 0 1 .13 2.16zM709.5 576.8h-2.7a.9 .9 0 0 1-.18-1.76a1.45 1.45 0 0 1 2.75-.4a1.08 1.08 0 0 1 .13 2.16zM712.1 577.0h-2.7a.9 .9 0 0 1-.18-1.76a1.45 1.45 0 0 1 2.75-.4a1.08 1.08 0 0 1 .13 2.16zM726.8 576.9h-2.7a.9 .9 0 0 1-.18-1.76a1.45 1.45 0 0 1 2.75-.4a1.08 1.08 0 0 1 .13 2.16zM742.1 576.9h-2.7a.9 .9 0 0 1-.18-1.76a1.45 1.45 0 0 1 2.75-.4a1.08 1.08 0 0 1 .13 2.16zM712.5 576.9h-2.7a.9 .9 0 0 1-.18-1.76a1.45 1.45 0 0 1 2.75-.4a1.08 1.08 0 0 1 .13 2.16zM727.0 577.1h-2.7a.9 .9 0 0 1-.18-1.76a1.45 1.45 0 0 1 2.75-.4a1.08 1.08 0 0 1 .13 2.16zM738.5 577.0h-2.7a.9 .9 0 0 1-.18-1.76a1.45 1.45 0 0 1 2.75-.4a1.08 1.08 0 0 1 .13 2.16zM701.9 577.3h-2.7a.9 .9 0 0 1-.18-1.76a1.45 1.45 0 0 1 2.75-.4a1.08 1.08 0 0 1 .13 2.16zM738.6 576.7h-2.7a.9 .9 0 0 1-.18-1.76a1.45 1.45 0 0 1 2.75-.4a1.08 1.08 0 0 1 .13 2.16zM705.1 577.1h-2.7a.9 .9 0 0 1-.18-1.76a1.45 1.45 0 0 1 2.75-.4a1.08 1.08 0 0 1 .13 2.16zM715.4 577.2h-2.7a.9 .9 0 0 1-.18-1.76a1.45 1.45 0 0 1 2.75-.4a1.08 1.08 0 0 1 .13 2.16zM736.4 576.8h-2.7a.9 .9 0 0 1-.18-1.76a1.45 1.45 0 0 1 2.75-.4a1.08 1.08 0 0 1 .13 2.16zM728.3 577.3h-2.7a.9 .9 0 0 1-.18-1.76a1.45 1.45 0 0 1 2.75-.4a1.08 1.08 0 0 1 .13 2.16zM706.5 576.9h-2.7a.9 .9 0 0 1-.18-1.76a1.45 1.45 0 0 1 2.75-.4a1.08 1.08 0 0 1 .13 2.16zM733.1 577.1h-2.7a.9 .9 0 0 1-.18-1.76a1.45 1.45 0 0 1 2.75-.4a1.08 1.08 0 0 1 .13 2.16zM716.7 577.2h-2.7a.9 .9 0 0 1-.18-1.76a1.45 1.45 0 0 1 2.75-.4a1.08 1.08 0 0 1 .13 2.16zM703.9 577.2h-2.7a.9 .9 0 0 1-.18-1.76a1.45 1.45 0 0 1 2.75-.4a1.08 1.08 0 0 1 .13 2.16zM745.1 577.0h-2.7a.9 .9 0 0 1-.18-1.76a1.45 1.45 0 0 1 2.75-.4a1.08 1.08 0 0 1 .13 2.16zM742.0 576.9h-2.7a.9 .9 0 0 1-.18-1.76a1.45 1.45 0 0 1 2.75-.4a1.08 1.08 0 0 1 .13 2.16zM723.5 577.0h-2.7a.9 .9 0 0 1-.18-1.76a1.45 1.45 0 0 1 2.75-.4a1.08 1.08 0 0 1 .13 2.16zM726.3 576.9h-2.7a.9 .9 0 0 1-.18-1.76a1.45 1.45 0 0 1 2.75-.4a1.08 1.08 0 0 1 .13 2.16zM746.0 577.2h-2.7a.9 .9 0 0 1-.18-1.76a1.45 1.45 0 0 1 2.75-.4a1.08 1.08 0 0 1 .13 2.16zM701.4 577.3h-2.7a.9 .9 0 0 1-.18-1.76a1.45 1.45 0 0 1 2.75-.4a1.08 1.08 0 0 1 .13 2.16zM721.6 577.1h-2.7a.9 .9 0 0 1-.18-1.76a1.45 1.45 0 0 1 2.75-.4a1.08 1.08 0 0 1 .13 2.16zM756.5 576.8h-2.7a.9 .9 0 0 1-.18-1.76a1.45 1.45 0 0 1 2.75-.4a1.08 1.08 0 0 1 .13 2.16zM767.1 577.0h-2.7a.9 .9 0 0 1-.18-1.76a1.45 1.45 0 0 1 2.75-.4a1.08 1.08 0 0 1 .13 2.16zM753.7 576.8h-2.7a.9 .9 0 0 1-.18-1.76a1.45 1.45 0 0 1 2.75-.4a1.08 1.08 0 0 1 .13 2.16zM768.0 576.8h-2.7a.9 .9 0 0 1-.18-1.76a1.45 1.45 0 0 1 2.75-.4a1.08 1.08 0 0 1 .13 2.16zM753.2 577.3h-2.7a.9 .9 0 0 1-.18-1.76a1.45 1.45 0 0 1 2.75-.4a1.08 1.08 0 0 1 .13 2.16zM762.9 577.2h-2.7a.9 .9 0 0 1-.18-1.76a1.45 1.45 0 0 1 2.75-.4a1.08 1.08 0 0 1 .13 2.16zM773.2 576.7h-2.7a.9 .9 0 0 1-.18-1.76a1.45 1.45 0 0 1 2.75-.4a1.08 1.08 0 0 1 .13 2.16zM750.8 577.1h-2.7a.9 .9 0 0 1-.18-1.76a1.45 1.45 0 0 1 2.75-.4a1.08 1.08 0 0 1 .13 2.16zM763.1 576.7h-2.7a.9 .9 0 0 1-.18-1.76a1.45 1.45 0 0 1 2.75-.4a1.08 1.08 0 0 1 .13 2.16zM773.1 577.3h-2.7a.9 .9 0 0 1-.18-1.76a1.45 1.45 0 0 1 2.75-.4a1.08 1.08 0 0 1 .13 2.16zM737.5 603.5h-2.7a.9 .9 0 0 1-.18-1.76a1.45 1.45 0 0 1 2.75-.4a1.08 1.08 0 0 1 .13 2.16zM705.1 603.3h-2.7a.9 .9 0 0 1-.18-1.76a1.45 1.45 0 0 1 2.75-.4a1.08 1.08 0 0 1 .13 2.16zM741.9 603.1h-2.7a.9 .9 0 0 1-.18-1.76a1.45 1.45 0 0 1 2.75-.4a1.08 1.08 0 0 1 .13 2.16zM713.0 603.2h-2.7a.9 .9 0 0 1-.18-1.76a1.45 1.45 0 0 1 2.75-.4a1.08 1.08 0 0 1 .13 2.16zM755.7 603.4h-2.7a.9 .9 0 0 1-.18-1.76a1.45 1.45 0 0 1 2.75-.4a1.08 1.08 0 0 1 .13 2.16zM722.4 603.3h-2.7a.9 .9 0 0 1-.18-1.76a1.45 1.45 0 0 1 2.75-.4a1.08 1.08 0 0 1 .13 2.16zM702.1 603.7h-2.7a.9 .9 0 0 1-.18-1.76a1.45 1.45 0 0 1 2.75-.4a1.08 1.08 0 0 1 .13 2.16zM705.8 603.1h-2.7a.9 .9 0 0 1-.18-1.76a1.45 1.45 0 0 1 2.75-.4a1.08 1.08 0 0 1 .13 2.16zM731.1 603.4h-2.7a.9 .9 0 0 1-.18-1.76a1.45 1.45 0 0 1 2.75-.4a1.08 1.08 0 0 1 .13 2.16zM711.4 603.3h-2.7a.9 .9 0 0 1-.18-1.76a1.45 1.45 0 0 1 2.75-.4a1.08 1.08 0 0 1 .13 2.16zM707.7 603.3h-2.7a.9 .9 0 0 1-.18-1.76a1.45 1.45 0 0 1 2.75-.4a1.08 1.08 0 0 1 .13 2.16zM728.0 603.2h-2.7a.9 .9 0 0 1-.18-1.76a1.45 1.45 0 0 1 2.75-.4a1.08 1.08 0 0 1 .13 2.16zM734.0 603.6h-2.7a.9 .9 0 0 1-.18-1.76a1.45 1.45 0 0 1 2.75-.4a1.08 1.08 0 0 1 .13 2.16zM748.4 603.3h-2.7a.9 .9 0 0 1-.18-1.76a1.45 1.45 0 0 1 2.75-.4a1.08 1.08 0 0 1 .13 2.16zM725.9 603.2h-2.7a.9 .9 0 0 1-.18-1.76a1.45 1.45 0 0 1 2.75-.4a1.08 1.08 0 0 1 .13 2.16zM725.9 603.5h-2.7a.9 .9 0 0 1-.18-1.76a1.45 1.45 0 0 1 2.75-.4a1.08 1.08 0 0 1 .13 2.16zM743.2 603.5h-2.7a.9 .9 0 0 1-.18-1.76a1.45 1.45 0 0 1 2.75-.4a1.08 1.08 0 0 1 .13 2.16zM731.4 603.3h-2.7a.9 .9 0 0 1-.18-1.76a1.45 1.45 0 0 1 2.75-.4a1.08 1.08 0 0 1 .13 2.16zM749.2 603.7h-2.7a.9 .9 0 0 1-.18-1.76a1.45 1.45 0 0 1 2.75-.4a1.08 1.08 0 0 1 .13 2.16zM727.9 603.3h-2.7a.9 .9 0 0 1-.18-1.76a1.45 1.45 0 0 1 2.75-.4a1.08 1.08 0 0 1 .13 2.16zM714.8 603.2h-2.7a.9 .9 0 0 1-.18-1.76a1.45 1.45 0 0 1 2.75-.4a1.08 1.08 0 0 1 .13 2.16zM748.1 603.1h-2.7a.9 .9 0 0 1-.18-1.76a1.45 1.45 0 0 1 2.75-.4a1.08 1.08 0 0 1 .13 2.16zM712.5 603.3h-2.7a.9 .9 0 0 1-.18-1.76a1.45 1.45 0 0 1 2.75-.4a1.08 1.08 0 0 1 .13 2.16zM715.4 603.4h-2.7a.9 .9 0 0 1-.18-1.76a1.45 1.45 0 0 1 2.75-.4a1.08 1.08 0 0 1 .13 2.16zM754.6 603.5h-2.7a.9 .9 0 0 1-.18-1.76a1.45 1.45 0 0 1 2.75-.4a1.08 1.08 0 0 1 .13 2.16zM728.8 603.7h-2.7a.9 .9 0 0 1-.18-1.76a1.45 1.45 0 0 1 2.75-.4a1.08 1.08 0 0 1 .13 2.16zM702.2 603.4h-2.7a.9 .9 0 0 1-.18-1.76a1.45 1.45 0 0 1 2.75-.4a1.08 1.08 0 0 1 .13 2.16zM737.0 603.5h-2.7a.9 .9 0 0 1-.18-1.76a1.45 1.45 0 0 1 2.75-.4a1.08 1.08 0 0 1 .13 2.16zM701.7 603.1h-2.7a.9 .9 0 0 1-.18-1.76a1.45 1.45 0 0 1 2.75-.4a1.08 1.08 0 0 1 .13 2.16zM705.4 603.7h-2.7a.9 .9 0 0 1-.18-1.76a1.45 1.45 0 0 1 2.75-.4a1.08 1.08 0 0 1 .13 2.16zM719.4 603.3h-2.7a.9 .9 0 0 1-.18-1.76a1.45 1.45 0 0 1 2.75-.4a1.08 1.08 0 0 1 .13 2.16zM708.6 603.1h-2.7a.9 .9 0 0 1-.18-1.76a1.45 1.45 0 0 1 2.75-.4a1.08 1.08 0 0 1 .13 2.16zM705.1 603.4h-2.7a.9 .9 0 0 1-.18-1.76a1.45 1.45 0 0 1 2.75-.4a1.08 1.08 0 0 1 .13 2.16zM718.6 603.5h-2.7a.9 .9 0 0 1-.18-1.76a1.45 1.45 0 0 1 2.75-.4a1.08 1.08 0 0 1 .13 2.16zM755.8 603.1h-2.7a.9 .9 0 0 1-.18-1.76a1.45 1.45 0 0 1 2.75-.4a1.08 1.08 0 0 1 .13 2.16zM724.8 603.3h-2.7a.9 .9 0 0 1-.18-1.76a1.45 1.45 0 0 1 2.75-.4a1.08 1.08 0 0 1 .13 2.16zM704.0 603.3h-2.7a.9 .9 0 0 1-.18-1.76a1.45 1.45 0 0 1 2.75-.4a1.08 1.08 0 0 1 .13 2.16zM758.2 603.1h-2.7a.9 .9 0 0 1-.18-1.76a1.45 1.45 0 0 1 2.75-.4a1.08 1.08 0 0 1 .13 2.16zM746.2 603.6h-2.7a.9 .9 0 0 1-.18-1.76a1.45 1.45 0 0 1 2.75-.4a1.08 1.08 0 0 1 .13 2.16zM728.5 603.5h-2.7a.9 .9 0 0 1-.18-1.76a1.45 1.45 0 0 1 2.75-.4a1.08 1.08 0 0 1 .13 2.16zM712.1 603.3h-2.7a.9 .9 0 0 1-.18-1.76a1.45 1.45 0 0 1 2.75-.4a1.08 1.08 0 0 1 .13 2.16zM744.6 603.4h-2.7a.9 .9 0 0 1-.18-1.76a1.45 1.45 0 0 1 2.75-.4a1.08 1.08 0 0 1 .13 2.16zM704.8 603.6h-2.7a.9 .9 0 0 1-.18-1.76a1.45 1.45 0 0 1 2.75-.4a1.08 1.08 0 0 1 .13 2.16zM752.6 603.1h-2.7a.9 .9 0 0 1-.18-1.76a1.45 1.45 0 0 1 2.75-.4a1.08 1.08 0 0 1 .13 2.16zM744.2 603.5h-2.7a.9 .9 0 0 1-.18-1.76a1.45 1.45 0 0 1 2.75-.4a1.08 1.08 0 0 1 .13 2.16zM730.4 603.5h-2.7a.9 .9 0 0 1-.18-1.76a1.45 1.45 0 0 1 2.75-.4a1.08 1.08 0 0 1 .13 2.16zM707.7 603.7h-2.7a.9 .9 0 0 1-.18-1.76a1.45 1.45 0 0 1 2.75-.4a1.08 1.08 0 0 1 .13 2.16zM710.5 603.3h-2.7a.9 .9 0 0 1-.18-1.76a1.45 1.45 0 0 1 2.75-.4a1.08 1.08 0 0 1 .13 2.16zM714.8 603.4h-2.7a.9 .9 0 0 1-.18-1.76a1.45 1.45 0 0 1 2.75-.4a1.08 1.08 0 0 1 .13 2.16zM752.3 603.4h-2.7a.9 .9 0 0 1-.18-1.76a1.45 1.45 0 0 1 2.75-.4a1.08 1.08 0 0 1 .13 2.16zM731.8 603.4h-2.7a.9 .9 0 0 1-.18-1.76a1.45 1.45 0 0 1 2.75-.4a1.08 1.08 0 0 1 .13 2.16zM739.1 603.6h-2.7a.9 .9 0 0 1-.18-1.76a1.45 1.45 0 0 1 2.75-.4a1.08 1.08 0 0 1 .13 2.16zM724.9 603.3h-2.7a.9 .9 0 0 1-.18-1.76a1.45 1.45 0 0 1 2.75-.4a1.08 1.08 0 0 1 .13 2.16zM707.0 603.6h-2.7a.9 .9 0 0 1-.18-1.76a1.45 1.45 0 0 1 2.75-.4a1.08 1.08 0 0 1 .13 2.16zM751.7 603.1h-2.7a.9 .9 0 0 1-.18-1.76a1.45 1.45 0 0 1 2.75-.4a1.08 1.08 0 0 1 .13 2.16zM752.9 603.3h-2.7a.9 .9 0 0 1-.18-1.76a1.45 1.45 0 0 1 2.75-.4a1.08 1.08 0 0 1 .13 2.16zM709.4 603.3h-2.7a.9 .9 0 0 1-.18-1.76a1.45 1.45 0 0 1 2.75-.4a1.08 1.08 0 0 1 .13 2.16zM729.0 603.4h-2.7a.9 .9 0 0 1-.18-1.76a1.45 1.45 0 0 1 2.75-.4a1.08 1.08 0 0 1 .13 2.16zM756.2 603.5h-2.7a.9 .9 0 0 1-.18-1.76a1.45 1.45 0 0 1 2.75-.4a1.08 1.08 0 0 1 .13 2.16zM727.4 603.4h-2.7a.9 .9 0 0 1-.18-1.76a1.45 1.45 0 0 1 2.75-.4a1.08 1.08 0 0 1 .13 2.16z" fill="#27958a" fill-opacity=".92"/><path d="M667.7 523.1h0M532.9 549.4h0M535.5 549.3h0M533.8 549.0h0M530.0 549.2h0M527.3 549.2h0M529.8 549.0h0M534.8 549.2h0M532.1 549.0h0M530.5 549.1h0M533.7 548.9h0M637.5 549.0h0M638.5 548.9h0M639.4 549.4h0M663.3 549.5h0M528.5 575.3h0M535.9 575.4h0M527.1 575.9h0M533.9 575.8h0M534.0 575.9h0M532.8 575.7h0M528.4 575.8h0M527.7 575.5h0M538.9 575.5h0M529.5 575.6h0M529.1 575.6h0M526.5 575.3h0M533.7 575.5h0M526.2 575.5h0M540.0 575.4h0M539.3 575.5h0M552.2 575.7h0M548.2 575.8h0M554.5 575.4h0M549.9 575.9h0M549.6 575.6h0M546.5 575.6h0M562.2 575.4h0M575.1 575.4h0M650.0 575.8h0M649.0 575.4h0M658.0 575.7h0M654.6 575.8h0M654.4 575.5h0M527.0 601.7h0M538.3 602.2h0M526.6 602.1h0M526.2 601.8h0M527.3 602.2h0M528.2 601.7h0M538.7 602.2h0M526.9 601.8h0M532.1 602.0h0M527.7 601.9h0M537.1 602.2h0M535.2 601.9h0M539.6 601.9h0M527.9 602.2h0M638.7 602.3h0M648.6 601.7h0M648.4 601.9h0M649.3 601.9h0M662.2 602.1h0" fill="none" stroke="#161616" stroke-opacity=".93" stroke-width="3.8" stroke-linecap="round"/><path d="M527.5 628.3h0M547.0 628.3h0" fill="none" stroke="#f8c67a" stroke-opacity=".8" stroke-width="3.8" stroke-linecap="round"/><path d="M554.1 626.8v1.5l1.4 1.6l1.4-1.6v-1.5M586.2 626.8v1.5l1.4 1.6l1.4-1.6v-1.5M598.6 626.8v1.5l1.4 1.6l1.4-1.6v-1.5" fill="#84bff7" fill-opacity=".4" stroke="#84bff7" stroke-opacity=".8" stroke-width=".9" stroke-linejoin="round"/><path d="M623.1 629.7h-2.7a.9 .9 0 0 1-.18-1.76a1.45 1.45 0 0 1 2.75-.4a1.08 1.08 0 0 1 .13 2.16zM649.5 629.7h-2.7a.9 .9 0 0 1-.18-1.76a1.45 1.45 0 0 1 2.75-.4a1.08 1.08 0 0 1 .13 2.16zM672.2 629.7h-2.7a.9 .9 0 0 1-.18-1.76a1.45 1.45 0 0 1 2.75-.4a1.08 1.08 0 0 1 .13 2.16zM682.5 629.7h-2.7a.9 .9 0 0 1-.18-1.76a1.45 1.45 0 0 1 2.75-.4a1.08 1.08 0 0 1 .13 2.16zM759.3 629.7h-2.7a.9 .9 0 0 1-.18-1.76a1.45 1.45 0 0 1 2.75-.4a1.08 1.08 0 0 1 .13 2.16zM730.4 629.7h-2.7a.9 .9 0 0 1-.18-1.76a1.45 1.45 0 0 1 2.75-.4a1.08 1.08 0 0 1 .13 2.16zM713.7 629.7h-2.7a.9 .9 0 0 1-.18-1.76a1.45 1.45 0 0 1 2.75-.4a1.08 1.08 0 0 1 .13 2.16zM728.3 629.7h-2.7a.9 .9 0 0 1-.18-1.76a1.45 1.45 0 0 1 2.75-.4a1.08 1.08 0 0 1 .13 2.16zM711.4 629.7h-2.7a.9 .9 0 0 1-.18-1.76a1.45 1.45 0 0 1 2.75-.4a1.08 1.08 0 0 1 .13 2.16zM731.5 629.7h-2.7a.9 .9 0 0 1-.18-1.76a1.45 1.45 0 0 1 2.75-.4a1.08 1.08 0 0 1 .13 2.16zM712.9 629.7h-2.7a.9 .9 0 0 1-.18-1.76a1.45 1.45 0 0 1 2.75-.4a1.08 1.08 0 0 1 .13 2.16zM701.9 629.7h-2.7a.9 .9 0 0 1-.18-1.76a1.45 1.45 0 0 1 2.75-.4a1.08 1.08 0 0 1 .13 2.16zM737.2 629.7h-2.7a.9 .9 0 0 1-.18-1.76a1.45 1.45 0 0 1 2.75-.4a1.08 1.08 0 0 1 .13 2.16zM700.2 629.7h-2.7a.9 .9 0 0 1-.18-1.76a1.45 1.45 0 0 1 2.75-.4a1.08 1.08 0 0 1 .13 2.16zM735.3 629.7h-2.7a.9 .9 0 0 1-.18-1.76a1.45 1.45 0 0 1 2.75-.4a1.08 1.08 0 0 1 .13 2.16zM732.7 629.7h-2.7a.9 .9 0 0 1-.18-1.76a1.45 1.45 0 0 1 2.75-.4a1.08 1.08 0 0 1 .13 2.16zM726.0 629.7h-2.7a.9 .9 0 0 1-.18-1.76a1.45 1.45 0 0 1 2.75-.4a1.08 1.08 0 0 1 .13 2.16zM705.0 629.7h-2.7a.9 .9 0 0 1-.18-1.76a1.45 1.45 0 0 1 2.75-.4a1.08 1.08 0 0 1 .13 2.16zM752.3 629.7h-2.7a.9 .9 0 0 1-.18-1.76a1.45 1.45 0 0 1 2.75-.4a1.08 1.08 0 0 1 .13 2.16zM714.2 629.7h-2.7a.9 .9 0 0 1-.18-1.76a1.45 1.45 0 0 1 2.75-.4a1.08 1.08 0 0 1 .13 2.16zM724.6 629.7h-2.7a.9 .9 0 0 1-.18-1.76a1.45 1.45 0 0 1 2.75-.4a1.08 1.08 0 0 1 .13 2.16zM725.8 629.7h-2.7a.9 .9 0 0 1-.18-1.76a1.45 1.45 0 0 1 2.75-.4a1.08 1.08 0 0 1 .13 2.16zM725.9 629.7h-2.7a.9 .9 0 0 1-.18-1.76a1.45 1.45 0 0 1 2.75-.4a1.08 1.08 0 0 1 .13 2.16zM726.8 629.7h-2.7a.9 .9 0 0 1-.18-1.76a1.45 1.45 0 0 1 2.75-.4a1.08 1.08 0 0 1 .13 2.16zM751.2 629.7h-2.7a.9 .9 0 0 1-.18-1.76a1.45 1.45 0 0 1 2.75-.4a1.08 1.08 0 0 1 .13 2.16zM705.8 629.7h-2.7a.9 .9 0 0 1-.18-1.76a1.45 1.45 0 0 1 2.75-.4a1.08 1.08 0 0 1 .13 2.16zM721.8 629.7h-2.7a.9 .9 0 0 1-.18-1.76a1.45 1.45 0 0 1 2.75-.4a1.08 1.08 0 0 1 .13 2.16zM719.0 629.7h-2.7a.9 .9 0 0 1-.18-1.76a1.45 1.45 0 0 1 2.75-.4a1.08 1.08 0 0 1 .13 2.16zM744.4 629.7h-2.7a.9 .9 0 0 1-.18-1.76a1.45 1.45 0 0 1 2.75-.4a1.08 1.08 0 0 1 .13 2.16zM758.6 629.7h-2.7a.9 .9 0 0 1-.18-1.76a1.45 1.45 0 0 1 2.75-.4a1.08 1.08 0 0 1 .13 2.16zM726.1 629.7h-2.7a.9 .9 0 0 1-.18-1.76a1.45 1.45 0 0 1 2.75-.4a1.08 1.08 0 0 1 .13 2.16zM727.2 629.7h-2.7a.9 .9 0 0 1-.18-1.76a1.45 1.45 0 0 1 2.75-.4a1.08 1.08 0 0 1 .13 2.16zM715.0 629.7h-2.7a.9 .9 0 0 1-.18-1.76a1.45 1.45 0 0 1 2.75-.4a1.08 1.08 0 0 1 .13 2.16zM729.8 629.7h-2.7a.9 .9 0 0 1-.18-1.76a1.45 1.45 0 0 1 2.75-.4a1.08 1.08 0 0 1 .13 2.16zM709.9 629.7h-2.7a.9 .9 0 0 1-.18-1.76a1.45 1.45 0 0 1 2.75-.4a1.08 1.08 0 0 1 .13 2.16zM745.4 629.7h-2.7a.9 .9 0 0 1-.18-1.76a1.45 1.45 0 0 1 2.75-.4a1.08 1.08 0 0 1 .13 2.16zM729.8 629.7h-2.7a.9 .9 0 0 1-.18-1.76a1.45 1.45 0 0 1 2.75-.4a1.08 1.08 0 0 1 .13 2.16zM756.7 629.7h-2.7a.9 .9 0 0 1-.18-1.76a1.45 1.45 0 0 1 2.75-.4a1.08 1.08 0 0 1 .13 2.16zM735.2 629.7h-2.7a.9 .9 0 0 1-.18-1.76a1.45 1.45 0 0 1 2.75-.4a1.08 1.08 0 0 1 .13 2.16zM698.8 629.7h-2.7a.9 .9 0 0 1-.18-1.76a1.45 1.45 0 0 1 2.75-.4a1.08 1.08 0 0 1 .13 2.16zM750.0 629.7h-2.7a.9 .9 0 0 1-.18-1.76a1.45 1.45 0 0 1 2.75-.4a1.08 1.08 0 0 1 .13 2.16zM730.2 629.7h-2.7a.9 .9 0 0 1-.18-1.76a1.45 1.45 0 0 1 2.75-.4a1.08 1.08 0 0 1 .13 2.16zM746.7 629.7h-2.7a.9 .9 0 0 1-.18-1.76a1.45 1.45 0 0 1 2.75-.4a1.08 1.08 0 0 1 .13 2.16zM709.8 629.7h-2.7a.9 .9 0 0 1-.18-1.76a1.45 1.45 0 0 1 2.75-.4a1.08 1.08 0 0 1 .13 2.16zM791.6 629.7h-2.7a.9 .9 0 0 1-.18-1.76a1.45 1.45 0 0 1 2.75-.4a1.08 1.08 0 0 1 .13 2.16zM786.3 629.7h-2.7a.9 .9 0 0 1-.18-1.76a1.45 1.45 0 0 1 2.75-.4a1.08 1.08 0 0 1 .13 2.16zM787.8 629.7h-2.7a.9 .9 0 0 1-.18-1.76a1.45 1.45 0 0 1 2.75-.4a1.08 1.08 0 0 1 .13 2.16zM787.5 629.7h-2.7a.9 .9 0 0 1-.18-1.76a1.45 1.45 0 0 1 2.75-.4a1.08 1.08 0 0 1 .13 2.16zM788.9 629.7h-2.7a.9 .9 0 0 1-.18-1.76a1.45 1.45 0 0 1 2.75-.4a1.08 1.08 0 0 1 .13 2.16z" fill="#27958a" fill-opacity=".92"/><path d="M532.0 628.3h0M638.6 628.3h0M536.1 654.6h0M526.3 654.6h0M536.4 654.6h0M541.0 654.6h0M542.1 654.6h0M537.2 654.6h0M533.6 654.6h0M539.0 654.6h0M539.3 654.6h0M526.0 654.6h0M534.6 654.6h0M535.1 654.6h0M558.8 654.6h0M558.1 654.6h0M570.2 654.6h0M577.3 654.6h0M571.7 654.6h0M568.7 654.6h0M568.2 654.6h0M602.6 654.6h0M592.2 654.6h0M603.1 654.6h0M601.4 654.6h0M602.9 654.6h0M604.8 654.6h0M600.8 654.6h0M599.2 654.6h0M611.4 654.6h0M621.6 654.6h0M621.5 654.6h0M624.5 654.6h0M632.1 654.6h0M639.1 654.6h0M634.5 654.6h0M630.1 654.6h0M637.2 654.6h0" fill="none" stroke="#161616" stroke-opacity=".93" stroke-width="3.8" stroke-linecap="round"/><rect x="871.5" y="516" width="342.3" height="145.8" fill="#fff" stroke="#e6e6e6" stroke-width="1.1"/><path d="M878.3 516V661.8M943.9 516V661.8M1009.5 516V661.8M1075.1 516V661.8M1140.7 516V661.8M1206.3 516V661.8M871.5 523H1213.8M871.5 549.2H1213.8M871.5 575.6H1213.8M871.5 602H1213.8M871.5 628.3H1213.8M871.5 654.6H1213.8" fill="none" stroke="#e6e6e6" stroke-width="1.15"/><path d="M1020.6 575.6h0M1027.3 575.6h0M998.5 575.6h0M1004.9 575.6h0M1012.5 575.6h0M1017.1 575.6h0M1016.8 575.6h0M1038.0 575.6h0M1010.6 575.6h0M1020.8 575.6h0M1019.8 575.6h0M1006.2 575.6h0M1007.6 575.6h0M1000.9 575.6h0M1025.5 575.6h0M1024.8 575.6h0M1078.5 575.6h0M1044.2 575.6h0M1059.6 575.6h0M1061.7 575.6h0M1075.9 575.6h0M1023.4 602.0h0M1013.5 602.0h0M1013.1 602.0h0M1025.5 602.0h0M1003.6 602.0h0M1020.9 602.0h0M1008.6 602.0h0M996.0 602.0h0M1038.4 602.0h0M1027.5 602.0h0M1007.3 602.0h0M1031.5 602.0h0M1004.8 602.0h0M998.0 602.0h0M1025.1 602.0h0M1004.6 602.0h0M1062.5 602.0h0M1089.7 602.0h0M1045.8 602.0h0M1084.3 602.0h0M1073.8 602.0h0M967.0 628.3h0M973.0 628.3h0M996.6 628.3h0" fill="none" stroke="#f8c67a" stroke-opacity=".8" stroke-width="3.8" stroke-linecap="round"/><path d="M1140.6 574.1v1.5l1.4 1.6l1.4-1.6v-1.5M1043.6 574.1v1.5l1.4 1.6l1.4-1.6v-1.5M1101.4 574.1v1.5l1.4 1.6l1.4-1.6v-1.5M1104.0 574.1v1.5l1.4 1.6l1.4-1.6v-1.5M1120.3 574.1v1.5l1.4 1.6l1.4-1.6v-1.5M1135.1 574.1v1.5l1.4 1.6l1.4-1.6v-1.5M1077.8 574.1v1.5l1.4 1.6l1.4-1.6v-1.5M1052.4 574.1v1.5l1.4 1.6l1.4-1.6v-1.5M1038.8 574.1v1.5l1.4 1.6l1.4-1.6v-1.5M1089.5 574.1v1.5l1.4 1.6l1.4-1.6v-1.5M1054.4 574.1v1.5l1.4 1.6l1.4-1.6v-1.5M1070.8 574.1v1.5l1.4 1.6l1.4-1.6v-1.5M1087.1 574.1v1.5l1.4 1.6l1.4-1.6v-1.5M1073.7 574.1v1.5l1.4 1.6l1.4-1.6v-1.5M1126.1 574.1v1.5l1.4 1.6l1.4-1.6v-1.5M1153.8 574.1v1.5l1.4 1.6l1.4-1.6v-1.5M1138.8 574.1v1.5l1.4 1.6l1.4-1.6v-1.5M1066.7 574.1v1.5l1.4 1.6l1.4-1.6v-1.5M1071.6 574.1v1.5l1.4 1.6l1.4-1.6v-1.5M1149.9 574.1v1.5l1.4 1.6l1.4-1.6v-1.5M1132.4 574.1v1.5l1.4 1.6l1.4-1.6v-1.5M1122.7 574.1v1.5l1.4 1.6l1.4-1.6v-1.5M1136.2 600.5v1.5l1.4 1.6l1.4-1.6v-1.5M1147.1 600.5v1.5l1.4 1.6l1.4-1.6v-1.5M1125.1 600.5v1.5l1.4 1.6l1.4-1.6v-1.5M1076.1 600.5v1.5l1.4 1.6l1.4-1.6v-1.5M1046.7 600.5v1.5l1.4 1.6l1.4-1.6v-1.5M1097.1 600.5v1.5l1.4 1.6l1.4-1.6v-1.5M1045.7 600.5v1.5l1.4 1.6l1.4-1.6v-1.5M1078.5 600.5v1.5l1.4 1.6l1.4-1.6v-1.5M1146.4 600.5v1.5l1.4 1.6l1.4-1.6v-1.5M1119.8 600.5v1.5l1.4 1.6l1.4-1.6v-1.5M1125.6 600.5v1.5l1.4 1.6l1.4-1.6v-1.5M1088.7 600.5v1.5l1.4 1.6l1.4-1.6v-1.5M1123.7 600.5v1.5l1.4 1.6l1.4-1.6v-1.5M1146.9 600.5v1.5l1.4 1.6l1.4-1.6v-1.5M1145.5 600.5v1.5l1.4 1.6l1.4-1.6v-1.5M1054.7 600.5v1.5l1.4 1.6l1.4-1.6v-1.5M1088.6 600.5v1.5l1.4 1.6l1.4-1.6v-1.5M1065.8 600.5v1.5l1.4 1.6l1.4-1.6v-1.5M1110.6 600.5v1.5l1.4 1.6l1.4-1.6v-1.5M1050.2 600.5v1.5l1.4 1.6l1.4-1.6v-1.5M1117.4 600.5v1.5l1.4 1.6l1.4-1.6v-1.5M1125.3 600.5v1.5l1.4 1.6l1.4-1.6v-1.5" fill="#84bff7" fill-opacity=".4" stroke="#84bff7" stroke-opacity=".8" stroke-width=".9" stroke-linejoin="round"/><path d="M903.3 577.0h-2.7a.9 .9 0 0 1-.18-1.76a1.45 1.45 0 0 1 2.75-.4a1.08 1.08 0 0 1 .13 2.16zM892.2 577.0h-2.7a.9 .9 0 0 1-.18-1.76a1.45 1.45 0 0 1 2.75-.4a1.08 1.08 0 0 1 .13 2.16zM988.6 577.0h-2.7a.9 .9 0 0 1-.18-1.76a1.45 1.45 0 0 1 2.75-.4a1.08 1.08 0 0 1 .13 2.16zM968.9 577.0h-2.7a.9 .9 0 0 1-.18-1.76a1.45 1.45 0 0 1 2.75-.4a1.08 1.08 0 0 1 .13 2.16zM964.9 577.0h-2.7a.9 .9 0 0 1-.18-1.76a1.45 1.45 0 0 1 2.75-.4a1.08 1.08 0 0 1 .13 2.16zM931.6 577.0h-2.7a.9 .9 0 0 1-.18-1.76a1.45 1.45 0 0 1 2.75-.4a1.08 1.08 0 0 1 .13 2.16zM941.2 577.0h-2.7a.9 .9 0 0 1-.18-1.76a1.45 1.45 0 0 1 2.75-.4a1.08 1.08 0 0 1 .13 2.16zM918.4 577.0h-2.7a.9 .9 0 0 1-.18-1.76a1.45 1.45 0 0 1 2.75-.4a1.08 1.08 0 0 1 .13 2.16zM937.0 577.0h-2.7a.9 .9 0 0 1-.18-1.76a1.45 1.45 0 0 1 2.75-.4a1.08 1.08 0 0 1 .13 2.16zM906.8 577.0h-2.7a.9 .9 0 0 1-.18-1.76a1.45 1.45 0 0 1 2.75-.4a1.08 1.08 0 0 1 .13 2.16zM993.3 577.0h-2.7a.9 .9 0 0 1-.18-1.76a1.45 1.45 0 0 1 2.75-.4a1.08 1.08 0 0 1 .13 2.16zM967.3 577.0h-2.7a.9 .9 0 0 1-.18-1.76a1.45 1.45 0 0 1 2.75-.4a1.08 1.08 0 0 1 .13 2.16zM930.8 577.0h-2.7a.9 .9 0 0 1-.18-1.76a1.45 1.45 0 0 1 2.75-.4a1.08 1.08 0 0 1 .13 2.16zM958.0 577.0h-2.7a.9 .9 0 0 1-.18-1.76a1.45 1.45 0 0 1 2.75-.4a1.08 1.08 0 0 1 .13 2.16zM908.6 577.0h-2.7a.9 .9 0 0 1-.18-1.76a1.45 1.45 0 0 1 2.75-.4a1.08 1.08 0 0 1 .13 2.16zM893.7 577.0h-2.7a.9 .9 0 0 1-.18-1.76a1.45 1.45 0 0 1 2.75-.4a1.08 1.08 0 0 1 .13 2.16zM955.1 577.0h-2.7a.9 .9 0 0 1-.18-1.76a1.45 1.45 0 0 1 2.75-.4a1.08 1.08 0 0 1 .13 2.16zM919.6 577.0h-2.7a.9 .9 0 0 1-.18-1.76a1.45 1.45 0 0 1 2.75-.4a1.08 1.08 0 0 1 .13 2.16zM920.2 577.0h-2.7a.9 .9 0 0 1-.18-1.76a1.45 1.45 0 0 1 2.75-.4a1.08 1.08 0 0 1 .13 2.16zM932.0 577.0h-2.7a.9 .9 0 0 1-.18-1.76a1.45 1.45 0 0 1 2.75-.4a1.08 1.08 0 0 1 .13 2.16zM994.0 577.0h-2.7a.9 .9 0 0 1-.18-1.76a1.45 1.45 0 0 1 2.75-.4a1.08 1.08 0 0 1 .13 2.16zM991.2 577.0h-2.7a.9 .9 0 0 1-.18-1.76a1.45 1.45 0 0 1 2.75-.4a1.08 1.08 0 0 1 .13 2.16zM971.8 577.0h-2.7a.9 .9 0 0 1-.18-1.76a1.45 1.45 0 0 1 2.75-.4a1.08 1.08 0 0 1 .13 2.16zM947.6 577.0h-2.7a.9 .9 0 0 1-.18-1.76a1.45 1.45 0 0 1 2.75-.4a1.08 1.08 0 0 1 .13 2.16zM978.5 577.0h-2.7a.9 .9 0 0 1-.18-1.76a1.45 1.45 0 0 1 2.75-.4a1.08 1.08 0 0 1 .13 2.16zM922.2 577.0h-2.7a.9 .9 0 0 1-.18-1.76a1.45 1.45 0 0 1 2.75-.4a1.08 1.08 0 0 1 .13 2.16zM986.2 577.0h-2.7a.9 .9 0 0 1-.18-1.76a1.45 1.45 0 0 1 2.75-.4a1.08 1.08 0 0 1 .13 2.16zM969.9 577.0h-2.7a.9 .9 0 0 1-.18-1.76a1.45 1.45 0 0 1 2.75-.4a1.08 1.08 0 0 1 .13 2.16zM920.4 577.0h-2.7a.9 .9 0 0 1-.18-1.76a1.45 1.45 0 0 1 2.75-.4a1.08 1.08 0 0 1 .13 2.16zM970.2 577.0h-2.7a.9 .9 0 0 1-.18-1.76a1.45 1.45 0 0 1 2.75-.4a1.08 1.08 0 0 1 .13 2.16zM935.9 577.0h-2.7a.9 .9 0 0 1-.18-1.76a1.45 1.45 0 0 1 2.75-.4a1.08 1.08 0 0 1 .13 2.16zM915.8 577.0h-2.7a.9 .9 0 0 1-.18-1.76a1.45 1.45 0 0 1 2.75-.4a1.08 1.08 0 0 1 .13 2.16zM929.1 577.0h-2.7a.9 .9 0 0 1-.18-1.76a1.45 1.45 0 0 1 2.75-.4a1.08 1.08 0 0 1 .13 2.16zM931.1 577.0h-2.7a.9 .9 0 0 1-.18-1.76a1.45 1.45 0 0 1 2.75-.4a1.08 1.08 0 0 1 .13 2.16zM903.3 577.0h-2.7a.9 .9 0 0 1-.18-1.76a1.45 1.45 0 0 1 2.75-.4a1.08 1.08 0 0 1 .13 2.16zM985.7 577.0h-2.7a.9 .9 0 0 1-.18-1.76a1.45 1.45 0 0 1 2.75-.4a1.08 1.08 0 0 1 .13 2.16zM953.3 577.0h-2.7a.9 .9 0 0 1-.18-1.76a1.45 1.45 0 0 1 2.75-.4a1.08 1.08 0 0 1 .13 2.16zM959.4 577.0h-2.7a.9 .9 0 0 1-.18-1.76a1.45 1.45 0 0 1 2.75-.4a1.08 1.08 0 0 1 .13 2.16zM893.3 577.0h-2.7a.9 .9 0 0 1-.18-1.76a1.45 1.45 0 0 1 2.75-.4a1.08 1.08 0 0 1 .13 2.16zM902.6 577.0h-2.7a.9 .9 0 0 1-.18-1.76a1.45 1.45 0 0 1 2.75-.4a1.08 1.08 0 0 1 .13 2.16zM954.0 577.0h-2.7a.9 .9 0 0 1-.18-1.76a1.45 1.45 0 0 1 2.75-.4a1.08 1.08 0 0 1 .13 2.16zM955.2 577.0h-2.7a.9 .9 0 0 1-.18-1.76a1.45 1.45 0 0 1 2.75-.4a1.08 1.08 0 0 1 .13 2.16zM979.8 577.0h-2.7a.9 .9 0 0 1-.18-1.76a1.45 1.45 0 0 1 2.75-.4a1.08 1.08 0 0 1 .13 2.16zM922.7 577.0h-2.7a.9 .9 0 0 1-.18-1.76a1.45 1.45 0 0 1 2.75-.4a1.08 1.08 0 0 1 .13 2.16zM913.0 577.0h-2.7a.9 .9 0 0 1-.18-1.76a1.45 1.45 0 0 1 2.75-.4a1.08 1.08 0 0 1 .13 2.16zM927.5 577.0h-2.7a.9 .9 0 0 1-.18-1.76a1.45 1.45 0 0 1 2.75-.4a1.08 1.08 0 0 1 .13 2.16zM992.3 577.0h-2.7a.9 .9 0 0 1-.18-1.76a1.45 1.45 0 0 1 2.75-.4a1.08 1.08 0 0 1 .13 2.16zM986.6 577.0h-2.7a.9 .9 0 0 1-.18-1.76a1.45 1.45 0 0 1 2.75-.4a1.08 1.08 0 0 1 .13 2.16zM895.3 577.0h-2.7a.9 .9 0 0 1-.18-1.76a1.45 1.45 0 0 1 2.75-.4a1.08 1.08 0 0 1 .13 2.16zM962.5 577.0h-2.7a.9 .9 0 0 1-.18-1.76a1.45 1.45 0 0 1 2.75-.4a1.08 1.08 0 0 1 .13 2.16zM948.8 577.0h-2.7a.9 .9 0 0 1-.18-1.76a1.45 1.45 0 0 1 2.75-.4a1.08 1.08 0 0 1 .13 2.16zM993.7 577.0h-2.7a.9 .9 0 0 1-.18-1.76a1.45 1.45 0 0 1 2.75-.4a1.08 1.08 0 0 1 .13 2.16zM951.6 577.0h-2.7a.9 .9 0 0 1-.18-1.76a1.45 1.45 0 0 1 2.75-.4a1.08 1.08 0 0 1 .13 2.16zM945.5 577.0h-2.7a.9 .9 0 0 1-.18-1.76a1.45 1.45 0 0 1 2.75-.4a1.08 1.08 0 0 1 .13 2.16zM963.2 577.0h-2.7a.9 .9 0 0 1-.18-1.76a1.45 1.45 0 0 1 2.75-.4a1.08 1.08 0 0 1 .13 2.16zM936.1 577.0h-2.7a.9 .9 0 0 1-.18-1.76a1.45 1.45 0 0 1 2.75-.4a1.08 1.08 0 0 1 .13 2.16zM942.8 577.0h-2.7a.9 .9 0 0 1-.18-1.76a1.45 1.45 0 0 1 2.75-.4a1.08 1.08 0 0 1 .13 2.16zM981.9 577.0h-2.7a.9 .9 0 0 1-.18-1.76a1.45 1.45 0 0 1 2.75-.4a1.08 1.08 0 0 1 .13 2.16zM926.9 577.0h-2.7a.9 .9 0 0 1-.18-1.76a1.45 1.45 0 0 1 2.75-.4a1.08 1.08 0 0 1 .13 2.16zM926.6 577.0h-2.7a.9 .9 0 0 1-.18-1.76a1.45 1.45 0 0 1 2.75-.4a1.08 1.08 0 0 1 .13 2.16zM916.5 577.0h-2.7a.9 .9 0 0 1-.18-1.76a1.45 1.45 0 0 1 2.75-.4a1.08 1.08 0 0 1 .13 2.16zM932.0 577.0h-2.7a.9 .9 0 0 1-.18-1.76a1.45 1.45 0 0 1 2.75-.4a1.08 1.08 0 0 1 .13 2.16zM981.9 577.0h-2.7a.9 .9 0 0 1-.18-1.76a1.45 1.45 0 0 1 2.75-.4a1.08 1.08 0 0 1 .13 2.16zM901.7 577.0h-2.7a.9 .9 0 0 1-.18-1.76a1.45 1.45 0 0 1 2.75-.4a1.08 1.08 0 0 1 .13 2.16zM937.7 577.0h-2.7a.9 .9 0 0 1-.18-1.76a1.45 1.45 0 0 1 2.75-.4a1.08 1.08 0 0 1 .13 2.16zM949.3 577.0h-2.7a.9 .9 0 0 1-.18-1.76a1.45 1.45 0 0 1 2.75-.4a1.08 1.08 0 0 1 .13 2.16zM904.7 577.0h-2.7a.9 .9 0 0 1-.18-1.76a1.45 1.45 0 0 1 2.75-.4a1.08 1.08 0 0 1 .13 2.16zM928.5 577.0h-2.7a.9 .9 0 0 1-.18-1.76a1.45 1.45 0 0 1 2.75-.4a1.08 1.08 0 0 1 .13 2.16zM959.1 577.0h-2.7a.9 .9 0 0 1-.18-1.76a1.45 1.45 0 0 1 2.75-.4a1.08 1.08 0 0 1 .13 2.16zM932.4 577.0h-2.7a.9 .9 0 0 1-.18-1.76a1.45 1.45 0 0 1 2.75-.4a1.08 1.08 0 0 1 .13 2.16zM1001.0 577.0h-2.7a.9 .9 0 0 1-.18-1.76a1.45 1.45 0 0 1 2.75-.4a1.08 1.08 0 0 1 .13 2.16zM1035.3 577.0h-2.7a.9 .9 0 0 1-.18-1.76a1.45 1.45 0 0 1 2.75-.4a1.08 1.08 0 0 1 .13 2.16zM1020.0 577.0h-2.7a.9 .9 0 0 1-.18-1.76a1.45 1.45 0 0 1 2.75-.4a1.08 1.08 0 0 1 .13 2.16zM1026.2 577.0h-2.7a.9 .9 0 0 1-.18-1.76a1.45 1.45 0 0 1 2.75-.4a1.08 1.08 0 0 1 .13 2.16zM1012.1 577.0h-2.7a.9 .9 0 0 1-.18-1.76a1.45 1.45 0 0 1 2.75-.4a1.08 1.08 0 0 1 .13 2.16zM1027.9 577.0h-2.7a.9 .9 0 0 1-.18-1.76a1.45 1.45 0 0 1 2.75-.4a1.08 1.08 0 0 1 .13 2.16zM1137.3 577.0h-2.7a.9 .9 0 0 1-.18-1.76a1.45 1.45 0 0 1 2.75-.4a1.08 1.08 0 0 1 .13 2.16zM1059.4 577.0h-2.7a.9 .9 0 0 1-.18-1.76a1.45 1.45 0 0 1 2.75-.4a1.08 1.08 0 0 1 .13 2.16zM1153.2 577.0h-2.7a.9 .9 0 0 1-.18-1.76a1.45 1.45 0 0 1 2.75-.4a1.08 1.08 0 0 1 .13 2.16zM1156.3 577.0h-2.7a.9 .9 0 0 1-.18-1.76a1.45 1.45 0 0 1 2.75-.4a1.08 1.08 0 0 1 .13 2.16zM1144.7 577.0h-2.7a.9 .9 0 0 1-.18-1.76a1.45 1.45 0 0 1 2.75-.4a1.08 1.08 0 0 1 .13 2.16zM1122.9 577.0h-2.7a.9 .9 0 0 1-.18-1.76a1.45 1.45 0 0 1 2.75-.4a1.08 1.08 0 0 1 .13 2.16zM1082.7 577.0h-2.7a.9 .9 0 0 1-.18-1.76a1.45 1.45 0 0 1 2.75-.4a1.08 1.08 0 0 1 .13 2.16zM1047.2 577.0h-2.7a.9 .9 0 0 1-.18-1.76a1.45 1.45 0 0 1 2.75-.4a1.08 1.08 0 0 1 .13 2.16zM1051.5 577.0h-2.7a.9 .9 0 0 1-.18-1.76a1.45 1.45 0 0 1 2.75-.4a1.08 1.08 0 0 1 .13 2.16zM1149.1 577.0h-2.7a.9 .9 0 0 1-.18-1.76a1.45 1.45 0 0 1 2.75-.4a1.08 1.08 0 0 1 .13 2.16zM1114.1 577.0h-2.7a.9 .9 0 0 1-.18-1.76a1.45 1.45 0 0 1 2.75-.4a1.08 1.08 0 0 1 .13 2.16zM1156.4 577.0h-2.7a.9 .9 0 0 1-.18-1.76a1.45 1.45 0 0 1 2.75-.4a1.08 1.08 0 0 1 .13 2.16zM1165.9 577.0h-2.7a.9 .9 0 0 1-.18-1.76a1.45 1.45 0 0 1 2.75-.4a1.08 1.08 0 0 1 .13 2.16zM1043.0 577.0h-2.7a.9 .9 0 0 1-.18-1.76a1.45 1.45 0 0 1 2.75-.4a1.08 1.08 0 0 1 .13 2.16zM1049.9 577.0h-2.7a.9 .9 0 0 1-.18-1.76a1.45 1.45 0 0 1 2.75-.4a1.08 1.08 0 0 1 .13 2.16zM1040.9 577.0h-2.7a.9 .9 0 0 1-.18-1.76a1.45 1.45 0 0 1 2.75-.4a1.08 1.08 0 0 1 .13 2.16zM1044.1 577.0h-2.7a.9 .9 0 0 1-.18-1.76a1.45 1.45 0 0 1 2.75-.4a1.08 1.08 0 0 1 .13 2.16zM1090.2 577.0h-2.7a.9 .9 0 0 1-.18-1.76a1.45 1.45 0 0 1 2.75-.4a1.08 1.08 0 0 1 .13 2.16zM1145.3 577.0h-2.7a.9 .9 0 0 1-.18-1.76a1.45 1.45 0 0 1 2.75-.4a1.08 1.08 0 0 1 .13 2.16zM1137.9 577.0h-2.7a.9 .9 0 0 1-.18-1.76a1.45 1.45 0 0 1 2.75-.4a1.08 1.08 0 0 1 .13 2.16zM1118.6 577.0h-2.7a.9 .9 0 0 1-.18-1.76a1.45 1.45 0 0 1 2.75-.4a1.08 1.08 0 0 1 .13 2.16zM1131.0 577.0h-2.7a.9 .9 0 0 1-.18-1.76a1.45 1.45 0 0 1 2.75-.4a1.08 1.08 0 0 1 .13 2.16zM1153.2 577.0h-2.7a.9 .9 0 0 1-.18-1.76a1.45 1.45 0 0 1 2.75-.4a1.08 1.08 0 0 1 .13 2.16zM1150.9 577.0h-2.7a.9 .9 0 0 1-.18-1.76a1.45 1.45 0 0 1 2.75-.4a1.08 1.08 0 0 1 .13 2.16zM1053.1 577.0h-2.7a.9 .9 0 0 1-.18-1.76a1.45 1.45 0 0 1 2.75-.4a1.08 1.08 0 0 1 .13 2.16zM1122.6 577.0h-2.7a.9 .9 0 0 1-.18-1.76a1.45 1.45 0 0 1 2.75-.4a1.08 1.08 0 0 1 .13 2.16zM1080.3 577.0h-2.7a.9 .9 0 0 1-.18-1.76a1.45 1.45 0 0 1 2.75-.4a1.08 1.08 0 0 1 .13 2.16zM1075.6 577.0h-2.7a.9 .9 0 0 1-.18-1.76a1.45 1.45 0 0 1 2.75-.4a1.08 1.08 0 0 1 .13 2.16zM1087.4 577.0h-2.7a.9 .9 0 0 1-.18-1.76a1.45 1.45 0 0 1 2.75-.4a1.08 1.08 0 0 1 .13 2.16zM1056.2 577.0h-2.7a.9 .9 0 0 1-.18-1.76a1.45 1.45 0 0 1 2.75-.4a1.08 1.08 0 0 1 .13 2.16zM1137.3 577.0h-2.7a.9 .9 0 0 1-.18-1.76a1.45 1.45 0 0 1 2.75-.4a1.08 1.08 0 0 1 .13 2.16zM1053.4 577.0h-2.7a.9 .9 0 0 1-.18-1.76a1.45 1.45 0 0 1 2.75-.4a1.08 1.08 0 0 1 .13 2.16zM1045.2 577.0h-2.7a.9 .9 0 0 1-.18-1.76a1.45 1.45 0 0 1 2.75-.4a1.08 1.08 0 0 1 .13 2.16zM1067.7 577.0h-2.7a.9 .9 0 0 1-.18-1.76a1.45 1.45 0 0 1 2.75-.4a1.08 1.08 0 0 1 .13 2.16zM1111.3 577.0h-2.7a.9 .9 0 0 1-.18-1.76a1.45 1.45 0 0 1 2.75-.4a1.08 1.08 0 0 1 .13 2.16zM1109.8 577.0h-2.7a.9 .9 0 0 1-.18-1.76a1.45 1.45 0 0 1 2.75-.4a1.08 1.08 0 0 1 .13 2.16zM1098.6 577.0h-2.7a.9 .9 0 0 1-.18-1.76a1.45 1.45 0 0 1 2.75-.4a1.08 1.08 0 0 1 .13 2.16zM1122.9 577.0h-2.7a.9 .9 0 0 1-.18-1.76a1.45 1.45 0 0 1 2.75-.4a1.08 1.08 0 0 1 .13 2.16zM1079.9 577.0h-2.7a.9 .9 0 0 1-.18-1.76a1.45 1.45 0 0 1 2.75-.4a1.08 1.08 0 0 1 .13 2.16zM1153.2 577.0h-2.7a.9 .9 0 0 1-.18-1.76a1.45 1.45 0 0 1 2.75-.4a1.08 1.08 0 0 1 .13 2.16zM1115.3 577.0h-2.7a.9 .9 0 0 1-.18-1.76a1.45 1.45 0 0 1 2.75-.4a1.08 1.08 0 0 1 .13 2.16zM1153.0 577.0h-2.7a.9 .9 0 0 1-.18-1.76a1.45 1.45 0 0 1 2.75-.4a1.08 1.08 0 0 1 .13 2.16zM1114.7 577.0h-2.7a.9 .9 0 0 1-.18-1.76a1.45 1.45 0 0 1 2.75-.4a1.08 1.08 0 0 1 .13 2.16zM1147.4 577.0h-2.7a.9 .9 0 0 1-.18-1.76a1.45 1.45 0 0 1 2.75-.4a1.08 1.08 0 0 1 .13 2.16zM1126.4 577.0h-2.7a.9 .9 0 0 1-.18-1.76a1.45 1.45 0 0 1 2.75-.4a1.08 1.08 0 0 1 .13 2.16zM1164.7 577.0h-2.7a.9 .9 0 0 1-.18-1.76a1.45 1.45 0 0 1 2.75-.4a1.08 1.08 0 0 1 .13 2.16zM1080.9 577.0h-2.7a.9 .9 0 0 1-.18-1.76a1.45 1.45 0 0 1 2.75-.4a1.08 1.08 0 0 1 .13 2.16zM1041.8 577.0h-2.7a.9 .9 0 0 1-.18-1.76a1.45 1.45 0 0 1 2.75-.4a1.08 1.08 0 0 1 .13 2.16zM1049.1 577.0h-2.7a.9 .9 0 0 1-.18-1.76a1.45 1.45 0 0 1 2.75-.4a1.08 1.08 0 0 1 .13 2.16zM1107.3 577.0h-2.7a.9 .9 0 0 1-.18-1.76a1.45 1.45 0 0 1 2.75-.4a1.08 1.08 0 0 1 .13 2.16zM1047.1 577.0h-2.7a.9 .9 0 0 1-.18-1.76a1.45 1.45 0 0 1 2.75-.4a1.08 1.08 0 0 1 .13 2.16zM1140.7 577.0h-2.7a.9 .9 0 0 1-.18-1.76a1.45 1.45 0 0 1 2.75-.4a1.08 1.08 0 0 1 .13 2.16zM1161.5 577.0h-2.7a.9 .9 0 0 1-.18-1.76a1.45 1.45 0 0 1 2.75-.4a1.08 1.08 0 0 1 .13 2.16zM1158.4 577.0h-2.7a.9 .9 0 0 1-.18-1.76a1.45 1.45 0 0 1 2.75-.4a1.08 1.08 0 0 1 .13 2.16zM1043.6 577.0h-2.7a.9 .9 0 0 1-.18-1.76a1.45 1.45 0 0 1 2.75-.4a1.08 1.08 0 0 1 .13 2.16zM1064.9 577.0h-2.7a.9 .9 0 0 1-.18-1.76a1.45 1.45 0 0 1 2.75-.4a1.08 1.08 0 0 1 .13 2.16zM1103.5 577.0h-2.7a.9 .9 0 0 1-.18-1.76a1.45 1.45 0 0 1 2.75-.4a1.08 1.08 0 0 1 .13 2.16zM1061.3 577.0h-2.7a.9 .9 0 0 1-.18-1.76a1.45 1.45 0 0 1 2.75-.4a1.08 1.08 0 0 1 .13 2.16zM1057.2 577.0h-2.7a.9 .9 0 0 1-.18-1.76a1.45 1.45 0 0 1 2.75-.4a1.08 1.08 0 0 1 .13 2.16zM1106.4 577.0h-2.7a.9 .9 0 0 1-.18-1.76a1.45 1.45 0 0 1 2.75-.4a1.08 1.08 0 0 1 .13 2.16zM1041.3 577.0h-2.7a.9 .9 0 0 1-.18-1.76a1.45 1.45 0 0 1 2.75-.4a1.08 1.08 0 0 1 .13 2.16zM1056.0 577.0h-2.7a.9 .9 0 0 1-.18-1.76a1.45 1.45 0 0 1 2.75-.4a1.08 1.08 0 0 1 .13 2.16zM1115.0 577.0h-2.7a.9 .9 0 0 1-.18-1.76a1.45 1.45 0 0 1 2.75-.4a1.08 1.08 0 0 1 .13 2.16zM1080.8 577.0h-2.7a.9 .9 0 0 1-.18-1.76a1.45 1.45 0 0 1 2.75-.4a1.08 1.08 0 0 1 .13 2.16zM1166.4 577.0h-2.7a.9 .9 0 0 1-.18-1.76a1.45 1.45 0 0 1 2.75-.4a1.08 1.08 0 0 1 .13 2.16zM1152.3 577.0h-2.7a.9 .9 0 0 1-.18-1.76a1.45 1.45 0 0 1 2.75-.4a1.08 1.08 0 0 1 .13 2.16zM1103.9 577.0h-2.7a.9 .9 0 0 1-.18-1.76a1.45 1.45 0 0 1 2.75-.4a1.08 1.08 0 0 1 .13 2.16zM1116.4 577.0h-2.7a.9 .9 0 0 1-.18-1.76a1.45 1.45 0 0 1 2.75-.4a1.08 1.08 0 0 1 .13 2.16zM1063.3 577.0h-2.7a.9 .9 0 0 1-.18-1.76a1.45 1.45 0 0 1 2.75-.4a1.08 1.08 0 0 1 .13 2.16zM1112.6 577.0h-2.7a.9 .9 0 0 1-.18-1.76a1.45 1.45 0 0 1 2.75-.4a1.08 1.08 0 0 1 .13 2.16zM1078.6 577.0h-2.7a.9 .9 0 0 1-.18-1.76a1.45 1.45 0 0 1 2.75-.4a1.08 1.08 0 0 1 .13 2.16zM1130.0 577.0h-2.7a.9 .9 0 0 1-.18-1.76a1.45 1.45 0 0 1 2.75-.4a1.08 1.08 0 0 1 .13 2.16zM1069.1 577.0h-2.7a.9 .9 0 0 1-.18-1.76a1.45 1.45 0 0 1 2.75-.4a1.08 1.08 0 0 1 .13 2.16zM1166.9 577.0h-2.7a.9 .9 0 0 1-.18-1.76a1.45 1.45 0 0 1 2.75-.4a1.08 1.08 0 0 1 .13 2.16zM1088.9 577.0h-2.7a.9 .9 0 0 1-.18-1.76a1.45 1.45 0 0 1 2.75-.4a1.08 1.08 0 0 1 .13 2.16zM1165.9 577.0h-2.7a.9 .9 0 0 1-.18-1.76a1.45 1.45 0 0 1 2.75-.4a1.08 1.08 0 0 1 .13 2.16zM1157.7 577.0h-2.7a.9 .9 0 0 1-.18-1.76a1.45 1.45 0 0 1 2.75-.4a1.08 1.08 0 0 1 .13 2.16zM1042.5 577.0h-2.7a.9 .9 0 0 1-.18-1.76a1.45 1.45 0 0 1 2.75-.4a1.08 1.08 0 0 1 .13 2.16zM1155.6 577.0h-2.7a.9 .9 0 0 1-.18-1.76a1.45 1.45 0 0 1 2.75-.4a1.08 1.08 0 0 1 .13 2.16zM1143.0 577.0h-2.7a.9 .9 0 0 1-.18-1.76a1.45 1.45 0 0 1 2.75-.4a1.08 1.08 0 0 1 .13 2.16zM1163.4 577.0h-2.7a.9 .9 0 0 1-.18-1.76a1.45 1.45 0 0 1 2.75-.4a1.08 1.08 0 0 1 .13 2.16zM1111.2 577.0h-2.7a.9 .9 0 0 1-.18-1.76a1.45 1.45 0 0 1 2.75-.4a1.08 1.08 0 0 1 .13 2.16zM1053.2 577.0h-2.7a.9 .9 0 0 1-.18-1.76a1.45 1.45 0 0 1 2.75-.4a1.08 1.08 0 0 1 .13 2.16zM1084.6 577.0h-2.7a.9 .9 0 0 1-.18-1.76a1.45 1.45 0 0 1 2.75-.4a1.08 1.08 0 0 1 .13 2.16zM1090.4 577.0h-2.7a.9 .9 0 0 1-.18-1.76a1.45 1.45 0 0 1 2.75-.4a1.08 1.08 0 0 1 .13 2.16zM1058.5 577.0h-2.7a.9 .9 0 0 1-.18-1.76a1.45 1.45 0 0 1 2.75-.4a1.08 1.08 0 0 1 .13 2.16zM1150.5 577.0h-2.7a.9 .9 0 0 1-.18-1.76a1.45 1.45 0 0 1 2.75-.4a1.08 1.08 0 0 1 .13 2.16zM1154.9 577.0h-2.7a.9 .9 0 0 1-.18-1.76a1.45 1.45 0 0 1 2.75-.4a1.08 1.08 0 0 1 .13 2.16zM1049.5 577.0h-2.7a.9 .9 0 0 1-.18-1.76a1.45 1.45 0 0 1 2.75-.4a1.08 1.08 0 0 1 .13 2.16zM1139.1 577.0h-2.7a.9 .9 0 0 1-.18-1.76a1.45 1.45 0 0 1 2.75-.4a1.08 1.08 0 0 1 .13 2.16zM1046.5 577.0h-2.7a.9 .9 0 0 1-.18-1.76a1.45 1.45 0 0 1 2.75-.4a1.08 1.08 0 0 1 .13 2.16zM1080.1 577.0h-2.7a.9 .9 0 0 1-.18-1.76a1.45 1.45 0 0 1 2.75-.4a1.08 1.08 0 0 1 .13 2.16zM1117.1 577.0h-2.7a.9 .9 0 0 1-.18-1.76a1.45 1.45 0 0 1 2.75-.4a1.08 1.08 0 0 1 .13 2.16zM1120.4 577.0h-2.7a.9 .9 0 0 1-.18-1.76a1.45 1.45 0 0 1 2.75-.4a1.08 1.08 0 0 1 .13 2.16zM1085.2 577.0h-2.7a.9 .9 0 0 1-.18-1.76a1.45 1.45 0 0 1 2.75-.4a1.08 1.08 0 0 1 .13 2.16zM937.4 603.4h-2.7a.9 .9 0 0 1-.18-1.76a1.45 1.45 0 0 1 2.75-.4a1.08 1.08 0 0 1 .13 2.16zM943.6 603.4h-2.7a.9 .9 0 0 1-.18-1.76a1.45 1.45 0 0 1 2.75-.4a1.08 1.08 0 0 1 .13 2.16zM917.0 603.4h-2.7a.9 .9 0 0 1-.18-1.76a1.45 1.45 0 0 1 2.75-.4a1.08 1.08 0 0 1 .13 2.16zM912.7 603.4h-2.7a.9 .9 0 0 1-.18-1.76a1.45 1.45 0 0 1 2.75-.4a1.08 1.08 0 0 1 .13 2.16zM892.5 603.4h-2.7a.9 .9 0 0 1-.18-1.76a1.45 1.45 0 0 1 2.75-.4a1.08 1.08 0 0 1 .13 2.16zM993.9 603.4h-2.7a.9 .9 0 0 1-.18-1.76a1.45 1.45 0 0 1 2.75-.4a1.08 1.08 0 0 1 .13 2.16zM982.8 603.4h-2.7a.9 .9 0 0 1-.18-1.76a1.45 1.45 0 0 1 2.75-.4a1.08 1.08 0 0 1 .13 2.16zM994.0 603.4h-2.7a.9 .9 0 0 1-.18-1.76a1.45 1.45 0 0 1 2.75-.4a1.08 1.08 0 0 1 .13 2.16zM978.3 603.4h-2.7a.9 .9 0 0 1-.18-1.76a1.45 1.45 0 0 1 2.75-.4a1.08 1.08 0 0 1 .13 2.16zM966.3 603.4h-2.7a.9 .9 0 0 1-.18-1.76a1.45 1.45 0 0 1 2.75-.4a1.08 1.08 0 0 1 .13 2.16zM935.0 603.4h-2.7a.9 .9 0 0 1-.18-1.76a1.45 1.45 0 0 1 2.75-.4a1.08 1.08 0 0 1 .13 2.16zM937.0 603.4h-2.7a.9 .9 0 0 1-.18-1.76a1.45 1.45 0 0 1 2.75-.4a1.08 1.08 0 0 1 .13 2.16zM948.8 603.4h-2.7a.9 .9 0 0 1-.18-1.76a1.45 1.45 0 0 1 2.75-.4a1.08 1.08 0 0 1 .13 2.16zM945.9 603.4h-2.7a.9 .9 0 0 1-.18-1.76a1.45 1.45 0 0 1 2.75-.4a1.08 1.08 0 0 1 .13 2.16zM954.0 603.4h-2.7a.9 .9 0 0 1-.18-1.76a1.45 1.45 0 0 1 2.75-.4a1.08 1.08 0 0 1 .13 2.16zM917.1 603.4h-2.7a.9 .9 0 0 1-.18-1.76a1.45 1.45 0 0 1 2.75-.4a1.08 1.08 0 0 1 .13 2.16zM959.9 603.4h-2.7a.9 .9 0 0 1-.18-1.76a1.45 1.45 0 0 1 2.75-.4a1.08 1.08 0 0 1 .13 2.16zM963.5 603.4h-2.7a.9 .9 0 0 1-.18-1.76a1.45 1.45 0 0 1 2.75-.4a1.08 1.08 0 0 1 .13 2.16zM982.1 603.4h-2.7a.9 .9 0 0 1-.18-1.76a1.45 1.45 0 0 1 2.75-.4a1.08 1.08 0 0 1 .13 2.16zM987.5 603.4h-2.7a.9 .9 0 0 1-.18-1.76a1.45 1.45 0 0 1 2.75-.4a1.08 1.08 0 0 1 .13 2.16zM907.9 603.4h-2.7a.9 .9 0 0 1-.18-1.76a1.45 1.45 0 0 1 2.75-.4a1.08 1.08 0 0 1 .13 2.16zM897.0 603.4h-2.7a.9 .9 0 0 1-.18-1.76a1.45 1.45 0 0 1 2.75-.4a1.08 1.08 0 0 1 .13 2.16zM924.5 603.4h-2.7a.9 .9 0 0 1-.18-1.76a1.45 1.45 0 0 1 2.75-.4a1.08 1.08 0 0 1 .13 2.16zM978.8 603.4h-2.7a.9 .9 0 0 1-.18-1.76a1.45 1.45 0 0 1 2.75-.4a1.08 1.08 0 0 1 .13 2.16zM900.4 603.4h-2.7a.9 .9 0 0 1-.18-1.76a1.45 1.45 0 0 1 2.75-.4a1.08 1.08 0 0 1 .13 2.16zM971.0 603.4h-2.7a.9 .9 0 0 1-.18-1.76a1.45 1.45 0 0 1 2.75-.4a1.08 1.08 0 0 1 .13 2.16zM955.7 603.4h-2.7a.9 .9 0 0 1-.18-1.76a1.45 1.45 0 0 1 2.75-.4a1.08 1.08 0 0 1 .13 2.16zM939.8 603.4h-2.7a.9 .9 0 0 1-.18-1.76a1.45 1.45 0 0 1 2.75-.4a1.08 1.08 0 0 1 .13 2.16zM958.2 603.4h-2.7a.9 .9 0 0 1-.18-1.76a1.45 1.45 0 0 1 2.75-.4a1.08 1.08 0 0 1 .13 2.16zM956.2 603.4h-2.7a.9 .9 0 0 1-.18-1.76a1.45 1.45 0 0 1 2.75-.4a1.08 1.08 0 0 1 .13 2.16zM935.9 603.4h-2.7a.9 .9 0 0 1-.18-1.76a1.45 1.45 0 0 1 2.75-.4a1.08 1.08 0 0 1 .13 2.16zM962.7 603.4h-2.7a.9 .9 0 0 1-.18-1.76a1.45 1.45 0 0 1 2.75-.4a1.08 1.08 0 0 1 .13 2.16zM987.0 603.4h-2.7a.9 .9 0 0 1-.18-1.76a1.45 1.45 0 0 1 2.75-.4a1.08 1.08 0 0 1 .13 2.16zM944.9 603.4h-2.7a.9 .9 0 0 1-.18-1.76a1.45 1.45 0 0 1 2.75-.4a1.08 1.08 0 0 1 .13 2.16zM897.4 603.4h-2.7a.9 .9 0 0 1-.18-1.76a1.45 1.45 0 0 1 2.75-.4a1.08 1.08 0 0 1 .13 2.16zM939.6 603.4h-2.7a.9 .9 0 0 1-.18-1.76a1.45 1.45 0 0 1 2.75-.4a1.08 1.08 0 0 1 .13 2.16zM981.6 603.4h-2.7a.9 .9 0 0 1-.18-1.76a1.45 1.45 0 0 1 2.75-.4a1.08 1.08 0 0 1 .13 2.16zM916.9 603.4h-2.7a.9 .9 0 0 1-.18-1.76a1.45 1.45 0 0 1 2.75-.4a1.08 1.08 0 0 1 .13 2.16zM984.5 603.4h-2.7a.9 .9 0 0 1-.18-1.76a1.45 1.45 0 0 1 2.75-.4a1.08 1.08 0 0 1 .13 2.16zM982.3 603.4h-2.7a.9 .9 0 0 1-.18-1.76a1.45 1.45 0 0 1 2.75-.4a1.08 1.08 0 0 1 .13 2.16zM924.7 603.4h-2.7a.9 .9 0 0 1-.18-1.76a1.45 1.45 0 0 1 2.75-.4a1.08 1.08 0 0 1 .13 2.16zM904.7 603.4h-2.7a.9 .9 0 0 1-.18-1.76a1.45 1.45 0 0 1 2.75-.4a1.08 1.08 0 0 1 .13 2.16zM896.6 603.4h-2.7a.9 .9 0 0 1-.18-1.76a1.45 1.45 0 0 1 2.75-.4a1.08 1.08 0 0 1 .13 2.16zM896.3 603.4h-2.7a.9 .9 0 0 1-.18-1.76a1.45 1.45 0 0 1 2.75-.4a1.08 1.08 0 0 1 .13 2.16zM894.3 603.4h-2.7a.9 .9 0 0 1-.18-1.76a1.45 1.45 0 0 1 2.75-.4a1.08 1.08 0 0 1 .13 2.16zM916.8 603.4h-2.7a.9 .9 0 0 1-.18-1.76a1.45 1.45 0 0 1 2.75-.4a1.08 1.08 0 0 1 .13 2.16zM972.4 603.4h-2.7a.9 .9 0 0 1-.18-1.76a1.45 1.45 0 0 1 2.75-.4a1.08 1.08 0 0 1 .13 2.16zM963.1 603.4h-2.7a.9 .9 0 0 1-.18-1.76a1.45 1.45 0 0 1 2.75-.4a1.08 1.08 0 0 1 .13 2.16zM943.1 603.4h-2.7a.9 .9 0 0 1-.18-1.76a1.45 1.45 0 0 1 2.75-.4a1.08 1.08 0 0 1 .13 2.16zM941.3 603.4h-2.7a.9 .9 0 0 1-.18-1.76a1.45 1.45 0 0 1 2.75-.4a1.08 1.08 0 0 1 .13 2.16zM962.5 603.4h-2.7a.9 .9 0 0 1-.18-1.76a1.45 1.45 0 0 1 2.75-.4a1.08 1.08 0 0 1 .13 2.16zM978.2 603.4h-2.7a.9 .9 0 0 1-.18-1.76a1.45 1.45 0 0 1 2.75-.4a1.08 1.08 0 0 1 .13 2.16zM926.3 603.4h-2.7a.9 .9 0 0 1-.18-1.76a1.45 1.45 0 0 1 2.75-.4a1.08 1.08 0 0 1 .13 2.16zM891.3 603.4h-2.7a.9 .9 0 0 1-.18-1.76a1.45 1.45 0 0 1 2.75-.4a1.08 1.08 0 0 1 .13 2.16zM966.8 603.4h-2.7a.9 .9 0 0 1-.18-1.76a1.45 1.45 0 0 1 2.75-.4a1.08 1.08 0 0 1 .13 2.16zM993.6 603.4h-2.7a.9 .9 0 0 1-.18-1.76a1.45 1.45 0 0 1 2.75-.4a1.08 1.08 0 0 1 .13 2.16zM896.8 603.4h-2.7a.9 .9 0 0 1-.18-1.76a1.45 1.45 0 0 1 2.75-.4a1.08 1.08 0 0 1 .13 2.16zM960.2 603.4h-2.7a.9 .9 0 0 1-.18-1.76a1.45 1.45 0 0 1 2.75-.4a1.08 1.08 0 0 1 .13 2.16zM949.1 603.4h-2.7a.9 .9 0 0 1-.18-1.76a1.45 1.45 0 0 1 2.75-.4a1.08 1.08 0 0 1 .13 2.16zM936.3 603.4h-2.7a.9 .9 0 0 1-.18-1.76a1.45 1.45 0 0 1 2.75-.4a1.08 1.08 0 0 1 .13 2.16zM913.5 603.4h-2.7a.9 .9 0 0 1-.18-1.76a1.45 1.45 0 0 1 2.75-.4a1.08 1.08 0 0 1 .13 2.16zM905.6 603.4h-2.7a.9 .9 0 0 1-.18-1.76a1.45 1.45 0 0 1 2.75-.4a1.08 1.08 0 0 1 .13 2.16zM915.0 603.4h-2.7a.9 .9 0 0 1-.18-1.76a1.45 1.45 0 0 1 2.75-.4a1.08 1.08 0 0 1 .13 2.16zM976.4 603.4h-2.7a.9 .9 0 0 1-.18-1.76a1.45 1.45 0 0 1 2.75-.4a1.08 1.08 0 0 1 .13 2.16zM918.9 603.4h-2.7a.9 .9 0 0 1-.18-1.76a1.45 1.45 0 0 1 2.75-.4a1.08 1.08 0 0 1 .13 2.16zM944.5 603.4h-2.7a.9 .9 0 0 1-.18-1.76a1.45 1.45 0 0 1 2.75-.4a1.08 1.08 0 0 1 .13 2.16zM986.0 603.4h-2.7a.9 .9 0 0 1-.18-1.76a1.45 1.45 0 0 1 2.75-.4a1.08 1.08 0 0 1 .13 2.16zM954.4 603.4h-2.7a.9 .9 0 0 1-.18-1.76a1.45 1.45 0 0 1 2.75-.4a1.08 1.08 0 0 1 .13 2.16zM960.7 603.4h-2.7a.9 .9 0 0 1-.18-1.76a1.45 1.45 0 0 1 2.75-.4a1.08 1.08 0 0 1 .13 2.16zM976.3 603.4h-2.7a.9 .9 0 0 1-.18-1.76a1.45 1.45 0 0 1 2.75-.4a1.08 1.08 0 0 1 .13 2.16zM1012.3 603.4h-2.7a.9 .9 0 0 1-.18-1.76a1.45 1.45 0 0 1 2.75-.4a1.08 1.08 0 0 1 .13 2.16zM1007.2 603.4h-2.7a.9 .9 0 0 1-.18-1.76a1.45 1.45 0 0 1 2.75-.4a1.08 1.08 0 0 1 .13 2.16zM1035.6 603.4h-2.7a.9 .9 0 0 1-.18-1.76a1.45 1.45 0 0 1 2.75-.4a1.08 1.08 0 0 1 .13 2.16zM1020.6 603.4h-2.7a.9 .9 0 0 1-.18-1.76a1.45 1.45 0 0 1 2.75-.4a1.08 1.08 0 0 1 .13 2.16zM1027.9 603.4h-2.7a.9 .9 0 0 1-.18-1.76a1.45 1.45 0 0 1 2.75-.4a1.08 1.08 0 0 1 .13 2.16zM1007.6 603.4h-2.7a.9 .9 0 0 1-.18-1.76a1.45 1.45 0 0 1 2.75-.4a1.08 1.08 0 0 1 .13 2.16zM1100.2 603.4h-2.7a.9 .9 0 0 1-.18-1.76a1.45 1.45 0 0 1 2.75-.4a1.08 1.08 0 0 1 .13 2.16zM1100.7 603.4h-2.7a.9 .9 0 0 1-.18-1.76a1.45 1.45 0 0 1 2.75-.4a1.08 1.08 0 0 1 .13 2.16zM1139.9 603.4h-2.7a.9 .9 0 0 1-.18-1.76a1.45 1.45 0 0 1 2.75-.4a1.08 1.08 0 0 1 .13 2.16zM1041.0 603.4h-2.7a.9 .9 0 0 1-.18-1.76a1.45 1.45 0 0 1 2.75-.4a1.08 1.08 0 0 1 .13 2.16zM1084.6 603.4h-2.7a.9 .9 0 0 1-.18-1.76a1.45 1.45 0 0 1 2.75-.4a1.08 1.08 0 0 1 .13 2.16zM1159.8 603.4h-2.7a.9 .9 0 0 1-.18-1.76a1.45 1.45 0 0 1 2.75-.4a1.08 1.08 0 0 1 .13 2.16zM1106.4 603.4h-2.7a.9 .9 0 0 1-.18-1.76a1.45 1.45 0 0 1 2.75-.4a1.08 1.08 0 0 1 .13 2.16zM1082.0 603.4h-2.7a.9 .9 0 0 1-.18-1.76a1.45 1.45 0 0 1 2.75-.4a1.08 1.08 0 0 1 .13 2.16zM1163.6 603.4h-2.7a.9 .9 0 0 1-.18-1.76a1.45 1.45 0 0 1 2.75-.4a1.08 1.08 0 0 1 .13 2.16zM1156.5 603.4h-2.7a.9 .9 0 0 1-.18-1.76a1.45 1.45 0 0 1 2.75-.4a1.08 1.08 0 0 1 .13 2.16zM1163.7 603.4h-2.7a.9 .9 0 0 1-.18-1.76a1.45 1.45 0 0 1 2.75-.4a1.08 1.08 0 0 1 .13 2.16zM1069.4 603.4h-2.7a.9 .9 0 0 1-.18-1.76a1.45 1.45 0 0 1 2.75-.4a1.08 1.08 0 0 1 .13 2.16zM1133.0 603.4h-2.7a.9 .9 0 0 1-.18-1.76a1.45 1.45 0 0 1 2.75-.4a1.08 1.08 0 0 1 .13 2.16zM1155.8 603.4h-2.7a.9 .9 0 0 1-.18-1.76a1.45 1.45 0 0 1 2.75-.4a1.08 1.08 0 0 1 .13 2.16zM1061.9 603.4h-2.7a.9 .9 0 0 1-.18-1.76a1.45 1.45 0 0 1 2.75-.4a1.08 1.08 0 0 1 .13 2.16zM1051.4 603.4h-2.7a.9 .9 0 0 1-.18-1.76a1.45 1.45 0 0 1 2.75-.4a1.08 1.08 0 0 1 .13 2.16zM1163.0 603.4h-2.7a.9 .9 0 0 1-.18-1.76a1.45 1.45 0 0 1 2.75-.4a1.08 1.08 0 0 1 .13 2.16zM1165.1 603.4h-2.7a.9 .9 0 0 1-.18-1.76a1.45 1.45 0 0 1 2.75-.4a1.08 1.08 0 0 1 .13 2.16zM1113.3 603.4h-2.7a.9 .9 0 0 1-.18-1.76a1.45 1.45 0 0 1 2.75-.4a1.08 1.08 0 0 1 .13 2.16zM1155.2 603.4h-2.7a.9 .9 0 0 1-.18-1.76a1.45 1.45 0 0 1 2.75-.4a1.08 1.08 0 0 1 .13 2.16zM1077.5 603.4h-2.7a.9 .9 0 0 1-.18-1.76a1.45 1.45 0 0 1 2.75-.4a1.08 1.08 0 0 1 .13 2.16zM1092.1 603.4h-2.7a.9 .9 0 0 1-.18-1.76a1.45 1.45 0 0 1 2.75-.4a1.08 1.08 0 0 1 .13 2.16zM1057.6 603.4h-2.7a.9 .9 0 0 1-.18-1.76a1.45 1.45 0 0 1 2.75-.4a1.08 1.08 0 0 1 .13 2.16zM1060.5 603.4h-2.7a.9 .9 0 0 1-.18-1.76a1.45 1.45 0 0 1 2.75-.4a1.08 1.08 0 0 1 .13 2.16zM1106.1 603.4h-2.7a.9 .9 0 0 1-.18-1.76a1.45 1.45 0 0 1 2.75-.4a1.08 1.08 0 0 1 .13 2.16zM1130.6 603.4h-2.7a.9 .9 0 0 1-.18-1.76a1.45 1.45 0 0 1 2.75-.4a1.08 1.08 0 0 1 .13 2.16zM1049.9 603.4h-2.7a.9 .9 0 0 1-.18-1.76a1.45 1.45 0 0 1 2.75-.4a1.08 1.08 0 0 1 .13 2.16zM1113.7 603.4h-2.7a.9 .9 0 0 1-.18-1.76a1.45 1.45 0 0 1 2.75-.4a1.08 1.08 0 0 1 .13 2.16zM1043.3 603.4h-2.7a.9 .9 0 0 1-.18-1.76a1.45 1.45 0 0 1 2.75-.4a1.08 1.08 0 0 1 .13 2.16zM1055.6 603.4h-2.7a.9 .9 0 0 1-.18-1.76a1.45 1.45 0 0 1 2.75-.4a1.08 1.08 0 0 1 .13 2.16zM1111.7 603.4h-2.7a.9 .9 0 0 1-.18-1.76a1.45 1.45 0 0 1 2.75-.4a1.08 1.08 0 0 1 .13 2.16zM1163.3 603.4h-2.7a.9 .9 0 0 1-.18-1.76a1.45 1.45 0 0 1 2.75-.4a1.08 1.08 0 0 1 .13 2.16zM1051.0 603.4h-2.7a.9 .9 0 0 1-.18-1.76a1.45 1.45 0 0 1 2.75-.4a1.08 1.08 0 0 1 .13 2.16zM1125.3 603.4h-2.7a.9 .9 0 0 1-.18-1.76a1.45 1.45 0 0 1 2.75-.4a1.08 1.08 0 0 1 .13 2.16zM1088.0 603.4h-2.7a.9 .9 0 0 1-.18-1.76a1.45 1.45 0 0 1 2.75-.4a1.08 1.08 0 0 1 .13 2.16zM1103.0 603.4h-2.7a.9 .9 0 0 1-.18-1.76a1.45 1.45 0 0 1 2.75-.4a1.08 1.08 0 0 1 .13 2.16zM1095.8 603.4h-2.7a.9 .9 0 0 1-.18-1.76a1.45 1.45 0 0 1 2.75-.4a1.08 1.08 0 0 1 .13 2.16zM1127.3 603.4h-2.7a.9 .9 0 0 1-.18-1.76a1.45 1.45 0 0 1 2.75-.4a1.08 1.08 0 0 1 .13 2.16zM1137.9 603.4h-2.7a.9 .9 0 0 1-.18-1.76a1.45 1.45 0 0 1 2.75-.4a1.08 1.08 0 0 1 .13 2.16zM1146.6 603.4h-2.7a.9 .9 0 0 1-.18-1.76a1.45 1.45 0 0 1 2.75-.4a1.08 1.08 0 0 1 .13 2.16zM1079.9 603.4h-2.7a.9 .9 0 0 1-.18-1.76a1.45 1.45 0 0 1 2.75-.4a1.08 1.08 0 0 1 .13 2.16zM1067.8 603.4h-2.7a.9 .9 0 0 1-.18-1.76a1.45 1.45 0 0 1 2.75-.4a1.08 1.08 0 0 1 .13 2.16zM1052.8 603.4h-2.7a.9 .9 0 0 1-.18-1.76a1.45 1.45 0 0 1 2.75-.4a1.08 1.08 0 0 1 .13 2.16zM1063.2 603.4h-2.7a.9 .9 0 0 1-.18-1.76a1.45 1.45 0 0 1 2.75-.4a1.08 1.08 0 0 1 .13 2.16zM1130.8 603.4h-2.7a.9 .9 0 0 1-.18-1.76a1.45 1.45 0 0 1 2.75-.4a1.08 1.08 0 0 1 .13 2.16zM1105.9 603.4h-2.7a.9 .9 0 0 1-.18-1.76a1.45 1.45 0 0 1 2.75-.4a1.08 1.08 0 0 1 .13 2.16zM1149.0 603.4h-2.7a.9 .9 0 0 1-.18-1.76a1.45 1.45 0 0 1 2.75-.4a1.08 1.08 0 0 1 .13 2.16zM1105.6 603.4h-2.7a.9 .9 0 0 1-.18-1.76a1.45 1.45 0 0 1 2.75-.4a1.08 1.08 0 0 1 .13 2.16zM1144.5 603.4h-2.7a.9 .9 0 0 1-.18-1.76a1.45 1.45 0 0 1 2.75-.4a1.08 1.08 0 0 1 .13 2.16zM1074.0 603.4h-2.7a.9 .9 0 0 1-.18-1.76a1.45 1.45 0 0 1 2.75-.4a1.08 1.08 0 0 1 .13 2.16zM1103.6 603.4h-2.7a.9 .9 0 0 1-.18-1.76a1.45 1.45 0 0 1 2.75-.4a1.08 1.08 0 0 1 .13 2.16zM1058.2 603.4h-2.7a.9 .9 0 0 1-.18-1.76a1.45 1.45 0 0 1 2.75-.4a1.08 1.08 0 0 1 .13 2.16zM1130.2 603.4h-2.7a.9 .9 0 0 1-.18-1.76a1.45 1.45 0 0 1 2.75-.4a1.08 1.08 0 0 1 .13 2.16zM1107.5 603.4h-2.7a.9 .9 0 0 1-.18-1.76a1.45 1.45 0 0 1 2.75-.4a1.08 1.08 0 0 1 .13 2.16zM1148.4 603.4h-2.7a.9 .9 0 0 1-.18-1.76a1.45 1.45 0 0 1 2.75-.4a1.08 1.08 0 0 1 .13 2.16zM1051.1 603.4h-2.7a.9 .9 0 0 1-.18-1.76a1.45 1.45 0 0 1 2.75-.4a1.08 1.08 0 0 1 .13 2.16zM1057.3 603.4h-2.7a.9 .9 0 0 1-.18-1.76a1.45 1.45 0 0 1 2.75-.4a1.08 1.08 0 0 1 .13 2.16zM1132.9 603.4h-2.7a.9 .9 0 0 1-.18-1.76a1.45 1.45 0 0 1 2.75-.4a1.08 1.08 0 0 1 .13 2.16zM1136.7 603.4h-2.7a.9 .9 0 0 1-.18-1.76a1.45 1.45 0 0 1 2.75-.4a1.08 1.08 0 0 1 .13 2.16zM1053.4 603.4h-2.7a.9 .9 0 0 1-.18-1.76a1.45 1.45 0 0 1 2.75-.4a1.08 1.08 0 0 1 .13 2.16zM1164.5 603.4h-2.7a.9 .9 0 0 1-.18-1.76a1.45 1.45 0 0 1 2.75-.4a1.08 1.08 0 0 1 .13 2.16zM1085.5 603.4h-2.7a.9 .9 0 0 1-.18-1.76a1.45 1.45 0 0 1 2.75-.4a1.08 1.08 0 0 1 .13 2.16zM1060.9 603.4h-2.7a.9 .9 0 0 1-.18-1.76a1.45 1.45 0 0 1 2.75-.4a1.08 1.08 0 0 1 .13 2.16zM1073.6 603.4h-2.7a.9 .9 0 0 1-.18-1.76a1.45 1.45 0 0 1 2.75-.4a1.08 1.08 0 0 1 .13 2.16zM1166.6 603.4h-2.7a.9 .9 0 0 1-.18-1.76a1.45 1.45 0 0 1 2.75-.4a1.08 1.08 0 0 1 .13 2.16zM1068.6 603.4h-2.7a.9 .9 0 0 1-.18-1.76a1.45 1.45 0 0 1 2.75-.4a1.08 1.08 0 0 1 .13 2.16zM1079.9 603.4h-2.7a.9 .9 0 0 1-.18-1.76a1.45 1.45 0 0 1 2.75-.4a1.08 1.08 0 0 1 .13 2.16zM1080.2 603.4h-2.7a.9 .9 0 0 1-.18-1.76a1.45 1.45 0 0 1 2.75-.4a1.08 1.08 0 0 1 .13 2.16zM1068.0 603.4h-2.7a.9 .9 0 0 1-.18-1.76a1.45 1.45 0 0 1 2.75-.4a1.08 1.08 0 0 1 .13 2.16zM1150.0 603.4h-2.7a.9 .9 0 0 1-.18-1.76a1.45 1.45 0 0 1 2.75-.4a1.08 1.08 0 0 1 .13 2.16zM1104.1 603.4h-2.7a.9 .9 0 0 1-.18-1.76a1.45 1.45 0 0 1 2.75-.4a1.08 1.08 0 0 1 .13 2.16zM1046.2 603.4h-2.7a.9 .9 0 0 1-.18-1.76a1.45 1.45 0 0 1 2.75-.4a1.08 1.08 0 0 1 .13 2.16zM1133.2 603.4h-2.7a.9 .9 0 0 1-.18-1.76a1.45 1.45 0 0 1 2.75-.4a1.08 1.08 0 0 1 .13 2.16zM1067.1 603.4h-2.7a.9 .9 0 0 1-.18-1.76a1.45 1.45 0 0 1 2.75-.4a1.08 1.08 0 0 1 .13 2.16zM1062.3 603.4h-2.7a.9 .9 0 0 1-.18-1.76a1.45 1.45 0 0 1 2.75-.4a1.08 1.08 0 0 1 .13 2.16zM1166.0 603.4h-2.7a.9 .9 0 0 1-.18-1.76a1.45 1.45 0 0 1 2.75-.4a1.08 1.08 0 0 1 .13 2.16zM1051.3 603.4h-2.7a.9 .9 0 0 1-.18-1.76a1.45 1.45 0 0 1 2.75-.4a1.08 1.08 0 0 1 .13 2.16zM1109.9 603.4h-2.7a.9 .9 0 0 1-.18-1.76a1.45 1.45 0 0 1 2.75-.4a1.08 1.08 0 0 1 .13 2.16zM1117.3 603.4h-2.7a.9 .9 0 0 1-.18-1.76a1.45 1.45 0 0 1 2.75-.4a1.08 1.08 0 0 1 .13 2.16zM1109.5 603.4h-2.7a.9 .9 0 0 1-.18-1.76a1.45 1.45 0 0 1 2.75-.4a1.08 1.08 0 0 1 .13 2.16zM1160.7 603.4h-2.7a.9 .9 0 0 1-.18-1.76a1.45 1.45 0 0 1 2.75-.4a1.08 1.08 0 0 1 .13 2.16zM1161.0 603.4h-2.7a.9 .9 0 0 1-.18-1.76a1.45 1.45 0 0 1 2.75-.4a1.08 1.08 0 0 1 .13 2.16zM1113.4 603.4h-2.7a.9 .9 0 0 1-.18-1.76a1.45 1.45 0 0 1 2.75-.4a1.08 1.08 0 0 1 .13 2.16zM1052.8 603.4h-2.7a.9 .9 0 0 1-.18-1.76a1.45 1.45 0 0 1 2.75-.4a1.08 1.08 0 0 1 .13 2.16zM1044.9 603.4h-2.7a.9 .9 0 0 1-.18-1.76a1.45 1.45 0 0 1 2.75-.4a1.08 1.08 0 0 1 .13 2.16zM1144.2 603.4h-2.7a.9 .9 0 0 1-.18-1.76a1.45 1.45 0 0 1 2.75-.4a1.08 1.08 0 0 1 .13 2.16zM1104.9 603.4h-2.7a.9 .9 0 0 1-.18-1.76a1.45 1.45 0 0 1 2.75-.4a1.08 1.08 0 0 1 .13 2.16zM1082.8 603.4h-2.7a.9 .9 0 0 1-.18-1.76a1.45 1.45 0 0 1 2.75-.4a1.08 1.08 0 0 1 .13 2.16zM1081.7 603.4h-2.7a.9 .9 0 0 1-.18-1.76a1.45 1.45 0 0 1 2.75-.4a1.08 1.08 0 0 1 .13 2.16zM1129.4 603.4h-2.7a.9 .9 0 0 1-.18-1.76a1.45 1.45 0 0 1 2.75-.4a1.08 1.08 0 0 1 .13 2.16zM1078.9 603.4h-2.7a.9 .9 0 0 1-.18-1.76a1.45 1.45 0 0 1 2.75-.4a1.08 1.08 0 0 1 .13 2.16zM1139.0 603.4h-2.7a.9 .9 0 0 1-.18-1.76a1.45 1.45 0 0 1 2.75-.4a1.08 1.08 0 0 1 .13 2.16zM1093.4 603.4h-2.7a.9 .9 0 0 1-.18-1.76a1.45 1.45 0 0 1 2.75-.4a1.08 1.08 0 0 1 .13 2.16zM1049.7 603.4h-2.7a.9 .9 0 0 1-.18-1.76a1.45 1.45 0 0 1 2.75-.4a1.08 1.08 0 0 1 .13 2.16zM1087.1 603.4h-2.7a.9 .9 0 0 1-.18-1.76a1.45 1.45 0 0 1 2.75-.4a1.08 1.08 0 0 1 .13 2.16zM896.1 629.7h-2.7a.9 .9 0 0 1-.18-1.76a1.45 1.45 0 0 1 2.75-.4a1.08 1.08 0 0 1 .13 2.16zM921.5 629.7h-2.7a.9 .9 0 0 1-.18-1.76a1.45 1.45 0 0 1 2.75-.4a1.08 1.08 0 0 1 .13 2.16zM928.5 629.7h-2.7a.9 .9 0 0 1-.18-1.76a1.45 1.45 0 0 1 2.75-.4a1.08 1.08 0 0 1 .13 2.16zM938.5 629.7h-2.7a.9 .9 0 0 1-.18-1.76a1.45 1.45 0 0 1 2.75-.4a1.08 1.08 0 0 1 .13 2.16zM948.5 629.7h-2.7a.9 .9 0 0 1-.18-1.76a1.45 1.45 0 0 1 2.75-.4a1.08 1.08 0 0 1 .13 2.16zM954.5 629.7h-2.7a.9 .9 0 0 1-.18-1.76a1.45 1.45 0 0 1 2.75-.4a1.08 1.08 0 0 1 .13 2.16zM962.5 629.7h-2.7a.9 .9 0 0 1-.18-1.76a1.45 1.45 0 0 1 2.75-.4a1.08 1.08 0 0 1 .13 2.16zM969.5 629.7h-2.7a.9 .9 0 0 1-.18-1.76a1.45 1.45 0 0 1 2.75-.4a1.08 1.08 0 0 1 .13 2.16zM980.5 629.7h-2.7a.9 .9 0 0 1-.18-1.76a1.45 1.45 0 0 1 2.75-.4a1.08 1.08 0 0 1 .13 2.16zM1009.5 629.7h-2.7a.9 .9 0 0 1-.18-1.76a1.45 1.45 0 0 1 2.75-.4a1.08 1.08 0 0 1 .13 2.16z" fill="#27958a" fill-opacity=".92"/><path d="M883.2 575.6h0M885.9 575.6h0M877.3 575.6h0M882.5 575.6h0M885.6 575.6h0M883.8 575.6h0M885.7 575.6h0M877.7 575.6h0M878.6 575.6h0M883.0 575.6h0M988.0 575.6h0M980.8 575.6h0M972.6 575.6h0M911.7 575.6h0M902.0 575.6h0M906.6 575.6h0M973.7 575.6h0M891.5 575.6h0M954.5 575.6h0M980.2 575.6h0M951.6 575.6h0M903.4 575.6h0M968.4 575.6h0M974.3 575.6h0M932.5 575.6h0M882.6 602.0h0M877.0 602.0h0M882.5 602.0h0M885.3 602.0h0M881.2 602.0h0M881.6 602.0h0M883.5 602.0h0M883.9 602.0h0M884.5 602.0h0M884.5 602.0h0M987.4 602.0h0M982.9 602.0h0M917.4 602.0h0M983.9 602.0h0M984.3 602.0h0M930.5 602.0h0M943.5 602.0h0M890.7 602.0h0M951.3 602.0h0M968.2 602.0h0M987.6 602.0h0M920.0 602.0h0M923.6 602.0h0M937.8 602.0h0M960.6 602.0h0M878.5 628.3h0M879.5 628.3h0M907.0 628.3h0M878.7 654.6h0M879.3 654.6h0" fill="none" stroke="#161616" stroke-opacity=".93" stroke-width="3.8" stroke-linecap="round"/></svg>
<div style="left:163.2px;top:207.8px;width:2px;height:145.8px;background:#69b045;"></div>
<div style="left:160.3px;top:214.3px;width:4px;height:1.4px;background:#69b045;"></div>
<span style="left:146.30px;top:205.31px;font-size:10px;color:#222;letter-spacing:-0.425px;">50</span>
<div style="left:160.3px;top:240.24px;width:4px;height:1.4px;background:#69b045;"></div>
<span style="left:146.30px;top:231.25px;font-size:10px;color:#222;letter-spacing:-0.425px;">40</span>
<div style="left:160.3px;top:266.18px;width:4px;height:1.4px;background:#69b045;"></div>
<span style="left:146.30px;top:257.19px;font-size:10px;color:#222;letter-spacing:-0.425px;">30</span>
<div style="left:160.3px;top:292.12px;width:4px;height:1.4px;background:#69b045;"></div>
<span style="left:146.30px;top:283.13px;font-size:10px;color:#222;letter-spacing:-0.425px;">20</span>
<div style="left:160.3px;top:318.06px;width:4px;height:1.4px;background:#69b045;"></div>
<span style="left:146.30px;top:309.07px;font-size:10px;color:#222;letter-spacing:-0.425px;">10</span>
<div style="left:160.3px;top:345.881px;width:4px;height:1.4px;background:#69b045;"></div>
<span style="left:129.20px;top:336.90px;font-size:10px;color:#222;letter-spacing:-0.112px;">-0.725</span>
<div style="left:163.2px;top:362.4px;width:2px;height:144.1px;background:#4684b8;"></div>
<div style="left:160.3px;top:368.4px;width:4px;height:1.4px;background:#4684b8;"></div>
<span style="left:146.30px;top:359.42px;font-size:10px;color:#222;letter-spacing:-0.425px;">50</span>
<div style="left:160.3px;top:394.7px;width:4px;height:1.4px;background:#4684b8;"></div>
<span style="left:146.30px;top:385.72px;font-size:10px;color:#222;letter-spacing:-0.425px;">40</span>
<div style="left:160.3px;top:421px;width:4px;height:1.4px;background:#4684b8;"></div>
<span style="left:146.30px;top:412.02px;font-size:10px;color:#222;letter-spacing:-0.425px;">30</span>
<div style="left:160.3px;top:447.3px;width:4px;height:1.4px;background:#4684b8;"></div>
<span style="left:146.30px;top:438.31px;font-size:10px;color:#222;letter-spacing:-0.425px;">20</span>
<div style="left:160.3px;top:473.6px;width:4px;height:1.4px;background:#4684b8;"></div>
<span style="left:146.30px;top:464.62px;font-size:10px;color:#222;letter-spacing:-0.425px;">10</span>
<div style="left:160.3px;top:499.9px;width:4px;height:1.4px;background:#4684b8;"></div>
<span style="left:151.44px;top:490.92px;font-size:10px;color:#222;letter-spacing:-0.162px;">0</span>
<div style="left:163.2px;top:515.8px;width:2px;height:146px;background:#e0338a;"></div>
<div style="left:160.3px;top:522.3px;width:4px;height:1.4px;background:#e0338a;"></div>
<span style="left:117.30px;top:513.32px;font-size:10px;color:#222;letter-spacing:0.480px;">GAMMA</span>
<div style="left:160.3px;top:548.5px;width:4px;height:1.4px;background:#e0338a;"></div>
<span style="left:132.80px;top:539.52px;font-size:10px;color:#222;letter-spacing:-0.397px;">BETA</span>
<div style="left:160.3px;top:574.9px;width:4px;height:1.4px;background:#e0338a;"></div>
<span style="left:124.90px;top:565.92px;font-size:10px;color:#222;letter-spacing:-0.174px;">ALPHA</span>
<div style="left:160.3px;top:601.3px;width:4px;height:1.4px;background:#e0338a;"></div>
<span style="left:125.30px;top:592.32px;font-size:10px;color:#222;letter-spacing:-0.227px;">KAPPA</span>
<div style="left:160.3px;top:627.6px;width:4px;height:1.4px;background:#e0338a;"></div>
<span style="left:127.50px;top:618.62px;font-size:10px;color:#222;letter-spacing:-0.312px;">DELTA</span>
<div style="left:160.3px;top:653.9px;width:4px;height:1.4px;background:#e0338a;"></div>
<span style="left:114.30px;top:644.92px;font-size:10px;color:#222;letter-spacing:-0.172px;">UND...ED</span>
<div style="left:169px;top:665.4px;width:342.6px;height:1.7px;background:#69b045;"></div>
<div style="left:175.9px;top:665.4px;width:1.4px;height:4.6px;background:#69b045;"></div>
<span style="left:171.25px;top:666.72px;font-size:10px;color:#222;letter-spacing:-0.425px;">10</span>
<div style="left:241.25px;top:665.4px;width:1.4px;height:4.6px;background:#69b045;"></div>
<span style="left:236.60px;top:666.72px;font-size:10px;color:#222;letter-spacing:-0.425px;">20</span>
<div style="left:306.6px;top:665.4px;width:1.4px;height:4.6px;background:#69b045;"></div>
<span style="left:301.95px;top:666.72px;font-size:10px;color:#222;letter-spacing:-0.425px;">30</span>
<div style="left:371.95px;top:665.4px;width:1.4px;height:4.6px;background:#69b045;"></div>
<span style="left:367.30px;top:666.72px;font-size:10px;color:#222;letter-spacing:-0.425px;">40</span>
<div style="left:437.3px;top:665.4px;width:1.4px;height:4.6px;background:#69b045;"></div>
<span style="left:432.65px;top:666.72px;font-size:10px;color:#222;letter-spacing:-0.425px;">50</span>
<div style="left:503.957px;top:665.4px;width:1.4px;height:4.6px;background:#69b045;"></div>
<span style="left:493.90px;top:666.72px;font-size:10px;color:#222;letter-spacing:-0.290px;">60.2</span>
<div style="left:520.3px;top:665.4px;width:341.7px;height:1.7px;background:#69b045;"></div>
<div style="left:526.5px;top:665.4px;width:1.4px;height:4.6px;background:#69b045;"></div>
<span style="left:520.50px;top:666.72px;font-size:10px;color:#222;letter-spacing:-0.112px;">-0.725</span>
<div style="left:596.212px;top:665.4px;width:1.4px;height:4.6px;background:#69b045;"></div>
<span style="left:591.56px;top:666.72px;font-size:10px;color:#222;letter-spacing:-0.425px;">10</span>
<div style="left:661.212px;top:665.4px;width:1.4px;height:4.6px;background:#69b045;"></div>
<span style="left:656.56px;top:666.72px;font-size:10px;color:#222;letter-spacing:-0.425px;">20</span>
<div style="left:726.212px;top:665.4px;width:1.4px;height:4.6px;background:#69b045;"></div>
<span style="left:721.56px;top:666.72px;font-size:10px;color:#222;letter-spacing:-0.425px;">30</span>
<div style="left:791.213px;top:665.4px;width:1.4px;height:4.6px;background:#69b045;"></div>
<span style="left:786.56px;top:666.72px;font-size:10px;color:#222;letter-spacing:-0.425px;">40</span>
<div style="left:856.213px;top:665.4px;width:1.4px;height:4.6px;background:#69b045;"></div>
<span style="left:851.30px;top:666.72px;font-size:10px;color:#222;letter-spacing:-0.425px;">50</span>
<div style="left:871.5px;top:665.4px;width:342.3px;height:1.7px;background:#4684b8;"></div>
<div style="left:877.6px;top:665.4px;width:1.4px;height:4.6px;background:#4684b8;"></div>
<span style="left:875.52px;top:666.72px;font-size:10px;color:#222;letter-spacing:-0.162px;">0</span>
<div style="left:943.2px;top:665.4px;width:1.4px;height:4.6px;background:#4684b8;"></div>
<span style="left:938.55px;top:666.72px;font-size:10px;color:#222;letter-spacing:-0.425px;">10</span>
<div style="left:1008.8px;top:665.4px;width:1.4px;height:4.6px;background:#4684b8;"></div>
<span style="left:1004.15px;top:666.72px;font-size:10px;color:#222;letter-spacing:-0.425px;">20</span>
<div style="left:1074.4px;top:665.4px;width:1.4px;height:4.6px;background:#4684b8;"></div>
<span style="left:1069.75px;top:666.72px;font-size:10px;color:#222;letter-spacing:-0.425px;">30</span>
<div style="left:1140px;top:665.4px;width:1.4px;height:4.6px;background:#4684b8;"></div>
<span style="left:1135.35px;top:666.72px;font-size:10px;color:#222;letter-spacing:-0.425px;">40</span>
<div style="left:1205.6px;top:665.4px;width:1.4px;height:4.6px;background:#4684b8;"></div>
<span style="left:1200.95px;top:666.72px;font-size:10px;color:#222;letter-spacing:-0.425px;">50</span>
<div style="left:284px;top:176px;width:112px;height:25px;background:#fff;border:1px solid #dcdcdc;border-radius:3px;"></div>
<div style="left:288px;top:183.3px;width:10.4px;height:10.4px;background:#2f8a12;border-radius:5.2px;"></div>
<span style="left:303.00px;top:178.52px;font-size:10.4px;color:#222;letter-spacing:-0.352px;">TM-BP2-CONC.1</span>
<svg style="left:383.6px;top:186.6px" width="8" height="5"><path d="M0 0 L7.4 0 L3.7 3.8 Z" fill="#8c8c8c"/></svg>
<div style="left:642px;top:269px;width:99px;height:25px;background:#fff;border:1px solid #dcdcdc;border-radius:3px;"></div>
<div style="left:646px;top:276.3px;width:10.4px;height:10.4px;background:#2f8a12;border-radius:5.2px;"></div>
<span style="left:660.50px;top:271.52px;font-size:10.4px;color:#222;letter-spacing:-0.237px;">TM-BP2-CW.1</span>
<svg style="left:728.6px;top:279.6px" width="8" height="5"><path d="M0 0 L7.4 0 L3.7 3.8 Z" fill="#8c8c8c"/></svg>
<div style="left:1222px;top:577px;width:88px;height:25px;background:#fff;border:1px solid #dcdcdc;border-radius:3px;"></div>
<div style="left:1226px;top:584.3px;width:10.4px;height:10.4px;background:#c8175d;border-radius:5.2px;"></div>
<span style="left:1240.50px;top:579.52px;font-size:10.4px;color:#222;letter-spacing:-0.250px;">TM-...UCT.1</span>
<svg style="left:1297.6px;top:587.6px" width="8" height="5"><path d="M0 0 L7.4 0 L3.7 3.8 Z" fill="#8c8c8c"/></svg>
<div style="left:169.3px;top:690px;width:31.3px;height:32px;background:#fff;border:1px solid #dcdcdc;border-radius:3px;"></div>
<svg style="left:181.5px;top:702.3px" width="6" height="8"><path d="M5 0.5 L5 7.5 L0.8 4 Z" fill="#333"/></svg>
<div style="left:205.3px;top:690px;width:126px;height:32px;background:#fff;border:1px solid #dcdcdc;border-radius:3px;"></div>
<span style="left:218.30px;top:696.16px;font-size:14px;color:#222;letter-spacing:0.547px;">14/01/2019</span>
<svg style="left:307.5px;top:697.7px" width="15" height="16" viewBox="0 0 15 16"><g fill="none" stroke="#8c8c8c" stroke-width="1.1"><rect x="1" y="2.6" width="13" height="12.4" rx="1.2"/><path d="M1 6.2 H14 M4.3 0.8 V3.6 M10.7 0.8 V3.6"/></g><rect x="8.6" y="9.6" width="3.4" height="3.4" fill="#8c8c8c"/></svg>
<div style="left:335.2px;top:690px;width:139.5px;height:32px;background:#fff;border:1px solid #dcdcdc;border-radius:3px;"></div>
<span style="left:348.30px;top:696.16px;font-size:14px;color:#222;letter-spacing:0.100px;">18:57:55</span>
<svg style="left:451.1px;top:698.5px" width="15" height="15" viewBox="0 0 15 15"><g fill="none" stroke="#8c8c8c" stroke-width="1.1"><circle cx="7.5" cy="7.5" r="6.5"/><path d="M7.5 3.6 V7.8 H10.8"/></g></svg>
<div style="left:612.2px;top:690px;width:104.5px;height:32px;background:#fff;border:1px solid #dcdcdc;border-radius:3px;"></div>
<svg style="left:622px;top:698.5px" width="15" height="15" viewBox="0 0 15 15"><g fill="#777"><path d="M0.5 0 V14.5 H15" fill="none" stroke="#777" stroke-width="1"/><circle cx="3.6" cy="11.6" r="1.35"/><circle cx="5.8" cy="9.6" r="1.35"/><circle cx="6.2" cy="12" r="1.35"/><circle cx="8.2" cy="8" r="1.35"/><circle cx="8.6" cy="10.4" r="1.35"/><circle cx="10.4" cy="6.2" r="1.35"/><circle cx="10.8" cy="8.6" r="1.35"/><circle cx="12.2" cy="3.4" r="1.35"/><circle cx="13" cy="6" r="1.35"/><circle cx="9.8" cy="3.6" r="1.35"/></g></svg>
<span style="left:645.50px;top:696.16px;font-size:14px;color:#222;letter-spacing:-0.143px;">Scatter</span>
<svg style="left:695px;top:703.5px" width="10" height="6"><path d="M0 6 L10 6 L5 0.4 Z" fill="#8c8c8c"/></svg>
<div style="left:721.3px;top:690px;width:121.5px;height:32px;background:#fff;border:1px solid #dcdcdc;border-radius:3px;"></div>
<div style="left:811.3px;top:691px;width:1px;height:30px;background:#dcdcdc;"></div>
<span style="left:733.80px;top:696.16px;font-size:14px;color:#222;letter-spacing:-0.174px;">± 17 hours</span>
<svg style="left:820.7px;top:698px" width="12" height="15" viewBox="0 0 12 15"><g fill="none" stroke="#444" stroke-width="1.3"><rect x="1.2" y="6" width="9.6" height="8" rx="1"/><path d="M3.4 6 V3.9 A2.6 2.6 0 0 1 8.6 3.9"/></g><circle cx="6" cy="10" r="1.2" fill="#444"/></svg>
<div style="left:847.2px;top:690px;width:31.3px;height:32px;background:#fff;border:1px solid #dcdcdc;border-radius:3px;"></div>
<svg style="left:854.8px;top:699px" width="16" height="14" viewBox="0 0 16 14"><g fill="none" stroke="#444" stroke-width="1.3"><path d="M3.6 7 A5.6 5.6 0 1 1 5.2 11"/><path d="M9.2 4 V7.4 L11.6 8.8"/></g><path d="M0.8 5.2 H6.4 L3.6 8.4 Z" fill="#444"/></svg>
<div style="left:1016.2px;top:690px;width:126px;height:32px;background:#fff;border:1px solid #dcdcdc;border-radius:3px;"></div>
<span style="left:1029.30px;top:696.16px;font-size:14px;color:#222;letter-spacing:0.547px;">15/01/2019</span>
<svg style="left:1118.5px;top:697.7px" width="15" height="16" viewBox="0 0 15 16"><g fill="none" stroke="#8c8c8c" stroke-width="1.1"><rect x="1" y="2.6" width="13" height="12.4" rx="1.2"/><path d="M1 6.2 H14 M4.3 0.8 V3.6 M10.7 0.8 V3.6"/></g><rect x="8.6" y="9.6" width="3.4" height="3.4" fill="#8c8c8c"/></svg>
<div style="left:1146.2px;top:690px;width:139.4px;height:32px;background:#fff;border:1px solid #dcdcdc;border-radius:3px;"></div>
<span style="left:1159.20px;top:696.16px;font-size:14px;color:#222;letter-spacing:0.100px;">12:12:20</span>
<svg style="left:1262.1px;top:698.5px" width="15" height="15" viewBox="0 0 15 15"><g fill="none" stroke="#8c8c8c" stroke-width="1.1"><circle cx="7.5" cy="7.5" r="6.5"/><path d="M7.5 3.6 V7.8 H10.8"/></g></svg>
<div style="left:1290.4px;top:690px;width:31.2px;height:32px;background:#fff;border:1px solid #dcdcdc;border-radius:3px;"></div>
<svg style="left:1303.5px;top:702.3px" width="6" height="8"><path d="M1 0.5 L1 7.5 L5.2 4 Z" fill="#333"/></svg>
<svg style="left:0;top:0" width="1380" height="900" viewBox="0 0 1380 900"><rect x="169.3" y="729.5" width="1152.2" height="31.5" fill="#f2f2f2"/><path d="M169.3 739.3 L171.3 754.3 L174.3 737.4 L177.1 755.8 L179.3 735.8 L182.3 757.0 L185.0 735.9 L187.0 754.1 L189.4 735.5 L192.1 755.7 L194.1 745.2 L197.5 756.0 L200.7 738.3 L204.0 756.3 L206.4 739.5 L208.6 756.3 L211.2 736.5 L214.5 755.5 L217.0 738.8 L219.6 755.7 L222.6 736.2 L225.0 754.8 L227.3 739.0 L230.6 756.1 L233.3 737.3 L235.7 754.6 L239.0 752.7 L242.0 756.7 L245.0 733.4 L247.3 754.7 L249.4 736.4 L251.7 754.6 L254.3 741.7 L256.5 755.9 L258.5 739.1 L261.6 754.5 L264.5 756.8 L266.7 754.1 L269.5 741.1 L271.5 755.3 L274.5 739.0 L277.7 756.1 L280.0 737.4 L282.1 755.3 L284.2 736.9 L286.9 754.4 L289.2 737.0 L291.2 734.4 L293.2 748.2 L295.9 757.0 L299.2 734.5 L301.5 755.8 L304.6 737.7 L307.2 733.9 L309.7 733.7 L312.0 754.3 L314.3 734.4 L316.9 754.9 L319.2 739.0 L322.2 755.3 L324.9 733.3 L327.6 752.3 L330.1 736.4 L332.9 754.9 L335.4 733.1 L337.5 754.9 L340.4 733.1 L343.0 755.5 L345.8 733.5 L348.2 751.1 L350.5 736.8 L353.1 756.3 L355.2 753.4 L358.1 756.9 L360.1 737.4 L363.0 755.5 L365.6 738.3 L368.3 755.4 L371.5 739.2 L373.8 754.7 L376.1 735.8 L379.4 755.8 L381.5 735.3 L383.7 735.1 L386.9 739.5 L389.0 754.9 L391.9 737.5 L394.6 754.3 L397.9 745.4 L400.9 754.8 L403.5 737.6 L406.9 756.3 L409.0 747.3 L412.3 754.5 L414.9 735.7 L418.2 756.1 L421.5 735.2 L424.4 756.3 L426.7 737.1 L429.6 756.9 L431.5 736.1 L434.8 756.0 L436.7 739.2 L439.6 756.7 L441.6 738.4 L443.9 756.2 L446.1 747.7 L448.7 754.8 L451.3 734.4 L453.3 754.0 L456.5 737.3 L459.1 756.0 L461.5 734.9 L464.5 754.5 L467.6 735.7 L470.6 736.9 L473.1 736.1 L475.1 755.7 L477.6 736.6 L480.2 756.6 L483.0 736.2 L486.3 754.2 L488.7 737.3 L491.6 755.2 L493.7 737.2 L496.4 756.6 L499.2 735.0 L501.8 754.7 L505.1 733.7 L507.6 755.1 L509.7 743.6 L512.1 756.7 L514.6 737.2 L517.1 754.3 L519.3 737.5 L521.7 756.4 L524.8 737.2 L528.0 755.0 L531.2 736.3 L534.5 756.2 L537.7 739.2 L541.1 754.9 L544.0 735.4 L546.2 756.9 L548.8 738.9 L552.2 741.4 L554.6 739.1 L557.7 755.3 L559.9 738.5 L562.3 740.6 L565.6 737.9 L567.9 755.3 L570.3 734.6 L573.2 755.0 L576.2 753.4 L578.8 745.6 L581.9 735.2 L584.7 755.2 L587.3 736.1 L589.7 756.5 L592.5 736.6 L595.8 756.5 L598.4 735.6 L601.7 754.4 L604.6 740.3 L607.7 741.4 L609.9 734.0 L612.0 756.9 L614.0 738.9 L616.7 745.1 L618.7 734.3 L621.8 755.6 L625.0 733.9 L627.2 738.1 L629.2 734.4 L632.0 756.6 L635.0 736.3 L637.2 754.3 L640.1 734.4 L642.4 755.3 L644.9 738.3 L647.7 755.4 L650.7 739.5 L653.7 756.1 L655.7 736.6 L657.9 755.7 L660.8 737.9 L663.4 754.1 L666.5 738.5 L668.5 748.3 L671.3 734.2 L674.6 756.7 L677.0 734.4 L679.9 754.8 L682.7 735.7 L685.7 755.4 L687.8 737.6 L691.0 754.6 L693.8 735.6 L697.0 754.6 L700.0 738.2 L702.6 755.0 L704.9 734.3 L707.1 755.4 L709.5 734.1 L712.7 754.7 L715.6 738.8 L718.0 754.6 L720.3 733.1 L722.6 754.9 L724.9 737.8 L727.5 755.3 L729.5 736.6 L732.3 747.1 L735.5 737.3 L738.6 740.2 L742.0 739.1 L744.9 756.6 L747.9 736.5 L750.1 754.2 L752.3 737.1 L754.8 756.9 L757.5 735.5 L759.7 755.6 L761.8 739.2 L763.8 756.1 L766.5 733.7 L769.2 756.3 L772.2 737.8 L774.2 736.4 L776.6 736.5 L779.5 746.4 L781.5 737.4 L783.7 754.9 L786.3 739.2 L788.7 756.8 L790.8 738.2 L794.1 755.9 L797.4 736.4 L799.4 755.0 L801.3 737.4 L804.3 746.0 L807.1 735.9 L810.2 747.2 L813.5 738.5 L815.9 738.9 L819.0 738.9 L822.2 754.3 L824.3 734.5 L826.2 755.2 L828.6 745.4 L831.3 755.2 L833.4 735.8 L835.9 756.9 L838.6 735.9 L841.9 756.4 L844.1 741.4 L846.1 756.1 L848.9 736.8 L851.5 755.4 L853.9 734.4 L857.2 756.5 L859.2 735.0 L862.5 755.6 L865.4 734.6 L867.9 756.5 L870.8 736.7 L873.4 756.9 L876.0 736.3 L879.0 756.0 L881.1 736.9 L883.7 756.9 L886.2 737.1 L889.1 755.1 L891.6 734.0 L894.5 755.2 L897.8 738.3 L901.1 755.7 L904.0 738.2 L906.9 756.0 L908.9 755.6 L911.4 755.8 L913.6 738.5 L915.6 755.8 L918.9 733.4 L920.9 755.5 L922.9 735.2 L926.1 756.9 L929.0 736.8 L931.8 754.5 L935.0 736.7 L937.6 754.8 L940.3 734.6 L943.7 754.5 L946.8 737.8 L949.6 754.7 L952.4 742.7 L955.0 737.8 L958.0 739.1 L960.8 738.0 L963.8 751.7 L966.0 754.6 L969.1 733.1 L971.5 755.7 L973.6 752.3 L976.8 755.4 L978.9 734.0 L980.9 756.4 L984.0 754.4 L986.3 747.1 L988.9 741.1 L992.0 754.5 L994.8 737.2 L997.7 755.1 L999.7 751.6 L1002.3 756.8 L1005.7 737.1 L1009.0 756.2 L1011.7 748.3 L1014.7 756.6 L1016.8 737.9 L1019.8 755.4 L1021.8 737.1 L1023.9 756.5 L1026.4 740.2 L1029.1 756.6 L1031.2 739.1 L1034.3 754.7 L1036.3 734.2 L1038.9 756.0 L1041.3 739.1 L1043.8 754.6 L1046.6 733.3 L1049.1 755.3 L1051.4 734.8 L1054.6 754.3 L1057.6 734.2 L1060.5 756.1 L1062.9 736.3 L1065.5 738.6 L1067.9 735.6 L1070.9 754.8 L1073.4 756.0 L1076.6 736.6 L1078.7 735.0 L1080.7 755.3 L1083.8 752.1 L1086.3 739.4 L1088.7 734.7 L1091.4 756.4 L1093.9 736.2 L1096.9 752.3 L1099.3 736.8 L1102.1 733.2 L1105.4 738.9 L1107.4 756.5 L1110.1 738.2 L1113.2 756.2 L1115.8 739.4 L1118.4 734.7 L1121.5 733.9 L1124.5 756.0 L1127.6 733.3 L1130.9 755.6 L1134.2 737.8 L1137.5 756.8 L1140.6 736.3 L1142.9 747.9 L1145.5 751.8 L1147.7 755.0 L1151.0 737.3 L1153.2 754.1 L1156.6 735.9 L1159.8 754.1 L1162.3 734.5 L1165.2 754.4 L1167.6 751.9 L1170.2 756.5 L1173.0 733.1 L1176.3 756.0 L1178.9 739.2 L1181.8 733.2 L1184.0 737.8 L1187.0 733.7 L1189.4 733.1 L1192.6 748.9 L1195.6 737.3 L1197.8 756.7 L1200.8 739.6 L1203.1 754.7 L1206.0 754.6 L1208.0 756.9 L1210.8 734.9 L1214.0 751.9 L1216.3 733.7 L1218.6 754.6 L1220.6 738.4 L1223.5 754.9 L1226.8 740.5 L1228.9 755.4 L1231.7 735.3 L1234.6 757.0 L1237.5 733.7 L1240.3 754.7 L1242.5 736.0 L1245.1 754.5 L1247.6 737.3 L1249.8 755.0 L1252.0 736.9 L1254.4 754.0 L1256.4 733.8 L1259.5 756.8 L1261.7 735.7 L1263.8 755.7 L1266.7 739.3 L1269.7 754.5 L1273.0 750.1 L1275.7 755.6 L1278.7 738.3 L1281.1 749.3 L1283.1 748.7 L1286.4 755.4 L1289.2 738.6 L1292.4 754.4 L1294.7 738.0 L1296.9 754.6 L1300.0 738.6 L1302.4 755.9 L1304.9 736.9 L1308.1 755.3 L1310.9 735.1 L1313.5 755.3 L1316.5 737.7 L1319.6 755.2" fill="none" stroke="#3f9c95" stroke-width="0.8" stroke-linejoin="round"/><path d="M169.3 732.6 L170.9 755.8 L172.3 731.1 L173.8 754.7 L175.5 736.5 L177.4 754.5 L179.4 734.5 L181.4 754.2 L183.2 753.5 L184.9 756.2 L186.8 737.1 L188.9 755.3 L191.0 736.6 L193.1 755.3 L194.7 734.3 L196.3 755.8 L198.4 735.5 L200.5 757.0 L201.9 736.7 L204.0 755.7 L205.5 736.5 L207.1 754.2 L209.3 731.6 L210.9 754.5 L212.9 747.0 L214.2 756.2 L216.3 737.5 L218.5 746.6 L219.8 732.3 L221.7 753.6 L223.3 737.3 L224.9 755.4 L226.8 734.9 L228.6 756.8 L230.3 735.8 L231.8 756.9 L233.6 731.1 L235.5 754.1 L237.3 731.4 L239.0 756.0 L241.0 732.6 L242.9 756.9 L244.6 734.9 L246.2 754.9 L248.0 733.0 L250.0 754.1 L252.0 733.0 L254.0 754.7 L255.7 739.4 L257.3 756.5 L259.3 732.1 L261.2 756.7 L262.7 731.8 L264.2 756.4 L265.6 732.8 L267.5 756.4 L268.9 732.9 L270.4 755.0 L272.1 733.7 L273.5 754.0 L275.6 737.5 L277.8 756.8 L279.7 736.5 L281.5 754.9 L283.0 731.4 L284.5 754.5 L286.5 737.1 L288.6 750.4 L290.0 733.0 L291.8 755.2 L293.6 733.3 L295.7 755.4 L297.3 732.3 L299.3 754.5 L301.5 736.3 L302.8 755.9 L304.1 732.8 L305.9 755.3 L307.9 734.3 L309.2 754.2 L311.3 731.6 L312.9 754.9 L314.8 734.9 L316.2 745.4 L318.2 735.6 L319.8 755.8 L321.4 736.3 L323.1 755.1 L325.0 733.8 L326.7 754.7 L328.7 731.5 L330.3 756.6 L332.0 736.9 L333.5 752.1 L335.4 736.9 L337.3 756.2 L338.6 734.7 L340.6 733.6 L342.7 752.9 L344.1 756.5 L346.2 737.3 L348.2 754.1 L350.0 750.5 L352.1 754.2 L353.9 736.5 L355.4 754.7 L357.3 733.6 L359.0 755.1 L360.3 734.3 L362.0 749.0 L364.0 735.4 L365.7 755.9 L367.1 731.6 L369.3 755.6 L371.2 732.2 L372.7 755.8 L374.2 735.6 L375.7 756.1 L377.8 734.9 L379.3 754.1 L380.9 732.1 L382.5 756.8 L384.2 735.0 L386.2 756.5 L388.0 735.8 L389.6 756.2 L391.3 732.5 L393.3 756.0 L395.3 732.6 L396.9 754.6 L398.9 736.9 L401.0 754.9 L403.0 752.7 L404.5 755.1 L406.4 731.0 L408.1 755.5 L409.9 737.3 L411.7 754.4 L413.6 731.7 L415.7 754.3 L417.4 736.1 L418.9 756.0 L421.0 732.8 L423.1 756.0 L424.5 734.3 L426.5 756.0 L427.9 735.3 L429.3 756.7 L430.7 739.6 L432.7 755.8 L434.6 734.0 L436.0 754.2 L438.0 734.6 L439.6 754.8 L441.7 731.3 L443.2 756.3 L444.8 733.7 L446.8 755.1 L448.2 733.9 L450.2 756.2 L451.6 733.7 L453.6 756.2 L455.1 733.6 L456.8 755.7 L458.3 751.9 L460.4 756.8 L462.2 734.8 L464.4 756.1 L466.5 734.2 L468.5 754.0 L470.4 734.2 L472.1 754.6 L473.4 734.3 L475.1 755.7 L477.2 731.9 L479.0 754.2 L480.5 731.5 L482.7 755.0 L484.6 731.9 L486.4 756.8 L488.4 733.3 L490.5 756.6 L492.5 732.1 L493.9 743.9 L495.8 734.5 L497.7 754.9 L499.7 733.6 L501.8 756.2 L503.4 734.5 L504.9 754.0 L506.9 731.9 L508.3 741.5 L509.8 735.4 L511.5 742.6 L513.2 741.5 L514.8 754.1 L516.3 731.6 L517.7 755.9 L519.1 731.3 L520.6 756.4 L522.8 733.0 L524.3 756.4 L525.9 731.6 L528.1 731.8 L529.5 732.4 L531.3 756.7 L533.5 734.1 L535.7 738.9 L537.5 738.6 L539.6 754.3 L541.2 735.5 L542.6 756.2 L544.7 734.7 L546.3 755.2 L548.3 734.2 L549.7 756.2 L551.6 733.6 L553.1 743.1 L555.0 737.2 L557.1 755.9 L559.2 734.0 L561.2 755.0 L562.5 733.6 L563.9 733.1 L565.8 735.0 L567.6 737.0 L569.8 732.5 L571.5 756.3 L573.5 734.5 L574.9 754.2 L576.3 731.2 L577.8 743.1 L579.3 736.5 L581.1 756.3 L582.7 735.0 L584.1 756.5 L586.2 732.4 L587.9 740.0 L589.6 731.5 L591.6 755.3 L593.4 732.4 L595.6 755.0 L597.0 755.2 L598.9 756.6 L600.8 737.1 L602.4 756.8 L604.6 734.2 L606.2 757.0 L607.8 737.2 L609.2 756.2 L610.9 750.4 L612.4 755.3 L614.4 735.9 L615.8 754.9 L617.1 732.0 L619.1 756.9 L621.2 739.1 L622.9 755.6 L624.5 736.6 L626.2 756.7 L627.7 732.6 L629.0 754.4 L630.8 736.3 L632.8 755.4 L634.8 735.8 L636.1 755.3 L637.4 739.1 L638.9 756.4 L640.4 731.3 L642.3 756.0 L644.3 750.7 L646.3 755.5 L648.1 731.4 L650.0 756.7 L651.7 735.4 L653.8 755.8 L655.5 732.1 L657.4 757.0 L659.1 733.3 L661.1 755.4 L662.5 733.1 L664.2 756.6 L666.3 745.9 L668.1 755.5 L670.1 748.4 L671.7 755.5 L673.9 735.2 L676.0 754.5 L678.1 733.1 L680.2 756.8 L681.9 737.5 L684.0 754.2 L685.5 731.5 L687.5 756.5 L689.5 731.0 L691.7 754.2 L693.4 732.8 L694.7 754.7 L696.1 756.8 L698.1 732.4 L700.0 732.2 L702.1 756.0 L703.9 741.1 L706.1 734.8 L707.5 733.3 L708.8 754.6 L711.0 737.5 L712.6 756.9 L714.5 740.0 L716.5 756.3 L718.2 734.6 L720.0 756.5 L721.8 737.2 L723.3 756.9 L724.7 732.8 L726.0 756.9 L728.1 753.6 L730.1 757.0 L731.9 745.0 L733.6 754.4 L735.2 734.3 L736.7 755.1 L738.9 737.2 L741.0 754.9 L742.5 731.8 L744.5 755.0 L746.0 737.4 L747.7 755.6 L749.9 734.5 L751.8 754.2 L753.9 753.2 L755.5 756.9 L757.0 734.6 L758.6 756.6 L760.3 733.0 L761.9 755.1 L764.0 736.7 L765.6 733.1 L767.2 745.0 L769.3 755.6 L771.4 736.5 L773.1 753.9 L774.7 734.1 L776.2 754.6 L778.1 740.1 L779.4 756.5 L780.9 733.6 L782.6 755.9 L784.3 731.6 L786.2 754.3 L788.2 731.2 L789.9 755.3 L791.9 733.2 L793.7 756.7 L795.4 731.6 L796.7 756.8 L798.5 731.6 L800.2 756.6 L801.8 737.5 L803.5 754.6 L805.6 731.9 L807.5 755.1 L809.6 736.7 L811.1 754.2 L812.6 732.3 L814.1 756.5 L815.5 737.0 L817.0 744.0 L818.6 736.6 L819.9 755.2 L821.4 732.7 L823.3 736.7 L825.0 734.7 L826.9 754.6 L828.8 732.2 L830.4 755.6 L832.3 751.5 L834.4 755.5 L835.9 736.9 L837.4 756.5 L839.0 737.6 L840.4 756.2 L842.4 744.7 L844.4 755.4 L846.5 733.9 L848.3 756.5 L849.7 736.0 L851.3 756.7 L853.0 737.5 L855.0 748.6 L857.0 733.3 L858.8 754.7 L860.6 745.4 L862.2 741.3 L863.6 733.7 L865.0 754.2 L866.5 733.6 L868.2 756.8 L870.0 738.2 L871.6 755.6 L873.3 733.9 L875.5 754.6 L877.2 732.3 L879.4 756.4 L881.5 731.7 L883.5 754.7 L885.7 733.2 L887.1 756.0 L888.9 733.5 L890.8 755.5 L892.5 736.3 L894.3 755.8 L895.6 732.1 L897.1 756.3 L899.3 736.6 L900.9 754.1 L902.9 737.1 L904.3 756.9 L906.0 745.1 L907.9 734.6 L909.8 731.2 L911.1 756.4 L912.8 737.6 L914.3 738.3 L916.3 744.5 L917.8 751.9 L919.5 736.3 L921.4 755.0 L923.1 736.3 L924.6 739.2 L926.4 734.6 L927.9 739.8 L929.4 734.8 L931.4 755.8 L933.3 734.4 L934.9 754.2 L936.6 731.7 L938.5 755.9 L939.9 740.5 L942.1 754.4 L943.8 732.6 L945.4 754.0 L946.7 735.7 L948.9 754.1 L950.4 734.1 L952.0 754.4 L953.3 756.1 L954.8 754.3 L956.6 736.1 L958.4 754.2 L960.2 732.8 L962.1 756.8 L964.0 734.7 L965.7 738.9 L967.7 732.7 L969.2 755.1 L971.2 737.3 L972.6 737.2 L974.5 735.0 L975.9 744.0 L977.4 736.8 L979.0 750.1 L981.0 733.4 L982.5 754.7 L984.0 735.0 L985.9 754.3 L987.7 733.5 L989.3 754.6 L991.2 735.7 L992.7 756.7 L994.6 751.2 L996.7 754.4 L998.9 732.9 L1001.0 736.6 L1003.1 733.8 L1004.8 756.8 L1006.0 737.3 L1007.7 756.9 L1009.0 736.9 L1010.5 756.8 L1012.6 733.2 L1014.1 755.6 L1015.8 734.3 L1017.8 756.8 L1019.9 731.5 L1021.3 754.5 L1023.5 737.0 L1024.8 754.5 L1026.4 732.9 L1027.8 756.8 L1029.7 731.7 L1031.4 755.0 L1033.2 746.0 L1034.5 756.6 L1035.9 739.2 L1037.7 755.2 L1039.3 734.2 L1040.9 756.3 L1042.3 732.1 L1044.1 755.1 L1046.1 733.5 L1047.7 754.0 L1049.5 734.3 L1051.2 756.1 L1053.4 731.8 L1054.8 756.4 L1056.2 734.6 L1058.2 756.6 L1059.5 750.6 L1061.2 756.2 L1063.4 735.5 L1065.2 754.2 L1066.6 731.6 L1068.1 736.5 L1070.1 731.2 L1072.2 754.6 L1074.2 735.1 L1076.1 754.0 L1077.9 737.4 L1079.7 754.4 L1081.4 734.4 L1082.8 756.2 L1084.9 732.9 L1086.3 756.7 L1088.0 734.4 L1089.5 755.0 L1091.5 755.1 L1093.5 755.8 L1095.7 733.8 L1097.0 755.1 L1098.7 737.3 L1100.4 756.0 L1102.2 734.3 L1103.9 756.5 L1106.0 733.0 L1107.3 755.5 L1109.2 732.3 L1110.6 755.7 L1111.9 732.2 L1114.1 755.4 L1115.6 735.4 L1117.5 754.0 L1119.3 731.3 L1120.8 754.9 L1122.7 734.3 L1124.4 745.4 L1126.0 734.5 L1127.3 733.4 L1129.4 734.8 L1131.3 750.5 L1132.8 738.4 L1134.3 756.6 L1136.1 732.0 L1138.1 754.2 L1140.1 737.1 L1142.0 756.9 L1143.5 731.8 L1145.6 754.3 L1147.2 736.8 L1149.1 737.9 L1150.8 733.8 L1152.8 756.2 L1154.8 733.4 L1156.7 756.4 L1158.4 735.1 L1160.5 754.0 L1162.2 732.3 L1163.9 756.9 L1165.7 736.8 L1167.2 756.5 L1169.4 736.0 L1170.8 756.0 L1172.8 734.8 L1174.4 754.9 L1176.3 733.5 L1178.0 755.9 L1179.5 737.5 L1181.5 754.8 L1183.5 736.4 L1185.0 756.2 L1186.6 734.9 L1188.5 756.3 L1189.8 734.8 L1191.7 755.7 L1193.0 736.2 L1194.9 754.9 L1196.2 734.5 L1198.4 756.4 L1200.4 733.5 L1201.8 756.6 L1203.8 731.5 L1205.1 755.7 L1206.4 733.8 L1208.3 754.9 L1209.9 736.9 L1211.2 737.6 L1213.2 731.8 L1215.3 755.8 L1217.3 736.4 L1219.1 755.0 L1221.3 736.1 L1222.8 756.4 L1224.3 756.4 L1226.0 756.7 L1227.4 736.2 L1228.9 754.1 L1230.7 733.0 L1232.2 740.1 L1234.3 737.2 L1236.1 754.8 L1237.5 736.7 L1239.5 735.5 L1241.4 751.3 L1243.5 756.6 L1245.3 736.8 L1247.1 733.3 L1248.6 756.2 L1250.4 756.2 L1251.9 736.8 L1253.4 754.4 L1255.5 736.3 L1257.3 754.3 L1259.0 755.1 L1260.3 756.9 L1262.4 736.4 L1264.1 756.1 L1266.1 731.7 L1268.0 754.2 L1269.5 731.4 L1270.8 754.8 L1273.0 735.2 L1275.1 756.1 L1276.6 732.0 L1278.0 756.2 L1279.9 734.6 L1281.3 754.8 L1282.8 735.4 L1284.4 756.9 L1286.6 734.5 L1288.5 754.6 L1290.3 734.1 L1292.4 756.4 L1293.8 735.6 L1296.0 756.4 L1297.6 735.7 L1299.2 755.3 L1301.4 734.5 L1303.0 756.1 L1305.0 756.1 L1306.8 754.8 L1308.2 732.5 L1310.1 733.8 L1311.7 734.3 L1313.3 756.2 L1314.8 746.4 L1316.3 754.1 L1318.1 735.0 L1320.2 731.1" fill="none" stroke="#4a90c6" stroke-width="1" stroke-linejoin="round"/><path d="M169.3 733.9 L171.1 757.3 L172.7 737.3 L173.9 756.6 L175.4 744.8 L177.2 757.2 L179.1 747.3 L181.1 757.6 L182.6 733.2 L184.2 758.0 L185.5 734.4 L186.9 756.6 L188.6 737.2 L190.6 741.8 L192.4 737.7 L193.9 759.0 L195.3 736.9 L197.2 758.0 L198.4 734.6 L199.9 757.0 L201.7 737.5 L203.2 758.0 L204.8 735.6 L206.0 756.6 L208.0 736.9 L209.3 758.0 L211.1 736.6 L212.5 758.0 L214.1 736.0 L215.8 753.8 L217.6 738.8 L219.5 758.1 L221.0 733.4 L222.6 757.1 L224.2 735.4 L225.8 758.4 L227.4 733.2 L228.7 758.3 L230.6 738.3 L231.9 759.0 L233.2 753.0 L234.5 756.8 L236.0 747.0 L237.3 757.3 L238.9 735.1 L240.0 757.7 L241.4 733.7 L243.0 757.1 L244.8 736.9 L246.6 757.0 L248.3 736.6 L250.3 758.9 L251.7 737.3 L253.3 757.5 L254.5 735.0 L256.5 757.4 L257.9 739.2 L259.4 756.3 L260.6 738.4 L262.2 757.0 L264.2 737.6 L265.7 757.5 L267.5 735.9 L268.7 758.5 L270.3 735.1 L272.2 756.6 L273.7 739.5 L275.1 757.1 L277.0 739.2 L278.9 758.6 L280.9 734.5 L282.1 757.0 L283.5 738.0 L285.4 757.6 L286.8 738.7 L288.8 747.6 L290.0 756.0 L291.8 759.0 L293.5 738.2 L295.2 740.1 L297.1 736.7 L298.7 757.3 L300.5 733.1 L301.8 756.8 L303.0 734.6 L304.5 739.4 L306.3 733.7 L307.8 759.4 L309.2 734.7 L310.4 733.3 L312.4 735.0 L314.0 757.2 L316.0 738.7 L317.6 759.4 L319.4 737.4 L321.0 757.4 L322.3 734.9 L323.8 758.5 L325.8 735.6 L327.2 757.5 L329.1 735.0 L330.8 758.2 L332.1 733.1 L333.3 735.0 L335.1 734.9 L336.6 746.3 L338.5 733.5 L339.8 758.8 L341.6 746.6 L343.6 757.4 L344.9 741.4 L346.8 758.9 L348.7 737.9 L350.0 751.9 L351.7 758.5 L353.6 758.1 L355.5 736.0 L356.9 750.1 L358.4 742.4 L359.7 756.9 L361.6 735.6 L363.3 747.0 L364.9 737.3 L366.6 758.7 L368.2 736.2 L369.7 758.2 L371.7 734.8 L372.9 756.7 L374.8 734.1 L376.7 757.4 L378.6 735.5 L380.4 758.3 L382.3 739.3 L383.6 757.3 L385.3 751.1 L387.0 757.5 L388.3 759.0 L390.2 758.4 L392.1 753.6 L394.0 758.5 L395.5 739.1 L397.0 758.9 L398.3 757.1 L400.3 756.9 L401.8 733.8 L403.2 738.0 L404.7 733.1 L406.4 759.0 L407.8 736.6 L409.5 757.3 L411.3 738.3 L412.9 758.0 L414.8 736.8 L416.2 756.8 L417.4 737.9 L419.4 758.8 L420.7 736.3 L422.1 758.0 L423.7 733.0 L425.3 757.4 L427.1 737.5 L428.8 757.6 L430.0 734.8 L431.9 759.0 L433.9 736.0 L435.4 758.7 L436.8 734.1 L438.5 743.3 L440.0 735.7 L441.6 758.7 L443.4 736.3 L445.2 758.4 L446.7 737.2 L448.6 758.8 L450.4 738.4 L451.9 757.3 L453.8 755.1 L455.4 746.5 L457.2 735.8 L458.9 756.6 L460.9 737.6 L462.6 758.3 L464.0 738.8 L465.2 759.0 L466.7 736.4 L468.0 758.5 L469.8 734.8 L471.2 753.9 L473.1 735.2 L475.1 758.6 L476.3 738.9 L477.7 757.8 L479.5 734.3 L480.8 759.4 L482.8 737.8 L484.2 736.7 L485.9 735.4 L487.3 758.7 L488.7 733.7 L490.3 756.8 L491.5 736.9 L492.9 756.6 L494.7 739.4 L496.2 751.4 L497.4 735.6 L498.9 757.0 L500.8 736.1 L502.1 758.6 L503.8 739.0 L505.0 758.9 L506.4 735.5 L508.4 757.7 L510.2 734.0 L511.3 756.9 L512.6 745.3 L514.4 734.6 L516.3 733.3 L517.6 749.9 L519.4 737.5 L521.1 757.7 L523.1 737.2 L524.3 759.3 L525.8 737.0 L527.4 756.7 L528.9 734.3 L530.4 758.5 L532.2 737.8 L533.6 757.3 L535.5 735.4 L537.3 757.9 L539.3 733.3 L540.9 756.9 L542.6 746.9 L543.9 733.9 L545.4 737.8 L546.6 758.9 L548.5 735.0 L549.9 758.2 L551.4 738.2 L553.0 756.8 L554.6 739.5 L556.4 758.6 L558.4 738.5 L559.7 757.6 L560.9 735.3 L562.1 758.9 L563.5 735.0 L565.0 758.7 L566.6 734.0 L568.0 759.0 L569.6 739.0 L571.6 758.9 L573.5 746.9 L575.2 759.5 L577.0 737.9 L578.9 758.4 L580.5 739.5 L581.8 756.9 L583.4 739.0 L584.9 735.6 L586.6 739.9 L588.3 734.9 L590.2 755.8 L591.3 757.6 L593.1 734.9 L594.8 759.1 L596.3 737.5 L598.3 758.9 L600.1 739.6 L601.5 758.7 L603.1 736.2 L605.0 758.9 L606.2 738.6 L607.5 757.4 L608.7 733.8 L610.6 758.7 L612.2 736.8 L613.8 758.1 L615.8 735.7 L617.2 757.4 L618.9 736.6 L620.2 758.4 L622.0 736.7 L623.5 759.3 L625.2 738.9 L627.1 757.7 L628.9 735.5 L630.5 757.5 L631.8 735.3 L632.9 757.0 L634.8 736.9 L636.9 757.3 L638.6 737.6 L640.5 758.0 L642.1 739.4 L643.3 756.9 L644.7 733.2 L646.2 759.4 L648.0 749.2 L650.0 758.1 L651.5 739.2 L652.7 758.2 L654.5 733.8 L655.9 757.9 L657.8 738.2 L659.0 757.7 L660.4 736.4 L661.7 743.2 L663.6 734.3 L665.1 759.2 L666.5 736.3 L668.2 757.1 L669.6 759.2 L671.3 759.3 L672.7 736.6 L674.5 759.0 L675.9 737.7 L677.2 757.1 L678.9 739.3 L680.5 756.9 L681.9 737.6 L683.3 757.6 L684.7 737.0 L686.7 758.6 L687.9 735.2 L689.6 758.9 L691.0 736.3 L692.3 756.9 L693.5 736.6 L695.2 758.6 L696.5 736.7 L698.0 741.1 L699.7 733.6 L701.5 759.5 L703.1 741.7 L704.4 757.3 L706.2 752.2 L707.4 757.5 L708.6 743.6 L710.6 758.4 L712.3 734.8 L713.7 759.3 L715.6 737.2 L717.3 759.1 L719.0 737.1 L720.7 758.1 L722.6 737.2 L723.8 738.7 L725.3 736.6 L726.7 758.1 L728.2 733.7 L729.9 758.1 L731.8 737.8 L733.0 757.4 L734.3 756.3 L735.7 759.0 L737.1 755.5 L738.6 748.9 L740.0 737.4 L741.7 756.5 L743.6 737.2 L745.3 759.1 L747.1 737.0 L749.0 757.7 L750.2 751.7 L751.4 736.7 L753.0 735.4 L755.0 759.2 L756.9 738.4 L758.7 757.2 L760.2 734.0 L762.1 757.4 L763.6 737.3 L765.4 756.7 L766.9 734.9 L768.4 758.6 L770.0 733.4 L771.9 757.0 L773.5 735.3 L775.5 756.6 L777.0 752.0 L778.2 757.5 L780.0 738.2 L781.5 758.0 L783.3 734.3 L784.9 758.2 L786.8 734.0 L788.1 737.8 L789.9 737.4 L791.3 757.0 L793.2 743.5 L794.9 758.7 L796.5 754.3 L798.5 759.2 L799.9 734.6 L801.9 748.5 L803.5 735.8 L805.5 758.7 L807.2 737.3 L808.6 750.1 L810.1 736.7 L811.7 759.4 L812.8 739.3 L814.2 757.7 L816.2 737.7 L817.8 757.8 L819.4 734.1 L820.9 757.1 L822.3 734.0 L824.2 758.8 L826.0 739.8 L827.5 757.3 L828.7 733.9 L830.1 758.9 L831.4 735.8 L833.1 758.2 L834.4 753.8 L835.6 758.7 L837.3 747.3 L838.6 757.2 L840.0 737.4 L841.4 759.0 L843.2 735.3 L844.5 759.0 L846.0 734.9 L847.7 758.3 L849.1 733.4 L850.5 758.9 L852.2 733.7 L853.9 757.2 L855.5 733.8 L857.2 759.0 L859.2 733.9 L860.6 738.3 L862.4 735.5 L864.1 757.3 L865.8 739.1 L867.7 759.4 L869.2 755.0 L870.5 758.2 L871.7 734.4 L873.3 759.3 L874.6 744.2 L876.1 759.4 L877.4 736.4 L878.8 757.6 L880.8 757.0 L882.3 736.9 L884.2 746.3 L886.3 759.0 L888.3 738.3 L890.0 757.7 L891.5 739.2 L893.5 757.9 L895.1 748.6 L897.0 757.3 L898.9 738.1 L900.9 758.9 L902.1 756.9 L903.6 757.6 L905.3 736.8 L907.0 759.0 L908.6 737.3 L910.0 757.1 L911.3 733.7 L912.9 759.0 L914.8 734.7 L916.5 759.0 L918.5 736.6 L920.2 757.8 L921.6 733.5 L923.3 757.3 L924.7 736.2 L926.2 759.1 L928.0 733.5 L930.0 744.7 L931.5 741.4 L933.3 748.6 L935.0 738.8 L937.0 736.4 L938.6 733.8 L940.0 756.7 L941.4 739.4 L942.8 759.0 L944.0 734.7 L945.1 754.7 L946.3 736.5 L947.7 758.0 L949.2 737.3 L950.5 758.6 L952.5 735.8 L953.7 749.6 L955.4 739.3 L957.2 744.1 L958.9 738.3 L960.8 758.2 L962.4 736.2 L964.1 759.1 L965.6 738.5 L967.2 758.2 L968.9 734.7 L970.6 756.6 L972.5 734.5 L974.3 759.3 L976.0 735.5 L977.7 757.6 L978.8 738.0 L980.3 756.5 L981.9 738.2 L983.3 759.2 L985.0 733.8 L987.0 758.3 L988.9 737.6 L990.8 758.0 L992.2 734.9 L993.8 757.9 L995.1 734.3 L996.8 758.4 L998.1 735.6 L999.4 759.5 L1001.3 733.0 L1002.8 758.0 L1003.9 735.4 L1005.8 758.0 L1007.5 736.9 L1009.2 741.2 L1010.4 736.2 L1012.3 758.7 L1014.3 734.7 L1015.7 756.8 L1017.3 733.9 L1019.3 734.6 L1021.0 733.2 L1022.7 733.2 L1024.0 734.3 L1025.6 757.3 L1027.0 738.9 L1028.6 757.9 L1030.1 733.1 L1031.8 758.8 L1033.1 754.1 L1035.1 756.9 L1036.3 733.3 L1037.8 758.3 L1039.6 738.4 L1041.4 756.8 L1043.3 734.5 L1044.7 757.8 L1045.9 734.7 L1047.3 757.9 L1049.0 737.1 L1050.5 757.8 L1052.4 738.8 L1054.1 754.1 L1056.0 736.5 L1058.0 758.8 L1059.5 735.3 L1061.1 737.5 L1062.7 738.8 L1064.0 757.9 L1065.3 733.5 L1066.7 755.7 L1068.1 735.8 L1070.0 759.2 L1071.7 733.5 L1073.4 759.5 L1074.7 735.3 L1076.3 759.1 L1078.1 737.1 L1079.6 756.9 L1080.8 734.8 L1082.7 757.1 L1084.6 735.2 L1086.1 756.6 L1087.9 736.6 L1089.3 739.0 L1090.8 736.4 L1092.4 759.2 L1093.9 738.8 L1095.5 758.0 L1097.0 733.5 L1098.8 756.9 L1100.1 742.5 L1101.8 758.5 L1103.0 737.2 L1104.5 758.2 L1106.2 741.4 L1107.8 742.7 L1109.4 741.4 L1111.2 758.2 L1112.9 738.9 L1114.5 734.7 L1116.2 737.8 L1117.7 757.4 L1119.0 735.0 L1121.0 757.4 L1122.2 735.8 L1123.6 757.6 L1125.2 736.8 L1126.9 757.5 L1128.4 736.4 L1130.4 757.7 L1132.2 739.4 L1134.0 757.2 L1135.2 736.3 L1137.0 759.3 L1138.6 747.6 L1140.2 748.6 L1141.5 737.8 L1143.0 758.6 L1144.4 733.6 L1145.9 757.0 L1147.8 739.3 L1149.7 757.0 L1150.9 734.5 L1152.1 758.5 L1154.1 739.9 L1156.1 757.5 L1158.1 737.1 L1159.7 757.8 L1161.3 734.1 L1163.3 758.3 L1164.7 759.0 L1166.0 757.6 L1167.8 737.1 L1169.6 757.8 L1170.8 743.3 L1172.4 757.0 L1174.3 733.2 L1176.3 757.8 L1178.2 748.8 L1179.5 758.8 L1181.4 733.4 L1182.7 759.0 L1184.6 745.4 L1186.6 757.9 L1187.9 736.6 L1189.8 758.7 L1191.1 734.0 L1192.8 757.2 L1194.1 736.0 L1195.4 737.0 L1196.9 735.1 L1198.0 758.0 L1199.8 735.0 L1201.3 746.0 L1202.8 736.0 L1204.4 757.4 L1206.4 736.7 L1208.2 757.5 L1209.7 736.2 L1211.4 757.2 L1212.7 736.9 L1214.5 759.2 L1216.0 739.2 L1217.4 758.3 L1219.0 738.2 L1220.4 757.2 L1222.1 743.3 L1224.0 759.4 L1225.9 738.5 L1227.1 758.3 L1228.9 734.9 L1230.7 756.8 L1232.0 736.5 L1234.0 744.6 L1235.6 737.2 L1237.6 759.3 L1238.9 758.7 L1240.2 736.5 L1241.6 738.2 L1243.1 756.9 L1244.4 734.6 L1246.0 747.1 L1247.6 733.9 L1248.9 759.2 L1250.1 736.1 L1252.0 758.7 L1254.0 733.0 L1255.2 759.0 L1257.0 738.4 L1258.3 752.0 L1260.3 736.5 L1262.0 756.9 L1263.5 738.0 L1264.9 758.1 L1266.2 750.7 L1267.7 758.3 L1268.9 738.4 L1270.1 757.8 L1271.6 738.7 L1273.3 759.2 L1275.0 733.3 L1276.7 758.1 L1278.2 738.6 L1279.9 733.5 L1281.2 734.9 L1282.4 756.7 L1284.4 735.8 L1286.0 756.8 L1287.8 739.2 L1289.4 757.7 L1291.0 736.2 L1292.5 756.7 L1294.4 735.8 L1296.4 756.8 L1297.6 736.4 L1299.0 757.4 L1300.6 736.7 L1301.8 758.3 L1303.5 735.9 L1305.5 757.5 L1307.1 736.5 L1308.4 758.6 L1310.1 734.2 L1311.8 758.8 L1313.3 737.5 L1314.9 758.4 L1316.1 734.0 L1318.0 759.0 L1319.9 738.2 L1321.3 756.8" fill="none" stroke="#55a53a" stroke-width="1.05" stroke-linejoin="round"/><path d="M169.3 748V730.6H169.3V759.4H169.3V730.6H169.3V759.4H169.3V730.6H169.3V759.4H169.3V730.6H169.3V759.4H169.3V753.3H169.3V759.4H169.3V747.4H169.3V759.4H169.3V747.4H169.3V759.4H169.3V747.4H169.3V759.4H169.3V742.2H169.3V759.4H169.3V742.2H169.3V759.4H169.3V742.2H169.3V759.4H169.3V736.3H169.3V759.4H169.3V736.3H169.5V759.4H170.2V730.6H173.4V759.4H174.1V730.6H177.3V759.4H178.0V730.6H181.2V759.4H181.9V730.6H185.1V759.4H185.8V753.3H188.3V759.4H189.0V747.4H191.4V759.4H192.1V747.4H194.4V759.4H195.1V747.4H197.5V759.4H198.2V742.2H200.8V759.4H201.5V742.2H204.0V759.4H204.7V742.2H207.3V759.4H208.0V736.3H211.3V759.4H212.0V736.3H215.3V759.4H216.0V730.6H219.2V759.4H219.9V730.6H223.1V759.4H223.8V730.6H227.0V759.4H227.7V730.6H230.9V759.4H231.6V753.3H234.1V759.4H234.8V747.4H237.2V759.4H237.9V747.4H240.2V759.4H240.9V747.4H243.3V759.4H244.0V742.2H246.6V759.4H247.3V742.2H249.8V759.4H250.5V742.2H253.1V759.4H253.8V736.3H257.1V759.4H257.8V736.3H261.1V759.4H261.8V730.6H265.0V759.4H265.7V730.6H268.9V759.4H269.6V730.6H272.8V759.4H273.5V730.6H276.7V759.4H277.4V753.3H279.9V759.4H280.6V747.4H283.0V759.4H283.7V747.4H286.0V759.4H286.7V747.4H289.1V759.4H289.8V742.2H292.4V759.4H293.1V742.2H295.6V759.4H296.3V742.2H298.9V759.4H299.6V736.3H302.9V759.4H303.6V736.3H306.9V759.4H307.6V730.6H310.8V759.4H311.5V730.6H314.7V759.4H315.4V730.6H318.6V759.4H319.3V730.6H322.5V759.4H323.2V753.3H325.7V759.4H326.4V747.4H328.8V759.4H329.5V747.4H331.8V759.4H332.5V747.4H334.9V759.4H335.6V742.2H338.2V759.4H338.9V742.2H341.4V759.4H342.1V742.2H344.7V759.4H345.4V736.3H348.7V759.4H349.4V736.3H352.7V759.4H353.4V730.6H356.6V759.4H357.3V730.6H360.5V759.4H361.2V730.6H364.4V759.4H365.1V730.6H368.3V759.4H369.0V753.3H371.5V759.4H372.2V747.4H374.6V759.4H375.3V747.4H377.6V759.4H378.3V747.4H380.7V759.4H381.4V742.2H384.0V759.4H384.7V742.2H387.2V759.4H387.9V742.2H390.5V759.4H391.2V736.3H394.5V759.4H395.2V736.3H398.5V759.4H399.2V730.6H402.4V759.4H403.1V730.6H406.3V759.4H407.0V730.6H410.2V759.4H410.9V730.6H414.1V759.4H414.8V753.3H417.3V759.4H418.0V747.4H420.4V759.4H421.1V747.4H423.4V759.4H424.1V747.4H426.5V759.4H427.2V742.2H429.8V759.4H430.5V742.2H433.0V759.4H433.7V742.2H436.3V759.4H437.0V736.3H440.3V759.4H441.0V736.3H444.3V759.4H445.0V730.6H448.2V759.4H448.9V730.6H452.1V759.4H452.8V730.6H456.0V759.4H456.7V730.6H459.9V759.4H460.6V753.3H463.1V759.4H463.8V747.4H466.2V759.4H466.9V747.4H469.2V759.4H469.9V747.4H472.3V759.4H473.0V742.2H475.6V759.4H476.3V742.2H478.8V759.4H479.5V742.2H482.1V759.4H482.8V736.3H486.1V759.4H486.8V736.3H490.1V759.4H490.8V730.6H494.0V759.4H494.7V730.6H497.9V759.4H498.6V730.6H501.8V759.4H502.5V730.6H505.7V759.4H506.4V753.3H508.9V759.4H509.6V747.4H512.0V759.4H512.7V747.4H515.0V759.4H515.7V747.4H518.1V759.4H518.8V742.2H521.4V759.4H522.1V742.2H524.6V759.4H525.3V742.2H527.9V759.4H528.6V736.3H531.9V759.4H532.6V736.3H535.9V759.4H536.6V730.6H539.8V759.4H540.5V730.6H543.7V759.4H544.4V730.6H547.6V759.4H548.3V730.6H551.5V759.4H552.2V753.3H554.7V759.4H555.4V747.4H557.8V759.4H558.5V747.4H560.8V759.4H561.5V747.4H563.9V759.4H564.6V742.2H567.2V759.4H567.9V742.2H570.4V759.4H571.1V742.2H573.7V759.4H574.4V736.3H577.7V759.4H578.4V736.3H581.7V759.4H582.4V730.6H585.6V759.4H586.3V730.6H589.5V759.4H590.2V730.6H593.4V759.4H594.1V730.6H597.3V759.4H598.0V753.3H600.5V759.4H601.2V747.4H603.6V759.4H604.3V747.4H606.6V759.4H607.3V747.4H609.7V759.4H610.4V742.2H613.0V759.4H613.7V742.2H616.2V759.4H616.9V742.2H619.5V759.4H620.2V736.3H623.5V759.4H624.2V736.3H627.5V759.4H628.2V730.6H631.4V759.4H632.1V730.6H635.3V759.4H636.0V730.6H639.2V759.4H639.9V730.6H643.1V759.4H643.8V753.3H646.3V759.4H647.0V747.4H649.4V759.4H650.1V747.4H652.4V759.4H653.1V747.4H655.5V759.4H656.2V742.2H658.8V759.4H659.5V742.2H662.0V759.4H662.7V742.2H665.3V759.4H666.0V736.3H669.3V759.4H670.0V736.3H673.3V759.4H674.0V730.6H677.2V759.4H677.9V730.6H681.1V759.4H681.8V730.6H685.0V759.4H685.7V730.6H688.9V759.4H689.6V753.3H692.1V759.4H692.8V747.4H695.2V759.4H695.9V747.4H698.2V759.4H698.9V747.4H701.3V759.4H702.0V742.2H704.6V759.4H705.3V742.2H707.8V759.4H708.5V742.2H711.1V759.4H711.8V736.3H715.1V759.4H715.8V736.3H719.1V759.4H719.8V730.6H723.0V759.4H723.7V730.6H726.9V759.4H727.6V730.6H730.8V759.4H731.5V730.6H734.7V759.4H735.4V753.3H737.9V759.4H738.6V747.4H741.0V759.4H741.7V747.4H744.0V759.4H744.7V747.4H747.1V759.4H747.8V742.2H750.4V759.4H751.1V742.2H753.6V759.4H754.3V742.2H756.9V759.4H757.6V736.3H760.9V759.4H761.6V736.3H764.9V759.4H765.6V730.6H768.8V759.4H769.5V730.6H772.7V759.4H773.4V730.6H776.6V759.4H777.3V730.6H780.5V759.4H781.2V753.3H783.7V759.4H784.4V747.4H786.8V759.4H787.5V747.4H789.8V759.4H790.5V747.4H792.9V759.4H793.6V742.2H796.2V759.4H796.9V742.2H799.4V759.4H800.1V742.2H802.7V759.4H803.4V736.3H806.7V759.4H807.4V736.3H810.7V759.4H811.4V730.6H814.6V759.4H815.3V730.6H818.5V759.4H819.2V730.6H822.4V759.4H823.1V730.6H826.3V759.4H827.0V753.3H829.5V759.4H830.2V747.4H832.6V759.4H833.3V747.4H835.6V759.4H836.3V747.4H838.7V759.4H839.4V742.2H842.0V759.4H842.7V742.2H845.2V759.4H845.9V742.2H848.5V759.4H849.2V736.3H852.5V759.4H853.2V736.3H856.5V759.4H857.2V730.6H860.4V759.4H861.1V730.6H864.3V759.4H865.0V730.6H868.2V759.4H868.9V730.6H872.1V759.4H872.8V753.3H875.3V759.4H876.0V747.4H878.4V759.4H879.1V747.4H881.4V759.4H882.1V747.4H884.5V759.4H885.2V742.2H887.8V759.4H888.5V742.2H891.0V759.4H891.7V742.2H894.3V759.4H895.0V736.3H898.3V759.4H899.0V736.3H902.3V759.4H903.0V730.6H906.2V759.4H906.9V730.6H910.1V759.4H910.8V730.6H914.0V759.4H914.7V730.6H917.9V759.4H918.6V753.3H921.1V759.4H921.8V747.4H924.2V759.4H924.9V747.4H927.2V759.4H927.9V747.4H930.3V759.4H931.0V742.2H933.6V759.4H934.3V742.2H936.8V759.4H937.5V742.2H940.1V759.4H940.8V736.3H944.1V759.4H944.8V736.3H948.1V759.4H948.8V730.6H952.0V759.4H952.7V730.6H955.9V759.4H956.6V730.6H959.8V759.4H960.5V730.6H963.7V759.4H964.4V753.3H966.9V759.4H967.6V747.4H970.0V759.4H970.7V747.4H973.0V759.4H973.7V747.4H976.1V759.4H976.8V742.2H979.4V759.4H980.1V742.2H982.6V759.4H983.3V742.2H985.9V759.4H986.6V736.3H989.9V759.4H990.6V736.3H993.9V759.4H994.6V730.6H997.8V759.4H998.5V730.6H1001.7V759.4H1002.4V730.6H1005.6V759.4H1006.3V730.6H1009.5V759.4H1010.2V753.3H1012.7V759.4H1013.4V747.4H1015.8V759.4H1016.5V747.4H1018.8V759.4H1019.5V747.4H1021.9V759.4H1022.6V742.2H1025.2V759.4H1025.9V742.2H1028.4V759.4H1029.1V742.2H1031.7V759.4H1032.4V736.3H1035.7V759.4H1036.4V736.3H1039.7V759.4H1040.4V730.6H1043.6V759.4H1044.3V730.6H1047.5V759.4H1048.2V730.6H1051.4V759.4H1052.1V730.6H1055.3V759.4H1056.0V753.3H1058.5V759.4H1059.2V747.4H1061.6V759.4H1062.3V747.4H1064.6V759.4H1065.3V747.4H1067.7V759.4H1068.4V742.2H1071.0V759.4H1071.7V742.2H1074.2V759.4H1074.9V742.2H1077.5V759.4H1078.2V736.3H1081.5V759.4H1082.2V736.3H1085.5V759.4H1086.2V730.6H1089.4V759.4H1090.1V730.6H1093.3V759.4H1094.0V730.6H1097.2V759.4H1097.9V730.6H1101.1V759.4H1101.8V753.3H1104.3V759.4H1105.0V747.4H1107.4V759.4H1108.1V747.4H1110.4V759.4H1111.1V747.4H1113.5V759.4H1114.2V742.2H1116.8V759.4H1117.5V742.2H1120.0V759.4H1120.7V742.2H1123.3V759.4H1124.0V736.3H1127.3V759.4H1128.0V736.3H1131.3V759.4H1132.0V730.6H1135.2V759.4H1135.9V730.6H1139.1V759.4H1139.8V730.6H1143.0V759.4H1143.7V730.6H1146.9V759.4H1147.6V753.3H1150.1V759.4H1150.8V747.4H1153.2V759.4H1153.9V747.4H1156.2V759.4H1156.9V747.4H1159.3V759.4H1160.0V742.2H1162.6V759.4H1163.3V742.2H1165.8V759.4H1166.5V742.2H1169.1V759.4H1169.8V736.3H1173.1V759.4H1173.8V736.3H1177.1V759.4H1177.8V730.6H1181.0V759.4H1181.7V730.6H1184.9V759.4H1185.6V730.6H1188.8V759.4H1189.5V730.6H1192.7V759.4H1193.4V753.3H1195.9V759.4H1196.6V747.4H1199.0V759.4H1199.7V747.4H1202.0V759.4H1202.7V747.4H1205.1V759.4H1205.8V742.2H1208.4V759.4H1209.1V742.2H1211.6V759.4H1212.3V742.2H1214.9V759.4H1215.6V736.3H1218.9V759.4H1219.6V736.3H1222.9V759.4H1223.6V730.6H1226.8V759.4H1227.5V730.6H1230.7V759.4H1231.4V730.6H1234.6V759.4H1235.3V730.6H1238.5V759.4H1239.2V753.3H1241.7V759.4H1242.4V747.4H1244.8V759.4H1245.5V747.4H1247.8V759.4H1248.5V747.4H1250.9V759.4H1251.6V742.2H1254.2V759.4H1254.9V742.2H1257.4V759.4H1258.1V742.2H1260.7V759.4H1261.4V736.3H1264.7V759.4H1265.4V736.3H1268.7V759.4H1269.4V730.6H1272.6V759.4H1273.3V730.6H1276.5V759.4H1277.2V730.6H1280.4V759.4H1281.1V730.6H1284.3V759.4H1285.0V753.3H1287.5V759.4H1288.2V747.4H1290.6V759.4H1291.3V747.4H1293.6V759.4H1294.3V747.4H1296.7V759.4H1297.4V742.2H1300.0V759.4H1300.7V742.2H1303.2V759.4H1303.9V742.2H1306.5V759.4H1307.2V736.3H1310.5V759.4H1311.2V736.3H1314.5V759.4H1315.2V730.6H1318.4V759.4H1319.1V730.6H1321.5V759.4H1321.5V730.6H1321.5V759.4H1321.5V730.6H1321.5V759.4H1321.5V753.3H1321.5V759.4H1321.5V747.4H1321.5V759.4H1321.5V747.4H1321.5V759.4H1321.5V747.4H1321.5V759.4H1321.5V742.2H1321.5V759.4H1321.5V742.2H1321.5V759.4H1321.5V742.2H1321.5V759.4H1321.5V736.3H1321.5V759.4H1321.5V736.3H1321.5V759.4H1321.5" fill="none" stroke="#d6317c" stroke-width="0.85"/><rect x="635.5" y="732" width="9.5" height="26.5" fill="#222" fill-opacity=".9"/><rect x="668" y="732" width="6.5" height="26.5" fill="#222" fill-opacity=".9"/><path d="M635.5 758.5 H674.5" stroke="#222" stroke-width="1.2"/><rect x="642" y="729.8" width="32.8" height="42.2" rx="3" fill="none" stroke="#555" stroke-width="1.4"/><rect x="642.8" y="760.4" width="31.2" height="10.8" rx="2" fill="#fff"/><path d="M656.8 763.2 V768.8 M659.6 763.2 V768.8" stroke="#666" stroke-width="1.1"/><path d="M169.9 777.5 V774.6 H1320.9 V777.5" fill="none" stroke="#666" stroke-width="1.3"/><path d="M198.5 774.6 V778.4" stroke="#666" stroke-width="1.2"/><path d="M289 774.6 V778.4" stroke="#666" stroke-width="1.2"/><path d="M379.5 774.6 V778.4" stroke="#666" stroke-width="1.2"/><path d="M470 774.6 V778.4" stroke="#666" stroke-width="1.2"/><path d="M561 774.6 V778.4" stroke="#666" stroke-width="1.2"/><path d="M651.3 774.6 V778.4" stroke="#666" stroke-width="1.2"/><path d="M741.8 774.6 V778.4" stroke="#666" stroke-width="1.2"/><path d="M832.4 774.6 V778.4" stroke="#666" stroke-width="1.2"/><path d="M923 774.6 V778.4" stroke="#666" stroke-width="1.2"/><path d="M1013.4 774.6 V778.4" stroke="#666" stroke-width="1.2"/><path d="M1104 774.6 V778.4" stroke="#666" stroke-width="1.2"/><path d="M1194.4 774.6 V778.4" stroke="#666" stroke-width="1.2"/><path d="M1285 774.6 V778.4" stroke="#666" stroke-width="1.2"/></svg>
<span style="left:187.00px;top:774.72px;font-size:10.2px;color:#222;letter-spacing:-0.725px;">Sat, 5</span>
<span style="left:274.10px;top:774.72px;font-size:10.2px;color:#222;letter-spacing:-0.271px;">Mon, 7</span>
<span style="left:364.60px;top:774.72px;font-size:10.2px;color:#222;letter-spacing:-0.459px;">Wed, 9</span>
<span style="left:456.70px;top:774.72px;font-size:10.2px;color:#222;letter-spacing:-0.254px;">Fri, 11</span>
<span style="left:547.00px;top:774.72px;font-size:10.2px;color:#222;letter-spacing:-0.519px;">13 Jan</span>
<span style="left:636.15px;top:774.72px;font-size:10.2px;color:#222;letter-spacing:-0.645px;">Tue, 15</span>
<span style="left:726.10px;top:774.72px;font-size:10.2px;color:#222;letter-spacing:-0.527px;">Thu, 17</span>
<span style="left:818.05px;top:774.72px;font-size:10.2px;color:#222;letter-spacing:-0.599px;">Sat, 19</span>
<span style="left:905.45px;top:774.72px;font-size:10.2px;color:#222;letter-spacing:-0.285px;">Mon, 21</span>
<span style="left:995.45px;top:774.72px;font-size:10.2px;color:#222;letter-spacing:-0.311px;">Wed, 23</span>
<span style="left:1090.40px;top:774.72px;font-size:10.2px;color:#222;letter-spacing:-0.279px;">Fri, 25</span>
<span style="left:1180.60px;top:774.72px;font-size:10.2px;color:#222;letter-spacing:-0.599px;">27 Jan</span>
<span style="left:1269.50px;top:774.72px;font-size:10.2px;color:#222;letter-spacing:-0.529px;">Tue, 29</span>
<div style="left:169.3px;top:798px;width:244px;height:24px;background:#fff;border:1px solid #dcdcdc;border-radius:3px;"></div>
<span style="left:178.13px;top:800.04px;font-size:12.4px;color:#222;letter-spacing:-0.2px;">1D</span>
<div style="left:202.2px;top:799px;width:1px;height:22px;background:#dcdcdc;"></div>
<span style="left:211.35px;top:800.04px;font-size:12.4px;color:#222;letter-spacing:-0.2px;">1W</span>
<div style="left:238.5px;top:799px;width:1px;height:22px;background:#dcdcdc;"></div>
<span style="left:247.59px;top:800.04px;font-size:12.4px;color:#222;letter-spacing:-0.2px;">1M</span>
<div style="left:273.3px;top:799px;width:1px;height:22px;background:#dcdcdc;"></div>
<span style="left:282.54px;top:800.04px;font-size:12.4px;color:#222;letter-spacing:-0.2px;">3M</span>
<div style="left:308.4px;top:799px;width:1px;height:22px;background:#dcdcdc;"></div>
<span style="left:317.49px;top:800.04px;font-size:12.4px;color:#222;letter-spacing:-0.2px;">6M</span>
<div style="left:343.2px;top:799px;width:1px;height:22px;background:#dcdcdc;"></div>
<span style="left:351.77px;top:800.04px;font-size:12.4px;color:#222;letter-spacing:-0.2px;">1Y</span>
<div style="left:374.9px;top:799px;width:1px;height:22px;background:#dcdcdc;"></div>
<span style="left:382.98px;top:800.04px;font-size:12.4px;color:#222;letter-spacing:-0.2px;">ALL</span>
<div style="left:429.2px;top:798px;width:104px;height:24px;background:#fff;border:1px solid #dcdcdc;border-radius:3px;"></div>
<div style="left:430px;top:799px;width:79px;height:22px;background:#eff5fb;border-radius:2px 0 0 2px;"></div>
<div style="left:509px;top:799px;width:1px;height:22px;background:#dcdcdc;"></div>
<span style="left:438.20px;top:800.04px;font-size:12.4px;color:#1f57b5;letter-spacing:-0.594px;">CUSTOM</span>
<svg style="left:495.3px;top:807.8px" width="8" height="4"><path d="M0 3.9 L7.4 3.9 L3.7 0.1 Z" fill="#a0a0a0"/></svg>
<svg style="left:514.8px;top:805.2px" width="12" height="10" viewBox="0 0 12 10"><rect x="0.7" y="0.7" width="10.6" height="8.6" rx="1.2" fill="none" stroke="#555" stroke-width="1.2"/><path d="M3 4 V3 H4.2 M7.8 3 H9 V4 M9 6 V7 H7.8 M4.2 7 H3 V6" fill="none" stroke="#555" stroke-width="1"/></svg>
<div style="left:802px;top:180px;width:472px;height:378px;background:#fff;border:1px solid #e2e2e2;border-radius:4px;box-shadow:0 2px 10px rgba(0,0,0,.16), 0 0 3px rgba(0,0,0,.08);"></div>
<svg style="left:1243px;top:172.7px" width="16" height="9"><path d="M0.5 8.6 L8 1 L15.5 8.6" fill="#fff" stroke="#e2e2e2" stroke-width="1"/><rect x="1" y="7.6" width="14" height="1.4" fill="#fff"/></svg>
<span style="left:819.00px;top:202.46px;font-size:14px;color:#222;letter-spacing:-0.077px;">Color by</span>
<div style="left:1022.3px;top:197px;width:234.5px;height:32px;background:#fff;border:1px solid #dcdcdc;border-radius:3px;"></div>
<span style="left:1035.30px;top:202.16px;font-size:14px;color:#222;letter-spacing:-0.789px;">Tag</span>
<svg style="left:1238.2px;top:210.4px" width="7" height="5"><path d="M0 0 L7 0 L3.5 4.4 Z" fill="#a4a4a4"/></svg>
<span style="left:819.00px;top:250.46px;font-size:14px;color:#222;letter-spacing:-0.641px;">Tag name</span>
<div style="left:1022.3px;top:245px;width:234.5px;height:32px;background:#fff;border:1px solid #dcdcdc;border-radius:3px;"></div>
<span style="left:1035.30px;top:250.16px;font-size:14px;color:#222;letter-spacing:-0.034px;">TM-BP2-CONC.1</span>
<svg style="left:1238.2px;top:258.4px" width="7" height="5"><path d="M0 0 L7 0 L3.5 4.4 Z" fill="#a4a4a4"/></svg>
<span style="left:819.00px;top:298.36px;font-size:14px;color:#222;letter-spacing:0.094px;">Coloring</span>
<div style="left:1022.3px;top:293px;width:234.5px;height:32px;background:#fff;border:1px solid #dcdcdc;border-radius:3px;"></div>
<span style="left:1035.30px;top:298.16px;font-size:14px;color:#222;letter-spacing:0.038px;">Conditions</span>
<svg style="left:1238.2px;top:306.4px" width="7" height="5"><path d="M0 0 L7 0 L3.5 4.4 Z" fill="#a4a4a4"/></svg>
<div style="left:804px;top:341px;width:468.5px;height:1px;background:#e2e2e2;"></div>
<div style="left:843.3px;top:358px;width:353px;height:32px;background:#fafafa;border:1px solid #ececec;border-radius:3px;"></div>
<span style="left:856.30px;top:363.16px;font-size:14px;color:#777;letter-spacing:0.082px;">Unconditioned</span>
<svg style="left:1177.7px;top:371.4px" width="7" height="5"><path d="M0 0 L7 0 L3.5 4.4 Z" fill="#d0d0d0"/></svg>
<div style="left:843.3px;top:398px;width:174px;height:32px;background:#fff;border:1px solid #dcdcdc;border-radius:3px;"></div>
<span style="left:856.30px;top:403.16px;font-size:14px;color:#222;letter-spacing:-0.010px;">Greater than</span>
<svg style="left:998.7px;top:411.4px" width="7" height="5"><path d="M0 0 L7 0 L3.5 4.4 Z" fill="#a4a4a4"/></svg>
<div style="left:1022.3px;top:398px;width:174px;height:32px;background:#fff;border:1px solid #dcdcdc;border-radius:3px;"></div>
<span style="left:1034.30px;top:403.56px;font-size:14px;color:#222;letter-spacing:-0.278px;">30</span>
<div style="left:821.5px;top:411.5px;width:10.5px;height:1.2px;background:#b2b2b2;"></div>
<div style="left:821.5px;top:415.3px;width:10.5px;height:1.2px;background:#b2b2b2;"></div>
<svg style="left:1243.5px;top:408.6px" width="11" height="11"><path d="M1 1 L10 10 M10 1 L1 10" stroke="#222" stroke-width="1.3"/></svg>
<div style="left:843.3px;top:438px;width:174px;height:32px;background:#fff;border:1px solid #dcdcdc;border-radius:3px;"></div>
<span style="left:856.30px;top:443.16px;font-size:14px;color:#222;letter-spacing:-0.010px;">Greater than</span>
<svg style="left:998.7px;top:451.4px" width="7" height="5"><path d="M0 0 L7 0 L3.5 4.4 Z" fill="#a4a4a4"/></svg>
<div style="left:1022.3px;top:438px;width:174px;height:32px;background:#fff;border:1px solid #dcdcdc;border-radius:3px;"></div>
<span style="left:1034.30px;top:443.56px;font-size:14px;color:#222;letter-spacing:-0.278px;">20</span>
<div style="left:821.5px;top:451.5px;width:10.5px;height:1.2px;background:#b2b2b2;"></div>
<div style="left:821.5px;top:455.3px;width:10.5px;height:1.2px;background:#b2b2b2;"></div>
<svg style="left:1243.5px;top:448.6px" width="11" height="11"><path d="M1 1 L10 10 M10 1 L1 10" stroke="#222" stroke-width="1.3"/></svg>
<div style="left:843.3px;top:478px;width:174px;height:32px;background:#fff;border:1px solid #dcdcdc;border-radius:3px;"></div>
<span style="left:856.30px;top:483.16px;font-size:14px;color:#222;letter-spacing:-0.010px;">Greater than</span>
<svg style="left:998.7px;top:491.4px" width="7" height="5"><path d="M0 0 L7 0 L3.5 4.4 Z" fill="#a4a4a4"/></svg>
<div style="left:1022.3px;top:478px;width:174px;height:32px;background:#fff;border:1px solid #dcdcdc;border-radius:3px;"></div>
<span style="left:1034.30px;top:483.56px;font-size:14px;color:#222;letter-spacing:-0.278px;">10</span>
<div style="left:821.5px;top:491.5px;width:10.5px;height:1.2px;background:#b2b2b2;"></div>
<div style="left:821.5px;top:495.3px;width:10.5px;height:1.2px;background:#b2b2b2;"></div>
<svg style="left:1243.5px;top:488.6px" width="11" height="11"><path d="M1 1 L10 10 M10 1 L1 10" stroke="#222" stroke-width="1.3"/></svg>
<div style="left:1201.3px;top:358px;width:30.6px;height:32px;background:#fff;border:1px solid #dcdcdc;border-radius:3px;"></div>
<div style="left:1201.3px;top:398px;width:30.6px;height:32px;background:#fff;border:1px solid #dcdcdc;border-radius:3px;"></div>
<div style="left:1201.3px;top:438px;width:30.6px;height:32px;background:#fff;border:1px solid #dcdcdc;border-radius:3px;"></div>
<div style="left:1201.3px;top:478px;width:30.6px;height:32px;background:#fff;border:1px solid #dcdcdc;border-radius:3px;"></div>
<div style="left:1206px;top:362.7px;width:22px;height:22px;background:#1e1e1e;border-radius:11px;"></div>
<svg style="left:1203.5px;top:404.5px" width="27" height="19" viewBox="0 0 27 19"><path d="M6 18.3 A5.2 5.2 0 0 1 5.1 8 A8.3 8.3 0 0 1 20.8 6.6 A6 6 0 0 1 21.2 18.3 Z" fill="#2b968a"/></svg>
<svg style="left:1206px;top:443.5px" width="22" height="19" viewBox="0 0 22 19"><g fill="#80bdf7"><path d="M4.6 0.4 H8.6 L6.6 5.6 H0.6 Z"/><path d="M9.8 0.4 H12.2 L14.2 5.6 H7.8 Z"/><path d="M13.4 0.4 H17.4 L21.4 5.6 H15.4 Z"/><path d="M0.8 6.8 H6.6 L10.2 17.6 Z"/><path d="M7.9 6.8 H14.1 L11 18.4 Z"/><path d="M15.4 6.8 H21.2 L11.8 17.6 Z"/></g></svg>
<div style="left:1206px;top:483px;width:22px;height:22px;background:#f9c67a;border-radius:11px;"></div>
<svg style="left:820px;top:523.5px" width="18" height="14" viewBox="0 0 18 14"><path d="M0.5 2 H11 M0.5 6 H11 M0.5 10 H7 M13.4 6.4 V13.6 M9.8 10 H17" fill="none" stroke="#1f57b5" stroke-width="1.9"/></svg>
<span style="left:843.00px;top:520.36px;font-size:14px;color:#1f57b5;letter-spacing:0.055px;">Add condition</span>
<svg style="left:0;top:0" width="1380" height="900" viewBox="0 0 1380 900"><rect x="802" y="286" width="462.6" height="36.9" fill="none" stroke="#6a14f4" stroke-width="2" stroke-dasharray="11.8 4.3" stroke-dashoffset="6"/><rect x="809.6" y="392" width="34.6" height="118.2" fill="none" stroke="#6a14f4" stroke-width="2" stroke-dasharray="11.8 4.3" stroke-dashoffset="6"/><rect x="1198.7" y="349.9" width="34.8" height="160.3" fill="none" stroke="#6a14f4" stroke-width="2" stroke-dasharray="11.8 4.3" stroke-dashoffset="6"/><path d="M616 305 L802.5 305 M795.2 310.7 L802.5 305 L795.2 299.3" fill="none" stroke="#6a14f4" stroke-width="2"/><path d="M624 519.5 L811 423.8 M807.1 432.2 L811 423.8 L801.9 422.1" fill="none" stroke="#6a14f4" stroke-width="2"/><path d="M1188.3 606 L1205.2 510.6 M1209.5 518.8 L1205.2 510.6 L1198.3 516.8" fill="none" stroke="#6a14f4" stroke-width="2"/></svg>
<div style="left:311px;top:289px;width:306.6px;height:32px;background:#fff;border:2px solid #6a14f4;border-radius:6px;"></div>
<span style="left:357.00px;top:295.38px;font-size:15.5px;color:#6a14f4;font-weight:700;letter-spacing:-0.290px;">Gradient or Condition selector</span>
<div style="left:251px;top:510.8px;width:374.2px;height:32px;background:#fff;border:2px solid #6a14f4;border-radius:6px;"></div>
<span style="left:288.60px;top:517.18px;font-size:15.5px;color:#6a14f4;font-weight:700;letter-spacing:-0.486px;">Easily change sequence of condition check</span>
<div style="left:1023.8px;top:605.1px;width:241.4px;height:32px;background:#fff;border:2px solid #6a14f4;border-radius:6px;"></div>
<span style="left:1065.20px;top:611.48px;font-size:15.5px;color:#6a14f4;font-weight:700;letter-spacing:-0.512px;">Select color and shape</span>
</body></html>
